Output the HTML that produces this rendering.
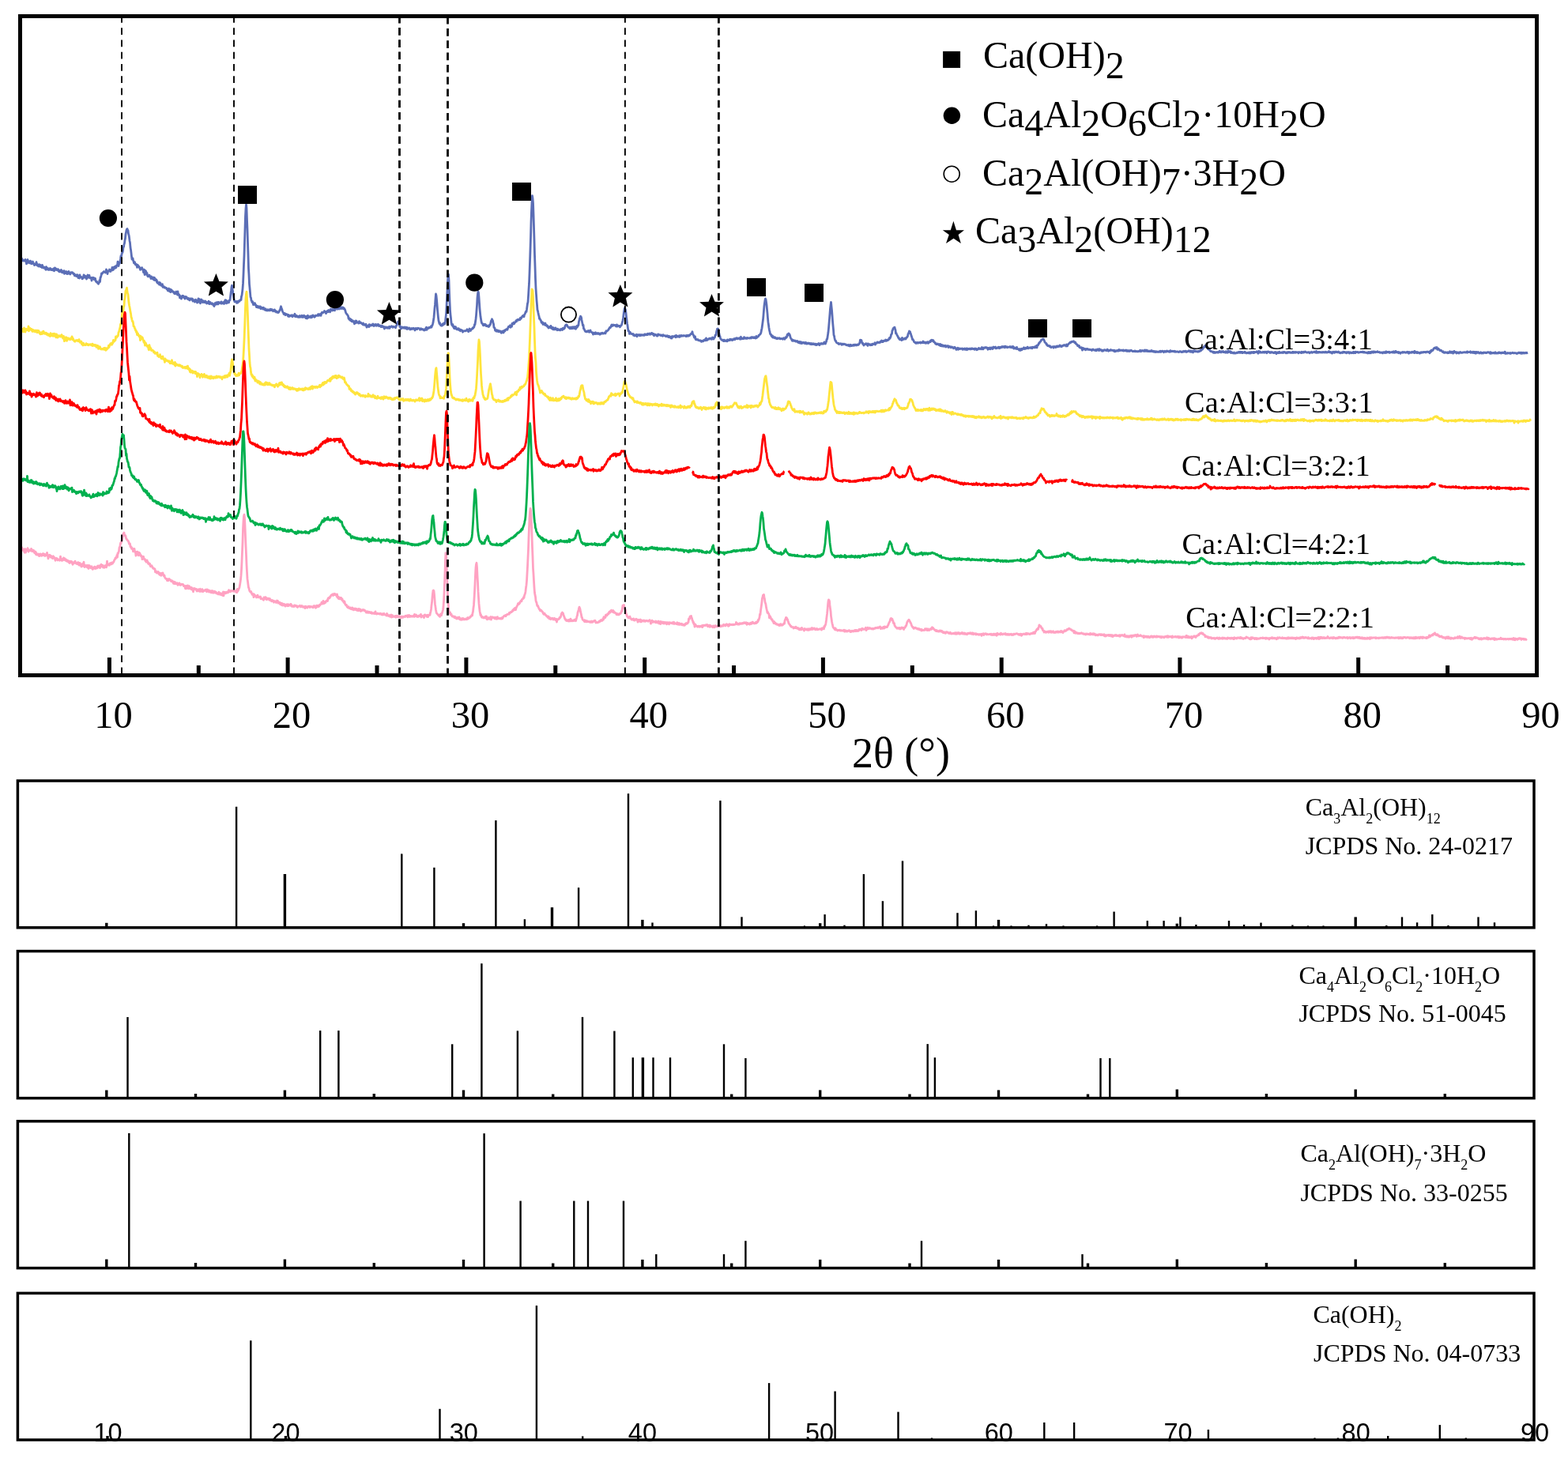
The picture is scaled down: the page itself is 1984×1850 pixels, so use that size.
<!DOCTYPE html>
<html><head><meta charset="utf-8"><title>XRD patterns</title>
<style>html,body{margin:0;padding:0;background:#fff;}svg{display:block;}</style>
</head><body>
<svg xmlns="http://www.w3.org/2000/svg" width="1984" height="1850" viewBox="0 0 1984 1850">
<rect width="1984" height="1850" fill="#fff"/>
<polyline points="26.0,325.5 26.5,326.2 27.0,326.4 27.5,327.9 28.0,327.7 28.5,328.5 29.0,329.8 29.5,330.2 30.0,330.1 30.5,329.4 31.0,329.4 31.5,329.6 32.0,328.4 32.5,331.0 33.0,330.2 33.5,333.9 34.0,332.0 34.5,329.5 35.0,328.5 35.5,332.3 36.0,330.7 36.5,330.6 37.0,331.1 37.5,332.8 38.0,332.0 38.5,330.1 39.0,331.9 39.5,333.7 40.0,333.8 40.5,333.6 41.0,332.7 41.5,331.0 42.0,333.5 42.5,333.2 43.0,333.7 43.5,335.6 44.0,334.1 44.5,334.4 45.0,334.9 45.5,334.1 46.0,331.7 46.5,333.9 47.0,335.9 47.5,335.8 48.0,334.9 48.5,337.0 49.0,336.1 49.5,334.6 50.0,337.1 50.5,336.5 51.0,335.3 51.5,337.7 52.0,336.9 52.5,337.1 53.0,338.5 53.5,335.5 54.0,336.8 54.5,338.1 55.0,339.1 55.5,338.3 56.0,338.1 56.5,338.3 57.0,339.5 57.5,340.6 58.0,341.3 58.5,337.7 59.0,339.9 59.5,339.9 60.0,339.3 60.5,341.1 61.0,341.4 61.5,340.0 62.0,340.3 62.5,341.4 63.0,340.4 63.5,339.4 64.0,341.0 64.5,340.1 65.0,341.6 65.5,340.7 66.0,341.0 66.5,341.8 67.0,341.0 67.5,340.3 68.0,339.8 68.5,342.8 69.0,342.0 69.5,339.0 70.0,339.5 70.5,341.3 71.0,340.0 71.5,340.7 72.0,341.7 72.5,341.0 73.0,340.8 73.5,340.6 74.0,343.0 74.5,342.0 75.0,343.8 75.5,343.3 76.0,342.2 76.5,343.7 77.0,343.1 77.5,341.5 78.0,343.3 78.5,344.7 79.0,343.0 79.5,344.8 80.0,343.5 80.5,343.9 81.0,342.6 81.5,346.3 82.0,344.5 82.5,345.2 83.0,343.7 83.5,345.5 84.0,345.8 84.5,343.8 85.0,346.7 85.5,344.8 86.0,344.6 86.5,344.5 87.0,343.5 87.5,346.4 88.0,345.6 88.5,345.8 89.0,347.0 89.5,345.0 90.0,344.7 90.5,345.0 91.0,344.6 91.5,344.6 92.0,345.4 92.5,346.0 93.0,346.8 93.5,346.2 94.0,347.7 94.5,348.9 95.0,348.1 95.5,349.0 96.0,347.7 96.5,349.2 97.0,349.6 97.5,348.5 98.0,347.7 98.5,349.3 99.0,351.7 99.5,351.4 100.0,349.6 100.5,352.1 101.0,347.9 101.5,350.4 102.0,350.3 102.5,350.6 103.0,350.5 103.5,351.0 104.0,352.9 104.5,350.9 105.0,352.3 105.5,350.8 106.0,347.9 106.5,348.2 107.0,350.8 107.5,351.3 108.0,349.4 108.5,350.0 109.0,349.7 109.5,353.0 110.0,349.7 110.5,350.0 111.0,348.0 111.5,349.3 112.0,351.3 112.5,349.8 113.0,348.4 113.5,351.2 114.0,351.7 114.5,352.0 115.0,352.3 115.5,351.4 116.0,355.1 116.5,351.7 117.0,352.9 117.5,351.3 118.0,352.2 118.5,351.5 119.0,353.6 119.5,353.2 120.0,352.9 120.5,352.3 121.0,355.5 121.5,356.2 122.0,356.7 122.5,356.2 123.0,357.5 123.5,358.1 124.0,358.0 124.5,359.2 125.0,357.7 125.5,357.6 126.0,354.6 126.5,356.6 127.0,351.5 127.5,350.5 128.0,348.9 128.5,345.8 129.0,345.8 129.5,346.2 130.0,345.0 130.5,344.5 131.0,344.2 131.5,343.6 132.0,344.0 132.5,344.4 133.0,344.4 133.5,345.0 134.0,343.7 134.5,340.9 135.0,344.3 135.5,343.6 136.0,346.6 136.5,343.0 137.0,343.2 137.5,342.9 138.0,343.1 138.5,341.0 139.0,341.8 139.5,341.9 140.0,343.5 140.5,341.3 141.0,341.7 141.5,340.7 142.0,338.4 142.5,341.8 143.0,341.0 143.5,341.3 144.0,338.2 144.5,339.7 145.0,339.4 145.5,337.1 146.0,339.2 146.5,337.7 147.0,338.6 147.5,335.8 148.0,336.3 148.5,336.0 149.0,331.1 149.5,335.7 150.0,336.5 150.5,334.0 151.0,333.6 151.5,333.1 152.0,330.4 152.5,327.5 153.0,323.8 153.5,324.6 154.0,321.9 154.5,319.9 155.0,319.5 155.5,317.4 156.0,312.7 156.5,312.6 157.0,309.3 157.5,307.9 158.0,303.8 158.5,301.8 159.0,296.5 159.5,293.9 160.0,291.2 160.5,290.0 161.0,289.5 161.5,292.2 162.0,291.4 162.5,295.6 163.0,297.3 163.5,300.3 164.0,304.7 164.5,307.0 165.0,313.0 165.5,315.9 166.0,319.9 166.5,324.3 167.0,328.1 167.5,327.2 168.0,326.7 168.5,329.5 169.0,330.8 169.5,332.9 170.0,332.1 170.5,331.7 171.0,334.3 171.5,334.9 172.0,333.9 172.5,334.9 173.0,335.4 173.5,338.3 174.0,335.1 174.5,335.7 175.0,336.6 175.5,337.9 176.0,337.3 176.5,338.7 177.0,339.6 177.5,341.3 178.0,339.4 178.5,339.6 179.0,340.0 179.5,338.6 180.0,339.6 180.5,341.4 181.0,341.6 181.5,344.5 182.0,343.3 182.5,341.1 183.0,347.5 183.5,342.1 184.0,342.7 184.5,343.0 185.0,344.2 185.5,347.4 186.0,345.3 186.5,348.7 187.0,349.7 187.5,348.6 188.0,348.8 188.5,349.9 189.0,348.2 189.5,349.0 190.0,350.1 190.5,350.8 191.0,352.5 191.5,349.9 192.0,352.2 192.5,351.5 193.0,352.6 193.5,351.5 194.0,350.9 194.5,354.0 195.0,353.4 195.5,351.3 196.0,354.5 196.5,353.1 197.0,354.5 197.5,355.0 198.0,354.0 198.5,357.0 199.0,355.7 199.5,358.4 200.0,357.6 200.5,358.0 201.0,358.1 201.5,360.2 202.0,357.5 202.5,358.1 203.0,358.6 203.5,360.9 204.0,361.2 204.5,360.6 205.0,361.2 205.5,359.7 206.0,363.3 206.5,362.0 207.0,362.7 207.5,362.7 208.0,364.0 208.5,363.4 209.0,364.1 209.5,364.4 210.0,364.2 210.5,364.4 211.0,365.8 211.5,366.1 212.0,366.8 212.5,367.9 213.0,365.5 213.5,365.1 214.0,366.8 214.5,368.7 215.0,367.6 215.5,366.0 216.0,369.6 216.5,368.7 217.0,366.9 217.5,367.8 218.0,368.9 218.5,368.5 219.0,369.1 219.5,370.0 220.0,369.8 220.5,371.4 221.0,370.0 221.5,371.9 222.0,370.1 222.5,369.8 223.0,369.1 223.5,370.6 224.0,371.8 224.5,373.0 225.0,369.0 225.5,372.6 226.0,372.0 226.5,374.0 227.0,373.2 227.5,376.9 228.0,376.1 228.5,374.8 229.0,374.8 229.5,378.0 230.0,375.8 230.5,375.5 231.0,374.3 231.5,375.7 232.0,374.5 232.5,376.4 233.0,376.8 233.5,376.4 234.0,378.1 234.5,375.3 235.0,376.9 235.5,376.7 236.0,375.7 236.5,377.4 237.0,378.0 237.5,378.5 238.0,377.5 238.5,378.4 239.0,377.4 239.5,379.6 240.0,380.0 240.5,378.6 241.0,378.8 241.5,377.8 242.0,378.9 242.5,378.7 243.0,379.4 243.5,378.0 244.0,381.1 244.5,379.8 245.0,380.8 245.5,380.4 246.0,379.8 246.5,382.1 247.0,381.5 247.5,379.2 248.0,380.8 248.5,380.7 249.0,380.3 249.5,383.1 250.0,380.0 250.5,382.5 251.0,377.8 251.5,382.2 252.0,380.3 252.5,378.6 253.0,380.8 253.5,383.8 254.0,379.6 254.5,381.4 255.0,379.0 255.5,381.7 256.0,381.4 256.5,382.6 257.0,380.8 257.5,382.2 258.0,381.0 258.5,382.5 259.0,382.1 259.5,382.8 260.0,381.0 260.5,382.8 261.0,382.9 261.5,384.0 262.0,382.5 262.5,382.8 263.0,383.7 263.5,383.8 264.0,381.2 264.5,383.4 265.0,384.6 265.5,383.7 266.0,382.5 266.5,384.0 267.0,384.4 267.5,383.6 268.0,384.7 268.5,383.7 269.0,384.5 269.5,384.8 270.0,386.4 270.5,385.1 271.0,387.6 271.5,384.9 272.0,383.6 272.5,383.5 273.0,385.2 273.5,382.9 274.0,382.7 274.5,384.8 275.0,383.1 275.5,382.6 276.0,384.9 276.5,382.4 277.0,383.6 277.5,382.9 278.0,382.9 278.5,382.8 279.0,383.6 279.5,384.1 280.0,381.9 280.5,384.2 281.0,382.8 281.5,382.9 282.0,383.7 282.5,382.7 283.0,382.3 283.5,384.5 284.0,382.5 284.5,381.0 285.0,379.8 285.5,383.0 286.0,379.8 286.5,383.9 287.0,381.2 287.5,381.0 288.0,382.0 288.5,383.0 289.0,382.9 289.5,382.9 290.0,380.2 290.5,380.1 291.0,379.8 291.5,375.7 292.0,371.5 292.5,367.7 293.0,363.0 293.5,361.1 294.0,364.9 294.5,368.0 295.0,372.2 295.5,375.6 296.0,378.4 296.5,380.7 297.0,381.8 297.5,381.1 298.0,381.5 298.5,382.0 299.0,381.5 299.5,383.4 300.0,381.5 300.5,382.4 301.0,383.0 301.5,381.0 302.0,380.8 302.5,381.0 303.0,381.2 303.5,380.3 304.0,379.5 304.5,379.7 305.0,379.5 305.5,375.0 306.0,373.8 306.5,369.8 307.0,365.6 307.5,358.9 308.0,347.6 308.5,334.9 309.0,323.4 309.5,306.7 310.0,290.2 310.5,273.5 311.0,264.0 311.5,258.6 312.0,263.7 312.5,278.3 313.0,290.2 313.5,306.9 314.0,322.4 314.5,340.0 315.0,347.9 315.5,359.3 316.0,364.3 316.5,370.2 317.0,376.0 317.5,376.7 318.0,380.3 318.5,380.5 319.0,382.7 319.5,381.6 320.0,382.6 320.5,385.6 321.0,385.1 321.5,384.3 322.0,385.2 322.5,383.6 323.0,386.1 323.5,385.6 324.0,386.2 324.5,388.7 325.0,387.2 325.5,387.5 326.0,387.4 326.5,389.2 327.0,389.3 327.5,388.3 328.0,387.8 328.5,389.2 329.0,389.6 329.5,387.9 330.0,390.7 330.5,389.0 331.0,389.9 331.5,389.2 332.0,389.4 332.5,391.0 333.0,390.4 333.5,389.3 334.0,391.1 334.5,391.7 335.0,391.1 335.5,392.3 336.0,390.8 336.5,392.5 337.0,392.0 337.5,392.0 338.0,393.0 338.5,392.5 339.0,391.6 339.5,392.2 340.0,392.8 340.5,392.2 341.0,392.9 341.5,392.8 342.0,391.2 342.5,391.7 343.0,392.5 343.5,392.5 344.0,391.5 344.5,392.4 345.0,392.6 345.5,393.7 346.0,392.8 346.5,392.7 347.0,392.0 347.5,392.0 348.0,394.2 348.5,393.7 349.0,393.5 349.5,395.0 350.0,394.8 350.5,394.5 351.0,395.4 351.5,394.6 352.0,395.6 352.5,395.3 353.0,394.3 353.5,393.7 354.0,392.3 354.5,392.1 355.0,389.6 355.5,387.8 356.0,389.5 356.5,390.8 357.0,392.3 357.5,394.2 358.0,395.0 358.5,395.7 359.0,397.5 359.5,396.3 360.0,396.3 360.5,396.7 361.0,398.7 361.5,397.3 362.0,398.1 362.5,397.8 363.0,397.6 363.5,398.4 364.0,398.5 364.5,400.2 365.0,398.4 365.5,399.0 366.0,400.5 366.5,400.1 367.0,399.5 367.5,399.8 368.0,399.1 368.5,399.9 369.0,399.5 369.5,398.7 370.0,400.8 370.5,399.5 371.0,400.0 371.5,399.2 372.0,398.8 372.5,398.4 373.0,397.3 373.5,400.6 374.0,398.9 374.5,400.0 375.0,400.6 375.5,399.5 376.0,400.4 376.5,401.1 377.0,400.6 377.5,401.3 378.0,400.2 378.5,401.2 379.0,401.3 379.5,399.5 380.0,401.1 380.5,400.1 381.0,400.2 381.5,400.9 382.0,399.3 382.5,401.2 383.0,400.1 383.5,401.4 384.0,400.8 384.5,399.2 385.0,400.4 385.5,401.1 386.0,400.2 386.5,400.6 387.0,402.6 387.5,401.1 388.0,400.3 388.5,403.0 389.0,400.4 389.5,399.3 390.0,402.0 390.5,400.8 391.0,401.5 391.5,401.1 392.0,400.4 392.5,400.6 393.0,400.1 393.5,402.0 394.0,401.3 394.5,399.6 395.0,401.3 395.5,400.8 396.0,398.9 396.5,399.4 397.0,400.2 397.5,400.0 398.0,401.3 398.5,399.6 399.0,400.3 399.5,399.1 400.0,399.3 400.5,399.4 401.0,399.3 401.5,399.4 402.0,399.2 402.5,397.7 403.0,399.4 403.5,397.8 404.0,399.1 404.5,398.7 405.0,398.5 405.5,397.1 406.0,399.4 406.5,397.6 407.0,396.3 407.5,395.2 408.0,395.2 408.5,395.9 409.0,395.6 409.5,395.1 410.0,394.8 410.5,393.5 411.0,394.7 411.5,394.5 412.0,394.5 412.5,396.6 413.0,394.6 413.5,394.1 414.0,394.2 414.5,393.2 415.0,394.7 415.5,394.4 416.0,392.5 416.5,393.8 417.0,393.4 417.5,394.9 418.0,393.6 418.5,391.1 419.0,391.8 419.5,392.8 420.0,392.4 420.5,392.9 421.0,391.5 421.5,391.7 422.0,392.6 422.5,391.7 423.0,391.0 423.5,392.9 424.0,390.6 424.5,390.7 425.0,389.6 425.5,390.5 426.0,388.6 426.5,391.3 427.0,387.9 427.5,390.6 428.0,389.0 428.5,390.1 429.0,391.0 429.5,389.7 430.0,390.1 430.5,389.1 431.0,389.3 431.5,390.6 432.0,388.8 432.5,390.2 433.0,389.6 433.5,389.1 434.0,390.5 434.5,389.3 435.0,390.9 435.5,390.1 436.0,391.7 436.5,391.7 437.0,393.8 437.5,395.3 438.0,396.4 438.5,396.9 439.0,397.7 439.5,398.2 440.0,399.2 440.5,399.7 441.0,403.0 441.5,402.1 442.0,404.4 442.5,403.6 443.0,403.4 443.5,405.7 444.0,404.4 444.5,404.4 445.0,406.8 445.5,406.6 446.0,406.4 446.5,405.8 447.0,407.4 447.5,406.5 448.0,406.9 448.5,409.8 449.0,407.2 449.5,406.9 450.0,405.9 450.5,408.6 451.0,406.2 451.5,407.5 452.0,407.6 452.5,408.0 453.0,408.2 453.5,409.0 454.0,408.4 454.5,406.6 455.0,408.8 455.5,407.9 456.0,408.6 456.5,408.0 457.0,408.9 457.5,409.0 458.0,409.9 458.5,409.9 459.0,410.5 459.5,408.9 460.0,411.2 460.5,410.0 461.0,410.9 461.5,411.3 462.0,411.5 462.5,411.0 463.0,410.2 463.5,412.0 464.0,414.2 464.5,413.6 465.0,412.5 465.5,412.8 466.0,412.3 466.5,411.3 467.0,413.6 467.5,410.6 468.0,411.3 468.5,411.4 469.0,412.1 469.5,411.1 470.0,411.2 470.5,411.0 471.0,411.8 471.5,410.3 472.0,409.9 472.5,410.5 473.0,412.5 473.5,412.2 474.0,411.9 474.5,411.2 475.0,410.5 475.5,411.9 476.0,410.7 476.5,412.2 477.0,411.7 477.5,410.6 478.0,411.8 478.5,410.4 479.0,411.3 479.5,412.6 480.0,411.6 480.5,412.0 481.0,411.9 481.5,412.2 482.0,413.5 482.5,413.3 483.0,413.5 483.5,412.2 484.0,413.3 484.5,413.1 485.0,413.9 485.5,413.1 486.0,414.7 486.5,416.0 487.0,414.2 487.5,413.8 488.0,414.8 488.5,414.3 489.0,414.0 489.5,415.0 490.0,414.1 490.5,414.3 491.0,415.2 491.5,414.3 492.0,414.5 492.5,413.3 493.0,415.4 493.5,413.5 494.0,414.0 494.5,413.6 495.0,413.5 495.5,412.6 496.0,413.3 496.5,413.5 497.0,414.4 497.5,413.6 498.0,413.2 498.5,413.7 499.0,413.7 499.5,413.6 500.0,413.8 500.5,414.7 501.0,413.3 501.5,411.9 502.0,411.4 502.5,410.1 503.0,408.1 503.5,407.2 504.0,407.4 504.5,406.5 505.0,409.0 505.5,411.4 506.0,413.6 506.5,412.8 507.0,415.3 507.5,415.9 508.0,415.8 508.5,415.1 509.0,413.9 509.5,414.4 510.0,414.2 510.5,414.7 511.0,415.2 511.5,414.9 512.0,413.9 512.5,415.3 513.0,415.5 513.5,414.1 514.0,414.2 514.5,414.7 515.0,416.5 515.5,414.5 516.0,416.1 516.5,415.5 517.0,416.0 517.5,415.0 518.0,414.9 518.5,415.8 519.0,417.0 519.5,416.2 520.0,416.6 520.5,415.5 521.0,415.4 521.5,415.9 522.0,416.4 522.5,416.1 523.0,415.3 523.5,416.1 524.0,416.3 524.5,416.0 525.0,418.0 525.5,415.7 526.0,415.4 526.5,416.5 527.0,415.7 527.5,415.9 528.0,416.6 528.5,415.2 529.0,415.5 529.5,415.4 530.0,415.5 530.5,415.6 531.0,415.9 531.5,417.2 532.0,416.3 532.5,415.8 533.0,416.6 533.5,416.3 534.0,417.0 534.5,416.9 535.0,416.5 535.5,416.9 536.0,417.5 536.5,418.0 537.0,416.9 537.5,417.8 538.0,417.5 538.5,415.7 539.0,416.2 539.5,414.1 540.0,417.4 540.5,415.8 541.0,415.1 541.5,415.5 542.0,414.9 542.5,415.2 543.0,414.3 543.5,414.7 544.0,414.2 544.5,414.0 545.0,414.2 545.5,412.7 546.0,414.1 546.5,412.3 547.0,411.8 547.5,410.2 548.0,408.2 548.5,404.9 549.0,401.7 549.5,395.9 550.0,389.9 550.5,385.4 551.0,378.2 551.5,372.0 552.0,374.1 552.5,378.9 553.0,384.9 553.5,391.8 554.0,397.0 554.5,401.8 555.0,405.9 555.5,407.7 556.0,409.6 556.5,408.6 557.0,410.2 557.5,411.6 558.0,411.1 558.5,412.1 559.0,411.0 559.5,412.0 560.0,409.8 560.5,410.5 561.0,411.0 561.5,409.7 562.0,408.6 562.5,409.9 563.0,409.4 563.5,406.4 564.0,401.8 564.5,397.5 565.0,388.6 565.5,377.5 566.0,367.3 566.5,355.3 567.0,347.5 567.5,347.3 568.0,355.1 568.5,370.0 569.0,381.7 569.5,392.6 570.0,398.1 570.5,402.5 571.0,408.1 571.5,410.6 572.0,411.5 572.5,412.2 573.0,410.7 573.5,413.5 574.0,413.1 574.5,415.5 575.0,415.5 575.5,413.5 576.0,415.9 576.5,413.7 577.0,415.7 577.5,415.4 578.0,416.9 578.5,416.0 579.0,415.9 579.5,417.0 580.0,415.7 580.5,415.8 581.0,417.5 581.5,417.1 582.0,417.0 582.5,418.8 583.0,417.3 583.5,417.4 584.0,418.1 584.5,418.2 585.0,418.2 585.5,420.2 586.0,419.6 586.5,419.1 587.0,419.0 587.5,418.6 588.0,418.9 588.5,418.6 589.0,418.7 589.5,418.8 590.0,418.0 590.5,417.9 591.0,416.7 591.5,417.5 592.0,418.3 592.5,419.6 593.0,419.6 593.5,417.9 594.0,416.0 594.5,418.1 595.0,418.0 595.5,418.5 596.0,416.7 596.5,416.8 597.0,416.4 597.5,416.2 598.0,414.9 598.5,415.6 599.0,414.3 599.5,414.2 600.0,413.3 600.5,410.6 601.0,410.8 601.5,407.3 602.0,404.0 602.5,399.3 603.0,392.8 603.5,386.3 604.0,376.6 604.5,371.6 605.0,368.9 605.5,370.3 606.0,376.2 606.5,383.4 607.0,390.6 607.5,396.0 608.0,400.6 608.5,403.5 609.0,406.7 609.5,408.7 610.0,409.2 610.5,409.3 611.0,410.9 611.5,411.8 612.0,410.4 612.5,411.6 613.0,411.2 613.5,410.2 614.0,411.2 614.5,410.8 615.0,412.4 615.5,412.6 616.0,412.3 616.5,412.0 617.0,412.8 617.5,412.8 618.0,413.5 618.5,413.4 619.0,412.9 619.5,410.9 620.0,411.4 620.5,410.4 621.0,407.8 621.5,405.8 622.0,405.7 622.5,403.8 623.0,405.0 623.5,405.7 624.0,408.5 624.5,410.0 625.0,414.5 625.5,414.6 626.0,415.0 626.5,418.0 627.0,417.5 627.5,418.8 628.0,419.2 628.5,417.7 629.0,419.0 629.5,419.2 630.0,418.2 630.5,418.3 631.0,419.8 631.5,419.3 632.0,418.6 632.5,418.9 633.0,419.6 633.5,419.3 634.0,421.1 634.5,421.4 635.0,420.5 635.5,419.6 636.0,419.0 636.5,419.2 637.0,421.0 637.5,420.1 638.0,418.2 638.5,418.2 639.0,418.8 639.5,417.4 640.0,417.0 640.5,417.2 641.0,417.0 641.5,416.1 642.0,417.2 642.5,415.3 643.0,414.6 643.5,413.1 644.0,413.2 644.5,413.5 645.0,413.0 645.5,411.7 646.0,414.3 646.5,412.2 647.0,411.7 647.5,413.2 648.0,409.3 648.5,410.5 649.0,409.8 649.5,408.6 650.0,408.0 650.5,409.9 651.0,408.3 651.5,408.2 652.0,407.4 652.5,406.7 653.0,405.8 653.5,406.9 654.0,405.2 654.5,404.7 655.0,404.3 655.5,405.2 656.0,405.1 656.5,404.9 657.0,404.0 657.5,403.7 658.0,404.6 658.5,402.1 659.0,403.5 659.5,402.7 660.0,401.8 660.5,401.1 661.0,400.1 661.5,399.6 662.0,399.4 662.5,399.4 663.0,400.8 663.5,398.0 664.0,397.6 664.5,396.6 665.0,394.9 665.5,394.1 666.0,394.6 666.5,391.5 667.0,387.8 667.5,384.0 668.0,382.3 668.5,375.0 669.0,366.5 669.5,358.7 670.0,346.0 670.5,331.7 671.0,316.4 671.5,300.8 672.0,281.3 672.5,267.3 673.0,256.5 673.5,247.6 674.0,250.8 674.5,256.8 675.0,270.7 675.5,286.7 676.0,303.6 676.5,322.4 677.0,336.9 677.5,353.3 678.0,364.7 678.5,372.5 679.0,380.0 679.5,385.7 680.0,392.2 680.5,393.4 681.0,396.1 681.5,398.3 682.0,400.0 682.5,403.2 683.0,403.0 683.5,404.4 684.0,405.0 684.5,405.8 685.0,408.0 685.5,408.5 686.0,408.1 686.5,407.8 687.0,410.5 687.5,409.3 688.0,409.0 688.5,409.4 689.0,410.4 689.5,411.2 690.0,409.0 690.5,411.6 691.0,411.6 691.5,412.3 692.0,411.6 692.5,413.2 693.0,412.4 693.5,413.9 694.0,415.0 694.5,413.8 695.0,414.1 695.5,414.3 696.0,413.1 696.5,414.9 697.0,412.4 697.5,413.2 698.0,415.2 698.5,415.9 699.0,415.0 699.5,414.6 700.0,416.9 700.5,414.9 701.0,416.9 701.5,416.1 702.0,415.6 702.5,416.7 703.0,414.9 703.5,416.2 704.0,416.7 704.5,416.8 705.0,417.8 705.5,416.2 706.0,417.3 706.5,416.8 707.0,417.5 707.5,417.3 708.0,417.8 708.5,416.9 709.0,417.9 709.5,416.9 710.0,416.3 710.5,416.7 711.0,416.7 711.5,417.5 712.0,415.5 712.5,416.2 713.0,415.1 713.5,416.3 714.0,415.8 714.5,415.0 715.0,412.6 715.5,411.7 716.0,411.2 716.5,410.8 717.0,411.3 717.5,411.4 718.0,412.9 718.5,413.4 719.0,413.9 719.5,414.4 720.0,414.0 720.5,415.4 721.0,415.7 721.5,415.1 722.0,414.3 722.5,415.7 723.0,414.0 723.5,415.5 724.0,415.4 724.5,415.6 725.0,413.6 725.5,415.1 726.0,414.5 726.5,415.5 727.0,415.1 727.5,413.5 728.0,415.4 728.5,416.2 729.0,415.1 729.5,415.1 730.0,412.5 730.5,413.8 731.0,412.0 731.5,412.2 732.0,410.9 732.5,406.7 733.0,405.3 733.5,402.4 734.0,402.1 734.5,400.1 735.0,400.9 735.5,401.6 736.0,404.8 736.5,407.2 737.0,409.5 737.5,412.0 738.0,411.1 738.5,415.9 739.0,415.9 739.5,417.2 740.0,418.3 740.5,419.2 741.0,419.6 741.5,419.4 742.0,419.5 742.5,419.9 743.0,418.9 743.5,419.5 744.0,419.0 744.5,418.4 745.0,418.8 745.5,420.4 746.0,419.3 746.5,418.7 747.0,417.9 747.5,419.7 748.0,420.0 748.5,420.2 749.0,420.8 749.5,420.9 750.0,420.8 750.5,423.2 751.0,421.1 751.5,421.4 752.0,421.7 752.5,421.3 753.0,422.6 753.5,420.8 754.0,421.1 754.5,421.4 755.0,422.5 755.5,422.4 756.0,422.0 756.5,421.4 757.0,422.3 757.5,422.0 758.0,421.9 758.5,423.0 759.0,423.2 759.5,422.4 760.0,421.8 760.5,422.4 761.0,421.7 761.5,421.4 762.0,421.2 762.5,422.2 763.0,422.2 763.5,421.9 764.0,421.9 764.5,421.8 765.0,421.1 765.5,421.6 766.0,422.0 766.5,420.3 767.0,418.8 767.5,419.3 768.0,418.9 768.5,418.6 769.0,418.3 769.5,417.6 770.0,417.2 770.5,415.9 771.0,415.6 771.5,414.4 772.0,414.0 772.5,414.4 773.0,413.2 773.5,411.8 774.0,411.0 774.5,412.6 775.0,411.5 775.5,411.2 776.0,410.9 776.5,411.7 777.0,411.4 777.5,411.3 778.0,411.4 778.5,411.6 779.0,412.5 779.5,412.1 780.0,413.1 780.5,410.9 781.0,411.8 781.5,413.0 782.0,411.9 782.5,412.3 783.0,412.2 783.5,412.6 784.0,412.7 784.5,413.8 785.0,412.9 785.5,412.1 786.0,411.9 786.5,411.1 787.0,409.5 787.5,407.3 788.0,405.6 788.5,402.7 789.0,398.1 789.5,394.7 790.0,391.7 790.5,389.7 791.0,390.9 791.5,391.9 792.0,395.6 792.5,401.1 793.0,404.6 793.5,409.2 794.0,411.4 794.5,415.6 795.0,418.7 795.5,418.4 796.0,419.5 796.5,422.4 797.0,421.7 797.5,420.5 798.0,421.7 798.5,422.2 799.0,422.4 799.5,422.7 800.0,422.7 800.5,422.8 801.0,422.4 801.5,424.3 802.0,423.5 802.5,424.3 803.0,424.9 803.5,424.0 804.0,423.9 804.5,424.5 805.0,424.2 805.5,423.3 806.0,425.9 806.5,424.5 807.0,423.9 807.5,423.5 808.0,423.9 808.5,424.3 809.0,423.8 809.5,424.8 810.0,423.5 810.5,424.5 811.0,424.5 811.5,423.7 812.0,423.6 812.5,423.7 813.0,424.2 813.5,423.9 814.0,423.7 814.5,424.0 815.0,424.4 815.5,423.2 816.0,422.8 816.5,423.3 817.0,423.2 817.5,423.9 818.0,423.6 818.5,423.0 819.0,422.4 819.5,423.6 820.0,422.3 820.5,422.9 821.0,422.9 821.5,423.0 822.0,422.0 822.5,423.4 823.0,423.1 823.5,422.3 824.0,422.4 824.5,421.4 825.0,421.6 825.5,423.1 826.0,422.3 826.5,423.0 827.0,422.4 827.5,424.8 828.0,423.0 828.5,423.5 829.0,423.8 829.5,423.3 830.0,423.8 830.5,424.2 831.0,424.9 831.5,424.3 832.0,425.1 832.5,423.0 833.0,423.3 833.5,423.2 834.0,423.9 834.5,423.7 835.0,423.8 835.5,424.2 836.0,424.5 836.5,423.8 837.0,424.5 837.5,424.5 838.0,424.5 838.5,425.4 839.0,423.7 839.5,424.5 840.0,424.6 840.5,424.7 841.0,424.8 841.5,424.7 842.0,424.9 842.5,425.7 843.0,425.8 843.5,424.9 844.0,424.7 844.5,425.6 845.0,425.1 845.5,426.4 846.0,426.6 846.5,425.4 847.0,426.9 847.5,426.6 848.0,426.0 848.5,427.2 849.0,427.8 849.5,426.3 850.0,428.1 850.5,425.5 851.0,426.3 851.5,425.7 852.0,426.2 852.5,425.7 853.0,425.9 853.5,425.4 854.0,424.9 854.5,426.0 855.0,426.9 855.5,424.4 856.0,426.1 856.5,425.3 857.0,425.1 857.5,426.1 858.0,425.8 858.5,426.0 859.0,426.0 859.5,424.6 860.0,426.5 860.5,425.0 861.0,425.0 861.5,425.3 862.0,424.4 862.5,425.2 863.0,425.0 863.5,425.0 864.0,424.7 864.5,425.1 865.0,424.7 865.5,424.6 866.0,424.8 866.5,425.0 867.0,425.1 867.5,424.9 868.0,425.5 868.5,424.4 869.0,425.5 869.5,424.4 870.0,424.5 870.5,424.5 871.0,425.3 871.5,424.5 872.0,424.0 872.5,424.7 873.0,423.6 873.5,423.4 874.0,422.8 874.5,422.1 875.0,422.1 875.5,421.1 876.0,419.8 876.5,423.0 877.0,423.2 877.5,424.1 878.0,425.6 878.5,427.1 879.0,426.6 879.5,425.7 880.0,429.0 880.5,429.8 881.0,429.1 881.5,429.9 882.0,429.8 882.5,430.0 883.0,429.6 883.5,430.5 884.0,430.3 884.5,430.7 885.0,431.0 885.5,431.2 886.0,430.7 886.5,431.0 887.0,431.7 887.5,432.3 888.0,431.4 888.5,431.8 889.0,431.8 889.5,431.1 890.0,431.7 890.5,430.8 891.0,430.3 891.5,430.6 892.0,429.7 892.5,430.1 893.0,430.9 893.5,428.0 894.0,430.3 894.5,429.7 895.0,430.4 895.5,429.3 896.0,429.2 896.5,429.0 897.0,428.4 897.5,429.1 898.0,428.2 898.5,428.1 899.0,428.3 899.5,428.2 900.0,429.2 900.5,428.1 901.0,429.1 901.5,427.0 902.0,428.6 902.5,428.1 903.0,429.0 903.5,427.1 904.0,427.3 904.5,426.7 905.0,424.2 905.5,424.1 906.0,423.9 906.5,420.2 907.0,418.5 907.5,416.2 908.0,416.5 908.5,416.0 909.0,417.8 909.5,421.2 910.0,422.4 910.5,425.2 911.0,425.6 911.5,428.3 912.0,428.6 912.5,429.5 913.0,429.9 913.5,430.3 914.0,430.2 914.5,430.3 915.0,431.2 915.5,431.5 916.0,430.1 916.5,431.5 917.0,430.7 917.5,430.6 918.0,431.5 918.5,431.0 919.0,430.9 919.5,431.2 920.0,431.8 920.5,429.9 921.0,431.3 921.5,430.8 922.0,430.7 922.5,430.7 923.0,429.6 923.5,430.5 924.0,429.2 924.5,430.0 925.0,429.4 925.5,429.5 926.0,430.2 926.5,430.6 927.0,429.5 927.5,429.8 928.0,429.9 928.5,429.3 929.0,428.5 929.5,429.0 930.0,429.7 930.5,428.3 931.0,428.3 931.5,427.8 932.0,428.5 932.5,427.8 933.0,428.8 933.5,428.8 934.0,428.0 934.5,428.1 935.0,428.3 935.5,427.7 936.0,428.0 936.5,429.3 937.0,428.3 937.5,426.3 938.0,428.9 938.5,428.1 939.0,427.9 939.5,428.7 940.0,428.6 940.5,428.4 941.0,428.5 941.5,426.7 942.0,428.2 942.5,427.3 943.0,427.6 943.5,428.3 944.0,428.3 944.5,427.9 945.0,427.4 945.5,428.3 946.0,427.5 946.5,427.8 947.0,427.8 947.5,427.9 948.0,428.0 948.5,428.0 949.0,427.8 949.5,427.2 950.0,427.6 950.5,428.1 951.0,426.6 951.5,427.1 952.0,426.7 952.5,426.8 953.0,427.6 953.5,426.9 954.0,426.6 954.5,427.6 955.0,427.2 955.5,427.3 956.0,428.1 956.5,426.4 957.0,425.4 957.5,427.5 958.0,426.1 958.5,426.0 959.0,426.2 959.5,425.8 960.0,424.4 960.5,424.2 961.0,423.7 961.5,423.2 962.0,422.8 962.5,422.0 963.0,420.5 963.5,417.6 964.0,415.5 964.5,411.9 965.0,408.1 965.5,404.3 966.0,398.8 966.5,392.6 967.0,386.7 967.5,383.3 968.0,379.7 968.5,377.9 969.0,378.7 969.5,382.3 970.0,385.9 970.5,391.7 971.0,396.6 971.5,402.8 972.0,408.0 972.5,411.3 973.0,415.0 973.5,417.8 974.0,419.8 974.5,422.5 975.0,423.0 975.5,423.1 976.0,425.2 976.5,424.9 977.0,426.2 977.5,424.9 978.0,427.1 978.5,426.1 979.0,426.7 979.5,427.3 980.0,427.6 980.5,426.8 981.0,428.0 981.5,428.2 982.0,427.8 982.5,428.0 983.0,428.7 983.5,427.8 984.0,428.5 984.5,428.3 985.0,428.2 985.5,427.9 986.0,427.7 986.5,428.7 987.0,428.8 987.5,428.9 988.0,428.4 988.5,428.6 989.0,428.6 989.5,428.7 990.0,428.4 990.5,429.2 991.0,428.2 991.5,427.7 992.0,428.3 992.5,428.1 993.0,429.2 993.5,427.5 994.0,426.8 994.5,427.5 995.0,427.1 995.5,426.4 996.0,423.9 996.5,422.9 997.0,424.2 997.5,422.3 998.0,421.9 998.5,423.7 999.0,423.1 999.5,424.4 1000.0,426.4 1000.5,427.9 1001.0,428.4 1001.5,429.4 1002.0,430.4 1002.5,431.2 1003.0,430.1 1003.5,430.4 1004.0,431.2 1004.5,430.9 1005.0,430.9 1005.5,431.3 1006.0,431.0 1006.5,431.7 1007.0,432.2 1007.5,431.8 1008.0,431.7 1008.5,431.4 1009.0,431.7 1009.5,433.2 1010.0,433.3 1010.5,433.6 1011.0,432.5 1011.5,432.9 1012.0,434.0 1012.5,432.5 1013.0,434.3 1013.5,433.0 1014.0,432.9 1014.5,434.6 1015.0,433.2 1015.5,433.8 1016.0,434.1 1016.5,433.7 1017.0,433.3 1017.5,433.6 1018.0,434.3 1018.5,434.8 1019.0,434.4 1019.5,433.3 1020.0,434.5 1020.5,434.0 1021.0,435.1 1021.5,434.9 1022.0,434.2 1022.5,434.0 1023.0,434.3 1023.5,434.7 1024.0,435.0 1024.5,434.3 1025.0,434.7 1025.5,435.5 1026.0,435.5 1026.5,434.5 1027.0,435.8 1027.5,435.6 1028.0,435.2 1028.5,435.6 1029.0,434.8 1029.5,435.4 1030.0,435.6 1030.5,435.8 1031.0,435.1 1031.5,436.2 1032.0,435.7 1032.5,435.2 1033.0,436.6 1033.5,436.4 1034.0,435.7 1034.5,435.3 1035.0,435.8 1035.5,434.9 1036.0,434.4 1036.5,436.3 1037.0,436.7 1037.5,435.6 1038.0,435.3 1038.5,434.7 1039.0,434.4 1039.5,434.5 1040.0,435.3 1040.5,434.8 1041.0,434.7 1041.5,435.0 1042.0,434.3 1042.5,434.9 1043.0,432.8 1043.5,433.9 1044.0,434.1 1044.5,435.0 1045.0,433.0 1045.5,432.4 1046.0,429.5 1046.5,429.5 1047.0,427.1 1047.5,423.6 1048.0,420.3 1048.5,415.4 1049.0,409.4 1049.5,403.4 1050.0,397.1 1050.5,390.7 1051.0,386.5 1051.5,382.5 1052.0,387.6 1052.5,392.4 1053.0,398.9 1053.5,406.1 1054.0,411.9 1054.5,416.8 1055.0,424.0 1055.5,425.1 1056.0,428.0 1056.5,429.9 1057.0,431.4 1057.5,431.1 1058.0,432.6 1058.5,433.5 1059.0,433.9 1059.5,434.0 1060.0,434.4 1060.5,434.7 1061.0,434.2 1061.5,435.6 1062.0,434.9 1062.5,435.2 1063.0,435.2 1063.5,434.7 1064.0,434.8 1064.5,435.5 1065.0,436.4 1065.5,435.1 1066.0,435.8 1066.5,435.2 1067.0,435.8 1067.5,435.3 1068.0,435.2 1068.5,435.3 1069.0,435.6 1069.5,436.1 1070.0,436.0 1070.5,435.9 1071.0,436.7 1071.5,436.8 1072.0,436.6 1072.5,437.0 1073.0,436.7 1073.5,436.2 1074.0,437.5 1074.5,436.8 1075.0,436.8 1075.5,438.0 1076.0,436.3 1076.5,436.6 1077.0,436.7 1077.5,437.6 1078.0,437.4 1078.5,437.4 1079.0,436.6 1079.5,436.6 1080.0,436.3 1080.5,437.2 1081.0,436.3 1081.5,436.4 1082.0,435.9 1082.5,436.9 1083.0,436.5 1083.5,436.3 1084.0,436.9 1084.5,436.2 1085.0,435.8 1085.5,435.9 1086.0,436.4 1086.5,435.9 1087.0,435.3 1087.5,434.6 1088.0,432.5 1088.5,430.1 1089.0,430.4 1089.5,430.3 1090.0,430.6 1090.5,433.3 1091.0,434.5 1091.5,433.9 1092.0,435.4 1092.5,436.0 1093.0,437.0 1093.5,435.6 1094.0,435.9 1094.5,435.3 1095.0,435.4 1095.5,434.7 1096.0,435.7 1096.5,436.0 1097.0,435.0 1097.5,436.3 1098.0,437.4 1098.5,434.8 1099.0,435.9 1099.5,435.5 1100.0,435.7 1100.5,435.7 1101.0,436.7 1101.5,436.0 1102.0,435.9 1102.5,436.5 1103.0,435.6 1103.5,436.5 1104.0,435.1 1104.5,435.1 1105.0,435.5 1105.5,435.2 1106.0,435.1 1106.5,434.8 1107.0,433.8 1107.5,436.2 1108.0,434.3 1108.5,434.5 1109.0,434.0 1109.5,434.1 1110.0,432.9 1110.5,433.2 1111.0,433.1 1111.5,433.2 1112.0,433.6 1112.5,433.2 1113.0,433.5 1113.5,433.4 1114.0,432.3 1114.5,432.9 1115.0,432.5 1115.5,431.0 1116.0,431.8 1116.5,432.6 1117.0,432.7 1117.5,431.4 1118.0,431.1 1118.5,431.6 1119.0,431.3 1119.5,431.0 1120.0,431.2 1120.5,430.0 1121.0,431.2 1121.5,431.4 1122.0,430.6 1122.5,430.1 1123.0,430.5 1123.5,430.5 1124.0,429.7 1124.5,429.8 1125.0,428.5 1125.5,427.4 1126.0,428.3 1126.5,427.2 1127.0,426.2 1127.5,423.5 1128.0,423.0 1128.5,422.1 1129.0,418.1 1129.5,417.8 1130.0,415.7 1130.5,415.7 1131.0,414.7 1131.5,415.3 1132.0,414.1 1132.5,416.3 1133.0,417.5 1133.5,421.9 1134.0,421.4 1134.5,422.8 1135.0,424.0 1135.5,424.8 1136.0,425.7 1136.5,426.8 1137.0,427.9 1137.5,427.6 1138.0,429.3 1138.5,428.9 1139.0,429.9 1139.5,429.6 1140.0,429.2 1140.5,428.6 1141.0,430.6 1141.5,427.5 1142.0,429.3 1142.5,429.7 1143.0,429.5 1143.5,428.7 1144.0,429.1 1144.5,428.9 1145.0,428.0 1145.5,428.8 1146.0,429.1 1146.5,428.0 1147.0,427.0 1147.5,427.0 1148.0,426.1 1148.5,425.5 1149.0,422.7 1149.5,422.1 1150.0,420.8 1150.5,419.0 1151.0,420.1 1151.5,419.7 1152.0,421.8 1152.5,422.6 1153.0,424.7 1153.5,425.8 1154.0,427.5 1154.5,429.7 1155.0,429.2 1155.5,430.3 1156.0,430.9 1156.5,432.5 1157.0,432.9 1157.5,433.2 1158.0,433.7 1158.5,433.2 1159.0,434.3 1159.5,433.8 1160.0,434.3 1160.5,433.6 1161.0,434.0 1161.5,433.4 1162.0,434.1 1162.5,433.8 1163.0,433.5 1163.5,433.7 1164.0,433.2 1164.5,433.0 1165.0,434.1 1165.5,433.8 1166.0,433.7 1166.5,433.3 1167.0,433.7 1167.5,433.3 1168.0,432.0 1168.5,433.5 1169.0,433.8 1169.5,432.9 1170.0,433.2 1170.5,433.3 1171.0,434.2 1171.5,433.1 1172.0,433.2 1172.5,434.1 1173.0,433.5 1173.5,432.8 1174.0,432.6 1174.5,434.3 1175.0,433.3 1175.5,433.4 1176.0,432.8 1176.5,432.6 1177.0,431.4 1177.5,432.5 1178.0,430.7 1178.5,430.3 1179.0,430.2 1179.5,430.9 1180.0,430.4 1180.5,431.8 1181.0,430.8 1181.5,432.7 1182.0,432.6 1182.5,432.9 1183.0,433.9 1183.5,434.7 1184.0,434.5 1184.5,435.6 1185.0,435.5 1185.5,435.7 1186.0,435.0 1186.5,435.5 1187.0,435.2 1187.5,435.8 1188.0,436.4 1188.5,436.8 1189.0,435.5 1189.5,435.4 1190.0,437.6 1190.5,436.5 1191.0,436.2 1191.5,437.2 1192.0,438.1 1192.5,436.7 1193.0,437.1 1193.5,437.2 1194.0,438.2 1194.5,437.6 1195.0,438.0 1195.5,437.5 1196.0,437.2 1196.5,438.8 1197.0,439.1 1197.5,438.0 1198.0,437.7 1198.5,437.7 1199.0,438.2 1199.5,437.8 1200.0,439.6 1200.5,438.0 1201.0,439.3 1201.5,439.0 1202.0,438.5 1202.5,439.1 1203.0,439.8 1203.5,439.0 1204.0,439.7 1204.5,438.9 1205.0,439.4 1205.5,439.5 1206.0,439.7 1206.5,440.8 1207.0,439.7 1207.5,439.7 1208.0,439.2 1208.5,439.9 1209.0,440.6 1209.5,441.3 1210.0,442.4 1210.5,441.3 1211.0,440.7 1211.5,441.9 1212.0,440.3 1212.5,442.3 1213.0,440.9 1213.5,441.1 1214.0,441.0 1214.5,441.6 1215.0,441.0 1215.5,441.4 1216.0,441.4 1216.5,441.1 1217.0,441.3 1217.5,440.9 1218.0,442.2 1218.5,441.6 1219.0,441.4 1219.5,442.0 1220.0,441.6 1220.5,440.9 1221.0,441.2 1221.5,442.3 1222.0,441.7 1222.5,441.1 1223.0,442.2 1223.5,442.7 1224.0,441.0 1224.5,441.3 1225.0,441.4 1225.5,441.8 1226.0,441.3 1226.5,441.2 1227.0,441.1 1227.5,441.9 1228.0,441.2 1228.5,441.8 1229.0,441.1 1229.5,441.5 1230.0,440.9 1230.5,441.1 1231.0,441.6 1231.5,441.5 1232.0,441.3 1232.5,442.1 1233.0,442.1 1233.5,442.4 1234.0,441.0 1234.5,441.1 1235.0,441.2 1235.5,441.5 1236.0,442.7 1236.5,441.9 1237.0,441.7 1237.5,442.0 1238.0,441.1 1238.5,440.4 1239.0,440.9 1239.5,441.3 1240.0,441.7 1240.5,441.0 1241.0,441.4 1241.5,441.0 1242.0,441.8 1242.5,439.5 1243.0,440.3 1243.5,440.5 1244.0,441.9 1244.5,440.3 1245.0,439.9 1245.5,440.1 1246.0,440.3 1246.5,440.1 1247.0,439.6 1247.5,440.2 1248.0,440.2 1248.5,439.8 1249.0,440.3 1249.5,440.8 1250.0,442.2 1250.5,440.4 1251.0,440.7 1251.5,440.7 1252.0,441.6 1252.5,440.0 1253.0,440.3 1253.5,441.7 1254.0,440.0 1254.5,439.9 1255.0,440.0 1255.5,440.6 1256.0,441.5 1256.5,439.6 1257.0,439.0 1257.5,440.2 1258.0,439.5 1258.5,439.3 1259.0,439.4 1259.5,438.9 1260.0,440.9 1260.5,440.8 1261.0,440.7 1261.5,440.5 1262.0,440.2 1262.5,439.7 1263.0,439.3 1263.5,440.1 1264.0,439.3 1264.5,440.7 1265.0,439.5 1265.5,440.0 1266.0,439.3 1266.5,439.9 1267.0,439.2 1267.5,438.7 1268.0,438.4 1268.5,439.3 1269.0,439.4 1269.5,439.0 1270.0,438.5 1270.5,438.5 1271.0,438.6 1271.5,439.9 1272.0,438.1 1272.5,439.1 1273.0,439.1 1273.5,439.3 1274.0,438.8 1274.5,439.8 1275.0,439.4 1275.5,439.1 1276.0,439.2 1276.5,439.2 1277.0,439.3 1277.5,438.9 1278.0,438.4 1278.5,438.9 1279.0,439.5 1279.5,438.9 1280.0,438.7 1280.5,439.9 1281.0,438.8 1281.5,440.0 1282.0,438.5 1282.5,440.0 1283.0,441.1 1283.5,440.7 1284.0,440.0 1284.5,440.6 1285.0,441.0 1285.5,441.3 1286.0,441.2 1286.5,439.4 1287.0,441.7 1287.5,441.7 1288.0,441.5 1288.5,441.8 1289.0,441.6 1289.5,443.1 1290.0,441.6 1290.5,442.8 1291.0,443.4 1291.5,442.0 1292.0,442.4 1292.5,441.2 1293.0,442.7 1293.5,441.5 1294.0,441.6 1294.5,441.5 1295.0,440.4 1295.5,439.8 1296.0,441.6 1296.5,441.1 1297.0,441.3 1297.5,440.2 1298.0,440.2 1298.5,441.0 1299.0,440.8 1299.5,440.5 1300.0,439.1 1300.5,440.2 1301.0,440.8 1301.5,440.1 1302.0,440.3 1302.5,440.2 1303.0,440.0 1303.5,440.3 1304.0,439.6 1304.5,439.8 1305.0,440.4 1305.5,439.7 1306.0,440.7 1306.5,439.3 1307.0,439.6 1307.5,439.4 1308.0,439.2 1308.5,439.8 1309.0,439.8 1309.5,438.6 1310.0,439.7 1310.5,438.5 1311.0,439.1 1311.5,437.4 1312.0,439.9 1312.5,437.0 1313.0,436.7 1313.5,436.7 1314.0,435.5 1314.5,434.3 1315.0,434.6 1315.5,432.8 1316.0,432.8 1316.5,432.3 1317.0,431.5 1317.5,430.2 1318.0,430.3 1318.5,429.5 1319.0,429.4 1319.5,428.9 1320.0,429.3 1320.5,429.2 1321.0,430.6 1321.5,431.3 1322.0,433.1 1322.5,433.6 1323.0,433.9 1323.5,434.0 1324.0,436.0 1324.5,435.4 1325.0,436.7 1325.5,437.5 1326.0,437.7 1326.5,437.2 1327.0,437.6 1327.5,437.7 1328.0,438.6 1328.5,437.8 1329.0,438.9 1329.5,439.2 1330.0,439.7 1330.5,439.0 1331.0,438.9 1331.5,438.9 1332.0,438.7 1332.5,438.7 1333.0,440.1 1333.5,439.1 1334.0,438.4 1334.5,438.8 1335.0,439.3 1335.5,439.0 1336.0,439.6 1336.5,438.2 1337.0,438.6 1337.5,437.9 1338.0,438.2 1338.5,438.9 1339.0,437.9 1339.5,438.0 1340.0,438.4 1340.5,438.2 1341.0,436.9 1341.5,437.5 1342.0,438.4 1342.5,438.5 1343.0,437.8 1343.5,438.5 1344.0,437.8 1344.5,437.5 1345.0,437.1 1345.5,437.3 1346.0,437.3 1346.5,436.4 1347.0,437.1 1347.5,437.2 1348.0,437.2 1348.5,436.7 1349.0,438.0 1349.5,435.9 1350.0,436.0 1350.5,437.9 1351.0,435.9 1351.5,436.1 1352.0,435.3 1352.5,434.7 1353.0,434.4 1353.5,434.1 1354.0,433.1 1354.5,433.8 1355.0,433.3 1355.5,432.4 1356.0,432.4 1356.5,432.6 1357.0,432.2 1357.5,432.1 1358.0,432.3 1358.5,431.8 1359.0,432.5 1359.5,433.4 1360.0,433.7 1360.5,432.9 1361.0,433.9 1361.5,435.1 1362.0,435.4 1362.5,435.8 1363.0,435.8 1363.5,437.6 1364.0,437.1 1364.5,437.7 1365.0,438.4 1365.5,437.5 1366.0,439.8 1366.5,439.3 1367.0,439.7 1367.5,439.8 1368.0,440.6 1368.5,439.8 1369.0,440.5 1369.5,443.2 1370.0,441.1 1370.5,440.4 1371.0,441.5 1371.5,441.1 1372.0,441.1 1372.5,442.1 1373.0,441.6 1373.5,442.7 1374.0,441.6 1374.5,442.2 1375.0,441.3 1375.5,441.4 1376.0,442.3 1376.5,441.7 1377.0,442.2 1377.5,442.2 1378.0,442.5 1378.5,442.2 1379.0,442.2 1379.5,442.4 1380.0,442.7 1380.5,442.7 1381.0,442.5 1381.5,443.5 1382.0,442.5 1382.5,442.6 1383.0,441.9 1383.5,442.6 1384.0,442.9 1384.5,443.2 1385.0,442.9 1385.5,443.3 1386.0,443.1 1386.5,442.5 1387.0,443.8 1387.5,443.3 1388.0,443.3 1388.5,442.0 1389.0,443.0 1389.5,442.0 1390.0,442.8 1390.5,443.5 1391.0,441.6 1391.5,442.8 1392.0,443.2 1392.5,442.5 1393.0,442.6 1393.5,442.6 1394.0,443.3 1394.5,444.3 1395.0,443.8 1395.5,443.2 1396.0,444.1 1396.5,443.0 1397.0,442.9 1397.5,443.0 1398.0,442.7 1398.5,443.0 1399.0,443.3 1399.5,443.6 1400.0,443.7 1400.5,443.5 1401.0,442.1 1401.5,442.5 1402.0,443.4 1402.5,444.2 1403.0,443.1 1403.5,443.4 1404.0,443.3 1404.5,443.6 1405.0,443.5 1405.5,442.4 1406.0,443.2 1406.5,443.1 1407.0,443.5 1407.5,443.1 1408.0,443.1 1408.5,443.6 1409.0,443.7 1409.5,444.3 1410.0,443.3 1410.5,444.8 1411.0,443.8 1411.5,444.5 1412.0,443.9 1412.5,443.6 1413.0,444.1 1413.5,443.7 1414.0,444.1 1414.5,443.3 1415.0,443.1 1415.5,444.1 1416.0,442.5 1416.5,443.6 1417.0,443.0 1417.5,443.6 1418.0,443.2 1418.5,443.1 1419.0,443.2 1419.5,443.1 1420.0,443.8 1420.5,443.6 1421.0,443.0 1421.5,443.0 1422.0,444.1 1422.5,443.4 1423.0,443.8 1423.5,443.4 1424.0,443.5 1424.5,443.1 1425.0,444.1 1425.5,444.3 1426.0,443.3 1426.5,444.1 1427.0,444.5 1427.5,444.0 1428.0,443.8 1428.5,443.5 1429.0,444.5 1429.5,443.9 1430.0,444.1 1430.5,443.5 1431.0,443.1 1431.5,443.4 1432.0,443.7 1432.5,444.2 1433.0,444.6 1433.5,444.4 1434.0,444.3 1434.5,444.6 1435.0,444.2 1435.5,444.6 1436.0,444.1 1436.5,444.8 1437.0,444.1 1437.5,444.4 1438.0,444.7 1438.5,444.8 1439.0,444.7 1439.5,444.7 1440.0,444.8 1440.5,444.5 1441.0,444.7 1441.5,444.4 1442.0,444.3 1442.5,443.3 1443.0,444.6 1443.5,444.9 1444.0,443.6 1444.5,444.4 1445.0,444.0 1445.5,443.5 1446.0,443.7 1446.5,444.1 1447.0,443.8 1447.5,444.4 1448.0,444.0 1448.5,442.9 1449.0,444.4 1449.5,443.4 1450.0,443.0 1450.5,444.4 1451.0,444.2 1451.5,443.3 1452.0,444.5 1452.5,444.4 1453.0,444.6 1453.5,444.4 1454.0,443.9 1454.5,444.2 1455.0,444.7 1455.5,444.2 1456.0,444.6 1456.5,444.4 1457.0,443.4 1457.5,444.1 1458.0,444.8 1458.5,444.3 1459.0,444.2 1459.5,445.0 1460.0,444.5 1460.5,445.3 1461.0,444.6 1461.5,445.2 1462.0,444.7 1462.5,445.5 1463.0,444.8 1463.5,445.1 1464.0,444.9 1464.5,445.3 1465.0,445.1 1465.5,445.3 1466.0,445.0 1466.5,444.8 1467.0,445.4 1467.5,445.1 1468.0,444.1 1468.5,444.4 1469.0,445.4 1469.5,444.7 1470.0,444.6 1470.5,444.2 1471.0,444.1 1471.5,444.8 1472.0,445.0 1472.5,445.8 1473.0,445.0 1473.5,444.3 1474.0,444.8 1474.5,444.6 1475.0,445.3 1475.5,444.2 1476.0,444.2 1476.5,444.7 1477.0,444.1 1477.5,444.6 1478.0,444.8 1478.5,444.9 1479.0,444.5 1479.5,445.4 1480.0,444.2 1480.5,445.0 1481.0,443.6 1481.5,445.0 1482.0,444.2 1482.5,444.7 1483.0,444.6 1483.5,444.2 1484.0,444.5 1484.5,444.4 1485.0,444.5 1485.5,445.0 1486.0,444.1 1486.5,445.1 1487.0,444.5 1487.5,445.2 1488.0,445.0 1488.5,445.2 1489.0,444.9 1489.5,445.1 1490.0,444.8 1490.5,445.0 1491.0,445.2 1491.5,445.5 1492.0,445.2 1492.5,444.9 1493.0,444.4 1493.5,444.9 1494.0,445.2 1494.5,445.0 1495.0,445.6 1495.5,445.7 1496.0,445.3 1496.5,444.7 1497.0,445.2 1497.5,444.9 1498.0,444.3 1498.5,444.9 1499.0,444.7 1499.5,445.1 1500.0,444.1 1500.5,444.1 1501.0,444.9 1501.5,445.4 1502.0,444.8 1502.5,444.7 1503.0,444.7 1503.5,444.4 1504.0,443.8 1504.5,444.4 1505.0,444.3 1505.5,443.9 1506.0,445.2 1506.5,443.9 1507.0,444.6 1507.5,445.3 1508.0,444.3 1508.5,444.2 1509.0,444.1 1509.5,446.0 1510.0,444.5 1510.5,444.5 1511.0,443.5 1511.5,444.6 1512.0,444.4 1512.5,444.8 1513.0,444.1 1513.5,444.6 1514.0,444.7 1514.5,444.9 1515.0,445.1 1515.5,444.4 1516.0,445.2 1516.5,445.1 1517.0,444.3 1517.5,444.7 1518.0,444.5 1518.5,444.2 1519.0,443.1 1519.5,443.6 1520.0,443.4 1520.5,441.7 1521.0,442.0 1521.5,442.0 1522.0,440.3 1522.5,440.4 1523.0,440.1 1523.5,438.5 1524.0,438.4 1524.5,438.2 1525.0,437.2 1525.5,438.9 1526.0,438.2 1526.5,438.6 1527.0,438.8 1527.5,439.2 1528.0,440.7 1528.5,441.7 1529.0,441.8 1529.5,442.4 1530.0,442.2 1530.5,442.7 1531.0,443.3 1531.5,444.2 1532.0,444.7 1532.5,444.7 1533.0,444.6 1533.5,445.0 1534.0,445.4 1534.5,445.2 1535.0,445.2 1535.5,446.3 1536.0,445.2 1536.5,445.7 1537.0,446.4 1537.5,445.8 1538.0,446.4 1538.5,446.1 1539.0,445.6 1539.5,445.8 1540.0,445.4 1540.5,446.0 1541.0,446.0 1541.5,445.4 1542.0,445.9 1542.5,445.3 1543.0,444.3 1543.5,444.5 1544.0,445.5 1544.5,445.8 1545.0,445.9 1545.5,444.6 1546.0,445.4 1546.5,445.1 1547.0,445.1 1547.5,444.4 1548.0,445.6 1548.5,445.3 1549.0,445.4 1549.5,445.8 1550.0,445.6 1550.5,445.0 1551.0,446.2 1551.5,444.8 1552.0,445.6 1552.5,445.4 1553.0,446.2 1553.5,445.2 1554.0,443.8 1554.5,445.7 1555.0,445.0 1555.5,444.6 1556.0,445.2 1556.5,445.7 1557.0,444.6 1557.5,446.6 1558.0,445.6 1558.5,445.8 1559.0,446.0 1559.5,446.5 1560.0,446.8 1560.5,446.4 1561.0,446.7 1561.5,446.0 1562.0,447.1 1562.5,446.8 1563.0,446.8 1563.5,447.0 1564.0,446.7 1564.5,446.2 1565.0,446.2 1565.5,446.5 1566.0,446.6 1566.5,445.6 1567.0,446.0 1567.5,445.4 1568.0,445.6 1568.5,446.2 1569.0,445.3 1569.5,446.3 1570.0,445.3 1570.5,445.6 1571.0,445.4 1571.5,446.5 1572.0,445.4 1572.5,446.5 1573.0,446.1 1573.5,445.9 1574.0,446.0 1574.5,446.2 1575.0,445.1 1575.5,446.1 1576.0,446.4 1576.5,446.1 1577.0,446.9 1577.5,446.9 1578.0,446.5 1578.5,446.3 1579.0,446.7 1579.5,445.9 1580.0,446.5 1580.5,446.4 1581.0,447.0 1581.5,445.8 1582.0,446.5 1582.5,446.9 1583.0,446.3 1583.5,445.6 1584.0,446.3 1584.5,445.6 1585.0,445.7 1585.5,446.2 1586.0,446.6 1586.5,445.2 1587.0,445.6 1587.5,446.2 1588.0,445.7 1588.5,445.6 1589.0,445.5 1589.5,445.2 1590.0,444.8 1590.5,445.8 1591.0,446.0 1591.5,446.5 1592.0,447.2 1592.5,444.5 1593.0,445.8 1593.5,444.6 1594.0,445.9 1594.5,446.1 1595.0,445.3 1595.5,446.1 1596.0,445.9 1596.5,446.2 1597.0,446.1 1597.5,446.1 1598.0,445.3 1598.5,445.8 1599.0,446.1 1599.5,445.6 1600.0,446.2 1600.5,445.1 1601.0,445.6 1601.5,445.8 1602.0,446.1 1602.5,445.3 1603.0,446.7 1603.5,445.6 1604.0,445.1 1604.5,444.9 1605.0,445.1 1605.5,445.4 1606.0,445.7 1606.5,445.5 1607.0,446.5 1607.5,446.4 1608.0,446.3 1608.5,445.5 1609.0,445.7 1609.5,445.7 1610.0,446.0 1610.5,445.9 1611.0,446.0 1611.5,446.7 1612.0,446.7 1612.5,446.1 1613.0,445.7 1613.5,445.4 1614.0,446.5 1614.5,446.1 1615.0,447.7 1615.5,446.0 1616.0,446.0 1616.5,445.8 1617.0,446.4 1617.5,446.0 1618.0,446.7 1618.5,445.2 1619.0,446.0 1619.5,446.5 1620.0,446.1 1620.5,446.1 1621.0,446.4 1621.5,446.4 1622.0,445.8 1622.5,446.3 1623.0,446.0 1623.5,446.4 1624.0,445.5 1624.5,446.1 1625.0,445.4 1625.5,445.4 1626.0,445.8 1626.5,445.8 1627.0,446.7 1627.5,446.0 1628.0,446.5 1628.5,446.7 1629.0,445.6 1629.5,446.3 1630.0,446.1 1630.5,445.5 1631.0,446.1 1631.5,445.9 1632.0,445.5 1632.5,446.4 1633.0,446.4 1633.5,446.3 1634.0,446.2 1634.5,446.3 1635.0,446.4 1635.5,445.3 1636.0,446.4 1636.5,445.5 1637.0,446.3 1637.5,445.7 1638.0,445.6 1638.5,445.5 1639.0,446.3 1639.5,446.2 1640.0,445.5 1640.5,445.6 1641.0,445.9 1641.5,445.7 1642.0,445.9 1642.5,445.7 1643.0,446.8 1643.5,445.6 1644.0,445.5 1644.5,445.7 1645.0,445.9 1645.5,446.1 1646.0,445.9 1646.5,446.6 1647.0,445.3 1647.5,445.5 1648.0,446.2 1648.5,445.5 1649.0,445.7 1649.5,446.1 1650.0,445.3 1650.5,445.7 1651.0,445.3 1651.5,444.9 1652.0,445.3 1652.5,445.6 1653.0,446.1 1653.5,446.1 1654.0,446.0 1654.5,446.0 1655.0,445.7 1655.5,445.8 1656.0,445.7 1656.5,445.9 1657.0,446.7 1657.5,445.9 1658.0,445.8 1658.5,446.1 1659.0,445.9 1659.5,445.3 1660.0,445.7 1660.5,446.2 1661.0,445.9 1661.5,445.7 1662.0,445.5 1662.5,445.4 1663.0,445.0 1663.5,445.8 1664.0,445.4 1664.5,446.0 1665.0,446.2 1665.5,444.4 1666.0,446.4 1666.5,446.1 1667.0,446.0 1667.5,446.2 1668.0,445.4 1668.5,446.1 1669.0,445.3 1669.5,445.8 1670.0,445.5 1670.5,446.0 1671.0,445.8 1671.5,445.7 1672.0,445.7 1672.5,446.1 1673.0,445.7 1673.5,445.5 1674.0,446.0 1674.5,445.5 1675.0,445.4 1675.5,445.9 1676.0,445.8 1676.5,446.1 1677.0,445.2 1677.5,445.3 1678.0,445.4 1678.5,446.0 1679.0,446.2 1679.5,445.9 1680.0,445.6 1680.5,445.4 1681.0,445.4 1681.5,444.5 1682.0,445.9 1682.5,445.1 1683.0,445.3 1683.5,445.6 1684.0,446.3 1684.5,445.7 1685.0,446.7 1685.5,447.1 1686.0,445.7 1686.5,445.3 1687.0,446.0 1687.5,445.9 1688.0,445.3 1688.5,446.4 1689.0,445.3 1689.5,445.6 1690.0,445.6 1690.5,445.0 1691.0,445.2 1691.5,445.5 1692.0,445.9 1692.5,445.9 1693.0,445.8 1693.5,444.9 1694.0,445.8 1694.5,445.8 1695.0,446.4 1695.5,446.0 1696.0,446.7 1696.5,446.4 1697.0,446.2 1697.5,445.9 1698.0,446.2 1698.5,445.8 1699.0,446.4 1699.5,445.3 1700.0,445.8 1700.5,445.9 1701.0,445.1 1701.5,445.9 1702.0,446.1 1702.5,446.1 1703.0,445.9 1703.5,446.8 1704.0,445.6 1704.5,446.0 1705.0,446.3 1705.5,446.1 1706.0,445.4 1706.5,445.9 1707.0,446.0 1707.5,447.0 1708.0,445.8 1708.5,446.1 1709.0,446.2 1709.5,446.0 1710.0,446.7 1710.5,446.3 1711.0,446.5 1711.5,445.9 1712.0,446.2 1712.5,445.3 1713.0,446.7 1713.5,445.9 1714.0,446.3 1714.5,445.4 1715.0,446.6 1715.5,445.3 1716.0,445.5 1716.5,445.7 1717.0,445.6 1717.5,445.3 1718.0,445.6 1718.5,446.2 1719.0,445.8 1719.5,446.1 1720.0,446.1 1720.5,445.6 1721.0,445.7 1721.5,445.6 1722.0,445.1 1722.5,445.5 1723.0,445.7 1723.5,445.3 1724.0,445.6 1724.5,445.0 1725.0,446.0 1725.5,445.4 1726.0,445.1 1726.5,446.1 1727.0,446.2 1727.5,446.0 1728.0,446.2 1728.5,446.3 1729.0,446.2 1729.5,446.3 1730.0,446.2 1730.5,446.9 1731.0,446.2 1731.5,445.5 1732.0,446.1 1732.5,446.9 1733.0,445.7 1733.5,445.5 1734.0,445.9 1734.5,446.7 1735.0,445.4 1735.5,445.9 1736.0,444.9 1736.5,445.7 1737.0,445.3 1737.5,446.2 1738.0,444.9 1738.5,445.3 1739.0,445.0 1739.5,445.8 1740.0,445.9 1740.5,445.1 1741.0,445.4 1741.5,445.3 1742.0,445.6 1742.5,445.1 1743.0,444.7 1743.5,445.5 1744.0,445.5 1744.5,445.6 1745.0,445.7 1745.5,445.5 1746.0,446.3 1746.5,446.3 1747.0,446.2 1747.5,446.2 1748.0,446.1 1748.5,445.9 1749.0,446.7 1749.5,446.9 1750.0,445.8 1750.5,445.9 1751.0,445.4 1751.5,446.1 1752.0,446.5 1752.5,445.9 1753.0,446.2 1753.5,444.8 1754.0,444.9 1754.5,446.3 1755.0,445.3 1755.5,445.5 1756.0,445.5 1756.5,445.6 1757.0,445.4 1757.5,445.1 1758.0,446.4 1758.5,445.6 1759.0,445.6 1759.5,446.0 1760.0,445.9 1760.5,445.7 1761.0,445.5 1761.5,445.2 1762.0,445.8 1762.5,446.2 1763.0,445.3 1763.5,444.7 1764.0,445.5 1764.5,446.3 1765.0,445.4 1765.5,445.8 1766.0,444.4 1766.5,445.6 1767.0,446.0 1767.5,445.6 1768.0,445.6 1768.5,445.5 1769.0,445.4 1769.5,446.8 1770.0,445.6 1770.5,446.2 1771.0,446.0 1771.5,446.2 1772.0,447.2 1772.5,446.2 1773.0,446.3 1773.5,446.1 1774.0,446.2 1774.5,445.5 1775.0,446.3 1775.5,445.6 1776.0,445.7 1776.5,445.8 1777.0,445.6 1777.5,445.7 1778.0,446.1 1778.5,446.3 1779.0,446.1 1779.5,446.1 1780.0,445.4 1780.5,446.1 1781.0,445.2 1781.5,445.4 1782.0,445.6 1782.5,447.2 1783.0,445.9 1783.5,445.4 1784.0,446.4 1784.5,446.4 1785.0,446.0 1785.5,446.1 1786.0,445.4 1786.5,446.2 1787.0,445.2 1787.5,445.5 1788.0,445.6 1788.5,445.1 1789.0,445.5 1789.5,446.6 1790.0,444.4 1790.5,446.4 1791.0,445.3 1791.5,445.7 1792.0,445.9 1792.5,446.4 1793.0,445.5 1793.5,446.5 1794.0,445.8 1794.5,446.4 1795.0,446.3 1795.5,446.1 1796.0,446.9 1796.5,447.1 1797.0,446.8 1797.5,446.0 1798.0,445.7 1798.5,446.3 1799.0,445.7 1799.5,446.0 1800.0,446.2 1800.5,445.8 1801.0,445.5 1801.5,445.8 1802.0,445.7 1802.5,445.5 1803.0,445.3 1803.5,445.9 1804.0,446.0 1804.5,445.4 1805.0,445.2 1805.5,445.4 1806.0,445.0 1806.5,445.3 1807.0,445.5 1807.5,445.3 1808.0,445.3 1808.5,445.1 1809.0,446.8 1809.5,444.7 1810.0,444.3 1810.5,445.3 1811.0,443.2 1811.5,444.2 1812.0,443.1 1812.5,443.4 1813.0,443.3 1813.5,442.4 1814.0,441.2 1814.5,440.8 1815.0,440.2 1815.5,440.6 1816.0,440.7 1816.5,439.8 1817.0,441.1 1817.5,440.1 1818.0,439.6 1818.5,441.2 1819.0,442.3 1819.5,441.7 1820.0,441.1 1820.5,442.1 1821.0,442.2 1821.5,443.2 1822.0,443.5 1822.5,443.2 1823.0,443.7 1823.5,443.2 1824.0,444.1 1824.5,444.5 1825.0,444.9 1825.5,445.4 1826.0,444.7 1826.5,445.3 1827.0,446.4 1827.5,446.4 1828.0,446.4 1828.5,445.7 1829.0,446.2 1829.5,446.0 1830.0,445.8 1830.5,446.3 1831.0,446.3 1831.5,446.8 1832.0,445.8 1832.5,446.5 1833.0,446.7 1833.5,446.1 1834.0,446.0 1834.5,444.7 1835.0,446.1 1835.5,446.0 1836.0,446.5 1836.5,445.3 1837.0,445.7 1837.5,445.3 1838.0,445.1 1838.5,447.1 1839.0,445.4 1839.5,446.3 1840.0,444.4 1840.5,445.8 1841.0,445.2 1841.5,445.9 1842.0,445.5 1842.5,445.7 1843.0,447.0 1843.5,445.7 1844.0,446.1 1844.5,446.2 1845.0,446.5 1845.5,446.1 1846.0,447.0 1846.5,446.1 1847.0,446.1 1847.5,445.5 1848.0,445.8 1848.5,446.3 1849.0,446.4 1849.5,446.1 1850.0,446.4 1850.5,446.0 1851.0,446.2 1851.5,445.9 1852.0,445.8 1852.5,445.7 1853.0,445.6 1853.5,445.8 1854.0,446.1 1854.5,446.0 1855.0,445.9 1855.5,445.3 1856.0,445.1 1856.5,446.2 1857.0,445.0 1857.5,445.3 1858.0,445.3 1858.5,445.7 1859.0,445.6 1859.5,445.6 1860.0,445.2 1860.5,444.7 1861.0,446.3 1861.5,446.2 1862.0,445.7 1862.5,446.0 1863.0,445.5 1863.5,445.3 1864.0,446.5 1864.5,446.1 1865.0,445.2 1865.5,445.4 1866.0,446.9 1866.5,446.5 1867.0,445.5 1867.5,447.2 1868.0,445.4 1868.5,446.0 1869.0,445.7 1869.5,446.3 1870.0,446.3 1870.5,445.6 1871.0,446.0 1871.5,446.4 1872.0,447.0 1872.5,446.3 1873.0,446.4 1873.5,445.8 1874.0,446.1 1874.5,447.1 1875.0,446.5 1875.5,446.4 1876.0,446.3 1876.5,447.1 1877.0,446.3 1877.5,445.9 1878.0,446.1 1878.5,446.4 1879.0,446.4 1879.5,445.9 1880.0,446.5 1880.5,446.3 1881.0,446.6 1881.5,446.3 1882.0,445.6 1882.5,445.9 1883.0,445.6 1883.5,445.8 1884.0,446.3 1884.5,445.9 1885.0,446.3 1885.5,447.3 1886.0,445.6 1886.5,446.7 1887.0,447.2 1887.5,446.4 1888.0,446.9 1888.5,446.9 1889.0,446.6 1889.5,446.4 1890.0,446.3 1890.5,447.1 1891.0,446.7 1891.5,446.8 1892.0,445.8 1892.5,447.1 1893.0,446.6 1893.5,446.7 1894.0,447.0 1894.5,447.0 1895.0,446.6 1895.5,446.3 1896.0,446.9 1896.5,446.5 1897.0,445.8 1897.5,446.6 1898.0,446.4 1898.5,446.4 1899.0,446.1 1899.5,447.1 1900.0,446.2 1900.5,446.6 1901.0,446.6 1901.5,446.1 1902.0,446.6 1902.5,446.6 1903.0,446.4 1903.5,446.8 1904.0,445.2 1904.5,445.4 1905.0,447.5 1905.5,446.7 1906.0,446.9 1906.5,446.9 1907.0,447.2 1907.5,446.5 1908.0,446.4 1908.5,446.9 1909.0,447.0 1909.5,446.9 1910.0,446.8 1910.5,447.3 1911.0,446.6 1911.5,447.4 1912.0,446.8 1912.5,446.8 1913.0,446.7 1913.5,446.3 1914.0,446.2 1914.5,446.7 1915.0,446.6 1915.5,447.1 1916.0,446.6 1916.5,446.5 1917.0,446.6 1917.5,446.9 1918.0,447.0 1918.5,446.8 1919.0,447.2 1919.5,447.6 1920.0,447.1 1920.5,446.7 1921.0,446.8 1921.5,446.7 1922.0,446.1 1922.5,446.6 1923.0,446.9 1923.5,446.4 1924.0,446.1 1924.5,446.2 1925.0,447.3 1925.5,446.8 1926.0,446.2 1926.5,446.9 1927.0,446.4 1927.5,447.0 1928.0,446.1 1928.5,446.8 1929.0,447.0 1929.5,447.1 1930.0,446.6 1930.5,446.2 1931.0,446.7 1931.5,446.8 1932.0,446.2 1932.5,446.5 1933.0,446.2" fill="none" stroke="#5B6EB6" stroke-width="2.8" stroke-linejoin="round"/>
<polyline points="26.0,416.5 26.5,418.2 27.0,418.1 27.5,416.2 28.0,416.5 28.5,416.4 29.0,417.7 29.5,420.0 30.0,417.9 30.5,414.8 31.0,418.8 31.5,416.8 32.0,420.1 32.5,416.6 33.0,416.2 33.5,417.2 34.0,417.7 34.5,416.5 35.0,416.6 35.5,417.7 36.0,412.9 36.5,418.8 37.0,417.8 37.5,416.7 38.0,415.3 38.5,416.8 39.0,417.3 39.5,416.6 40.0,416.4 40.5,418.3 41.0,419.4 41.5,418.1 42.0,417.5 42.5,418.9 43.0,419.3 43.5,418.1 44.0,419.2 44.5,419.9 45.0,418.5 45.5,418.0 46.0,419.5 46.5,419.6 47.0,420.8 47.5,418.2 48.0,419.2 48.5,419.2 49.0,418.4 49.5,420.9 50.0,421.5 50.5,420.3 51.0,422.9 51.5,422.4 52.0,422.2 52.5,422.0 53.0,422.6 53.5,419.9 54.0,422.1 54.5,422.0 55.0,419.2 55.5,421.7 56.0,421.0 56.5,422.3 57.0,421.1 57.5,421.7 58.0,422.4 58.5,421.2 59.0,423.2 59.5,422.6 60.0,423.4 60.5,422.4 61.0,424.4 61.5,423.9 62.0,423.1 62.5,424.1 63.0,424.9 63.5,425.5 64.0,421.7 64.5,424.6 65.0,424.2 65.5,423.6 66.0,422.6 66.5,425.2 67.0,422.3 67.5,424.5 68.0,425.4 68.5,422.1 69.0,423.7 69.5,422.6 70.0,424.6 70.5,426.2 71.0,426.9 71.5,422.8 72.0,424.3 72.5,426.0 73.0,427.1 73.5,425.9 74.0,424.6 74.5,425.9 75.0,425.5 75.5,425.4 76.0,424.8 76.5,426.1 77.0,426.1 77.5,425.8 78.0,423.6 78.5,424.8 79.0,425.9 79.5,428.0 80.0,426.6 80.5,425.4 81.0,428.7 81.5,431.7 82.0,430.0 82.5,427.9 83.0,429.3 83.5,426.6 84.0,429.9 84.5,431.4 85.0,427.7 85.5,428.0 86.0,429.5 86.5,427.9 87.0,428.5 87.5,428.3 88.0,428.8 88.5,429.7 89.0,428.4 89.5,429.4 90.0,427.8 90.5,428.7 91.0,426.0 91.5,427.0 92.0,429.8 92.5,428.6 93.0,430.2 93.5,430.6 94.0,431.8 94.5,431.6 95.0,432.2 95.5,431.2 96.0,430.7 96.5,430.8 97.0,431.1 97.5,430.4 98.0,431.1 98.5,431.6 99.0,431.9 99.5,431.3 100.0,429.6 100.5,431.7 101.0,432.2 101.5,433.3 102.0,433.0 102.5,431.9 103.0,432.2 103.5,435.6 104.0,434.6 104.5,436.2 105.0,436.9 105.5,434.1 106.0,435.7 106.5,436.1 107.0,436.5 107.5,436.7 108.0,436.4 108.5,436.5 109.0,434.7 109.5,436.1 110.0,435.4 110.5,436.2 111.0,435.5 111.5,436.6 112.0,436.8 112.5,436.2 113.0,436.2 113.5,436.1 114.0,435.6 114.5,436.0 115.0,435.7 115.5,436.8 116.0,436.5 116.5,437.2 117.0,435.2 117.5,437.7 118.0,436.0 118.5,436.1 119.0,436.8 119.5,436.5 120.0,437.5 120.5,436.8 121.0,436.4 121.5,436.9 122.0,439.4 122.5,438.3 123.0,437.3 123.5,438.9 124.0,437.5 124.5,441.4 125.0,439.9 125.5,440.5 126.0,440.8 126.5,438.8 127.0,440.9 127.5,441.8 128.0,441.4 128.5,441.3 129.0,442.1 129.5,441.4 130.0,441.7 130.5,441.3 131.0,442.1 131.5,440.5 132.0,442.4 132.5,441.0 133.0,440.3 133.5,441.8 134.0,443.2 134.5,442.4 135.0,440.7 135.5,441.9 136.0,440.5 136.5,440.5 137.0,440.4 137.5,437.2 138.0,439.3 138.5,437.3 139.0,437.0 139.5,435.4 140.0,434.6 140.5,434.5 141.0,435.8 141.5,436.2 142.0,433.8 142.5,434.6 143.0,432.7 143.5,430.4 144.0,432.3 144.5,432.2 145.0,430.7 145.5,430.9 146.0,430.5 146.5,425.9 147.0,426.7 147.5,427.2 148.0,426.2 148.5,425.0 149.0,425.4 149.5,424.7 150.0,420.6 150.5,420.0 151.0,418.2 151.5,415.9 152.0,414.1 152.5,410.2 153.0,411.4 153.5,407.2 154.0,402.4 154.5,397.6 155.0,393.0 155.5,395.4 156.0,391.8 156.5,387.7 157.0,387.1 157.5,379.7 158.0,378.0 158.5,373.2 159.0,367.9 159.5,368.2 160.0,365.7 160.5,364.2 161.0,368.8 161.5,370.8 162.0,372.6 162.5,378.0 163.0,382.8 163.5,386.3 164.0,388.5 164.5,391.2 165.0,394.6 165.5,396.6 166.0,401.1 166.5,402.3 167.0,404.7 167.5,406.8 168.0,406.5 168.5,408.6 169.0,412.8 169.5,412.8 170.0,413.5 170.5,415.6 171.0,416.0 171.5,418.1 172.0,418.2 172.5,420.5 173.0,419.4 173.5,423.7 174.0,422.4 174.5,422.0 175.0,424.2 175.5,424.6 176.0,425.6 176.5,424.6 177.0,426.7 177.5,430.7 178.0,425.5 178.5,427.7 179.0,427.4 179.5,428.5 180.0,426.8 180.5,428.1 181.0,430.6 181.5,430.7 182.0,433.3 182.5,431.4 183.0,433.2 183.5,437.0 184.0,433.7 184.5,434.3 185.0,436.0 185.5,436.6 186.0,438.2 186.5,437.9 187.0,437.4 187.5,438.9 188.0,441.8 188.5,442.7 189.0,436.6 189.5,439.8 190.0,439.4 190.5,441.3 191.0,440.9 191.5,443.6 192.0,443.0 192.5,443.4 193.0,443.1 193.5,443.4 194.0,444.3 194.5,445.8 195.0,445.5 195.5,445.1 196.0,447.3 196.5,446.7 197.0,447.0 197.5,446.7 198.0,447.5 198.5,447.9 199.0,446.1 199.5,450.4 200.0,450.3 200.5,449.9 201.0,451.5 201.5,451.2 202.0,451.4 202.5,448.7 203.0,451.3 203.5,452.3 204.0,453.6 204.5,451.5 205.0,454.0 205.5,451.7 206.0,451.0 206.5,454.1 207.0,453.9 207.5,455.3 208.0,454.5 208.5,458.3 209.0,453.8 209.5,456.0 210.0,455.3 210.5,456.3 211.0,456.6 211.5,456.1 212.0,456.7 212.5,456.6 213.0,457.5 213.5,457.5 214.0,456.8 214.5,457.1 215.0,459.7 215.5,458.3 216.0,459.7 216.5,459.4 217.0,458.8 217.5,455.7 218.0,459.9 218.5,460.1 219.0,460.6 219.5,458.9 220.0,459.6 220.5,460.2 221.0,462.0 221.5,458.3 222.0,463.1 222.5,460.4 223.0,461.5 223.5,460.8 224.0,461.9 224.5,461.4 225.0,462.2 225.5,462.5 226.0,462.6 226.5,461.6 227.0,463.0 227.5,462.4 228.0,462.0 228.5,462.9 229.0,462.9 229.5,464.0 230.0,463.5 230.5,463.2 231.0,465.3 231.5,465.0 232.0,465.5 232.5,465.0 233.0,464.5 233.5,464.4 234.0,464.7 234.5,466.0 235.0,465.4 235.5,464.1 236.0,465.6 236.5,464.6 237.0,466.3 237.5,463.2 238.0,465.6 238.5,467.2 239.0,467.4 239.5,466.3 240.0,469.0 240.5,470.7 241.0,467.7 241.5,471.1 242.0,469.1 242.5,469.6 243.0,470.2 243.5,469.3 244.0,472.0 244.5,471.4 245.0,470.5 245.5,471.0 246.0,470.1 246.5,471.3 247.0,472.6 247.5,470.3 248.0,471.7 248.5,472.4 249.0,473.4 249.5,476.6 250.0,472.5 250.5,472.5 251.0,473.8 251.5,473.3 252.0,473.6 252.5,475.1 253.0,477.8 253.5,474.8 254.0,474.6 254.5,475.4 255.0,473.4 255.5,475.1 256.0,474.3 256.5,477.4 257.0,476.0 257.5,475.6 258.0,475.4 258.5,473.4 259.0,476.4 259.5,477.3 260.0,475.4 260.5,476.7 261.0,476.9 261.5,475.1 262.0,477.5 262.5,478.0 263.0,477.3 263.5,477.2 264.0,478.2 264.5,476.3 265.0,477.9 265.5,478.9 266.0,477.1 266.5,479.1 267.0,475.9 267.5,476.5 268.0,478.2 268.5,477.4 269.0,478.4 269.5,477.0 270.0,478.8 270.5,477.1 271.0,477.9 271.5,476.9 272.0,477.0 272.5,478.2 273.0,477.2 273.5,476.6 274.0,475.9 274.5,478.0 275.0,477.6 275.5,476.8 276.0,477.3 276.5,476.3 277.0,476.4 277.5,476.6 278.0,477.7 278.5,477.7 279.0,476.8 279.5,478.0 280.0,478.0 280.5,477.5 281.0,479.8 281.5,476.9 282.0,477.0 282.5,477.5 283.0,476.9 283.5,477.6 284.0,475.7 284.5,477.9 285.0,475.9 285.5,476.3 286.0,475.1 286.5,476.8 287.0,477.2 287.5,477.0 288.0,476.7 288.5,474.5 289.0,475.0 289.5,475.1 290.0,472.2 290.5,475.4 291.0,473.3 291.5,471.0 292.0,468.2 292.5,462.6 293.0,458.0 293.5,454.9 294.0,456.4 294.5,459.6 295.0,464.2 295.5,468.5 296.0,469.3 296.5,471.9 297.0,473.6 297.5,472.9 298.0,473.9 298.5,475.5 299.0,475.6 299.5,475.6 300.0,474.6 300.5,474.3 301.0,475.3 301.5,473.8 302.0,472.2 302.5,474.9 303.0,473.1 303.5,472.6 304.0,472.7 304.5,472.6 305.0,471.7 305.5,470.3 306.0,468.9 306.5,464.6 307.0,461.8 307.5,457.8 308.0,450.1 308.5,440.9 309.0,430.1 309.5,417.4 310.0,403.9 310.5,388.8 311.0,377.8 311.5,371.8 312.0,369.2 312.5,377.0 313.0,387.5 313.5,400.3 314.0,415.7 314.5,428.4 315.0,441.7 315.5,449.4 316.0,459.0 316.5,463.9 317.0,465.7 317.5,471.1 318.0,474.0 318.5,473.6 319.0,476.3 319.5,474.9 320.0,477.4 320.5,476.4 321.0,478.8 321.5,477.4 322.0,477.1 322.5,480.1 323.0,482.2 323.5,480.2 324.0,481.8 324.5,481.6 325.0,481.7 325.5,482.9 326.0,484.1 326.5,482.0 327.0,483.8 327.5,483.9 328.0,482.7 328.5,485.4 329.0,485.9 329.5,483.7 330.0,486.1 330.5,485.0 331.0,486.3 331.5,486.6 332.0,485.7 332.5,486.0 333.0,487.1 333.5,487.1 334.0,486.8 334.5,487.1 335.0,484.9 335.5,487.1 336.0,485.3 336.5,483.8 337.0,485.0 337.5,485.6 338.0,484.6 338.5,486.9 339.0,484.7 339.5,485.4 340.0,485.4 340.5,486.6 341.0,484.6 341.5,486.0 342.0,486.1 342.5,487.0 343.0,487.2 343.5,486.7 344.0,487.5 344.5,487.2 345.0,488.1 345.5,487.7 346.0,487.3 346.5,487.8 347.0,488.2 347.5,489.7 348.0,487.4 348.5,488.0 349.0,487.2 349.5,485.9 350.0,486.1 350.5,486.5 351.0,487.2 351.5,489.2 352.0,487.4 352.5,488.0 353.0,486.7 353.5,484.7 354.0,484.5 354.5,486.8 355.0,485.8 355.5,484.2 356.0,485.9 356.5,483.8 357.0,486.4 357.5,487.3 358.0,486.2 358.5,486.6 359.0,488.8 359.5,487.7 360.0,489.6 360.5,488.2 361.0,490.1 361.5,489.7 362.0,489.5 362.5,489.3 363.0,490.4 363.5,488.9 364.0,490.4 364.5,490.4 365.0,491.5 365.5,490.1 366.0,492.5 366.5,491.0 367.0,490.4 367.5,492.4 368.0,492.6 368.5,491.1 369.0,491.9 369.5,491.2 370.0,490.6 370.5,491.0 371.0,492.5 371.5,491.7 372.0,491.7 372.5,492.0 373.0,491.9 373.5,492.7 374.0,492.9 374.5,492.1 375.0,492.6 375.5,494.4 376.0,492.9 376.5,492.5 377.0,494.2 377.5,492.6 378.0,491.8 378.5,493.1 379.0,491.9 379.5,492.2 380.0,492.9 380.5,492.5 381.0,492.1 381.5,492.2 382.0,492.2 382.5,493.5 383.0,492.0 383.5,492.1 384.0,494.0 384.5,491.9 385.0,493.4 385.5,493.1 386.0,493.2 386.5,490.7 387.0,492.0 387.5,492.1 388.0,492.2 388.5,491.4 389.0,492.2 389.5,492.3 390.0,492.7 390.5,492.3 391.0,491.3 391.5,490.7 392.0,490.9 392.5,492.5 393.0,491.7 393.5,489.5 394.0,490.8 394.5,490.5 395.0,488.7 395.5,492.0 396.0,489.1 396.5,490.8 397.0,489.4 397.5,489.7 398.0,489.5 398.5,489.4 399.0,490.5 399.5,490.2 400.0,489.3 400.5,489.1 401.0,489.4 401.5,490.5 402.0,489.8 402.5,489.8 403.0,489.2 403.5,489.1 404.0,489.2 404.5,487.3 405.0,489.8 405.5,487.5 406.0,487.3 406.5,488.4 407.0,487.1 407.5,486.5 408.0,485.6 408.5,484.4 409.0,487.1 409.5,485.9 410.0,484.0 410.5,485.6 411.0,483.4 411.5,483.6 412.0,484.4 412.5,483.9 413.0,484.3 413.5,482.9 414.0,482.5 414.5,481.5 415.0,481.8 415.5,481.6 416.0,480.9 416.5,482.0 417.0,480.7 417.5,479.1 418.0,482.4 418.5,479.0 419.0,478.2 419.5,479.8 420.0,479.3 420.5,477.0 421.0,476.3 421.5,476.4 422.0,478.0 422.5,476.5 423.0,475.9 423.5,476.5 424.0,477.6 424.5,475.3 425.0,476.3 425.5,475.5 426.0,478.7 426.5,478.4 427.0,477.7 427.5,476.8 428.0,477.5 428.5,475.1 429.0,477.2 429.5,475.8 430.0,475.9 430.5,476.5 431.0,476.9 431.5,477.8 432.0,478.0 432.5,477.8 433.0,476.9 433.5,478.5 434.0,478.3 434.5,479.9 435.0,478.8 435.5,478.1 436.0,480.8 436.5,483.9 437.0,483.4 437.5,483.8 438.0,485.6 438.5,486.1 439.0,486.9 439.5,486.8 440.0,487.8 440.5,488.5 441.0,488.4 441.5,488.5 442.0,492.3 442.5,491.3 443.0,491.6 443.5,492.1 444.0,494.0 444.5,494.9 445.0,493.7 445.5,494.8 446.0,496.0 446.5,495.1 447.0,495.7 447.5,496.7 448.0,497.5 448.5,496.8 449.0,497.1 449.5,499.2 450.0,498.4 450.5,498.2 451.0,497.4 451.5,496.5 452.0,497.9 452.5,497.0 453.0,497.8 453.5,498.8 454.0,498.4 454.5,500.1 455.0,498.5 455.5,499.9 456.0,500.4 456.5,501.2 457.0,500.9 457.5,500.5 458.0,500.5 458.5,500.4 459.0,501.4 459.5,500.1 460.0,501.0 460.5,500.6 461.0,500.9 461.5,500.6 462.0,502.4 462.5,500.5 463.0,501.2 463.5,501.2 464.0,501.5 464.5,501.4 465.0,501.3 465.5,501.7 466.0,498.3 466.5,501.1 467.0,500.2 467.5,501.3 468.0,500.3 468.5,500.5 469.0,501.1 469.5,502.1 470.0,501.6 470.5,501.4 471.0,502.2 471.5,500.6 472.0,499.8 472.5,501.1 473.0,501.3 473.5,502.5 474.0,503.2 474.5,501.0 475.0,503.8 475.5,503.3 476.0,503.0 476.5,502.8 477.0,504.4 477.5,503.0 478.0,501.3 478.5,503.3 479.0,503.5 479.5,503.7 480.0,503.4 480.5,503.8 481.0,503.8 481.5,502.9 482.0,504.5 482.5,502.9 483.0,504.2 483.5,502.5 484.0,503.8 484.5,502.9 485.0,505.1 485.5,502.9 486.0,501.8 486.5,502.5 487.0,503.3 487.5,503.7 488.0,502.3 488.5,501.9 489.0,502.8 489.5,503.3 490.0,503.1 490.5,503.0 491.0,504.3 491.5,504.4 492.0,504.4 492.5,503.3 493.0,504.1 493.5,504.0 494.0,503.3 494.5,504.9 495.0,504.5 495.5,504.2 496.0,505.6 496.5,505.3 497.0,505.4 497.5,505.7 498.0,505.4 498.5,504.0 499.0,504.4 499.5,505.1 500.0,503.5 500.5,503.6 501.0,503.3 501.5,503.5 502.0,503.1 502.5,502.9 503.0,502.6 503.5,503.9 504.0,504.3 504.5,504.3 505.0,505.8 505.5,505.5 506.0,504.8 506.5,506.3 507.0,505.4 507.5,506.0 508.0,504.6 508.5,505.7 509.0,505.1 509.5,505.1 510.0,504.6 510.5,507.3 511.0,505.8 511.5,506.1 512.0,506.7 512.5,505.9 513.0,506.3 513.5,505.1 514.0,506.2 514.5,505.8 515.0,506.5 515.5,506.4 516.0,505.4 516.5,505.2 517.0,505.8 517.5,507.1 518.0,506.9 518.5,507.0 519.0,505.4 519.5,505.0 520.0,506.4 520.5,506.6 521.0,506.5 521.5,507.1 522.0,506.8 522.5,506.1 523.0,506.2 523.5,506.9 524.0,506.8 524.5,506.6 525.0,508.1 525.5,506.4 526.0,506.6 526.5,505.8 527.0,506.2 527.5,506.7 528.0,506.6 528.5,506.1 529.0,506.3 529.5,506.0 530.0,504.6 530.5,503.6 531.0,507.2 531.5,506.2 532.0,505.6 532.5,504.5 533.0,504.8 533.5,506.6 534.0,504.0 534.5,507.6 535.0,506.6 535.5,506.2 536.0,506.8 536.5,506.3 537.0,508.1 537.5,505.9 538.0,505.7 538.5,506.8 539.0,507.6 539.5,506.6 540.0,507.3 540.5,506.1 541.0,505.6 541.5,507.2 542.0,507.2 542.5,507.1 543.0,505.6 543.5,505.0 544.0,506.5 544.5,505.3 545.0,505.6 545.5,505.2 546.0,503.6 546.5,504.1 547.0,503.2 547.5,502.1 548.0,500.2 548.5,497.4 549.0,494.2 549.5,489.0 550.0,483.0 550.5,475.8 551.0,470.8 551.5,466.9 552.0,465.6 552.5,471.5 553.0,476.9 553.5,484.1 554.0,490.3 554.5,493.6 555.0,497.3 555.5,499.5 556.0,500.7 556.5,500.8 557.0,503.8 557.5,501.9 558.0,502.9 558.5,503.6 559.0,503.5 559.5,503.5 560.0,503.6 560.5,503.8 561.0,502.9 561.5,504.4 562.0,501.4 562.5,501.6 563.0,500.2 563.5,498.3 564.0,495.9 564.5,491.9 565.0,483.3 565.5,473.7 566.0,463.5 566.5,452.5 567.0,446.8 567.5,446.8 568.0,454.1 568.5,464.8 569.0,476.2 569.5,485.0 570.0,490.8 570.5,496.1 571.0,498.7 571.5,500.3 572.0,501.2 572.5,503.3 573.0,503.2 573.5,503.9 574.0,503.3 574.5,503.4 575.0,504.3 575.5,504.9 576.0,504.8 576.5,505.1 577.0,506.0 577.5,505.7 578.0,504.9 578.5,505.3 579.0,505.2 579.5,505.9 580.0,505.1 580.5,505.8 581.0,506.5 581.5,506.2 582.0,505.7 582.5,506.0 583.0,506.5 583.5,506.8 584.0,507.1 584.5,506.5 585.0,505.7 585.5,507.5 586.0,506.7 586.5,506.7 587.0,506.6 587.5,505.7 588.0,506.1 588.5,506.5 589.0,507.0 589.5,506.3 590.0,504.2 590.5,506.1 591.0,506.5 591.5,507.2 592.0,506.8 592.5,508.1 593.0,507.4 593.5,505.5 594.0,507.2 594.5,505.6 595.0,507.1 595.5,506.9 596.0,506.1 596.5,506.7 597.0,506.4 597.5,505.5 598.0,507.4 598.5,505.0 599.0,503.2 599.5,503.9 600.0,503.8 600.5,501.1 601.0,500.7 601.5,497.5 602.0,495.1 602.5,491.2 603.0,484.6 603.5,476.4 604.0,466.6 604.5,456.7 605.0,443.5 605.5,436.2 606.0,429.9 606.5,432.6 607.0,440.3 607.5,450.0 608.0,462.0 608.5,472.7 609.0,480.2 609.5,487.9 610.0,492.9 610.5,495.5 611.0,499.2 611.5,500.5 612.0,503.1 612.5,502.5 613.0,504.8 613.5,503.7 614.0,505.7 614.5,505.0 615.0,505.0 615.5,505.1 616.0,504.8 616.5,504.5 617.0,503.6 617.5,500.5 618.0,497.6 618.5,493.7 619.0,492.0 619.5,489.7 620.0,487.4 620.5,485.6 621.0,488.8 621.5,491.7 622.0,495.4 622.5,499.1 623.0,500.3 623.5,503.9 624.0,503.8 624.5,505.5 625.0,505.7 625.5,506.2 626.0,506.0 626.5,506.0 627.0,506.7 627.5,506.2 628.0,508.6 628.5,506.8 629.0,506.8 629.5,507.0 630.0,506.8 630.5,506.0 631.0,507.6 631.5,508.1 632.0,507.0 632.5,508.1 633.0,507.3 633.5,508.1 634.0,508.4 634.5,508.4 635.0,508.4 635.5,507.5 636.0,508.5 636.5,507.5 637.0,507.9 637.5,508.0 638.0,507.2 638.5,506.4 639.0,507.5 639.5,506.2 640.0,506.1 640.5,505.8 641.0,506.8 641.5,505.8 642.0,504.1 642.5,505.7 643.0,506.2 643.5,503.5 644.0,503.6 644.5,503.6 645.0,503.4 645.5,503.2 646.0,502.2 646.5,501.0 647.0,501.8 647.5,501.3 648.0,499.6 648.5,499.9 649.0,500.0 649.5,499.4 650.0,499.4 650.5,499.2 651.0,498.6 651.5,497.7 652.0,496.4 652.5,497.4 653.0,497.5 653.5,499.9 654.0,495.6 654.5,495.2 655.0,495.9 655.5,495.5 656.0,494.3 656.5,493.0 657.0,492.8 657.5,493.4 658.0,490.1 658.5,492.0 659.0,491.6 659.5,490.9 660.0,489.2 660.5,489.7 661.0,490.2 661.5,489.4 662.0,488.7 662.5,488.9 663.0,488.6 663.5,487.0 664.0,486.5 664.5,486.5 665.0,485.5 665.5,484.1 666.0,482.4 666.5,481.8 667.0,478.9 667.5,478.2 668.0,472.4 668.5,466.9 669.0,459.8 669.5,453.1 670.0,440.3 670.5,428.8 671.0,414.8 671.5,401.2 672.0,387.5 672.5,376.7 673.0,366.0 673.5,366.6 674.0,367.8 674.5,375.7 675.0,388.2 675.5,401.7 676.0,414.6 676.5,430.7 677.0,444.2 677.5,453.6 678.0,459.0 678.5,470.5 679.0,476.1 679.5,481.2 680.0,484.6 680.5,486.3 681.0,487.3 681.5,488.8 682.0,490.4 682.5,492.6 683.0,494.1 683.5,497.0 684.0,494.4 684.5,495.0 685.0,495.0 685.5,494.6 686.0,496.5 686.5,497.1 687.0,496.7 687.5,498.4 688.0,498.4 688.5,499.1 689.0,498.7 689.5,498.4 690.0,500.6 690.5,500.9 691.0,500.8 691.5,501.1 692.0,501.7 692.5,502.4 693.0,502.6 693.5,502.1 694.0,504.5 694.5,503.4 695.0,504.5 695.5,506.5 696.0,505.4 696.5,503.1 697.0,506.3 697.5,505.9 698.0,506.1 698.5,506.5 699.0,505.2 699.5,503.7 700.0,506.1 700.5,506.9 701.0,506.9 701.5,505.8 702.0,506.2 702.5,506.5 703.0,505.1 703.5,503.8 704.0,505.8 704.5,507.2 705.0,505.6 705.5,507.0 706.0,505.8 706.5,504.6 707.0,507.0 707.5,504.7 708.0,505.6 708.5,506.2 709.0,504.4 709.5,503.7 710.0,504.9 710.5,503.8 711.0,502.4 711.5,501.9 712.0,501.8 712.5,502.2 713.0,501.1 713.5,501.9 714.0,503.0 714.5,503.3 715.0,503.9 715.5,504.2 716.0,502.6 716.5,504.7 717.0,504.3 717.5,504.0 718.0,503.4 718.5,503.0 719.0,503.3 719.5,504.0 720.0,503.2 720.5,503.5 721.0,503.6 721.5,504.5 722.0,503.9 722.5,504.1 723.0,505.2 723.5,504.1 724.0,504.8 724.5,503.8 725.0,504.8 725.5,504.7 726.0,504.8 726.5,504.4 727.0,504.0 727.5,504.5 728.0,504.3 728.5,505.2 729.0,505.1 729.5,503.5 730.0,504.6 730.5,503.6 731.0,503.8 731.5,502.7 732.0,501.3 732.5,501.9 733.0,500.1 733.5,497.2 734.0,494.5 734.5,493.0 735.0,490.1 735.5,488.4 736.0,487.7 736.5,488.0 737.0,487.7 737.5,490.9 738.0,493.3 738.5,494.9 739.0,496.6 739.5,500.5 740.0,502.2 740.5,504.8 741.0,505.2 741.5,505.6 742.0,506.8 742.5,505.4 743.0,506.6 743.5,506.5 744.0,508.1 744.5,507.6 745.0,505.5 745.5,508.6 746.0,507.4 746.5,508.7 747.0,508.1 747.5,510.8 748.0,509.2 748.5,509.0 749.0,508.3 749.5,509.9 750.0,508.2 750.5,509.2 751.0,511.0 751.5,508.9 752.0,510.6 752.5,509.6 753.0,509.8 753.5,509.9 754.0,509.3 754.5,509.3 755.0,510.3 755.5,510.5 756.0,511.3 756.5,510.8 757.0,509.9 757.5,510.9 758.0,511.1 758.5,511.2 759.0,510.8 759.5,509.8 760.0,511.2 760.5,510.0 761.0,510.8 761.5,509.4 762.0,510.8 762.5,509.8 763.0,511.0 763.5,511.2 764.0,510.6 764.5,508.8 765.0,508.5 765.5,508.1 766.0,508.6 766.5,507.9 767.0,507.2 767.5,506.8 768.0,506.4 768.5,505.9 769.0,506.0 769.5,504.3 770.0,503.8 770.5,501.8 771.0,501.6 771.5,501.4 772.0,500.5 772.5,501.0 773.0,501.2 773.5,497.6 774.0,499.4 774.5,499.2 775.0,499.6 775.5,499.1 776.0,499.8 776.5,499.8 777.0,499.8 777.5,500.1 778.0,499.6 778.5,498.1 779.0,500.7 779.5,499.3 780.0,499.8 780.5,499.1 781.0,498.6 781.5,498.4 782.0,498.0 782.5,498.5 783.0,497.9 783.5,498.0 784.0,501.0 784.5,498.1 785.0,498.9 785.5,498.1 786.0,498.2 786.5,496.6 787.0,496.2 787.5,496.7 788.0,493.7 788.5,491.7 789.0,488.8 789.5,486.9 790.0,483.3 790.5,482.3 791.0,483.2 791.5,484.7 792.0,486.0 792.5,488.7 793.0,491.3 793.5,493.8 794.0,495.2 794.5,496.8 795.0,499.1 795.5,499.0 796.0,500.3 796.5,501.2 797.0,501.4 797.5,502.7 798.0,502.6 798.5,503.2 799.0,502.9 799.5,503.3 800.0,504.5 800.5,504.8 801.0,503.7 801.5,506.3 802.0,507.0 802.5,507.6 803.0,508.9 803.5,507.8 804.0,508.5 804.5,508.7 805.0,508.5 805.5,508.1 806.0,509.5 806.5,507.9 807.0,509.5 807.5,509.6 808.0,509.7 808.5,509.3 809.0,510.1 809.5,510.4 810.0,510.1 810.5,509.2 811.0,510.0 811.5,510.7 812.0,511.7 812.5,510.1 813.0,510.8 813.5,512.4 814.0,510.4 814.5,510.5 815.0,511.9 815.5,511.4 816.0,511.4 816.5,510.5 817.0,511.7 817.5,510.6 818.0,511.8 818.5,510.9 819.0,512.9 819.5,510.7 820.0,512.6 820.5,512.4 821.0,510.8 821.5,511.8 822.0,512.9 822.5,512.7 823.0,511.0 823.5,511.7 824.0,511.3 824.5,511.3 825.0,511.5 825.5,513.0 826.0,511.9 826.5,511.6 827.0,511.5 827.5,512.1 828.0,512.1 828.5,511.1 829.0,512.5 829.5,510.9 830.0,511.4 830.5,511.9 831.0,512.7 831.5,511.4 832.0,511.9 832.5,512.6 833.0,512.2 833.5,514.1 834.0,512.7 834.5,512.3 835.0,512.6 835.5,512.8 836.0,512.3 836.5,513.3 837.0,511.1 837.5,511.8 838.0,513.3 838.5,512.7 839.0,512.0 839.5,512.7 840.0,513.2 840.5,512.2 841.0,513.1 841.5,512.6 842.0,512.7 842.5,512.9 843.0,513.7 843.5,512.4 844.0,513.0 844.5,513.7 845.0,512.7 845.5,512.6 846.0,513.9 846.5,513.6 847.0,513.6 847.5,513.8 848.0,513.1 848.5,515.5 849.0,513.1 849.5,513.5 850.0,512.9 850.5,513.6 851.0,514.8 851.5,514.0 852.0,514.4 852.5,513.9 853.0,515.4 853.5,514.5 854.0,513.8 854.5,515.1 855.0,514.6 855.5,515.3 856.0,515.1 856.5,515.3 857.0,515.3 857.5,514.7 858.0,514.4 858.5,515.9 859.0,515.2 859.5,515.4 860.0,515.0 860.5,514.0 861.0,513.0 861.5,516.0 862.0,514.7 862.5,515.0 863.0,514.4 863.5,514.9 864.0,515.0 864.5,515.1 865.0,515.2 865.5,516.3 866.0,514.0 866.5,515.3 867.0,515.4 867.5,515.2 868.0,516.2 868.5,515.3 869.0,515.3 869.5,514.8 870.0,515.7 870.5,514.5 871.0,514.1 871.5,514.5 872.0,515.4 872.5,514.3 873.0,515.6 873.5,514.6 874.0,513.2 874.5,513.3 875.0,513.5 875.5,510.6 876.0,508.8 876.5,508.4 877.0,507.9 877.5,507.7 878.0,507.7 878.5,511.1 879.0,511.0 879.5,512.9 880.0,514.7 880.5,514.2 881.0,515.7 881.5,515.2 882.0,516.0 882.5,515.4 883.0,515.7 883.5,516.5 884.0,515.9 884.5,517.0 885.0,516.3 885.5,516.7 886.0,516.7 886.5,515.2 887.0,516.8 887.5,517.4 888.0,518.5 888.5,516.1 889.0,516.9 889.5,516.6 890.0,516.2 890.5,515.3 891.0,516.2 891.5,516.7 892.0,517.5 892.5,515.6 893.0,516.9 893.5,518.0 894.0,516.2 894.5,517.0 895.0,516.9 895.5,516.5 896.0,517.4 896.5,515.9 897.0,517.0 897.5,516.4 898.0,515.9 898.5,516.3 899.0,516.2 899.5,516.8 900.0,515.5 900.5,516.2 901.0,516.0 901.5,517.2 902.0,515.6 902.5,516.8 903.0,515.2 903.5,516.2 904.0,515.7 904.5,515.4 905.0,513.9 905.5,511.7 906.0,510.2 906.5,512.2 907.0,508.9 907.5,509.0 908.0,511.6 908.5,512.4 909.0,513.8 909.5,514.4 910.0,514.8 910.5,517.2 911.0,515.6 911.5,516.4 912.0,516.8 912.5,517.5 913.0,514.8 913.5,516.2 914.0,516.5 914.5,515.1 915.0,516.1 915.5,515.9 916.0,516.1 916.5,516.6 917.0,515.8 917.5,515.2 918.0,515.8 918.5,515.6 919.0,515.2 919.5,514.6 920.0,516.4 920.5,516.1 921.0,515.9 921.5,515.0 922.0,515.1 922.5,516.3 923.0,515.7 923.5,514.7 924.0,515.1 924.5,514.0 925.0,514.8 925.5,514.2 926.0,515.2 926.5,514.5 927.0,513.6 927.5,513.3 928.0,512.0 928.5,511.5 929.0,511.1 929.5,509.7 930.0,510.3 930.5,510.0 931.0,510.3 931.5,510.0 932.0,511.9 932.5,512.5 933.0,513.9 933.5,514.6 934.0,515.6 934.5,514.9 935.0,514.3 935.5,516.4 936.0,515.2 936.5,514.8 937.0,514.8 937.5,514.1 938.0,515.2 938.5,516.6 939.0,515.7 939.5,515.4 940.0,515.3 940.5,515.5 941.0,514.6 941.5,514.6 942.0,514.8 942.5,514.1 943.0,514.8 943.5,514.7 944.0,515.3 944.5,514.9 945.0,512.7 945.5,514.9 946.0,515.7 946.5,513.7 947.0,514.3 947.5,514.7 948.0,513.8 948.5,514.2 949.0,514.4 949.5,513.5 950.0,516.0 950.5,514.3 951.0,513.2 951.5,514.0 952.0,514.5 952.5,513.8 953.0,515.0 953.5,514.2 954.0,513.7 954.5,514.4 955.0,514.0 955.5,513.1 956.0,514.0 956.5,514.1 957.0,514.0 957.5,513.0 958.0,513.6 958.5,514.0 959.0,515.1 959.5,513.7 960.0,513.6 960.5,512.6 961.0,512.8 961.5,510.0 962.0,512.0 962.5,510.5 963.0,509.1 963.5,507.8 964.0,507.6 964.5,503.4 965.0,500.2 965.5,495.5 966.0,491.6 966.5,487.8 967.0,483.5 967.5,479.3 968.0,478.2 968.5,476.0 969.0,475.8 969.5,478.8 970.0,483.0 970.5,486.7 971.0,489.9 971.5,495.5 972.0,499.5 972.5,504.2 973.0,504.7 973.5,509.1 974.0,510.0 974.5,512.1 975.0,512.5 975.5,513.6 976.0,514.8 976.5,514.7 977.0,515.7 977.5,515.3 978.0,515.4 978.5,515.7 979.0,515.7 979.5,516.0 980.0,517.0 980.5,515.6 981.0,515.5 981.5,516.5 982.0,517.6 982.5,517.3 983.0,516.4 983.5,517.7 984.0,516.7 984.5,517.3 985.0,515.8 985.5,517.1 986.0,517.9 986.5,516.8 987.0,516.7 987.5,517.2 988.0,518.2 988.5,518.8 989.0,519.7 989.5,519.1 990.0,517.5 990.5,517.0 991.0,518.4 991.5,518.9 992.0,517.3 992.5,517.7 993.0,517.5 993.5,517.4 994.0,516.7 994.5,516.4 995.0,514.7 995.5,514.1 996.0,513.1 996.5,512.4 997.0,509.2 997.5,507.9 998.0,508.0 998.5,508.8 999.0,508.5 999.5,510.2 1000.0,510.9 1000.5,513.1 1001.0,513.7 1001.5,515.7 1002.0,516.6 1002.5,517.4 1003.0,518.6 1003.5,519.0 1004.0,518.5 1004.5,519.6 1005.0,517.6 1005.5,520.2 1006.0,521.4 1006.5,520.5 1007.0,520.6 1007.5,520.6 1008.0,521.1 1008.5,520.6 1009.0,521.2 1009.5,520.8 1010.0,520.7 1010.5,521.0 1011.0,520.9 1011.5,520.1 1012.0,522.1 1012.5,521.1 1013.0,520.2 1013.5,521.7 1014.0,521.2 1014.5,521.5 1015.0,521.9 1015.5,521.3 1016.0,520.4 1016.5,522.1 1017.0,522.5 1017.5,524.3 1018.0,522.4 1018.5,522.8 1019.0,523.3 1019.5,523.0 1020.0,523.1 1020.5,523.4 1021.0,522.8 1021.5,524.2 1022.0,522.9 1022.5,523.5 1023.0,521.9 1023.5,523.1 1024.0,522.8 1024.5,524.0 1025.0,524.2 1025.5,523.7 1026.0,523.2 1026.5,523.8 1027.0,522.6 1027.5,523.3 1028.0,523.5 1028.5,523.4 1029.0,522.5 1029.5,522.2 1030.0,523.7 1030.5,522.5 1031.0,521.8 1031.5,521.9 1032.0,522.5 1032.5,523.0 1033.0,522.4 1033.5,523.0 1034.0,522.5 1034.5,522.6 1035.0,522.9 1035.5,522.3 1036.0,522.7 1036.5,522.5 1037.0,522.4 1037.5,521.8 1038.0,522.4 1038.5,522.8 1039.0,522.3 1039.5,521.6 1040.0,522.3 1040.5,523.1 1041.0,522.4 1041.5,522.3 1042.0,522.9 1042.5,520.4 1043.0,521.1 1043.5,520.1 1044.0,521.2 1044.5,521.1 1045.0,520.7 1045.5,519.9 1046.0,518.5 1046.5,518.6 1047.0,516.2 1047.5,513.5 1048.0,510.0 1048.5,507.0 1049.0,501.9 1049.5,496.8 1050.0,491.9 1050.5,487.2 1051.0,483.3 1051.5,483.8 1052.0,484.2 1052.5,488.0 1053.0,493.8 1053.5,499.0 1054.0,503.9 1054.5,507.9 1055.0,511.7 1055.5,514.1 1056.0,515.6 1056.5,518.4 1057.0,518.5 1057.5,519.7 1058.0,520.8 1058.5,520.8 1059.0,522.5 1059.5,520.6 1060.0,521.2 1060.5,521.8 1061.0,522.5 1061.5,521.8 1062.0,521.2 1062.5,522.6 1063.0,521.5 1063.5,522.0 1064.0,522.5 1064.5,521.8 1065.0,522.0 1065.5,522.5 1066.0,522.3 1066.5,522.6 1067.0,522.0 1067.5,522.5 1068.0,522.1 1068.5,521.9 1069.0,523.7 1069.5,523.1 1070.0,523.4 1070.5,522.5 1071.0,522.1 1071.5,522.2 1072.0,522.5 1072.5,523.5 1073.0,522.9 1073.5,523.1 1074.0,521.3 1074.5,523.6 1075.0,523.4 1075.5,523.2 1076.0,522.4 1076.5,522.6 1077.0,523.5 1077.5,522.7 1078.0,523.0 1078.5,522.9 1079.0,523.9 1079.5,523.7 1080.0,521.9 1080.5,524.4 1081.0,523.0 1081.5,522.2 1082.0,523.2 1082.5,523.3 1083.0,523.0 1083.5,522.5 1084.0,523.0 1084.5,523.3 1085.0,522.7 1085.5,523.3 1086.0,522.7 1086.5,522.5 1087.0,522.6 1087.5,521.4 1088.0,521.3 1088.5,521.9 1089.0,522.0 1089.5,522.7 1090.0,522.7 1090.5,522.4 1091.0,522.5 1091.5,522.3 1092.0,522.3 1092.5,522.2 1093.0,522.9 1093.5,522.1 1094.0,522.1 1094.5,522.3 1095.0,521.8 1095.5,521.9 1096.0,520.8 1096.5,522.0 1097.0,521.6 1097.5,521.8 1098.0,521.8 1098.5,520.6 1099.0,522.8 1099.5,521.6 1100.0,521.5 1100.5,520.4 1101.0,521.6 1101.5,521.5 1102.0,521.0 1102.5,521.2 1103.0,521.7 1103.5,520.8 1104.0,520.4 1104.5,521.5 1105.0,520.8 1105.5,520.5 1106.0,521.8 1106.5,520.6 1107.0,520.4 1107.5,522.0 1108.0,520.3 1108.5,520.6 1109.0,520.6 1109.5,520.1 1110.0,520.3 1110.5,520.6 1111.0,520.6 1111.5,520.7 1112.0,520.7 1112.5,520.4 1113.0,520.6 1113.5,520.1 1114.0,520.1 1114.5,520.8 1115.0,519.2 1115.5,520.4 1116.0,521.0 1116.5,519.1 1117.0,520.9 1117.5,519.1 1118.0,520.2 1118.5,520.8 1119.0,520.6 1119.5,519.2 1120.0,518.9 1120.5,518.7 1121.0,519.8 1121.5,519.1 1122.0,519.2 1122.5,519.2 1123.0,519.1 1123.5,519.1 1124.0,518.7 1124.5,517.5 1125.0,519.0 1125.5,516.4 1126.0,518.3 1126.5,516.8 1127.0,516.5 1127.5,515.6 1128.0,514.8 1128.5,514.0 1129.0,512.6 1129.5,510.7 1130.0,510.3 1130.5,507.9 1131.0,507.7 1131.5,505.6 1132.0,504.7 1132.5,505.4 1133.0,506.2 1133.5,506.2 1134.0,507.9 1134.5,510.2 1135.0,510.2 1135.5,511.5 1136.0,513.1 1136.5,513.2 1137.0,513.2 1137.5,514.2 1138.0,515.8 1138.5,516.3 1139.0,516.5 1139.5,516.6 1140.0,515.9 1140.5,517.1 1141.0,517.5 1141.5,516.5 1142.0,517.5 1142.5,516.8 1143.0,517.2 1143.5,517.3 1144.0,516.2 1144.5,517.9 1145.0,516.5 1145.5,516.8 1146.0,516.4 1146.5,516.7 1147.0,516.4 1147.5,515.7 1148.0,515.9 1148.5,514.4 1149.0,513.0 1149.5,510.3 1150.0,510.4 1150.5,508.8 1151.0,508.1 1151.5,505.4 1152.0,505.3 1152.5,505.1 1153.0,505.8 1153.5,506.2 1154.0,506.5 1154.5,508.7 1155.0,509.4 1155.5,512.2 1156.0,513.5 1156.5,514.2 1157.0,515.6 1157.5,516.3 1158.0,516.8 1158.5,518.3 1159.0,519.6 1159.5,518.6 1160.0,518.9 1160.5,518.6 1161.0,518.4 1161.5,519.9 1162.0,518.5 1162.5,519.0 1163.0,518.8 1163.5,519.3 1164.0,519.0 1164.5,519.4 1165.0,518.4 1165.5,519.1 1166.0,519.9 1166.5,518.5 1167.0,518.7 1167.5,519.7 1168.0,519.1 1168.5,519.4 1169.0,517.5 1169.5,518.7 1170.0,517.9 1170.5,517.7 1171.0,518.6 1171.5,519.0 1172.0,517.4 1172.5,517.6 1173.0,517.8 1173.5,518.0 1174.0,517.3 1174.5,519.3 1175.0,518.4 1175.5,517.8 1176.0,516.3 1176.5,519.3 1177.0,519.2 1177.5,517.6 1178.0,518.0 1178.5,518.4 1179.0,516.9 1179.5,517.1 1180.0,518.2 1180.5,517.1 1181.0,517.4 1181.5,517.0 1182.0,517.5 1182.5,518.5 1183.0,517.8 1183.5,517.7 1184.0,518.2 1184.5,519.7 1185.0,519.0 1185.5,518.7 1186.0,519.2 1186.5,519.4 1187.0,519.3 1187.5,518.2 1188.0,519.5 1188.5,519.2 1189.0,519.8 1189.5,517.8 1190.0,520.1 1190.5,519.3 1191.0,518.7 1191.5,520.4 1192.0,519.5 1192.5,520.0 1193.0,519.8 1193.5,520.6 1194.0,520.7 1194.5,520.8 1195.0,520.7 1195.5,519.6 1196.0,519.7 1196.5,520.9 1197.0,520.4 1197.5,521.3 1198.0,522.3 1198.5,520.6 1199.0,521.0 1199.5,521.1 1200.0,521.4 1200.5,521.9 1201.0,522.5 1201.5,522.9 1202.0,521.8 1202.5,522.1 1203.0,523.3 1203.5,523.1 1204.0,524.5 1204.5,521.5 1205.0,522.3 1205.5,521.4 1206.0,522.7 1206.5,524.1 1207.0,523.2 1207.5,523.4 1208.0,522.8 1208.5,522.9 1209.0,523.2 1209.5,523.4 1210.0,523.7 1210.5,524.1 1211.0,524.2 1211.5,524.7 1212.0,523.6 1212.5,524.5 1213.0,524.6 1213.5,524.3 1214.0,524.6 1214.5,525.0 1215.0,524.6 1215.5,525.3 1216.0,525.4 1216.5,524.3 1217.0,525.2 1217.5,525.5 1218.0,525.9 1218.5,525.1 1219.0,526.2 1219.5,525.7 1220.0,526.8 1220.5,526.7 1221.0,525.8 1221.5,525.8 1222.0,527.4 1222.5,526.6 1223.0,526.6 1223.5,526.2 1224.0,526.5 1224.5,526.3 1225.0,526.9 1225.5,526.3 1226.0,527.3 1226.5,526.9 1227.0,526.3 1227.5,526.5 1228.0,526.7 1228.5,527.3 1229.0,526.7 1229.5,527.2 1230.0,526.4 1230.5,527.5 1231.0,526.8 1231.5,527.7 1232.0,526.6 1232.5,527.8 1233.0,528.3 1233.5,527.5 1234.0,528.6 1234.5,527.6 1235.0,528.8 1235.5,528.8 1236.0,527.5 1236.5,527.6 1237.0,527.7 1237.5,527.9 1238.0,528.0 1238.5,526.7 1239.0,528.1 1239.5,527.7 1240.0,527.4 1240.5,528.3 1241.0,527.7 1241.5,528.4 1242.0,528.8 1242.5,527.7 1243.0,528.4 1243.5,528.3 1244.0,527.7 1244.5,527.2 1245.0,527.7 1245.5,528.3 1246.0,527.9 1246.5,528.9 1247.0,528.2 1247.5,528.2 1248.0,528.3 1248.5,527.7 1249.0,528.0 1249.5,527.8 1250.0,527.0 1250.5,527.2 1251.0,528.3 1251.5,527.8 1252.0,527.9 1252.5,527.3 1253.0,527.7 1253.5,528.3 1254.0,528.0 1254.5,527.8 1255.0,529.8 1255.5,528.1 1256.0,528.0 1256.5,528.7 1257.0,527.4 1257.5,528.4 1258.0,526.5 1258.5,527.9 1259.0,527.9 1259.5,528.3 1260.0,528.3 1260.5,528.4 1261.0,528.4 1261.5,528.9 1262.0,529.0 1262.5,528.6 1263.0,528.6 1263.5,528.1 1264.0,527.7 1264.5,528.5 1265.0,528.3 1265.5,527.6 1266.0,526.4 1266.5,529.5 1267.0,527.7 1267.5,528.4 1268.0,528.8 1268.5,527.8 1269.0,528.2 1269.5,527.5 1270.0,527.8 1270.5,527.6 1271.0,528.5 1271.5,528.6 1272.0,528.3 1272.5,529.0 1273.0,529.0 1273.5,528.4 1274.0,528.2 1274.5,528.1 1275.0,528.0 1275.5,530.1 1276.0,528.3 1276.5,528.0 1277.0,528.1 1277.5,528.4 1278.0,528.0 1278.5,528.3 1279.0,528.2 1279.5,528.8 1280.0,528.8 1280.5,527.6 1281.0,528.2 1281.5,528.7 1282.0,528.2 1282.5,528.8 1283.0,528.7 1283.5,528.8 1284.0,528.6 1284.5,528.9 1285.0,529.0 1285.5,528.2 1286.0,528.5 1286.5,528.6 1287.0,529.9 1287.5,529.3 1288.0,529.4 1288.5,529.3 1289.0,529.0 1289.5,528.9 1290.0,529.6 1290.5,529.0 1291.0,529.9 1291.5,529.2 1292.0,529.1 1292.5,528.9 1293.0,529.0 1293.5,529.0 1294.0,529.6 1294.5,530.0 1295.0,528.4 1295.5,529.0 1296.0,529.1 1296.5,528.3 1297.0,528.4 1297.5,528.5 1298.0,527.5 1298.5,528.9 1299.0,528.5 1299.5,528.5 1300.0,528.6 1300.5,528.7 1301.0,529.6 1301.5,528.7 1302.0,529.0 1302.5,528.4 1303.0,528.8 1303.5,528.5 1304.0,528.6 1304.5,528.3 1305.0,528.3 1305.5,528.9 1306.0,529.0 1306.5,528.8 1307.0,528.2 1307.5,528.6 1308.0,527.1 1308.5,528.6 1309.0,528.0 1309.5,527.9 1310.0,528.1 1310.5,527.1 1311.0,527.5 1311.5,526.5 1312.0,526.6 1312.5,525.7 1313.0,525.6 1313.5,525.6 1314.0,524.0 1314.5,523.4 1315.0,522.8 1315.5,522.3 1316.0,522.8 1316.5,520.3 1317.0,518.8 1317.5,518.8 1318.0,516.8 1318.5,517.8 1319.0,517.8 1319.5,517.3 1320.0,517.7 1320.5,517.5 1321.0,519.1 1321.5,519.3 1322.0,520.9 1322.5,521.6 1323.0,521.4 1323.5,522.3 1324.0,523.2 1324.5,524.1 1325.0,523.4 1325.5,524.6 1326.0,525.9 1326.5,525.2 1327.0,525.6 1327.5,525.7 1328.0,525.2 1328.5,527.3 1329.0,526.1 1329.5,526.1 1330.0,526.4 1330.5,526.5 1331.0,525.2 1331.5,526.4 1332.0,525.8 1332.5,526.2 1333.0,525.7 1333.5,525.6 1334.0,526.5 1334.5,526.0 1335.0,525.8 1335.5,525.8 1336.0,526.0 1336.5,525.9 1337.0,523.5 1337.5,525.6 1338.0,525.9 1338.5,526.4 1339.0,526.8 1339.5,525.7 1340.0,527.1 1340.5,526.3 1341.0,526.6 1341.5,526.1 1342.0,527.5 1342.5,527.1 1343.0,526.3 1343.5,526.4 1344.0,527.0 1344.5,527.3 1345.0,525.7 1345.5,526.3 1346.0,526.4 1346.5,527.3 1347.0,527.5 1347.5,526.3 1348.0,526.5 1348.5,526.7 1349.0,526.8 1349.5,526.0 1350.0,525.3 1350.5,525.5 1351.0,524.4 1351.5,524.8 1352.0,525.3 1352.5,525.2 1353.0,523.4 1353.5,523.2 1354.0,523.7 1354.5,521.6 1355.0,523.1 1355.5,522.9 1356.0,520.5 1356.5,521.9 1357.0,521.1 1357.5,521.6 1358.0,520.8 1358.5,520.4 1359.0,520.5 1359.5,521.0 1360.0,520.9 1360.5,521.1 1361.0,520.8 1361.5,522.2 1362.0,522.5 1362.5,523.8 1363.0,523.4 1363.5,523.8 1364.0,524.0 1364.5,525.0 1365.0,524.9 1365.5,525.0 1366.0,526.4 1366.5,526.7 1367.0,525.8 1367.5,525.8 1368.0,526.9 1368.5,526.2 1369.0,528.0 1369.5,526.8 1370.0,527.5 1370.5,526.5 1371.0,527.3 1371.5,527.9 1372.0,527.7 1372.5,527.4 1373.0,528.8 1373.5,528.1 1374.0,527.6 1374.5,527.4 1375.0,527.6 1375.5,528.3 1376.0,527.2 1376.5,527.5 1377.0,527.1 1377.5,528.0 1378.0,527.3 1378.5,527.8 1379.0,527.6 1379.5,527.1 1380.0,527.8 1380.5,527.9 1381.0,527.0 1381.5,526.8 1382.0,529.4 1382.5,527.7 1383.0,528.2 1383.5,527.3 1384.0,528.2 1384.5,527.8 1385.0,528.5 1385.5,528.1 1386.0,527.6 1386.5,529.7 1387.0,528.1 1387.5,527.7 1388.0,528.2 1388.5,527.7 1389.0,528.3 1389.5,528.1 1390.0,528.0 1390.5,528.5 1391.0,527.6 1391.5,529.6 1392.0,527.4 1392.5,529.1 1393.0,528.5 1393.5,528.3 1394.0,528.2 1394.5,528.8 1395.0,528.5 1395.5,528.5 1396.0,529.1 1396.5,528.4 1397.0,528.5 1397.5,528.8 1398.0,529.1 1398.5,528.5 1399.0,528.6 1399.5,528.5 1400.0,528.7 1400.5,529.0 1401.0,527.9 1401.5,528.2 1402.0,528.3 1402.5,528.6 1403.0,529.1 1403.5,528.4 1404.0,528.6 1404.5,529.1 1405.0,528.0 1405.5,528.3 1406.0,528.4 1406.5,528.6 1407.0,528.7 1407.5,528.4 1408.0,529.4 1408.5,528.3 1409.0,528.5 1409.5,529.1 1410.0,528.9 1410.5,528.6 1411.0,528.8 1411.5,529.0 1412.0,528.6 1412.5,528.9 1413.0,528.3 1413.5,528.8 1414.0,528.0 1414.5,529.5 1415.0,528.4 1415.5,529.6 1416.0,529.0 1416.5,529.4 1417.0,529.0 1417.5,529.4 1418.0,529.5 1418.5,528.3 1419.0,530.2 1419.5,529.0 1420.0,531.3 1420.5,531.0 1421.0,529.4 1421.5,529.7 1422.0,528.9 1422.5,529.5 1423.0,528.6 1423.5,529.6 1424.0,529.0 1424.5,528.2 1425.0,528.4 1425.5,528.2 1426.0,528.7 1426.5,529.2 1427.0,528.6 1427.5,528.2 1428.0,528.4 1428.5,528.9 1429.0,527.8 1429.5,529.2 1430.0,529.2 1430.5,528.0 1431.0,529.7 1431.5,528.5 1432.0,529.3 1432.5,530.0 1433.0,528.8 1433.5,528.8 1434.0,529.2 1434.5,529.2 1435.0,529.7 1435.5,529.6 1436.0,529.6 1436.5,529.6 1437.0,529.8 1437.5,530.3 1438.0,530.0 1438.5,529.8 1439.0,529.4 1439.5,530.6 1440.0,529.2 1440.5,530.1 1441.0,529.4 1441.5,529.9 1442.0,529.9 1442.5,530.1 1443.0,530.4 1443.5,529.4 1444.0,531.1 1444.5,530.1 1445.0,529.7 1445.5,529.6 1446.0,531.3 1446.5,531.1 1447.0,530.4 1447.5,530.9 1448.0,531.2 1448.5,530.6 1449.0,530.4 1449.5,530.6 1450.0,531.0 1450.5,530.6 1451.0,530.0 1451.5,530.9 1452.0,529.8 1452.5,530.2 1453.0,531.0 1453.5,530.6 1454.0,530.5 1454.5,530.5 1455.0,530.8 1455.5,530.4 1456.0,529.5 1456.5,530.5 1457.0,529.1 1457.5,529.6 1458.0,531.2 1458.5,531.0 1459.0,530.4 1459.5,530.6 1460.0,530.8 1460.5,530.0 1461.0,530.5 1461.5,530.5 1462.0,530.7 1462.5,531.1 1463.0,531.2 1463.5,530.9 1464.0,531.5 1464.5,530.7 1465.0,531.2 1465.5,530.9 1466.0,530.8 1466.5,531.8 1467.0,531.1 1467.5,530.7 1468.0,531.1 1468.5,530.5 1469.0,531.1 1469.5,530.4 1470.0,531.1 1470.5,530.0 1471.0,530.3 1471.5,531.1 1472.0,530.2 1472.5,530.8 1473.0,530.9 1473.5,529.7 1474.0,530.9 1474.5,530.7 1475.0,530.9 1475.5,531.3 1476.0,530.9 1476.5,530.8 1477.0,531.1 1477.5,530.7 1478.0,530.0 1478.5,530.1 1479.0,531.7 1479.5,530.7 1480.0,531.2 1480.5,531.1 1481.0,530.3 1481.5,531.0 1482.0,531.0 1482.5,530.2 1483.0,530.7 1483.5,531.5 1484.0,530.6 1484.5,530.6 1485.0,532.0 1485.5,531.6 1486.0,531.8 1486.5,531.1 1487.0,531.2 1487.5,530.2 1488.0,531.3 1488.5,531.0 1489.0,530.3 1489.5,530.6 1490.0,530.3 1490.5,531.6 1491.0,530.8 1491.5,530.9 1492.0,531.1 1492.5,531.1 1493.0,531.4 1493.5,530.9 1494.0,530.6 1494.5,532.0 1495.0,531.0 1495.5,531.1 1496.0,531.0 1496.5,531.1 1497.0,531.3 1497.5,531.5 1498.0,530.7 1498.5,531.3 1499.0,530.8 1499.5,531.6 1500.0,530.5 1500.5,531.0 1501.0,531.2 1501.5,530.3 1502.0,530.9 1502.5,530.9 1503.0,530.5 1503.5,530.7 1504.0,531.2 1504.5,530.9 1505.0,530.6 1505.5,530.7 1506.0,531.0 1506.5,531.4 1507.0,531.2 1507.5,531.2 1508.0,531.6 1508.5,530.3 1509.0,530.4 1509.5,530.1 1510.0,531.5 1510.5,530.2 1511.0,531.2 1511.5,531.6 1512.0,530.7 1512.5,531.1 1513.0,531.3 1513.5,531.7 1514.0,530.8 1514.5,531.6 1515.0,531.7 1515.5,531.5 1516.0,532.1 1516.5,531.8 1517.0,531.3 1517.5,531.0 1518.0,530.7 1518.5,530.9 1519.0,530.3 1519.5,530.4 1520.0,529.8 1520.5,529.9 1521.0,528.6 1521.5,528.5 1522.0,528.2 1522.5,526.6 1523.0,527.5 1523.5,526.8 1524.0,528.0 1524.5,526.9 1525.0,526.3 1525.5,525.6 1526.0,525.7 1526.5,526.9 1527.0,526.9 1527.5,527.6 1528.0,527.9 1528.5,529.0 1529.0,529.4 1529.5,528.8 1530.0,529.7 1530.5,529.8 1531.0,529.7 1531.5,530.8 1532.0,530.6 1532.5,531.1 1533.0,532.1 1533.5,531.8 1534.0,531.8 1534.5,531.3 1535.0,531.1 1535.5,532.1 1536.0,531.6 1536.5,532.5 1537.0,530.5 1537.5,532.0 1538.0,533.0 1538.5,531.9 1539.0,532.0 1539.5,532.3 1540.0,532.4 1540.5,531.8 1541.0,531.7 1541.5,532.2 1542.0,532.5 1542.5,532.3 1543.0,532.3 1543.5,532.3 1544.0,532.6 1544.5,532.7 1545.0,532.1 1545.5,532.5 1546.0,532.8 1546.5,532.6 1547.0,533.3 1547.5,532.4 1548.0,532.5 1548.5,532.9 1549.0,531.9 1549.5,532.8 1550.0,532.3 1550.5,532.6 1551.0,532.8 1551.5,532.2 1552.0,532.2 1552.5,532.4 1553.0,532.7 1553.5,532.2 1554.0,531.8 1554.5,532.1 1555.0,532.5 1555.5,532.8 1556.0,532.1 1556.5,532.2 1557.0,532.3 1557.5,532.3 1558.0,532.0 1558.5,532.2 1559.0,532.5 1559.5,532.5 1560.0,532.4 1560.5,532.0 1561.0,532.1 1561.5,530.9 1562.0,532.7 1562.5,532.8 1563.0,532.3 1563.5,532.7 1564.0,531.9 1564.5,531.8 1565.0,531.4 1565.5,532.0 1566.0,531.7 1566.5,531.9 1567.0,532.1 1567.5,531.9 1568.0,531.6 1568.5,532.1 1569.0,532.1 1569.5,532.2 1570.0,532.5 1570.5,532.1 1571.0,532.1 1571.5,532.9 1572.0,532.7 1572.5,532.2 1573.0,531.9 1573.5,532.1 1574.0,532.4 1574.5,532.7 1575.0,533.3 1575.5,532.3 1576.0,532.5 1576.5,532.3 1577.0,532.5 1577.5,532.3 1578.0,532.1 1578.5,532.9 1579.0,532.5 1579.5,533.0 1580.0,532.2 1580.5,532.5 1581.0,532.7 1581.5,531.6 1582.0,531.8 1582.5,532.6 1583.0,532.3 1583.5,531.5 1584.0,531.9 1584.5,531.8 1585.0,532.0 1585.5,532.8 1586.0,532.0 1586.5,533.1 1587.0,532.2 1587.5,532.0 1588.0,533.0 1588.5,532.8 1589.0,532.1 1589.5,533.4 1590.0,533.2 1590.5,533.3 1591.0,532.2 1591.5,532.7 1592.0,533.2 1592.5,533.2 1593.0,533.5 1593.5,533.0 1594.0,533.7 1594.5,534.1 1595.0,533.5 1595.5,533.6 1596.0,533.4 1596.5,533.6 1597.0,533.3 1597.5,533.0 1598.0,533.2 1598.5,533.2 1599.0,532.5 1599.5,533.2 1600.0,533.1 1600.5,533.2 1601.0,532.8 1601.5,532.0 1602.0,533.1 1602.5,532.5 1603.0,534.0 1603.5,532.8 1604.0,532.7 1604.5,531.9 1605.0,531.8 1605.5,532.1 1606.0,531.6 1606.5,532.9 1607.0,531.6 1607.5,531.6 1608.0,532.1 1608.5,531.7 1609.0,531.0 1609.5,531.9 1610.0,531.6 1610.5,531.9 1611.0,531.5 1611.5,531.8 1612.0,532.1 1612.5,532.2 1613.0,531.7 1613.5,531.9 1614.0,531.9 1614.5,532.3 1615.0,532.2 1615.5,531.7 1616.0,532.5 1616.5,532.0 1617.0,532.4 1617.5,531.9 1618.0,532.4 1618.5,532.3 1619.0,532.4 1619.5,532.5 1620.0,532.5 1620.5,532.4 1621.0,531.6 1621.5,531.8 1622.0,532.2 1622.5,531.3 1623.0,531.3 1623.5,532.0 1624.0,532.1 1624.5,532.8 1625.0,532.4 1625.5,532.7 1626.0,532.9 1626.5,531.6 1627.0,532.8 1627.5,532.5 1628.0,532.4 1628.5,531.1 1629.0,531.8 1629.5,531.8 1630.0,531.5 1630.5,532.2 1631.0,531.9 1631.5,531.7 1632.0,532.0 1632.5,530.5 1633.0,532.3 1633.5,532.7 1634.0,532.1 1634.5,531.7 1635.0,531.3 1635.5,532.7 1636.0,532.1 1636.5,531.4 1637.0,532.3 1637.5,531.1 1638.0,532.6 1638.5,531.6 1639.0,531.5 1639.5,531.1 1640.0,532.5 1640.5,531.4 1641.0,531.7 1641.5,531.6 1642.0,531.0 1642.5,531.4 1643.0,531.8 1643.5,532.1 1644.0,531.6 1644.5,531.9 1645.0,531.6 1645.5,532.0 1646.0,530.8 1646.5,532.0 1647.0,531.5 1647.5,531.5 1648.0,530.5 1648.5,531.3 1649.0,531.9 1649.5,532.6 1650.0,530.3 1650.5,531.5 1651.0,532.0 1651.5,531.9 1652.0,531.6 1652.5,531.8 1653.0,531.8 1653.5,532.3 1654.0,532.4 1654.5,532.9 1655.0,532.6 1655.5,532.6 1656.0,532.4 1656.5,532.8 1657.0,532.0 1657.5,533.4 1658.0,532.6 1658.5,533.1 1659.0,532.2 1659.5,532.9 1660.0,532.6 1660.5,532.4 1661.0,532.1 1661.5,532.0 1662.0,533.0 1662.5,532.7 1663.0,532.2 1663.5,532.2 1664.0,531.7 1664.5,531.2 1665.0,531.2 1665.5,531.7 1666.0,531.9 1666.5,531.5 1667.0,532.3 1667.5,532.2 1668.0,532.1 1668.5,531.3 1669.0,532.0 1669.5,532.1 1670.0,531.6 1670.5,531.2 1671.0,532.2 1671.5,532.3 1672.0,531.1 1672.5,532.6 1673.0,532.4 1673.5,532.0 1674.0,531.9 1674.5,532.1 1675.0,532.4 1675.5,531.8 1676.0,531.8 1676.5,532.2 1677.0,530.8 1677.5,532.1 1678.0,532.0 1678.5,531.5 1679.0,532.2 1679.5,532.5 1680.0,532.4 1680.5,532.4 1681.0,532.3 1681.5,532.6 1682.0,532.2 1682.5,532.8 1683.0,531.7 1683.5,532.4 1684.0,532.5 1684.5,531.8 1685.0,532.1 1685.5,532.8 1686.0,532.2 1686.5,531.8 1687.0,530.9 1687.5,532.3 1688.0,532.2 1688.5,532.3 1689.0,532.9 1689.5,532.0 1690.0,532.0 1690.5,531.6 1691.0,531.8 1691.5,531.8 1692.0,532.1 1692.5,532.0 1693.0,531.4 1693.5,531.6 1694.0,532.4 1694.5,531.5 1695.0,532.3 1695.5,532.7 1696.0,532.4 1696.5,532.3 1697.0,532.8 1697.5,532.4 1698.0,532.3 1698.5,532.9 1699.0,532.7 1699.5,532.4 1700.0,532.7 1700.5,531.9 1701.0,531.9 1701.5,531.9 1702.0,532.2 1702.5,531.9 1703.0,532.6 1703.5,532.4 1704.0,531.9 1704.5,531.2 1705.0,531.7 1705.5,533.1 1706.0,532.5 1706.5,532.6 1707.0,532.3 1707.5,532.6 1708.0,531.6 1708.5,531.4 1709.0,531.5 1709.5,532.0 1710.0,532.2 1710.5,532.0 1711.0,531.6 1711.5,531.1 1712.0,531.9 1712.5,531.4 1713.0,531.5 1713.5,531.5 1714.0,531.4 1714.5,531.4 1715.0,531.5 1715.5,531.3 1716.0,532.0 1716.5,531.9 1717.0,532.4 1717.5,531.3 1718.0,532.5 1718.5,532.0 1719.0,531.3 1719.5,531.8 1720.0,531.8 1720.5,531.5 1721.0,532.5 1721.5,532.0 1722.0,532.3 1722.5,531.1 1723.0,531.8 1723.5,532.7 1724.0,531.8 1724.5,532.3 1725.0,531.9 1725.5,531.9 1726.0,532.1 1726.5,531.8 1727.0,532.6 1727.5,531.4 1728.0,532.3 1728.5,532.3 1729.0,531.3 1729.5,532.1 1730.0,531.9 1730.5,532.2 1731.0,531.4 1731.5,532.0 1732.0,531.5 1732.5,531.9 1733.0,532.6 1733.5,532.1 1734.0,531.3 1734.5,532.8 1735.0,531.8 1735.5,532.8 1736.0,532.1 1736.5,531.8 1737.0,532.9 1737.5,532.6 1738.0,532.6 1738.5,532.9 1739.0,533.1 1739.5,532.5 1740.0,531.7 1740.5,532.1 1741.0,532.2 1741.5,532.5 1742.0,532.9 1742.5,532.3 1743.0,532.4 1743.5,533.5 1744.0,532.7 1744.5,533.0 1745.0,532.6 1745.5,532.7 1746.0,532.7 1746.5,532.9 1747.0,532.2 1747.5,532.8 1748.0,532.2 1748.5,532.5 1749.0,532.0 1749.5,532.0 1750.0,530.8 1750.5,532.5 1751.0,532.3 1751.5,532.4 1752.0,532.1 1752.5,532.2 1753.0,532.4 1753.5,532.9 1754.0,532.9 1754.5,532.4 1755.0,532.8 1755.5,533.3 1756.0,532.5 1756.5,533.2 1757.0,532.5 1757.5,532.7 1758.0,531.9 1758.5,532.5 1759.0,531.4 1759.5,532.0 1760.0,531.7 1760.5,531.0 1761.0,531.3 1761.5,532.3 1762.0,532.0 1762.5,532.4 1763.0,531.9 1763.5,530.7 1764.0,532.0 1764.5,531.7 1765.0,531.7 1765.5,531.8 1766.0,531.7 1766.5,531.6 1767.0,532.5 1767.5,532.2 1768.0,531.7 1768.5,531.9 1769.0,532.4 1769.5,532.2 1770.0,532.2 1770.5,531.7 1771.0,532.1 1771.5,531.8 1772.0,531.6 1772.5,532.7 1773.0,532.3 1773.5,532.3 1774.0,532.0 1774.5,532.7 1775.0,533.2 1775.5,532.6 1776.0,531.9 1776.5,531.7 1777.0,532.2 1777.5,532.1 1778.0,532.6 1778.5,531.9 1779.0,531.5 1779.5,531.8 1780.0,531.6 1780.5,532.4 1781.0,532.1 1781.5,531.9 1782.0,531.9 1782.5,532.1 1783.0,531.6 1783.5,531.4 1784.0,530.9 1784.5,532.2 1785.0,530.9 1785.5,531.8 1786.0,531.6 1786.5,532.2 1787.0,531.1 1787.5,532.0 1788.0,531.1 1788.5,531.3 1789.0,531.0 1789.5,531.5 1790.0,531.3 1790.5,531.6 1791.0,531.2 1791.5,530.8 1792.0,531.6 1792.5,531.8 1793.0,531.6 1793.5,530.5 1794.0,531.5 1794.5,530.7 1795.0,531.3 1795.5,532.0 1796.0,531.8 1796.5,531.4 1797.0,532.2 1797.5,531.9 1798.0,532.3 1798.5,531.5 1799.0,531.9 1799.5,532.2 1800.0,532.3 1800.5,532.4 1801.0,532.1 1801.5,532.0 1802.0,532.3 1802.5,532.4 1803.0,531.4 1803.5,531.8 1804.0,531.8 1804.5,531.9 1805.0,532.1 1805.5,531.1 1806.0,531.8 1806.5,530.7 1807.0,531.1 1807.5,531.1 1808.0,531.1 1808.5,530.9 1809.0,530.8 1809.5,530.8 1810.0,529.6 1810.5,529.8 1811.0,529.8 1811.5,530.0 1812.0,530.1 1812.5,530.0 1813.0,530.4 1813.5,528.9 1814.0,528.1 1814.5,528.2 1815.0,528.1 1815.5,527.6 1816.0,526.9 1816.5,527.3 1817.0,527.3 1817.5,526.8 1818.0,527.1 1818.5,528.4 1819.0,527.2 1819.5,528.5 1820.0,528.6 1820.5,529.6 1821.0,529.6 1821.5,529.2 1822.0,530.3 1822.5,529.8 1823.0,531.0 1823.5,531.1 1824.0,529.2 1824.5,530.1 1825.0,530.9 1825.5,530.6 1826.0,531.6 1826.5,531.5 1827.0,532.9 1827.5,532.1 1828.0,532.4 1828.5,532.4 1829.0,532.1 1829.5,532.3 1830.0,532.5 1830.5,532.4 1831.0,532.4 1831.5,533.2 1832.0,532.7 1832.5,533.2 1833.0,532.1 1833.5,532.3 1834.0,532.1 1834.5,532.1 1835.0,532.1 1835.5,532.1 1836.0,532.0 1836.5,532.9 1837.0,532.5 1837.5,531.9 1838.0,532.0 1838.5,532.6 1839.0,532.5 1839.5,532.1 1840.0,532.8 1840.5,531.9 1841.0,532.3 1841.5,533.2 1842.0,531.5 1842.5,532.5 1843.0,532.9 1843.5,532.4 1844.0,532.2 1844.5,532.1 1845.0,531.5 1845.5,531.8 1846.0,532.3 1846.5,531.9 1847.0,530.9 1847.5,532.0 1848.0,532.1 1848.5,531.2 1849.0,531.7 1849.5,531.6 1850.0,531.6 1850.5,531.4 1851.0,530.9 1851.5,532.1 1852.0,532.2 1852.5,532.9 1853.0,532.3 1853.5,532.7 1854.0,532.4 1854.5,532.0 1855.0,532.5 1855.5,531.8 1856.0,532.4 1856.5,532.3 1857.0,531.9 1857.5,532.9 1858.0,532.8 1858.5,532.6 1859.0,532.7 1859.5,533.1 1860.0,532.4 1860.5,531.9 1861.0,532.1 1861.5,532.8 1862.0,532.7 1862.5,532.0 1863.0,533.2 1863.5,532.7 1864.0,533.3 1864.5,533.1 1865.0,532.4 1865.5,532.6 1866.0,532.2 1866.5,532.2 1867.0,532.3 1867.5,532.6 1868.0,532.9 1868.5,531.9 1869.0,532.5 1869.5,532.2 1870.0,532.1 1870.5,532.6 1871.0,532.0 1871.5,532.7 1872.0,532.0 1872.5,531.8 1873.0,532.5 1873.5,531.6 1874.0,531.7 1874.5,532.1 1875.0,532.2 1875.5,532.1 1876.0,531.3 1876.5,531.6 1877.0,532.3 1877.5,532.2 1878.0,531.6 1878.5,532.1 1879.0,532.1 1879.5,532.4 1880.0,531.8 1880.5,533.6 1881.0,532.1 1881.5,532.9 1882.0,532.8 1882.5,532.1 1883.0,532.5 1883.5,532.8 1884.0,533.2 1884.5,531.3 1885.0,532.6 1885.5,533.1 1886.0,533.1 1886.5,532.4 1887.0,532.4 1887.5,532.9 1888.0,532.3 1888.5,532.7 1889.0,532.9 1889.5,532.5 1890.0,531.4 1890.5,532.9 1891.0,532.9 1891.5,533.0 1892.0,532.8 1892.5,531.8 1893.0,533.1 1893.5,532.7 1894.0,533.0 1894.5,532.6 1895.0,532.6 1895.5,532.6 1896.0,533.3 1896.5,532.8 1897.0,532.6 1897.5,532.2 1898.0,532.9 1898.5,533.4 1899.0,532.7 1899.5,533.1 1900.0,533.0 1900.5,533.9 1901.0,532.8 1901.5,532.8 1902.0,533.1 1902.5,533.2 1903.0,533.0 1903.5,532.6 1904.0,533.3 1904.5,533.3 1905.0,532.5 1905.5,533.1 1906.0,532.8 1906.5,532.0 1907.0,532.8 1907.5,532.2 1908.0,532.5 1908.5,532.5 1909.0,533.1 1909.5,532.3 1910.0,532.3 1910.5,532.6 1911.0,533.0 1911.5,533.0 1912.0,532.5 1912.5,532.6 1913.0,532.8 1913.5,532.6 1914.0,532.4 1914.5,532.4 1915.0,533.1 1915.5,532.8 1916.0,535.1 1916.5,533.2 1917.0,532.7 1917.5,533.1 1918.0,533.3 1918.5,533.3 1919.0,533.4 1919.5,533.4 1920.0,533.2 1920.5,532.7 1921.0,535.1 1921.5,532.9 1922.0,532.9 1922.5,533.2 1923.0,533.4 1923.5,533.1 1924.0,533.2 1924.5,532.7 1925.0,532.6 1925.5,533.0 1926.0,533.0 1926.5,533.4 1927.0,533.4 1927.5,532.1 1928.0,533.1 1928.5,532.6 1929.0,532.0 1929.5,533.0 1930.0,532.8 1930.5,533.5 1931.0,532.2 1931.5,532.3 1932.0,532.6 1932.5,532.0 1933.0,532.5 1933.5,532.6 1934.0,532.5 1934.5,532.7 1935.0,532.5 1935.5,532.1 1936.0,531.0 1936.5,532.6" fill="none" stroke="#FFE43C" stroke-width="2.8" stroke-linejoin="round"/>
<polyline points="26.0,495.5 26.5,496.7 27.0,496.3 27.5,496.3 28.0,497.3 28.5,493.9 29.0,494.6 29.5,493.9 30.0,495.4 30.5,496.9 31.0,495.9 31.5,496.7 32.0,494.0 32.5,496.7 33.0,495.6 33.5,499.0 34.0,498.1 34.5,498.3 35.0,497.2 35.5,498.2 36.0,498.4 36.5,497.3 37.0,497.3 37.5,494.8 38.0,499.7 38.5,497.8 39.0,498.4 39.5,498.0 40.0,502.2 40.5,499.3 41.0,500.4 41.5,498.7 42.0,498.9 42.5,498.1 43.0,499.6 43.5,499.6 44.0,500.1 44.5,499.3 45.0,500.1 45.5,502.2 46.0,500.5 46.5,496.7 47.0,501.0 47.5,499.6 48.0,500.4 48.5,500.3 49.0,499.1 49.5,497.2 50.0,499.1 50.5,497.0 51.0,499.1 51.5,500.1 52.0,500.8 52.5,499.0 53.0,501.2 53.5,501.7 54.0,501.1 54.5,501.2 55.0,501.2 55.5,502.7 56.0,500.3 56.5,500.1 57.0,500.9 57.5,499.2 58.0,498.5 58.5,499.3 59.0,500.8 59.5,500.9 60.0,498.6 60.5,498.2 61.0,500.1 61.5,500.3 62.0,500.5 62.5,504.6 63.0,502.1 63.5,498.0 64.0,501.7 64.5,499.8 65.0,499.9 65.5,501.8 66.0,502.6 66.5,503.0 67.0,503.2 67.5,503.8 68.0,504.2 68.5,501.6 69.0,503.1 69.5,504.9 70.0,505.4 70.5,503.2 71.0,506.7 71.5,505.1 72.0,505.6 72.5,506.4 73.0,507.2 73.5,504.9 74.0,507.9 74.5,507.0 75.0,506.2 75.5,506.9 76.0,504.8 76.5,506.7 77.0,507.7 77.5,506.7 78.0,507.2 78.5,507.4 79.0,507.7 79.5,508.8 80.0,507.7 80.5,507.5 81.0,508.5 81.5,510.4 82.0,507.8 82.5,508.9 83.0,506.6 83.5,510.2 84.0,509.5 84.5,510.4 85.0,508.9 85.5,507.9 86.0,510.2 86.5,510.1 87.0,508.3 87.5,507.7 88.0,510.0 88.5,506.0 89.0,512.8 89.5,509.2 90.0,509.5 90.5,512.5 91.0,508.7 91.5,509.8 92.0,513.0 92.5,511.3 93.0,511.0 93.5,510.6 94.0,513.0 94.5,513.4 95.0,513.2 95.5,512.8 96.0,513.9 96.5,514.3 97.0,513.5 97.5,515.3 98.0,512.6 98.5,513.9 99.0,515.4 99.5,516.0 100.0,515.1 100.5,517.2 101.0,518.3 101.5,517.9 102.0,517.9 102.5,518.8 103.0,518.5 103.5,516.9 104.0,518.1 104.5,519.8 105.0,517.0 105.5,515.5 106.0,517.7 106.5,517.0 107.0,516.7 107.5,517.7 108.0,519.6 108.5,517.7 109.0,515.7 109.5,517.1 110.0,517.9 110.5,518.7 111.0,518.7 111.5,519.2 112.0,519.8 112.5,519.9 113.0,518.4 113.5,519.7 114.0,519.2 114.5,517.6 115.0,518.7 115.5,523.1 116.0,519.8 116.5,518.7 117.0,520.6 117.5,523.0 118.0,521.2 118.5,521.7 119.0,520.8 119.5,520.8 120.0,522.1 120.5,521.4 121.0,520.2 121.5,521.0 122.0,524.0 122.5,519.5 123.0,519.9 123.5,519.9 124.0,518.8 124.5,520.9 125.0,519.5 125.5,519.1 126.0,518.0 126.5,518.5 127.0,521.7 127.5,518.9 128.0,520.7 128.5,519.8 129.0,520.8 129.5,520.8 130.0,519.2 130.5,519.6 131.0,519.9 131.5,519.8 132.0,519.4 132.5,519.0 133.0,519.9 133.5,520.5 134.0,519.6 134.5,518.1 135.0,519.4 135.5,519.0 136.0,519.4 136.5,520.9 137.0,518.5 137.5,515.2 138.0,517.6 138.5,518.1 139.0,520.8 139.5,519.8 140.0,518.2 140.5,517.0 141.0,519.5 141.5,515.7 142.0,517.9 142.5,517.7 143.0,516.6 143.5,514.8 144.0,513.9 144.5,512.5 145.0,512.5 145.5,507.5 146.0,508.1 146.5,507.3 147.0,504.8 147.5,501.6 148.0,501.7 148.5,499.3 149.0,499.3 149.5,497.7 150.0,493.4 150.5,488.0 151.0,487.0 151.5,482.7 152.0,483.9 152.5,478.4 153.0,472.2 153.5,469.2 154.0,461.9 154.5,452.9 155.0,441.4 155.5,432.4 156.0,419.0 156.5,411.6 157.0,401.1 157.5,397.3 158.0,395.2 158.5,396.7 159.0,409.0 159.5,420.1 160.0,432.4 160.5,439.5 161.0,449.1 161.5,458.4 162.0,463.4 162.5,468.1 163.0,472.7 163.5,480.9 164.0,476.1 164.5,482.1 165.0,485.3 165.5,488.2 166.0,492.1 166.5,494.1 167.0,496.2 167.5,497.6 168.0,499.8 168.5,500.6 169.0,504.8 169.5,506.6 170.0,504.8 170.5,507.5 171.0,506.9 171.5,508.0 172.0,508.9 172.5,508.4 173.0,510.9 173.5,512.5 174.0,514.1 174.5,514.8 175.0,516.5 175.5,516.7 176.0,517.5 176.5,516.4 177.0,516.4 177.5,522.2 178.0,521.5 178.5,523.1 179.0,522.7 179.5,522.8 180.0,526.3 180.5,525.1 181.0,526.8 181.5,526.2 182.0,525.8 182.5,524.1 183.0,523.8 183.5,525.7 184.0,525.5 184.5,529.7 185.0,529.6 185.5,530.1 186.0,530.0 186.5,530.4 187.0,531.5 187.5,531.7 188.0,532.1 188.5,533.4 189.0,530.5 189.5,534.5 190.0,533.4 190.5,535.3 191.0,536.1 191.5,534.4 192.0,536.4 192.5,536.7 193.0,535.5 193.5,535.9 194.0,538.6 194.5,534.7 195.0,536.8 195.5,537.6 196.0,537.2 196.5,536.2 197.0,537.6 197.5,539.7 198.0,539.6 198.5,538.3 199.0,537.8 199.5,538.7 200.0,538.8 200.5,538.2 201.0,538.7 201.5,539.8 202.0,540.3 202.5,537.2 203.0,540.9 203.5,540.4 204.0,541.7 204.5,541.0 205.0,541.9 205.5,543.5 206.0,539.4 206.5,544.4 207.0,543.4 207.5,541.8 208.0,541.3 208.5,544.6 209.0,543.5 209.5,545.7 210.0,545.1 210.5,545.0 211.0,546.2 211.5,545.5 212.0,546.1 212.5,546.3 213.0,546.0 213.5,546.5 214.0,546.7 214.5,544.7 215.0,545.9 215.5,546.2 216.0,546.1 216.5,545.0 217.0,546.1 217.5,547.1 218.0,547.1 218.5,548.5 219.0,546.6 219.5,547.0 220.0,547.0 220.5,544.6 221.0,547.5 221.5,546.5 222.0,548.8 222.5,549.7 223.0,550.0 223.5,548.1 224.0,549.2 224.5,551.3 225.0,549.7 225.5,550.3 226.0,550.0 226.5,551.3 227.0,551.4 227.5,552.9 228.0,551.4 228.5,551.5 229.0,550.2 229.5,551.1 230.0,551.0 230.5,551.5 231.0,550.6 231.5,553.1 232.0,551.0 232.5,552.3 233.0,550.9 233.5,552.5 234.0,555.9 234.5,549.9 235.0,552.7 235.5,552.4 236.0,555.7 236.5,551.2 237.0,552.3 237.5,552.9 238.0,552.6 238.5,552.5 239.0,552.3 239.5,554.4 240.0,553.0 240.5,554.4 241.0,554.4 241.5,553.1 242.0,555.1 242.5,553.4 243.0,554.9 243.5,555.8 244.0,554.0 244.5,553.9 245.0,554.1 245.5,557.1 246.0,554.8 246.5,554.1 247.0,556.0 247.5,555.2 248.0,555.3 248.5,554.4 249.0,553.3 249.5,554.7 250.0,554.5 250.5,554.0 251.0,554.6 251.5,554.8 252.0,556.6 252.5,556.6 253.0,556.6 253.5,555.8 254.0,555.3 254.5,556.8 255.0,557.1 255.5,557.6 256.0,556.8 256.5,556.8 257.0,557.3 257.5,556.3 258.0,556.5 258.5,558.0 259.0,556.4 259.5,557.6 260.0,558.5 260.5,558.1 261.0,558.4 261.5,557.1 262.0,558.0 262.5,557.9 263.0,558.6 263.5,558.5 264.0,558.1 264.5,559.8 265.0,558.6 265.5,557.9 266.0,557.6 266.5,556.1 267.0,557.8 267.5,559.9 268.0,559.0 268.5,558.4 269.0,558.2 269.5,558.0 270.0,558.8 270.5,560.4 271.0,560.1 271.5,559.5 272.0,559.8 272.5,558.2 273.0,560.6 273.5,559.9 274.0,561.4 274.5,560.1 275.0,559.9 275.5,560.6 276.0,559.9 276.5,561.7 277.0,560.8 277.5,560.9 278.0,561.0 278.5,560.4 279.0,561.2 279.5,561.1 280.0,560.7 280.5,558.8 281.0,561.4 281.5,560.7 282.0,560.8 282.5,560.8 283.0,562.1 283.5,560.9 284.0,561.6 284.5,560.5 285.0,560.3 285.5,558.9 286.0,561.3 286.5,562.5 287.0,560.5 287.5,562.1 288.0,561.8 288.5,560.5 289.0,561.9 289.5,560.6 290.0,561.2 290.5,562.6 291.0,561.6 291.5,560.4 292.0,562.5 292.5,560.1 293.0,558.2 293.5,560.1 294.0,559.7 294.5,558.5 295.0,557.3 295.5,562.8 296.0,556.4 296.5,558.4 297.0,557.4 297.5,559.8 298.0,561.0 298.5,561.0 299.0,562.1 299.5,560.8 300.0,559.6 300.5,558.9 301.0,559.6 301.5,557.7 302.0,557.1 302.5,556.5 303.0,554.2 303.5,553.6 304.0,548.5 304.5,544.4 305.0,535.7 305.5,531.0 306.0,519.9 306.5,508.8 307.0,494.0 307.5,479.0 308.0,466.0 308.5,459.6 309.0,456.9 309.5,460.8 310.0,472.1 310.5,484.9 311.0,500.3 311.5,512.4 312.0,523.1 312.5,533.7 313.0,540.7 313.5,548.1 314.0,550.5 314.5,552.7 315.0,555.9 315.5,554.9 316.0,558.9 316.5,559.7 317.0,559.3 317.5,560.6 318.0,561.0 318.5,560.4 319.0,561.1 319.5,562.0 320.0,560.6 320.5,561.2 321.0,561.9 321.5,562.3 322.0,563.0 322.5,561.6 323.0,563.2 323.5,563.7 324.0,564.7 324.5,563.3 325.0,563.1 325.5,562.8 326.0,564.8 326.5,565.7 327.0,564.2 327.5,565.4 328.0,566.0 328.5,566.3 329.0,565.4 329.5,566.6 330.0,566.3 330.5,565.9 331.0,567.3 331.5,567.7 332.0,567.0 332.5,568.5 333.0,570.1 333.5,567.5 334.0,569.6 334.5,569.9 335.0,569.4 335.5,569.7 336.0,569.3 336.5,570.7 337.0,568.8 337.5,569.5 338.0,568.0 338.5,569.8 339.0,571.3 339.5,568.2 340.0,568.9 340.5,570.0 341.0,569.2 341.5,568.6 342.0,567.5 342.5,569.9 343.0,571.2 343.5,569.2 344.0,569.9 344.5,569.9 345.0,569.5 345.5,568.2 346.0,571.1 346.5,569.0 347.0,571.8 347.5,572.0 348.0,570.1 348.5,571.4 349.0,569.4 349.5,570.0 350.0,571.2 350.5,569.4 351.0,569.4 351.5,570.9 352.0,567.1 352.5,572.4 353.0,571.8 353.5,571.5 354.0,572.1 354.5,571.0 355.0,571.2 355.5,572.8 356.0,573.1 356.5,572.6 357.0,572.7 357.5,572.4 358.0,574.1 358.5,571.9 359.0,572.5 359.5,572.9 360.0,572.2 360.5,572.4 361.0,572.7 361.5,574.3 362.0,574.9 362.5,573.8 363.0,572.1 363.5,572.9 364.0,573.2 364.5,573.1 365.0,573.0 365.5,573.7 366.0,571.8 366.5,572.9 367.0,573.6 367.5,574.2 368.0,572.4 368.5,573.9 369.0,573.9 369.5,573.6 370.0,574.3 370.5,574.2 371.0,573.8 371.5,575.4 372.0,575.4 372.5,574.1 373.0,574.9 373.5,575.3 374.0,574.5 374.5,574.4 375.0,574.7 375.5,573.0 376.0,573.2 376.5,576.1 377.0,574.6 377.5,575.5 378.0,574.1 378.5,575.4 379.0,575.4 379.5,576.2 380.0,574.1 380.5,574.5 381.0,575.0 381.5,575.1 382.0,574.1 382.5,574.5 383.0,573.9 383.5,576.7 384.0,574.7 384.5,574.6 385.0,573.9 385.5,574.3 386.0,574.7 386.5,573.6 387.0,573.7 387.5,575.2 388.0,574.1 388.5,573.4 389.0,572.7 389.5,572.9 390.0,572.2 390.5,572.8 391.0,571.9 391.5,571.7 392.0,571.8 392.5,571.2 393.0,572.0 393.5,573.8 394.0,571.1 394.5,570.1 395.0,572.1 395.5,571.1 396.0,572.7 396.5,571.2 397.0,571.5 397.5,569.9 398.0,569.0 398.5,567.6 399.0,570.2 399.5,568.6 400.0,566.4 400.5,568.1 401.0,567.9 401.5,567.6 402.0,567.4 402.5,568.9 403.0,566.4 403.5,565.4 404.0,564.4 404.5,565.5 405.0,562.9 405.5,565.0 406.0,563.3 406.5,561.5 407.0,562.4 407.5,561.6 408.0,562.1 408.5,559.1 409.0,560.1 409.5,559.5 410.0,560.1 410.5,558.1 411.0,558.2 411.5,560.5 412.0,559.0 412.5,557.0 413.0,558.5 413.5,557.3 414.0,559.0 414.5,554.7 415.0,558.5 415.5,557.1 416.0,557.6 416.5,557.4 417.0,555.8 417.5,556.4 418.0,557.6 418.5,555.4 419.0,556.9 419.5,556.4 420.0,557.0 420.5,556.9 421.0,557.0 421.5,556.3 422.0,556.4 422.5,555.5 423.0,555.7 423.5,558.6 424.0,555.7 424.5,557.1 425.0,557.1 425.5,555.5 426.0,556.7 426.5,555.5 427.0,556.5 427.5,555.5 428.0,556.6 428.5,556.4 429.0,555.4 429.5,559.6 430.0,557.4 430.5,555.2 431.0,557.1 431.5,556.5 432.0,559.0 432.5,557.4 433.0,558.6 433.5,559.0 434.0,560.8 434.5,563.6 435.0,562.0 435.5,563.6 436.0,564.7 436.5,566.6 437.0,567.0 437.5,567.4 438.0,568.3 438.5,568.8 439.0,570.6 439.5,569.7 440.0,572.0 440.5,573.9 441.0,573.4 441.5,573.8 442.0,574.9 442.5,574.6 443.0,575.2 443.5,576.7 444.0,576.1 444.5,578.5 445.0,577.8 445.5,577.7 446.0,577.7 446.5,578.4 447.0,577.3 447.5,579.6 448.0,580.6 448.5,580.7 449.0,580.4 449.5,581.5 450.0,581.8 450.5,581.5 451.0,582.1 451.5,582.8 452.0,582.6 452.5,582.2 453.0,582.6 453.5,582.9 454.0,581.7 454.5,583.2 455.0,581.3 455.5,581.8 456.0,582.3 456.5,586.8 457.0,584.0 457.5,585.0 458.0,583.8 458.5,586.7 459.0,584.6 459.5,583.7 460.0,584.4 460.5,585.3 461.0,585.9 461.5,584.6 462.0,583.9 462.5,583.7 463.0,585.0 463.5,585.4 464.0,584.9 464.5,584.8 465.0,583.6 465.5,585.6 466.0,585.6 466.5,584.3 467.0,585.2 467.5,586.8 468.0,585.4 468.5,587.2 469.0,585.7 469.5,585.2 470.0,585.6 470.5,585.9 471.0,585.0 471.5,585.8 472.0,585.4 472.5,586.9 473.0,585.7 473.5,586.2 474.0,585.2 474.5,585.4 475.0,586.4 475.5,585.9 476.0,586.5 476.5,586.9 477.0,587.2 477.5,585.9 478.0,586.9 478.5,587.6 479.0,586.8 479.5,588.7 480.0,587.0 480.5,588.8 481.0,585.7 481.5,589.0 482.0,586.5 482.5,588.9 483.0,587.1 483.5,587.9 484.0,588.2 484.5,589.4 485.0,588.5 485.5,588.9 486.0,587.8 486.5,587.8 487.0,588.9 487.5,589.0 488.0,588.9 488.5,588.8 489.0,587.6 489.5,589.5 490.0,588.1 490.5,588.8 491.0,588.4 491.5,586.7 492.0,586.5 492.5,586.7 493.0,587.8 493.5,588.7 494.0,587.7 494.5,588.5 495.0,587.1 495.5,587.6 496.0,587.5 496.5,588.3 497.0,587.6 497.5,588.4 498.0,589.0 498.5,588.4 499.0,588.2 499.5,588.6 500.0,588.1 500.5,588.3 501.0,589.6 501.5,589.3 502.0,588.1 502.5,588.9 503.0,589.3 503.5,589.5 504.0,589.3 504.5,589.4 505.0,588.6 505.5,588.5 506.0,588.3 506.5,589.2 507.0,589.0 507.5,589.6 508.0,589.2 508.5,587.9 509.0,587.5 509.5,587.7 510.0,588.2 510.5,589.4 511.0,588.3 511.5,588.0 512.0,589.5 512.5,590.4 513.0,590.5 513.5,591.2 514.0,590.1 514.5,589.8 515.0,590.0 515.5,590.4 516.0,589.8 516.5,591.1 517.0,591.6 517.5,591.1 518.0,590.4 518.5,590.0 519.0,590.3 519.5,588.8 520.0,590.5 520.5,589.2 521.0,590.0 521.5,590.1 522.0,589.0 522.5,590.7 523.0,590.7 523.5,586.6 524.0,589.8 524.5,590.5 525.0,591.4 525.5,591.6 526.0,590.4 526.5,591.4 527.0,590.8 527.5,590.4 528.0,590.3 528.5,590.7 529.0,590.1 529.5,591.4 530.0,590.2 530.5,591.1 531.0,591.4 531.5,591.6 532.0,590.8 532.5,590.8 533.0,591.0 533.5,590.8 534.0,591.5 534.5,590.6 535.0,592.0 535.5,592.5 536.0,590.2 536.5,590.8 537.0,589.7 537.5,591.0 538.0,590.7 538.5,590.2 539.0,589.6 539.5,590.2 540.0,591.4 540.5,593.2 541.0,590.1 541.5,589.2 542.0,589.5 542.5,588.7 543.0,588.1 543.5,588.1 544.0,588.7 544.5,587.9 545.0,587.0 545.5,584.7 546.0,582.5 546.5,581.1 547.0,576.0 547.5,571.8 548.0,564.3 548.5,559.5 549.0,554.5 549.5,550.7 550.0,555.5 550.5,562.5 551.0,566.3 551.5,573.0 552.0,578.2 552.5,580.7 553.0,585.6 553.5,587.1 554.0,587.0 554.5,588.3 555.0,586.5 555.5,589.3 556.0,589.1 556.5,589.1 557.0,589.5 557.5,589.2 558.0,588.2 558.5,588.2 559.0,588.3 559.5,588.5 560.0,587.2 560.5,585.6 561.0,584.5 561.5,580.4 562.0,577.8 562.5,569.1 563.0,557.8 563.5,545.8 564.0,532.9 564.5,521.8 565.0,520.2 565.5,523.9 566.0,538.9 566.5,551.3 567.0,564.1 567.5,573.9 568.0,578.2 568.5,582.2 569.0,585.4 569.5,586.1 570.0,588.7 570.5,588.9 571.0,589.0 571.5,589.4 572.0,590.3 572.5,592.6 573.0,590.5 573.5,590.2 574.0,590.3 574.5,588.9 575.0,591.5 575.5,591.1 576.0,590.9 576.5,591.4 577.0,591.0 577.5,590.8 578.0,590.3 578.5,590.0 579.0,590.7 579.5,590.6 580.0,591.0 580.5,590.8 581.0,592.2 581.5,592.3 582.0,591.1 582.5,591.7 583.0,590.3 583.5,591.8 584.0,592.0 584.5,591.7 585.0,590.9 585.5,592.4 586.0,591.2 586.5,590.7 587.0,590.7 587.5,591.8 588.0,591.4 588.5,592.2 589.0,592.0 589.5,592.4 590.0,591.6 590.5,591.3 591.0,591.1 591.5,590.5 592.0,590.3 592.5,590.3 593.0,590.8 593.5,589.9 594.0,590.3 594.5,590.9 595.0,588.3 595.5,589.0 596.0,588.6 596.5,588.9 597.0,587.5 597.5,587.5 598.0,588.8 598.5,585.4 599.0,585.0 599.5,583.3 600.0,580.2 600.5,575.5 601.0,571.4 601.5,561.6 602.0,552.5 602.5,541.5 603.0,528.8 603.5,518.7 604.0,509.3 604.5,509.1 605.0,512.2 605.5,523.3 606.0,534.5 606.5,546.1 607.0,557.0 607.5,566.8 608.0,572.6 608.5,577.9 609.0,580.8 609.5,582.3 610.0,585.6 610.5,585.3 611.0,586.2 611.5,587.8 612.0,587.5 612.5,586.5 613.0,586.9 613.5,587.3 614.0,586.5 614.5,584.5 615.0,584.0 615.5,579.7 616.0,576.3 616.5,573.6 617.0,574.9 617.5,574.4 618.0,576.7 618.5,579.1 619.0,581.9 619.5,584.5 620.0,587.0 620.5,588.4 621.0,589.3 621.5,590.5 622.0,590.0 622.5,590.1 623.0,591.1 623.5,590.0 624.0,592.1 624.5,592.1 625.0,592.2 625.5,591.2 626.0,591.6 626.5,592.0 627.0,591.3 627.5,591.2 628.0,591.8 628.5,592.0 629.0,591.4 629.5,592.5 630.0,593.3 630.5,592.1 631.0,591.6 631.5,591.5 632.0,592.8 632.5,591.9 633.0,592.0 633.5,591.7 634.0,591.1 634.5,592.4 635.0,591.1 635.5,589.9 636.0,589.4 636.5,592.1 637.0,590.9 637.5,590.0 638.0,589.2 638.5,588.9 639.0,587.8 639.5,588.8 640.0,587.5 640.5,587.9 641.0,587.5 641.5,588.0 642.0,586.3 642.5,585.9 643.0,585.7 643.5,584.4 644.0,584.3 644.5,584.3 645.0,584.6 645.5,584.0 646.0,582.9 646.5,583.7 647.0,582.3 647.5,581.2 648.0,583.2 648.5,579.9 649.0,581.1 649.5,580.3 650.0,580.6 650.5,581.8 651.0,580.2 651.5,581.5 652.0,579.5 652.5,577.4 653.0,578.5 653.5,577.6 654.0,575.7 654.5,576.6 655.0,575.3 655.5,574.7 656.0,575.3 656.5,575.4 657.0,574.0 657.5,573.4 658.0,572.1 658.5,573.2 659.0,572.6 659.5,570.3 660.0,570.8 660.5,569.9 661.0,568.3 661.5,570.2 662.0,569.2 662.5,567.7 663.0,567.8 663.5,566.8 664.0,565.0 664.5,564.6 665.0,561.5 665.5,559.8 666.0,555.8 666.5,553.1 667.0,548.3 667.5,539.7 668.0,531.4 668.5,521.8 669.0,511.3 669.5,496.3 670.0,482.0 670.5,469.0 671.0,458.5 671.5,447.8 672.0,446.5 672.5,451.3 673.0,458.6 673.5,470.7 674.0,486.0 674.5,498.6 675.0,515.4 675.5,526.5 676.0,536.6 676.5,546.1 677.0,551.1 677.5,559.0 678.0,562.9 678.5,567.3 679.0,569.0 679.5,573.6 680.0,573.6 680.5,576.7 681.0,576.9 681.5,579.2 682.0,579.6 682.5,581.8 683.0,580.0 683.5,582.4 684.0,583.0 684.5,583.4 685.0,583.7 685.5,585.6 686.0,586.1 686.5,584.6 687.0,587.6 687.5,585.6 688.0,586.0 688.5,585.9 689.0,588.6 689.5,588.1 690.0,588.8 690.5,589.2 691.0,587.5 691.5,587.9 692.0,588.6 692.5,588.6 693.0,588.8 693.5,587.5 694.0,590.3 694.5,589.3 695.0,589.2 695.5,589.1 696.0,588.8 696.5,589.3 697.0,590.6 697.5,589.9 698.0,590.3 698.5,590.8 699.0,588.9 699.5,590.2 700.0,590.0 700.5,590.6 701.0,589.5 701.5,591.2 702.0,589.1 702.5,589.6 703.0,589.2 703.5,589.2 704.0,589.4 704.5,588.8 705.0,588.3 705.5,588.6 706.0,588.4 706.5,589.0 707.0,589.5 707.5,588.3 708.0,586.6 708.5,588.4 709.0,587.5 709.5,586.3 710.0,586.1 710.5,586.8 711.0,583.8 711.5,583.7 712.0,582.8 712.5,583.3 713.0,586.0 713.5,587.9 714.0,588.3 714.5,588.8 715.0,588.7 715.5,589.1 716.0,591.2 716.5,589.5 717.0,590.3 717.5,588.4 718.0,589.4 718.5,589.3 719.0,589.1 719.5,587.4 720.0,588.6 720.5,589.8 721.0,589.2 721.5,588.3 722.0,589.5 722.5,587.7 723.0,589.4 723.5,589.3 724.0,588.7 724.5,588.5 725.0,588.1 725.5,589.1 726.0,590.5 726.5,590.0 727.0,589.7 727.5,590.1 728.0,589.1 728.5,589.9 729.0,587.5 729.5,588.9 730.0,588.5 730.5,588.2 731.0,587.3 731.5,586.7 732.0,584.5 732.5,583.9 733.0,581.2 733.5,580.3 734.0,578.3 734.5,578.1 735.0,578.0 735.5,578.4 736.0,580.6 736.5,579.6 737.0,584.5 737.5,586.6 738.0,587.8 738.5,589.2 739.0,591.0 739.5,592.0 740.0,592.8 740.5,592.0 741.0,592.5 741.5,593.7 742.0,594.1 742.5,592.6 743.0,595.3 743.5,595.0 744.0,593.6 744.5,595.3 745.0,594.4 745.5,594.7 746.0,594.3 746.5,594.5 747.0,594.8 747.5,595.2 748.0,594.4 748.5,595.1 749.0,594.7 749.5,594.9 750.0,594.6 750.5,593.5 751.0,596.3 751.5,594.2 752.0,594.5 752.5,595.3 753.0,595.1 753.5,594.7 754.0,595.7 754.5,594.7 755.0,595.4 755.5,596.0 756.0,595.8 756.5,595.2 757.0,595.3 757.5,594.2 758.0,595.4 758.5,594.3 759.0,595.5 759.5,594.9 760.0,595.4 760.5,594.5 761.0,594.3 761.5,591.4 762.0,592.6 762.5,593.7 763.0,592.2 763.5,591.0 764.0,591.2 764.5,590.0 765.0,589.5 765.5,587.9 766.0,588.0 766.5,587.8 767.0,586.1 767.5,585.4 768.0,583.7 768.5,583.7 769.0,582.3 769.5,580.8 770.0,580.7 770.5,580.1 771.0,580.0 771.5,581.1 772.0,578.1 772.5,577.4 773.0,577.7 773.5,577.5 774.0,576.1 774.5,575.8 775.0,575.6 775.5,575.1 776.0,576.7 776.5,574.1 777.0,575.2 777.5,574.2 778.0,575.0 778.5,575.9 779.0,573.9 779.5,577.5 780.0,575.5 780.5,575.5 781.0,576.1 781.5,574.4 782.0,575.6 782.5,575.4 783.0,575.8 783.5,574.2 784.0,575.2 784.5,575.3 785.0,574.1 785.5,572.8 786.0,571.9 786.5,570.5 787.0,570.8 787.5,571.0 788.0,571.3 788.5,570.8 789.0,571.2 789.5,570.7 790.0,572.0 790.5,572.8 791.0,575.2 791.5,576.6 792.0,578.9 792.5,581.1 793.0,582.0 793.5,584.8 794.0,585.1 794.5,586.9 795.0,587.7 795.5,586.8 796.0,590.3 796.5,589.8 797.0,590.0 797.5,591.6 798.0,593.3 798.5,591.5 799.0,594.7 799.5,594.4 800.0,594.9 800.5,594.0 801.0,594.8 801.5,594.7 802.0,596.4 802.5,595.2 803.0,596.0 803.5,595.3 804.0,594.7 804.5,596.2 805.0,596.4 805.5,596.5 806.0,594.1 806.5,595.5 807.0,595.9 807.5,595.7 808.0,595.7 808.5,597.1 809.0,595.5 809.5,596.5 810.0,595.7 810.5,597.1 811.0,596.1 811.5,595.8 812.0,597.0 812.5,596.6 813.0,596.3 813.5,596.5 814.0,596.2 814.5,596.9 815.0,596.8 815.5,597.6 816.0,596.1 816.5,597.4 817.0,596.9 817.5,595.7 818.0,597.6 818.5,595.6 819.0,597.1 819.5,595.7 820.0,597.2 820.5,596.9 821.0,597.0 821.5,594.7 822.0,596.8 822.5,598.0 823.0,597.7 823.5,597.2 824.0,598.6 824.5,596.8 825.0,596.7 825.5,597.1 826.0,597.8 826.5,596.1 827.0,596.1 827.5,597.9 828.0,596.5 828.5,597.0 829.0,597.5 829.5,597.8 830.0,597.6 830.5,597.6 831.0,598.3 831.5,597.5 832.0,597.9 832.5,597.4 833.0,597.5 833.5,598.7 834.0,597.4 834.5,596.1 835.0,597.9 835.5,598.1 836.0,599.2 836.5,598.0 837.0,597.6 837.5,598.4 838.0,599.5 838.5,598.1 839.0,599.0 839.5,598.5 840.0,598.5 840.5,597.4 841.0,597.9 841.5,597.3 842.0,595.7 842.5,597.1 843.0,598.2 843.5,595.3 844.0,597.2 844.5,595.9 845.0,596.7 845.5,598.8 846.0,597.0 846.5,596.2 847.0,597.2 847.5,597.0 848.0,596.8 848.5,598.4 849.0,596.7 849.5,597.5 850.0,596.1 850.5,596.9 851.0,595.4 851.5,595.9 852.0,597.8 852.5,597.5 853.0,596.0 853.5,595.6 854.0,596.3 854.5,594.6 855.0,595.9 855.5,596.8 856.0,595.5 856.5,597.0 857.0,594.6 857.5,595.7 858.0,594.6 858.5,594.8 859.0,593.6 859.5,596.3 860.0,594.7 860.5,593.7 861.0,595.0 861.5,595.3 862.0,593.1 862.5,594.7 863.0,595.3 863.5,594.9 864.0,594.7 864.5,593.7 865.0,592.8 865.5,594.7 866.0,592.9 866.5,594.1 867.0,593.9 867.5,592.1 868.0,592.3 868.5,592.8 869.0,593.0 869.5,591.5 870.0,591.9 870.5,591.3 871.0,591.1 871.5,591.9 872.0,591.5 872.5,590.6" fill="none" stroke="#FF0000" stroke-width="2.8" stroke-linejoin="round"/>
<polyline points="876.5,599.4 877.0,597.0 877.5,600.5 878.0,600.3 878.5,600.9 879.0,600.8 879.5,601.7 880.0,601.4 880.5,601.4 881.0,602.8 881.5,602.3 882.0,602.1 882.5,602.4 883.0,604.0 883.5,602.5 884.0,604.1 884.5,603.6 885.0,602.5 885.5,604.0 886.0,603.2 886.5,603.5 887.0,603.2 887.5,603.7 888.0,603.7 888.5,604.0 889.0,604.1 889.5,602.2 890.0,602.1 890.5,603.8 891.0,603.7 891.5,603.1 892.0,603.8 892.5,603.9 893.0,602.9 893.5,603.6 894.0,604.5 894.5,603.7 895.0,604.0 895.5,604.1 896.0,604.4 896.5,604.6 897.0,604.8 897.5,604.3 898.0,604.4 898.5,604.3 899.0,604.6 899.5,604.5 900.0,605.1 900.5,605.1 901.0,604.0 901.5,603.6 902.0,605.2 902.5,604.7 903.0,604.1 903.5,605.5 904.0,605.8 904.5,604.2 905.0,604.2 905.5,604.2 906.0,604.0 906.5,604.3 907.0,603.6 907.5,604.1 908.0,603.7 908.5,604.4 909.0,603.6 909.5,604.0 910.0,604.3 910.5,603.6 911.0,603.6 911.5,602.9 912.0,603.2 912.5,604.5 913.0,603.9 913.5,603.2 914.0,602.9 914.5,603.0 915.0,603.7 915.5,601.9 916.0,603.2 916.5,602.2 917.0,603.7 917.5,601.9 918.0,604.8 918.5,602.2 919.0,602.2 919.5,602.9 920.0,601.7 920.5,601.9 921.0,601.6 921.5,600.5 922.0,601.0 922.5,601.4 923.0,600.9 923.5,600.7 924.0,600.1 924.5,601.3 925.0,599.9 925.5,601.0 926.0,599.7 926.5,599.5 927.0,597.6 927.5,597.8 928.0,596.4 928.5,596.4 929.0,596.7 929.5,596.3 930.0,598.3 930.5,597.6 931.0,596.7 931.5,598.0 932.0,597.8 932.5,599.0 933.0,598.0 933.5,599.4 934.0,599.6 934.5,596.9 935.0,598.1 935.5,597.0 936.0,598.6 936.5,597.2 937.0,597.9 937.5,597.5 938.0,596.6 938.5,596.0 939.0,597.5 939.5,596.2 940.0,596.6 940.5,597.2 941.0,596.3 941.5,596.0 942.0,595.6 942.5,596.5 943.0,595.7 943.5,595.1 944.0,595.8 944.5,595.8 945.0,595.1 945.5,596.0 946.0,596.6 946.5,596.4 947.0,597.2 947.5,596.6 948.0,595.9 948.5,594.4 949.0,595.7 949.5,596.3 950.0,595.3 950.5,596.3 951.0,594.7 951.5,595.4 952.0,595.7 952.5,596.1 953.0,594.9 953.5,596.1 954.0,594.4 954.5,593.3 955.0,594.2 955.5,595.0 956.0,593.7 956.5,594.7 957.0,593.3 957.5,594.4 958.0,591.4 958.5,594.0 959.0,590.6 959.5,591.3 960.0,589.7 960.5,589.5 961.0,587.6 961.5,585.6 962.0,583.6 962.5,580.6 963.0,575.9 963.5,572.6 964.0,565.7 964.5,561.2 965.0,556.2 965.5,553.8 966.0,550.1 966.5,550.2 967.0,551.6 967.5,554.3 968.0,559.7 968.5,564.5 969.0,567.6 969.5,572.0 970.0,573.2 970.5,578.6 971.0,581.4 971.5,581.5 972.0,584.2 972.5,586.3 973.0,586.3 973.5,588.7 974.0,589.6 974.5,589.0 975.0,590.0 975.5,592.2 976.0,591.2 976.5,592.5 977.0,593.0 977.5,594.9 978.0,595.9 978.5,596.8 979.0,597.4 979.5,597.0 980.0,599.2 980.5,599.0 981.0,600.9 981.5,601.0 982.0,600.4 982.5,600.8 983.0,601.4 983.5,602.3 984.0,601.3 984.5,601.8 985.0,600.1 985.5,601.0 986.0,602.8 986.5,602.7 987.0,601.4 987.5,600.8 988.0,600.3 988.5,600.2 989.0,600.2 989.5,599.2 990.0,599.7 990.5,599.2 991.0,599.7 991.5,597.3 992.0,596.7 992.5,596.3" fill="none" stroke="#FF0000" stroke-width="2.8" stroke-linejoin="round"/>
<polyline points="998.0,595.5 998.5,597.0 999.0,597.5 999.5,598.1 1000.0,598.5 1000.5,599.5 1001.0,601.3 1001.5,600.7 1002.0,600.7 1002.5,601.4 1003.0,602.5 1003.5,602.1 1004.0,603.3 1004.5,603.5 1005.0,603.4 1005.5,604.5 1006.0,603.0 1006.5,603.7 1007.0,604.1 1007.5,604.5 1008.0,603.7 1008.5,604.2 1009.0,605.4 1009.5,604.4 1010.0,605.2 1010.5,604.6 1011.0,604.3 1011.5,606.3 1012.0,605.4 1012.5,604.6 1013.0,603.9 1013.5,604.2 1014.0,604.4 1014.5,604.5 1015.0,604.2 1015.5,605.2 1016.0,604.3 1016.5,605.6 1017.0,604.6 1017.5,604.7 1018.0,606.0 1018.5,605.9 1019.0,605.4 1019.5,605.3 1020.0,605.6 1020.5,605.8 1021.0,606.0 1021.5,606.4 1022.0,605.4 1022.5,605.9 1023.0,606.0 1023.5,605.2 1024.0,606.6 1024.5,606.8 1025.0,605.9 1025.5,605.0 1026.0,603.9 1026.5,606.5 1027.0,605.0 1027.5,605.1 1028.0,606.0 1028.5,606.6 1029.0,606.9 1029.5,607.1 1030.0,605.3 1030.5,606.4 1031.0,606.2 1031.5,606.2 1032.0,607.1 1032.5,606.8 1033.0,606.1 1033.5,606.6 1034.0,606.5 1034.5,607.1 1035.0,604.9 1035.5,606.6 1036.0,605.9 1036.5,606.5 1037.0,606.2 1037.5,606.4 1038.0,606.2 1038.5,607.0 1039.0,605.9 1039.5,605.7 1040.0,605.9 1040.5,606.4 1041.0,606.4 1041.5,605.9 1042.0,605.4 1042.5,605.4 1043.0,604.9 1043.5,605.1 1044.0,604.1 1044.5,604.3 1045.0,601.8 1045.5,599.8 1046.0,597.7 1046.5,593.3 1047.0,589.5 1047.5,584.5 1048.0,577.2 1048.5,574.6 1049.0,569.4 1049.5,566.2 1050.0,567.8 1050.5,570.4 1051.0,575.1 1051.5,580.0 1052.0,585.3 1052.5,590.5 1053.0,593.8 1053.5,598.0 1054.0,600.5 1054.5,602.8 1055.0,603.6 1055.5,605.0 1056.0,604.7 1056.5,605.5 1057.0,606.8 1057.5,607.4 1058.0,607.5 1058.5,606.5 1059.0,607.0 1059.5,607.4 1060.0,608.5 1060.5,607.7 1061.0,608.3 1061.5,608.5 1062.0,608.6 1062.5,608.4 1063.0,608.6 1063.5,608.9 1064.0,608.5 1064.5,608.4 1065.0,608.8 1065.5,609.1 1066.0,609.5 1066.5,607.7 1067.0,608.3 1067.5,608.2 1068.0,607.6 1068.5,608.0 1069.0,607.8 1069.5,607.7 1070.0,608.0 1070.5,608.6 1071.0,607.9 1071.5,608.2 1072.0,608.5 1072.5,608.1 1073.0,608.1 1073.5,608.0 1074.0,608.5 1074.5,609.6 1075.0,608.1 1075.5,609.5 1076.0,608.6 1076.5,608.6 1077.0,609.5 1077.5,609.4 1078.0,609.4 1078.5,609.0 1079.0,609.4 1079.5,608.6 1080.0,609.0 1080.5,609.3 1081.0,608.8 1081.5,608.3 1082.0,609.6 1082.5,608.6 1083.0,608.2 1083.5,608.9 1084.0,609.2 1084.5,608.8 1085.0,607.8 1085.5,608.4 1086.0,608.5 1086.5,608.5 1087.0,607.4 1087.5,607.4 1088.0,608.1 1088.5,607.9 1089.0,608.0 1089.5,607.2 1090.0,606.9 1090.5,606.9 1091.0,607.1 1091.5,608.0 1092.0,608.5 1092.5,607.5 1093.0,605.7 1093.5,607.0 1094.0,607.3 1094.5,607.5 1095.0,606.3 1095.5,607.7 1096.0,606.2 1096.5,607.3 1097.0,607.4 1097.5,606.4 1098.0,605.6 1098.5,607.4 1099.0,606.4 1099.5,605.5 1100.0,608.0 1100.5,605.4 1101.0,606.0 1101.5,605.2 1102.0,605.7 1102.5,606.0 1103.0,605.1 1103.5,605.3 1104.0,605.3 1104.5,605.1 1105.0,604.7 1105.5,605.2 1106.0,605.3 1106.5,605.1 1107.0,604.7 1107.5,605.0 1108.0,605.8 1108.5,605.6 1109.0,604.8 1109.5,605.3 1110.0,605.3 1110.5,605.3 1111.0,605.0 1111.5,605.2 1112.0,604.7 1112.5,605.2 1113.0,605.1 1113.5,605.1 1114.0,605.0 1114.5,604.9 1115.0,605.4 1115.5,603.6 1116.0,604.2 1116.5,603.8 1117.0,604.2 1117.5,603.3 1118.0,603.2 1118.5,602.6 1119.0,603.1 1119.5,602.8 1120.0,603.5 1120.5,602.8 1121.0,603.4 1121.5,602.1 1122.0,601.4 1122.5,602.8 1123.0,602.3 1123.5,602.6 1124.0,601.0 1124.5,600.0 1125.0,601.3 1125.5,599.9 1126.0,598.5 1126.5,599.0 1127.0,596.6 1127.5,594.7 1128.0,594.1 1128.5,592.3 1129.0,591.3 1129.5,591.6 1130.0,591.6 1130.5,592.2 1131.0,593.4 1131.5,594.0 1132.0,596.5 1132.5,598.5 1133.0,600.3 1133.5,600.3 1134.0,601.6 1134.5,601.0 1135.0,601.3 1135.5,601.6 1136.0,602.3 1136.5,603.2 1137.0,602.9 1137.5,603.9 1138.0,603.0 1138.5,604.3 1139.0,603.3 1139.5,603.4 1140.0,603.5 1140.5,603.3 1141.0,603.3 1141.5,603.7 1142.0,601.6 1142.5,603.5 1143.0,602.7 1143.5,602.6 1144.0,602.2 1144.5,603.2 1145.0,602.1 1145.5,602.4 1146.0,601.7 1146.5,601.0 1147.0,600.0 1147.5,599.3 1148.0,597.9 1148.5,597.1 1149.0,594.4 1149.5,592.8 1150.0,591.0 1150.5,592.0 1151.0,590.0 1151.5,591.3 1152.0,592.3 1152.5,592.6 1153.0,594.5 1153.5,597.0 1154.0,598.2 1154.5,599.0 1155.0,601.1 1155.5,603.0 1156.0,603.3 1156.5,604.2 1157.0,605.2 1157.5,606.2 1158.0,605.5 1158.5,605.6 1159.0,606.1 1159.5,606.2 1160.0,605.9 1160.5,606.7 1161.0,606.4 1161.5,607.7 1162.0,607.0 1162.5,605.8 1163.0,606.6 1163.5,607.4 1164.0,606.9 1164.5,606.7 1165.0,606.8 1165.5,606.7 1166.0,608.8 1166.5,606.7 1167.0,606.4 1167.5,607.2 1168.0,606.0 1168.5,606.6 1169.0,605.8 1169.5,606.0 1170.0,605.7 1170.5,605.2 1171.0,605.3 1171.5,606.2 1172.0,604.6 1172.5,606.1 1173.0,605.2 1173.5,605.4 1174.0,603.9 1174.5,604.5 1175.0,603.8 1175.5,604.5 1176.0,602.8 1176.5,603.5 1177.0,602.2 1177.5,603.1 1178.0,601.9 1178.5,601.4 1179.0,601.3 1179.5,601.8 1180.0,603.1 1180.5,601.6 1181.0,602.1 1181.5,602.6 1182.0,602.8 1182.5,603.0 1183.0,603.8 1183.5,602.8 1184.0,602.2 1184.5,603.4 1185.0,602.8 1185.5,602.9 1186.0,603.2 1186.5,604.0 1187.0,603.9 1187.5,603.3 1188.0,603.1 1188.5,603.7 1189.0,603.1 1189.5,602.7 1190.0,603.4 1190.5,604.5 1191.0,603.7 1191.5,604.0 1192.0,605.2 1192.5,605.4 1193.0,605.6 1193.5,604.5 1194.0,604.2 1194.5,605.9 1195.0,607.0 1195.5,605.3 1196.0,605.6 1196.5,605.5 1197.0,605.9 1197.5,606.6 1198.0,606.8 1198.5,606.3 1199.0,607.3 1199.5,607.2 1200.0,608.0 1200.5,607.2 1201.0,607.7 1201.5,606.5 1202.0,608.2 1202.5,608.2 1203.0,608.5 1203.5,608.2 1204.0,608.3 1204.5,608.4 1205.0,609.2 1205.5,608.2 1206.0,608.8 1206.5,609.2 1207.0,608.8 1207.5,608.7 1208.0,610.3 1208.5,609.5 1209.0,610.3 1209.5,609.4 1210.0,608.7 1210.5,610.5 1211.0,610.2 1211.5,610.7 1212.0,610.6 1212.5,610.9 1213.0,610.2 1213.5,611.6 1214.0,611.0 1214.5,612.0 1215.0,610.9 1215.5,612.5 1216.0,612.0 1216.5,611.0 1217.0,612.2 1217.5,611.0 1218.0,612.3 1218.5,611.7 1219.0,613.3 1219.5,612.0 1220.0,612.7 1220.5,611.0 1221.0,612.4 1221.5,612.3 1222.0,612.0 1222.5,612.6 1223.0,611.7 1223.5,612.2 1224.0,612.0 1224.5,612.2 1225.0,611.6 1225.5,612.5 1226.0,612.5 1226.5,612.5 1227.0,612.5 1227.5,612.3 1228.0,612.3 1228.5,612.5 1229.0,612.8 1229.5,612.1 1230.0,612.7 1230.5,613.5 1231.0,613.1 1231.5,612.3 1232.0,613.4 1232.5,612.0 1233.0,612.7 1233.5,613.4 1234.0,613.2 1234.5,613.1 1235.0,612.4 1235.5,611.0 1236.0,613.2 1236.5,612.1 1237.0,613.7 1237.5,612.7 1238.0,612.4 1238.5,612.7 1239.0,612.1 1239.5,612.8 1240.0,613.0 1240.5,612.9 1241.0,613.9 1241.5,613.9 1242.0,612.9 1242.5,612.8 1243.0,613.7 1243.5,613.6 1244.0,612.5 1244.5,612.7 1245.0,612.7 1245.5,611.6 1246.0,612.8 1246.5,612.5 1247.0,613.5 1247.5,614.8 1248.0,612.4 1248.5,613.0 1249.0,613.0 1249.5,614.0 1250.0,613.1 1250.5,613.9 1251.0,614.3 1251.5,613.2 1252.0,613.8 1252.5,613.6 1253.0,614.0 1253.5,612.9 1254.0,613.3 1254.5,612.6 1255.0,614.5 1255.5,612.4 1256.0,614.3 1256.5,612.4 1257.0,612.8 1257.5,612.7 1258.0,613.1 1258.5,613.3 1259.0,613.6 1259.5,613.7 1260.0,613.0 1260.5,612.5 1261.0,613.6 1261.5,612.5 1262.0,613.1 1262.5,612.9 1263.0,613.0 1263.5,613.4 1264.0,612.9 1264.5,613.4 1265.0,613.4 1265.5,614.0 1266.0,614.0 1266.5,613.9 1267.0,613.6 1267.5,614.3 1268.0,614.0 1268.5,612.9 1269.0,613.7 1269.5,613.7 1270.0,613.1 1270.5,613.6 1271.0,613.3 1271.5,611.8 1272.0,613.4 1272.5,613.1 1273.0,612.8 1273.5,613.4 1274.0,612.5 1274.5,613.9 1275.0,614.6 1275.5,612.3 1276.0,614.0 1276.5,614.1 1277.0,613.6 1277.5,613.9 1278.0,614.3 1278.5,614.5 1279.0,614.7 1279.5,614.0 1280.0,613.4 1280.5,613.5 1281.0,613.8 1281.5,613.7 1282.0,613.3 1282.5,613.3 1283.0,613.7 1283.5,613.1 1284.0,613.8 1284.5,613.2 1285.0,614.4 1285.5,613.9 1286.0,614.1 1286.5,613.6 1287.0,614.2 1287.5,613.9 1288.0,613.9 1288.5,613.5 1289.0,613.6 1289.5,613.2 1290.0,613.5 1290.5,613.0 1291.0,612.9 1291.5,613.1 1292.0,611.7 1292.5,613.0 1293.0,612.6 1293.5,612.8 1294.0,614.3 1294.5,613.0 1295.0,613.0 1295.5,612.6 1296.0,613.5 1296.5,612.7 1297.0,613.1 1297.5,612.8 1298.0,613.3 1298.5,612.1 1299.0,611.8 1299.5,612.6 1300.0,611.6 1300.5,612.4 1301.0,612.5 1301.5,612.7 1302.0,613.1 1302.5,612.2 1303.0,613.1 1303.5,613.4 1304.0,613.5 1304.5,612.2 1305.0,612.5 1305.5,613.4 1306.0,611.9 1306.5,612.7 1307.0,612.2 1307.5,611.1 1308.0,610.7 1308.5,610.6 1309.0,610.5 1309.5,610.9 1310.0,610.6 1310.5,609.4 1311.0,609.4 1311.5,608.7 1312.0,607.5 1312.5,606.7 1313.0,605.4 1313.5,604.9 1314.0,604.1 1314.5,604.3 1315.0,603.2 1315.5,601.9 1316.0,601.7 1316.5,600.8 1317.0,600.0 1317.5,601.6 1318.0,602.2 1318.5,602.2 1319.0,604.0 1319.5,604.7 1320.0,605.4 1320.5,604.9 1321.0,606.6 1321.5,607.6 1322.0,607.4 1322.5,608.1 1323.0,609.3 1323.5,611.1 1324.0,609.8 1324.5,609.7 1325.0,609.5 1325.5,609.2 1326.0,609.3 1326.5,609.9 1327.0,609.4 1327.5,610.3 1328.0,608.9 1328.5,608.9 1329.0,609.4 1329.5,609.5 1330.0,609.5 1330.5,608.8 1331.0,609.0 1331.5,611.5 1332.0,609.1 1332.5,609.0 1333.0,609.6 1333.5,609.4 1334.0,609.1 1334.5,609.9 1335.0,608.2 1335.5,609.0 1336.0,608.4 1336.5,609.1 1337.0,608.0 1337.5,608.8 1338.0,608.1 1338.5,609.6 1339.0,608.3 1339.5,609.2 1340.0,607.7 1340.5,607.6 1341.0,608.1 1341.5,606.9 1342.0,607.3 1342.5,608.5 1343.0,608.3 1343.5,607.6 1344.0,608.3 1344.5,607.9 1345.0,607.9 1345.5,607.2 1346.0,608.2 1346.5,607.3 1347.0,608.4 1347.5,607.1 1348.0,608.9 1348.5,607.2 1349.0,606.9 1349.5,607.0 1350.0,607.8" fill="none" stroke="#FF0000" stroke-width="2.8" stroke-linejoin="round"/>
<polyline points="1355.5,608.5 1356.0,608.7 1356.5,609.4 1357.0,607.6 1357.5,609.6 1358.0,609.5 1358.5,610.3 1359.0,609.8 1359.5,610.5 1360.0,610.5 1360.5,609.6 1361.0,610.3 1361.5,610.1 1362.0,610.6 1362.5,610.4 1363.0,610.2 1363.5,611.0 1364.0,611.1 1364.5,610.5 1365.0,612.4 1365.5,611.5 1366.0,611.7 1366.5,612.6 1367.0,612.6 1367.5,611.5 1368.0,612.4 1368.5,611.8 1369.0,612.2 1369.5,611.2 1370.0,612.7 1370.5,612.8 1371.0,613.1 1371.5,613.2 1372.0,613.8 1372.5,613.5 1373.0,612.7 1373.5,613.8 1374.0,613.3 1374.5,612.7 1375.0,611.7 1375.5,613.3 1376.0,613.4 1376.5,613.5 1377.0,612.7 1377.5,613.3 1378.0,614.5 1378.5,612.8 1379.0,613.0 1379.5,613.7 1380.0,613.8 1380.5,613.5 1381.0,613.8 1381.5,613.8 1382.0,613.5 1382.5,613.9 1383.0,615.0 1383.5,614.3 1384.0,614.5 1384.5,613.9 1385.0,614.3 1385.5,613.9 1386.0,614.3 1386.5,614.5 1387.0,614.8 1387.5,614.1 1388.0,614.7 1388.5,614.3 1389.0,614.2 1389.5,614.1 1390.0,613.9 1390.5,614.3 1391.0,613.6 1391.5,614.4 1392.0,614.0 1392.5,615.0 1393.0,614.2 1393.5,614.6 1394.0,614.8 1394.5,614.9 1395.0,615.3 1395.5,615.4 1396.0,614.6 1396.5,614.5 1397.0,615.3 1397.5,614.9 1398.0,614.6 1398.5,614.7 1399.0,615.1 1399.5,615.1 1400.0,613.8 1400.5,614.4 1401.0,614.5 1401.5,614.3 1402.0,615.3 1402.5,615.4 1403.0,614.9 1403.5,615.6 1404.0,614.9 1404.5,615.7 1405.0,615.5 1405.5,615.3 1406.0,615.4 1406.5,615.0 1407.0,615.8 1407.5,615.1 1408.0,615.6 1408.5,615.0 1409.0,615.0 1409.5,615.5 1410.0,615.5 1410.5,616.0 1411.0,615.3 1411.5,615.6 1412.0,615.6 1412.5,616.3 1413.0,616.8 1413.5,614.8 1414.0,614.7 1414.5,615.1 1415.0,615.3 1415.5,614.7 1416.0,614.7 1416.5,614.8 1417.0,615.2 1417.5,615.4 1418.0,614.8 1418.5,614.7 1419.0,615.6 1419.5,615.8 1420.0,615.3 1420.5,614.8 1421.0,614.8 1421.5,615.4 1422.0,613.7 1422.5,614.5 1423.0,615.6 1423.5,614.6 1424.0,614.9 1424.5,616.2 1425.0,615.1 1425.5,615.9 1426.0,615.2 1426.5,614.9 1427.0,615.6 1427.5,615.4 1428.0,615.8 1428.5,614.8 1429.0,614.4 1429.5,615.6 1430.0,615.8 1430.5,615.6 1431.0,615.0 1431.5,616.0 1432.0,615.8 1432.5,615.8 1433.0,615.6 1433.5,615.5 1434.0,615.2 1434.5,614.7 1435.0,614.8 1435.5,615.5 1436.0,614.6 1436.5,615.4 1437.0,616.0 1437.5,615.3 1438.0,617.5 1438.5,615.0 1439.0,616.0 1439.5,614.8 1440.0,615.7 1440.5,616.3 1441.0,615.4 1441.5,615.0 1442.0,615.1 1442.5,615.9 1443.0,616.0 1443.5,615.8 1444.0,615.5 1444.5,615.3 1445.0,615.5 1445.5,615.5 1446.0,615.3 1446.5,616.5 1447.0,616.6 1447.5,616.7 1448.0,616.9 1448.5,615.9 1449.0,615.4 1449.5,616.3 1450.0,616.1 1450.5,617.0 1451.0,616.4 1451.5,616.0 1452.0,616.5 1452.5,616.4 1453.0,615.9 1453.5,616.3 1454.0,616.1 1454.5,616.5 1455.0,616.4 1455.5,616.1 1456.0,616.7 1456.5,616.5 1457.0,616.5 1457.5,616.6 1458.0,617.5 1458.5,616.7 1459.0,616.4 1459.5,616.1 1460.0,615.6 1460.5,616.3 1461.0,616.2 1461.5,615.9 1462.0,616.5 1462.5,614.9 1463.0,616.4 1463.5,616.0 1464.0,616.7 1464.5,616.3 1465.0,615.8 1465.5,616.1 1466.0,616.5 1466.5,615.8 1467.0,616.6 1467.5,615.9 1468.0,615.2 1468.5,616.3 1469.0,615.8 1469.5,616.0 1470.0,616.0 1470.5,616.6 1471.0,616.2 1471.5,616.6 1472.0,615.9 1472.5,616.4 1473.0,616.1 1473.5,616.4 1474.0,617.4 1474.5,616.1 1475.0,616.6 1475.5,616.3 1476.0,616.6 1476.5,616.0 1477.0,616.1 1477.5,615.6 1478.0,616.9 1478.5,616.4 1479.0,616.5 1479.5,617.2 1480.0,617.1 1480.5,617.0 1481.0,617.7 1481.5,616.7 1482.0,616.5 1482.5,617.0 1483.0,615.7 1483.5,616.7 1484.0,616.7 1484.5,616.9 1485.0,615.4 1485.5,616.1 1486.0,616.0 1486.5,615.5 1487.0,616.5 1487.5,616.8 1488.0,616.7 1488.5,616.7 1489.0,616.0 1489.5,617.6 1490.0,617.2 1490.5,616.9 1491.0,616.4 1491.5,616.6 1492.0,616.8 1492.5,617.0 1493.0,617.2 1493.5,617.2 1494.0,617.5 1494.5,617.8 1495.0,617.0 1495.5,617.0 1496.0,618.2 1496.5,617.2 1497.0,617.0 1497.5,617.6 1498.0,617.7 1498.5,617.2 1499.0,617.4 1499.5,616.7 1500.0,616.7 1500.5,616.2 1501.0,617.1 1501.5,616.7 1502.0,617.4 1502.5,616.6 1503.0,617.3 1503.5,616.9 1504.0,617.7 1504.5,617.1 1505.0,617.7 1505.5,616.8 1506.0,617.1 1506.5,617.1 1507.0,617.7 1507.5,616.5 1508.0,616.9 1508.5,617.4 1509.0,617.3 1509.5,617.3 1510.0,617.5 1510.5,617.2 1511.0,617.6 1511.5,617.8 1512.0,616.9 1512.5,617.7 1513.0,616.8 1513.5,616.5 1514.0,616.9 1514.5,616.8 1515.0,616.9 1515.5,616.2 1516.0,616.5 1516.5,616.2 1517.0,617.9 1517.5,616.3 1518.0,615.9 1518.5,615.6 1519.0,614.7 1519.5,616.4 1520.0,614.6 1520.5,614.7 1521.0,615.1 1521.5,614.6 1522.0,613.7 1522.5,613.3 1523.0,612.8 1523.5,612.3 1524.0,612.4 1524.5,612.7 1525.0,612.8 1525.5,612.2 1526.0,613.0 1526.5,613.2 1527.0,614.4 1527.5,613.7 1528.0,614.2 1528.5,614.5 1529.0,616.9 1529.5,616.5 1530.0,616.0 1530.5,616.8 1531.0,615.9 1531.5,616.7 1532.0,619.1 1532.5,617.0 1533.0,616.6 1533.5,618.2 1534.0,617.0 1534.5,617.2 1535.0,617.2 1535.5,617.0 1536.0,616.6 1536.5,615.9 1537.0,617.2 1537.5,616.6 1538.0,617.5 1538.5,617.2 1539.0,618.0 1539.5,617.5 1540.0,617.0 1540.5,616.9 1541.0,618.0 1541.5,617.7 1542.0,617.4 1542.5,617.5 1543.0,616.6 1543.5,617.6 1544.0,617.1 1544.5,617.1 1545.0,617.5 1545.5,617.4 1546.0,616.5 1546.5,617.5 1547.0,617.2 1547.5,617.8 1548.0,617.4 1548.5,617.7 1549.0,617.0 1549.5,617.1 1550.0,617.0 1550.5,617.7 1551.0,617.2 1551.5,617.4 1552.0,618.4 1552.5,617.9 1553.0,618.6 1553.5,617.3 1554.0,617.2 1554.5,617.4 1555.0,617.8 1555.5,617.2 1556.0,618.3 1556.5,617.1 1557.0,618.1 1557.5,617.1 1558.0,617.1 1558.5,617.6 1559.0,617.4 1559.5,617.3 1560.0,617.2 1560.5,617.5 1561.0,617.2 1561.5,618.2 1562.0,617.7 1562.5,617.6 1563.0,616.9 1563.5,618.5 1564.0,617.4 1564.5,616.9 1565.0,616.8 1565.5,616.0 1566.0,616.8 1566.5,616.1 1567.0,616.3 1567.5,617.4 1568.0,616.7 1568.5,616.4 1569.0,617.4 1569.5,617.6 1570.0,617.6 1570.5,616.6 1571.0,616.9 1571.5,616.6 1572.0,616.5 1572.5,616.9 1573.0,617.4 1573.5,617.0 1574.0,616.6 1574.5,616.3 1575.0,617.6 1575.5,616.8 1576.0,616.7 1576.5,617.4 1577.0,617.4 1577.5,617.5 1578.0,617.0 1578.5,616.4 1579.0,617.4 1579.5,617.2 1580.0,617.1 1580.5,616.8 1581.0,617.4 1581.5,617.2 1582.0,617.3 1582.5,617.7 1583.0,617.1 1583.5,617.1 1584.0,617.1 1584.5,616.6 1585.0,617.1 1585.5,617.7 1586.0,617.6 1586.5,617.1 1587.0,616.8 1587.5,617.6 1588.0,617.4 1588.5,617.6 1589.0,618.2 1589.5,617.6 1590.0,618.2 1590.5,617.9 1591.0,618.2 1591.5,617.6 1592.0,617.9 1592.5,618.1 1593.0,617.9 1593.5,618.0 1594.0,617.8 1594.5,618.6 1595.0,616.8 1595.5,618.0 1596.0,617.7 1596.5,617.1 1597.0,617.3 1597.5,616.9 1598.0,617.8 1598.5,617.9 1599.0,617.8 1599.5,618.3 1600.0,617.0 1600.5,617.1 1601.0,617.5 1601.5,617.9 1602.0,617.8 1602.5,617.1 1603.0,617.5 1603.5,617.8 1604.0,616.7 1604.5,617.5 1605.0,617.6 1605.5,617.6 1606.0,617.5 1606.5,616.9 1607.0,615.0 1607.5,616.4 1608.0,616.6 1608.5,616.9 1609.0,617.4 1609.5,617.1 1610.0,617.3 1610.5,617.8 1611.0,616.6 1611.5,617.4 1612.0,617.6 1612.5,618.0 1613.0,618.4 1613.5,618.0 1614.0,618.3 1614.5,617.9 1615.0,617.4 1615.5,618.0 1616.0,617.6 1616.5,617.6 1617.0,618.0 1617.5,617.6 1618.0,617.9 1618.5,617.9 1619.0,618.1 1619.5,617.7 1620.0,617.4 1620.5,617.1 1621.0,618.1 1621.5,618.1 1622.0,617.3 1622.5,617.9 1623.0,617.9 1623.5,616.6 1624.0,617.7 1624.5,617.3 1625.0,617.7 1625.5,617.3 1626.0,617.1 1626.5,617.5 1627.0,616.6 1627.5,617.1 1628.0,617.2 1628.5,617.1 1629.0,617.4 1629.5,617.1 1630.0,616.6 1630.5,618.1 1631.0,617.3 1631.5,617.1 1632.0,616.6 1632.5,617.2 1633.0,617.1 1633.5,616.6 1634.0,617.7 1634.5,617.6 1635.0,616.4 1635.5,617.5 1636.0,616.8 1636.5,617.3 1637.0,617.1 1637.5,617.3 1638.0,617.0 1638.5,617.3 1639.0,616.5 1639.5,616.4 1640.0,616.4 1640.5,616.4 1641.0,617.5 1641.5,616.6 1642.0,617.1 1642.5,616.7 1643.0,616.6 1643.5,617.1 1644.0,616.4 1644.5,617.0 1645.0,617.4 1645.5,616.9 1646.0,617.0 1646.5,616.9 1647.0,617.4 1647.5,617.6 1648.0,616.4 1648.5,617.2 1649.0,617.4 1649.5,617.1 1650.0,617.6 1650.5,617.7 1651.0,617.5 1651.5,618.4 1652.0,617.5 1652.5,617.4 1653.0,617.4 1653.5,616.8 1654.0,616.7 1654.5,616.7 1655.0,616.5 1655.5,616.9 1656.0,617.5 1656.5,616.7 1657.0,615.9 1657.5,616.2 1658.0,616.1 1658.5,616.7 1659.0,616.6 1659.5,617.2 1660.0,616.5 1660.5,616.4 1661.0,617.0 1661.5,616.0 1662.0,616.4 1662.5,616.9 1663.0,616.6 1663.5,616.7 1664.0,616.1 1664.5,615.9 1665.0,616.5 1665.5,617.1 1666.0,616.5 1666.5,616.4 1667.0,616.2 1667.5,617.7 1668.0,616.3 1668.5,616.7 1669.0,616.5 1669.5,617.3 1670.0,616.3 1670.5,616.4 1671.0,617.0 1671.5,616.2 1672.0,617.1 1672.5,617.4 1673.0,616.9 1673.5,615.7 1674.0,616.5 1674.5,616.6 1675.0,617.2 1675.5,617.3 1676.0,617.0 1676.5,616.5 1677.0,616.3 1677.5,616.3 1678.0,616.0 1678.5,616.0 1679.0,615.9 1679.5,616.1 1680.0,616.6 1680.5,615.5 1681.0,616.8 1681.5,616.3 1682.0,616.4 1682.5,616.0 1683.0,616.0 1683.5,616.5 1684.0,615.8 1684.5,615.6 1685.0,616.0 1685.5,615.7 1686.0,616.6 1686.5,616.1 1687.0,616.3 1687.5,616.1 1688.0,616.1 1688.5,616.5 1689.0,616.2 1689.5,616.6 1690.0,615.2 1690.5,616.1 1691.0,617.2 1691.5,615.8 1692.0,615.0 1692.5,615.8 1693.0,615.7 1693.5,616.4 1694.0,616.4 1694.5,616.4 1695.0,616.1 1695.5,616.2 1696.0,616.2 1696.5,616.7 1697.0,616.3 1697.5,616.6 1698.0,616.8 1698.5,616.4 1699.0,616.6 1699.5,616.3 1700.0,616.1 1700.5,616.3 1701.0,616.3 1701.5,616.0 1702.0,616.7 1702.5,617.0 1703.0,617.0 1703.5,617.2 1704.0,616.4 1704.5,617.4 1705.0,616.2 1705.5,616.4 1706.0,616.9 1706.5,615.6 1707.0,616.5 1707.5,616.5 1708.0,617.3 1708.5,616.1 1709.0,616.5 1709.5,615.5 1710.0,616.6 1710.5,616.0 1711.0,616.1 1711.5,617.0 1712.0,616.4 1712.5,616.1 1713.0,616.9 1713.5,616.6 1714.0,616.3 1714.5,615.8 1715.0,616.1 1715.5,615.8 1716.0,616.2 1716.5,616.1 1717.0,616.2 1717.5,616.0 1718.0,616.2 1718.5,616.7 1719.0,616.1 1719.5,618.1 1720.0,616.8 1720.5,616.8 1721.0,615.7 1721.5,616.8 1722.0,616.6 1722.5,616.7 1723.0,616.4 1723.5,616.4 1724.0,616.0 1724.5,615.9 1725.0,616.6 1725.5,616.0 1726.0,616.2 1726.5,616.7 1727.0,616.0 1727.5,616.2 1728.0,615.4 1728.5,616.4 1729.0,616.6 1729.5,616.2 1730.0,616.0 1730.5,615.6 1731.0,616.1 1731.5,617.2 1732.0,616.2 1732.5,615.7 1733.0,615.4 1733.5,616.0 1734.0,615.2 1734.5,615.5 1735.0,615.6 1735.5,615.6 1736.0,615.9 1736.5,615.7 1737.0,615.2 1737.5,614.8 1738.0,615.8 1738.5,614.6 1739.0,615.1 1739.5,616.6 1740.0,615.3 1740.5,616.2 1741.0,615.3 1741.5,615.7 1742.0,615.8 1742.5,616.0 1743.0,615.4 1743.5,615.1 1744.0,615.6 1744.5,615.8 1745.0,615.0 1745.5,616.2 1746.0,615.4 1746.5,616.4 1747.0,616.4 1747.5,615.6 1748.0,615.8 1748.5,615.9 1749.0,616.5 1749.5,616.1 1750.0,616.6 1750.5,616.1 1751.0,616.6 1751.5,616.0 1752.0,616.7 1752.5,616.5 1753.0,616.8 1753.5,616.6 1754.0,615.5 1754.5,617.1 1755.0,616.3 1755.5,615.7 1756.0,616.0 1756.5,615.9 1757.0,616.6 1757.5,616.2 1758.0,616.3 1758.5,616.7 1759.0,615.6 1759.5,615.6 1760.0,616.2 1760.5,615.4 1761.0,616.4 1761.5,615.4 1762.0,615.4 1762.5,616.1 1763.0,616.4 1763.5,615.7 1764.0,615.5 1764.5,615.1 1765.0,615.6 1765.5,615.6 1766.0,616.1 1766.5,615.7 1767.0,616.3 1767.5,616.0 1768.0,614.9 1768.5,616.7 1769.0,616.5 1769.5,615.6 1770.0,616.7 1770.5,615.6 1771.0,616.4 1771.5,616.2 1772.0,615.8 1772.5,616.4 1773.0,616.3 1773.5,616.3 1774.0,615.6 1774.5,616.5 1775.0,616.0 1775.5,616.6 1776.0,616.3 1776.5,616.2 1777.0,615.4 1777.5,616.6 1778.0,615.9 1778.5,615.7 1779.0,615.4 1779.5,615.6 1780.0,616.9 1780.5,614.8 1781.0,616.0 1781.5,615.2 1782.0,615.4 1782.5,616.1 1783.0,616.1 1783.5,615.8 1784.0,616.1 1784.5,616.6 1785.0,616.0 1785.5,615.5 1786.0,615.8 1786.5,615.9 1787.0,616.7 1787.5,615.9 1788.0,615.4 1788.5,615.6 1789.0,616.7 1789.5,615.4 1790.0,617.0 1790.5,615.6 1791.0,616.6 1791.5,615.7 1792.0,616.1 1792.5,617.5 1793.0,616.4 1793.5,615.7 1794.0,616.3 1794.5,615.4 1795.0,616.1 1795.5,615.8 1796.0,615.2 1796.5,616.6 1797.0,615.9 1797.5,616.2 1798.0,615.8 1798.5,617.2 1799.0,616.7 1799.5,615.9 1800.0,616.9 1800.5,616.4 1801.0,616.7 1801.5,615.1 1802.0,616.2 1802.5,615.6 1803.0,616.1 1803.5,616.0 1804.0,616.3 1804.5,615.3 1805.0,616.1 1805.5,615.6 1806.0,616.6 1806.5,616.1 1807.0,616.2 1807.5,616.2 1808.0,615.8 1808.5,614.9 1809.0,615.0 1809.5,613.8 1810.0,614.0 1810.5,612.4 1811.0,613.4 1811.5,613.3 1812.0,611.5 1812.5,613.3 1813.0,612.7 1813.5,612.2 1814.0,612.1 1814.5,612.1 1815.0,613.1 1815.5,612.4 1816.0,613.4" fill="none" stroke="#FF0000" stroke-width="2.8" stroke-linejoin="round"/>
<polyline points="1821.0,615.1 1821.5,614.3 1822.0,614.9 1822.5,614.4 1823.0,615.2 1823.5,614.6 1824.0,615.6 1824.5,614.8 1825.0,615.1 1825.5,616.1 1826.0,615.6 1826.5,615.6 1827.0,615.6 1827.5,615.9 1828.0,615.3 1828.5,615.4 1829.0,616.6 1829.5,616.0 1830.0,616.1 1830.5,616.1 1831.0,616.2 1831.5,616.7 1832.0,616.3 1832.5,616.2 1833.0,616.0 1833.5,616.3 1834.0,616.8 1834.5,616.0 1835.0,616.1 1835.5,616.8 1836.0,616.3 1836.5,616.7 1837.0,615.8 1837.5,615.9 1838.0,615.8 1838.5,616.4 1839.0,615.6 1839.5,616.5 1840.0,616.2 1840.5,616.5 1841.0,616.7 1841.5,616.8 1842.0,615.4 1842.5,616.7 1843.0,616.9 1843.5,616.3 1844.0,616.9 1844.5,616.9 1845.0,617.0 1845.5,616.2 1846.0,617.3 1846.5,616.2 1847.0,617.0 1847.5,617.1 1848.0,617.1 1848.5,617.0 1849.0,617.5 1849.5,617.2 1850.0,617.0 1850.5,617.4 1851.0,617.1 1851.5,616.8 1852.0,616.5 1852.5,616.5 1853.0,618.2 1853.5,617.2 1854.0,617.9 1854.5,617.5 1855.0,616.0 1855.5,617.1 1856.0,617.1 1856.5,617.0 1857.0,618.0 1857.5,617.0 1858.0,617.6 1858.5,617.1 1859.0,617.1 1859.5,616.8 1860.0,617.8 1860.5,617.0 1861.0,616.6 1861.5,617.0 1862.0,616.3 1862.5,617.5 1863.0,616.4 1863.5,616.6 1864.0,617.0 1864.5,616.4 1865.0,617.4 1865.5,616.8 1866.0,616.8 1866.5,616.8 1867.0,616.8 1867.5,616.9 1868.0,617.7 1868.5,616.8 1869.0,616.5 1869.5,617.5 1870.0,617.4 1870.5,616.9 1871.0,616.9 1871.5,617.7 1872.0,617.2 1872.5,617.1 1873.0,617.1 1873.5,616.9 1874.0,617.4 1874.5,616.6 1875.0,616.7 1875.5,616.3 1876.0,616.8 1876.5,617.7 1877.0,617.0 1877.5,616.5 1878.0,616.7 1878.5,617.0 1879.0,616.7 1879.5,616.4 1880.0,616.4 1880.5,616.4 1881.0,616.7 1881.5,616.8 1882.0,617.4 1882.5,618.6 1883.0,617.1 1883.5,616.8 1884.0,617.2 1884.5,616.7 1885.0,616.3 1885.5,617.4 1886.0,617.5 1886.5,615.8 1887.0,618.7 1887.5,616.5 1888.0,616.7 1888.5,617.3 1889.0,617.1 1889.5,617.1 1890.0,616.7 1890.5,617.7 1891.0,617.1 1891.5,617.2 1892.0,618.0 1892.5,617.4 1893.0,617.7 1893.5,618.7 1894.0,617.7 1894.5,616.3 1895.0,618.0 1895.5,617.6 1896.0,618.4 1896.5,618.3 1897.0,616.5 1897.5,618.6 1898.0,617.2 1898.5,617.7 1899.0,617.7 1899.5,617.5 1900.0,617.6 1900.5,618.0 1901.0,617.6 1901.5,617.3 1902.0,617.5 1902.5,617.4 1903.0,617.4 1903.5,617.5 1904.0,617.4 1904.5,617.9 1905.0,617.2 1905.5,617.1 1906.0,618.1 1906.5,617.4 1907.0,618.1 1907.5,617.6 1908.0,617.2 1908.5,617.7 1909.0,618.4 1909.5,617.3 1910.0,617.6 1910.5,617.1 1911.0,619.3 1911.5,617.9 1912.0,619.0 1912.5,617.3 1913.0,618.6 1913.5,618.5 1914.0,618.8 1914.5,618.5 1915.0,618.7 1915.5,618.4 1916.0,618.4 1916.5,618.9 1917.0,617.5 1917.5,618.9 1918.0,618.1 1918.5,618.3 1919.0,618.7 1919.5,618.7 1920.0,618.2 1920.5,618.0 1921.0,617.4 1921.5,618.6 1922.0,617.9 1922.5,617.8 1923.0,617.6 1923.5,618.0 1924.0,618.2 1924.5,617.8 1925.0,617.4 1925.5,618.4 1926.0,617.8 1926.5,618.0 1927.0,618.2 1927.5,618.2 1928.0,618.0 1928.5,618.1 1929.0,618.5 1929.5,618.3 1930.0,618.6 1930.5,618.2 1931.0,619.0 1931.5,618.2 1932.0,618.4 1932.5,618.5 1933.0,618.5 1933.5,618.8 1934.0,618.7 1934.5,618.0" fill="none" stroke="#FF0000" stroke-width="2.8" stroke-linejoin="round"/>
<polyline points="26.0,607.7 26.5,602.2 27.0,606.9 27.5,606.0 28.0,607.5 28.5,606.5 29.0,608.3 29.5,606.3 30.0,605.8 30.5,607.2 31.0,607.1 31.5,606.3 32.0,606.6 32.5,607.9 33.0,608.0 33.5,606.8 34.0,607.1 34.5,602.4 35.0,609.6 35.5,607.6 36.0,609.4 36.5,608.5 37.0,610.4 37.5,610.0 38.0,608.8 38.5,610.3 39.0,607.7 39.5,610.4 40.0,607.6 40.5,609.8 41.0,610.9 41.5,610.1 42.0,609.6 42.5,612.2 43.0,610.0 43.5,611.7 44.0,611.7 44.5,610.5 45.0,609.6 45.5,611.9 46.0,609.7 46.5,611.0 47.0,610.9 47.5,612.8 48.0,612.4 48.5,612.7 49.0,612.6 49.5,611.6 50.0,612.9 50.5,613.8 51.0,612.2 51.5,612.9 52.0,612.0 52.5,613.4 53.0,613.0 53.5,613.4 54.0,613.0 54.5,614.6 55.0,612.6 55.5,612.8 56.0,612.7 56.5,614.2 57.0,612.9 57.5,613.0 58.0,614.6 58.5,615.2 59.0,614.6 59.5,611.2 60.0,613.3 60.5,613.4 61.0,613.5 61.5,614.6 62.0,617.3 62.5,615.2 63.0,614.9 63.5,616.6 64.0,616.0 64.5,616.1 65.0,615.2 65.5,615.9 66.0,616.3 66.5,613.6 67.0,613.9 67.5,616.8 68.0,616.6 68.5,615.2 69.0,614.7 69.5,615.8 70.0,614.8 70.5,616.0 71.0,618.4 71.5,616.9 72.0,621.6 72.5,616.9 73.0,617.7 73.5,618.9 74.0,616.0 74.5,617.1 75.0,617.2 75.5,617.6 76.0,618.9 76.5,617.8 77.0,615.3 77.5,616.4 78.0,615.6 78.5,615.4 79.0,618.5 79.5,615.0 80.0,616.4 80.5,618.6 81.0,617.1 81.5,616.6 82.0,613.6 82.5,616.4 83.0,617.9 83.5,615.9 84.0,616.4 84.5,616.2 85.0,619.1 85.5,617.5 86.0,616.9 86.5,617.7 87.0,620.9 87.5,618.2 88.0,619.4 88.5,619.1 89.0,618.7 89.5,618.1 90.0,618.7 90.5,618.9 91.0,617.1 91.5,622.5 92.0,621.0 92.5,620.4 93.0,620.4 93.5,620.1 94.0,622.3 94.5,621.4 95.0,622.4 95.5,622.8 96.0,622.8 96.5,624.7 97.0,622.4 97.5,623.6 98.0,622.8 98.5,623.9 99.0,623.8 99.5,622.6 100.0,621.9 100.5,622.7 101.0,622.5 101.5,621.8 102.0,623.0 102.5,623.1 103.0,621.8 103.5,622.8 104.0,626.3 104.5,627.3 105.0,623.8 105.5,626.7 106.0,623.9 106.5,620.2 107.0,623.1 107.5,623.8 108.0,626.0 108.5,627.1 109.0,624.0 109.5,627.7 110.0,625.4 110.5,627.1 111.0,627.4 111.5,627.4 112.0,627.0 112.5,627.2 113.0,625.9 113.5,627.4 114.0,628.2 114.5,628.2 115.0,630.0 115.5,628.4 116.0,628.1 116.5,629.1 117.0,627.7 117.5,626.1 118.0,625.1 118.5,628.7 119.0,627.9 119.5,628.1 120.0,626.8 120.5,627.4 121.0,626.0 121.5,627.2 122.0,625.5 122.5,626.1 123.0,627.8 123.5,625.2 124.0,623.5 124.5,623.7 125.0,624.7 125.5,626.9 126.0,626.2 126.5,625.3 127.0,624.8 127.5,626.0 128.0,625.8 128.5,625.3 129.0,625.5 129.5,624.7 130.0,627.2 130.5,622.6 131.0,625.0 131.5,623.6 132.0,625.2 132.5,624.0 133.0,624.5 133.5,624.5 134.0,624.0 134.5,624.6 135.0,621.9 135.5,624.1 136.0,622.5 136.5,622.8 137.0,623.7 137.5,622.7 138.0,623.2 138.5,618.1 139.0,618.9 139.5,620.3 140.0,617.4 140.5,617.7 141.0,619.0 141.5,617.1 142.0,614.1 142.5,614.5 143.0,613.5 143.5,611.6 144.0,610.0 144.5,608.8 145.0,605.5 145.5,605.8 146.0,603.0 146.5,602.8 147.0,600.8 147.5,599.1 148.0,596.3 148.5,593.4 149.0,590.3 149.5,590.9 150.0,585.1 150.5,582.6 151.0,580.2 151.5,579.8 152.0,574.5 152.5,565.9 153.0,563.9 153.5,557.0 154.0,554.4 154.5,551.7 155.0,549.3 155.5,550.5 156.0,551.5 156.5,550.7 157.0,556.4 157.5,563.6 158.0,566.9 158.5,567.9 159.0,568.5 159.5,576.3 160.0,574.1 160.5,580.1 161.0,582.1 161.5,584.4 162.0,584.5 162.5,587.3 163.0,591.0 163.5,590.9 164.0,591.6 164.5,595.0 165.0,596.8 165.5,598.1 166.0,598.8 166.5,601.6 167.0,601.8 167.5,601.4 168.0,603.7 168.5,603.9 169.0,604.6 169.5,602.9 170.0,604.3 170.5,606.0 171.0,606.8 171.5,606.5 172.0,606.5 172.5,607.5 173.0,608.1 173.5,609.4 174.0,608.4 174.5,607.8 175.0,609.6 175.5,607.5 176.0,610.6 176.5,610.8 177.0,612.2 177.5,613.6 178.0,614.1 178.5,613.3 179.0,615.4 179.5,615.8 180.0,617.4 180.5,618.5 181.0,617.7 181.5,620.1 182.0,621.2 182.5,620.1 183.0,621.6 183.5,619.8 184.0,621.3 184.5,623.4 185.0,621.1 185.5,623.0 186.0,621.3 186.5,625.9 187.0,626.6 187.5,625.3 188.0,626.7 188.5,624.5 189.0,628.8 189.5,628.9 190.0,630.5 190.5,627.3 191.0,630.7 191.5,630.6 192.0,628.8 192.5,631.3 193.0,632.4 193.5,633.7 194.0,633.5 194.5,633.1 195.0,634.4 195.5,634.1 196.0,633.8 196.5,633.6 197.0,634.9 197.5,635.1 198.0,636.9 198.5,634.8 199.0,637.1 199.5,636.1 200.0,637.2 200.5,635.5 201.0,635.9 201.5,636.8 202.0,638.4 202.5,638.0 203.0,638.9 203.5,638.8 204.0,639.8 204.5,637.1 205.0,638.7 205.5,639.9 206.0,639.7 206.5,639.2 207.0,639.8 207.5,640.3 208.0,640.1 208.5,641.7 209.0,639.1 209.5,641.6 210.0,640.0 210.5,639.9 211.0,641.8 211.5,642.3 212.0,643.1 212.5,640.1 213.0,641.7 213.5,640.3 214.0,641.1 214.5,642.0 215.0,643.3 215.5,642.2 216.0,642.3 216.5,639.9 217.0,644.8 217.5,646.2 218.0,642.8 218.5,644.2 219.0,644.3 219.5,646.0 220.0,645.5 220.5,646.7 221.0,644.3 221.5,645.4 222.0,645.0 222.5,644.5 223.0,645.5 223.5,644.6 224.0,647.9 224.5,646.3 225.0,645.1 225.5,645.6 226.0,648.0 226.5,646.1 227.0,647.3 227.5,645.0 228.0,648.1 228.5,647.8 229.0,649.4 229.5,647.1 230.0,646.2 230.5,648.0 231.0,645.5 231.5,648.2 232.0,651.5 232.5,647.8 233.0,651.2 233.5,649.0 234.0,648.7 234.5,649.4 235.0,650.0 235.5,651.1 236.0,648.6 236.5,651.5 237.0,650.8 237.5,651.5 238.0,650.6 238.5,653.0 239.0,651.9 239.5,652.6 240.0,654.6 240.5,654.2 241.0,653.9 241.5,653.2 242.0,654.1 242.5,653.6 243.0,652.7 243.5,652.3 244.0,651.2 244.5,652.0 245.0,654.4 245.5,653.0 246.0,654.8 246.5,653.4 247.0,655.0 247.5,654.5 248.0,653.7 248.5,653.6 249.0,654.5 249.5,654.5 250.0,655.8 250.5,654.4 251.0,653.8 251.5,655.2 252.0,657.0 252.5,656.8 253.0,654.9 253.5,655.2 254.0,655.8 254.5,655.0 255.0,655.4 255.5,655.5 256.0,654.9 256.5,655.5 257.0,655.8 257.5,656.6 258.0,655.5 258.5,656.7 259.0,655.9 259.5,656.1 260.0,655.8 260.5,660.3 261.0,657.8 261.5,657.8 262.0,657.4 262.5,656.5 263.0,656.8 263.5,657.1 264.0,654.5 264.5,657.5 265.0,657.0 265.5,654.6 266.0,656.8 266.5,657.9 267.0,657.0 267.5,657.2 268.0,658.6 268.5,657.5 269.0,658.8 269.5,657.2 270.0,657.4 270.5,658.0 271.0,653.7 271.5,656.6 272.0,656.9 272.5,656.5 273.0,655.5 273.5,657.2 274.0,656.7 274.5,656.6 275.0,656.0 275.5,658.1 276.0,658.0 276.5,657.0 277.0,656.6 277.5,657.0 278.0,658.2 278.5,659.2 279.0,655.3 279.5,656.3 280.0,655.2 280.5,657.0 281.0,655.8 281.5,657.6 282.0,657.3 282.5,658.1 283.0,656.3 283.5,655.7 284.0,657.2 284.5,657.3 285.0,657.8 285.5,655.0 286.0,655.5 286.5,655.0 287.0,653.3 287.5,653.4 288.0,653.2 288.5,654.1 289.0,649.6 289.5,650.9 290.0,651.5 290.5,651.8 291.0,652.7 291.5,651.4 292.0,654.1 292.5,654.8 293.0,654.5 293.5,655.1 294.0,654.7 294.5,656.6 295.0,655.3 295.5,654.7 296.0,655.6 296.5,655.4 297.0,653.1 297.5,654.3 298.0,654.2 298.5,654.9 299.0,656.3 299.5,654.4 300.0,652.3 300.5,653.1 301.0,651.4 301.5,649.3 302.0,648.7 302.5,644.7 303.0,643.8 303.5,639.7 304.0,632.9 304.5,623.8 305.0,611.5 305.5,598.9 306.0,584.0 306.5,570.4 307.0,554.9 307.5,545.9 308.0,545.8 308.5,550.2 309.0,560.3 309.5,575.4 310.0,590.7 310.5,605.1 311.0,618.1 311.5,628.0 312.0,635.6 312.5,641.4 313.0,644.8 313.5,649.1 314.0,652.8 314.5,653.7 315.0,654.2 315.5,655.5 316.0,655.8 316.5,657.5 317.0,659.5 317.5,659.9 318.0,659.8 318.5,659.9 319.0,659.5 319.5,659.0 320.0,660.4 320.5,660.3 321.0,661.7 321.5,661.4 322.0,661.0 322.5,662.2 323.0,664.5 323.5,661.5 324.0,663.4 324.5,663.2 325.0,662.8 325.5,662.4 326.0,663.2 326.5,663.5 327.0,664.1 327.5,664.1 328.0,663.8 328.5,663.0 329.0,663.9 329.5,663.3 330.0,662.9 330.5,664.6 331.0,663.5 331.5,663.2 332.0,664.4 332.5,662.9 333.0,664.6 333.5,665.2 334.0,664.6 334.5,665.3 335.0,667.0 335.5,666.5 336.0,666.1 336.5,665.9 337.0,665.0 337.5,665.4 338.0,665.4 338.5,665.7 339.0,665.9 339.5,665.3 340.0,669.6 340.5,665.4 341.0,666.7 341.5,667.4 342.0,666.7 342.5,666.3 343.0,667.0 343.5,668.7 344.0,669.0 344.5,665.5 345.0,667.9 345.5,667.4 346.0,666.2 346.5,668.1 347.0,668.9 347.5,669.2 348.0,668.4 348.5,667.5 349.0,669.8 349.5,668.8 350.0,669.7 350.5,670.2 351.0,669.6 351.5,669.4 352.0,669.0 352.5,669.3 353.0,669.7 353.5,669.3 354.0,670.0 354.5,668.2 355.0,669.0 355.5,669.8 356.0,669.4 356.5,669.6 357.0,669.2 357.5,670.8 358.0,671.7 358.5,669.8 359.0,671.7 359.5,669.8 360.0,671.3 360.5,669.8 361.0,671.8 361.5,671.5 362.0,671.7 362.5,672.5 363.0,672.0 363.5,671.5 364.0,670.8 364.5,672.7 365.0,670.8 365.5,671.0 366.0,672.5 366.5,672.0 367.0,671.6 367.5,671.9 368.0,670.4 368.5,671.7 369.0,670.5 369.5,671.4 370.0,672.4 370.5,672.6 371.0,673.1 371.5,673.0 372.0,673.2 372.5,673.4 373.0,674.8 373.5,675.0 374.0,673.1 374.5,674.5 375.0,675.5 375.5,674.3 376.0,674.7 376.5,673.9 377.0,671.9 377.5,674.3 378.0,673.7 378.5,673.8 379.0,672.7 379.5,672.8 380.0,673.6 380.5,673.3 381.0,674.0 381.5,672.8 382.0,674.2 382.5,674.0 383.0,673.7 383.5,674.1 384.0,673.5 384.5,673.4 385.0,673.6 385.5,672.6 386.0,673.6 386.5,674.3 387.0,672.5 387.5,674.3 388.0,673.3 388.5,673.6 389.0,673.9 389.5,674.0 390.0,674.8 390.5,673.5 391.0,674.7 391.5,673.2 392.0,673.3 392.5,671.6 393.0,671.8 393.5,671.2 394.0,671.9 394.5,672.1 395.0,672.0 395.5,670.8 396.0,672.3 396.5,670.7 397.0,670.1 397.5,671.4 398.0,671.3 398.5,669.5 399.0,670.8 399.5,668.9 400.0,669.8 400.5,671.4 401.0,670.3 401.5,669.4 402.0,668.9 402.5,667.1 403.0,667.4 403.5,669.5 404.0,664.9 404.5,665.2 405.0,664.7 405.5,663.7 406.0,663.1 406.5,661.8 407.0,660.4 407.5,660.7 408.0,658.5 408.5,659.0 409.0,660.0 409.5,660.2 410.0,658.6 410.5,655.8 411.0,658.7 411.5,657.8 412.0,656.9 412.5,657.5 413.0,657.2 413.5,655.6 414.0,655.5 414.5,657.5 415.0,654.5 415.5,657.0 416.0,656.8 416.5,657.4 417.0,658.1 417.5,657.8 418.0,658.0 418.5,657.4 419.0,657.2 419.5,657.7 420.0,656.8 420.5,656.0 421.0,656.7 421.5,655.4 422.0,656.2 422.5,658.5 423.0,657.1 423.5,656.4 424.0,656.0 424.5,655.0 425.0,656.0 425.5,657.2 426.0,656.6 426.5,656.8 427.0,656.7 427.5,655.2 428.0,658.3 428.5,657.6 429.0,657.5 429.5,657.7 430.0,658.9 430.5,660.2 431.0,660.4 431.5,659.6 432.0,660.4 432.5,660.3 433.0,663.3 433.5,664.8 434.0,666.2 434.5,666.3 435.0,667.8 435.5,667.4 436.0,669.6 436.5,670.0 437.0,670.6 437.5,670.7 438.0,673.7 438.5,671.8 439.0,674.6 439.5,674.0 440.0,675.5 440.5,675.0 441.0,676.4 441.5,676.1 442.0,675.8 442.5,676.6 443.0,676.2 443.5,677.9 444.0,678.9 444.5,681.0 445.0,678.9 445.5,680.0 446.0,678.6 446.5,680.1 447.0,680.0 447.5,679.9 448.0,680.9 448.5,679.8 449.0,680.7 449.5,681.2 450.0,680.2 450.5,680.9 451.0,681.5 451.5,681.9 452.0,680.6 452.5,682.0 453.0,681.2 453.5,681.6 454.0,681.3 454.5,682.4 455.0,681.4 455.5,682.2 456.0,682.4 456.5,682.7 457.0,681.4 457.5,682.8 458.0,682.2 458.5,683.3 459.0,682.0 459.5,681.9 460.0,682.3 460.5,682.2 461.0,682.3 461.5,681.6 462.0,681.1 462.5,681.6 463.0,682.2 463.5,683.0 464.0,682.5 464.5,682.1 465.0,680.9 465.5,682.9 466.0,684.9 466.5,684.0 467.0,685.6 467.5,682.3 468.0,683.3 468.5,683.2 469.0,683.9 469.5,684.9 470.0,683.4 470.5,682.1 471.0,683.3 471.5,680.4 472.0,683.9 472.5,684.1 473.0,683.6 473.5,682.3 474.0,683.3 474.5,684.3 475.0,682.8 475.5,683.2 476.0,683.9 476.5,684.1 477.0,683.9 477.5,684.1 478.0,684.1 478.5,683.6 479.0,681.7 479.5,684.2 480.0,683.3 480.5,684.2 481.0,684.1 481.5,684.4 482.0,686.4 482.5,683.3 483.0,683.1 483.5,684.1 484.0,683.8 484.5,683.9 485.0,683.4 485.5,682.8 486.0,683.8 486.5,683.5 487.0,684.0 487.5,684.4 488.0,684.4 488.5,684.4 489.0,683.1 489.5,682.4 490.0,683.5 490.5,683.2 491.0,683.1 491.5,684.5 492.0,683.0 492.5,684.8 493.0,685.0 493.5,686.1 494.0,685.0 494.5,685.7 495.0,683.9 495.5,683.8 496.0,685.0 496.5,683.5 497.0,685.2 497.5,684.3 498.0,683.2 498.5,686.0 499.0,684.1 499.5,686.8 500.0,684.3 500.5,684.9 501.0,685.8 501.5,685.8 502.0,684.9 502.5,686.2 503.0,686.3 503.5,686.6 504.0,685.2 504.5,685.9 505.0,686.3 505.5,686.9 506.0,686.5 506.5,686.1 507.0,686.1 507.5,687.4 508.0,685.8 508.5,686.6 509.0,685.0 509.5,687.6 510.0,686.8 510.5,685.4 511.0,687.1 511.5,687.7 512.0,687.4 512.5,687.0 513.0,687.6 513.5,686.7 514.0,687.1 514.5,687.1 515.0,687.5 515.5,686.8 516.0,688.5 516.5,687.6 517.0,687.1 517.5,687.8 518.0,688.3 518.5,688.2 519.0,689.0 519.5,688.2 520.0,688.1 520.5,689.1 521.0,689.7 521.5,688.4 522.0,689.9 522.5,688.8 523.0,689.3 523.5,688.8 524.0,689.6 524.5,689.0 525.0,690.1 525.5,688.8 526.0,688.9 526.5,689.5 527.0,689.8 527.5,689.9 528.0,688.8 528.5,689.2 529.0,689.4 529.5,689.9 530.0,688.3 530.5,687.9 531.0,688.9 531.5,688.2 532.0,689.1 532.5,688.0 533.0,688.0 533.5,687.1 534.0,687.6 534.5,688.0 535.0,686.9 535.5,686.1 536.0,687.4 536.5,686.5 537.0,686.6 537.5,686.0 538.0,687.0 538.5,685.8 539.0,686.0 539.5,688.0 540.0,686.0 540.5,684.6 541.0,686.3 541.5,685.1 542.0,685.8 542.5,685.0 543.0,684.6 543.5,683.2 544.0,681.4 544.5,681.8 545.0,676.4 545.5,672.3 546.0,666.4 546.5,659.5 547.0,655.4 547.5,653.0 548.0,652.4 548.5,658.0 549.0,660.9 549.5,667.8 550.0,672.3 550.5,678.2 551.0,680.6 551.5,682.6 552.0,684.6 552.5,684.5 553.0,684.7 553.5,686.0 554.0,687.4 554.5,686.2 555.0,687.5 555.5,685.9 556.0,687.1 556.5,687.6 557.0,688.4 557.5,686.0 558.0,687.0 558.5,686.2 559.0,687.8 559.5,686.9 560.0,685.0 560.5,682.7 561.0,680.0 561.5,676.3 562.0,671.4 562.5,664.4 563.0,660.3 563.5,660.4 564.0,666.6 564.5,670.4 565.0,675.9 565.5,680.7 566.0,684.0 566.5,685.7 567.0,686.2 567.5,686.6 568.0,686.5 568.5,686.2 569.0,685.9 569.5,687.1 570.0,686.4 570.5,687.5 571.0,687.9 571.5,687.3 572.0,687.7 572.5,687.9 573.0,688.9 573.5,688.8 574.0,688.5 574.5,689.2 575.0,690.1 575.5,689.4 576.0,689.4 576.5,689.1 577.0,688.7 577.5,689.4 578.0,689.4 578.5,689.2 579.0,690.2 579.5,689.3 580.0,689.3 580.5,689.6 581.0,689.8 581.5,688.4 582.0,689.7 582.5,690.3 583.0,688.8 583.5,689.8 584.0,689.2 584.5,688.9 585.0,689.8 585.5,689.5 586.0,688.3 586.5,689.2 587.0,690.1 587.5,689.2 588.0,689.0 588.5,689.2 589.0,689.0 589.5,689.6 590.0,688.4 590.5,688.0 591.0,688.8 591.5,688.9 592.0,688.4 592.5,688.2 593.0,686.9 593.5,686.1 594.0,686.2 594.5,686.2 595.0,684.5 595.5,684.6 596.0,684.0 596.5,681.3 597.0,680.4 597.5,675.7 598.0,668.9 598.5,661.8 599.0,653.2 599.5,641.9 600.0,633.5 600.5,623.8 601.0,619.3 601.5,620.2 602.0,625.7 602.5,633.1 603.0,643.8 603.5,653.6 604.0,661.5 604.5,670.0 605.0,674.0 605.5,677.6 606.0,680.0 606.5,682.5 607.0,683.8 607.5,684.8 608.0,685.8 608.5,684.9 609.0,685.9 609.5,688.0 610.0,686.3 610.5,686.7 611.0,687.5 611.5,688.0 612.0,687.0 612.5,686.4 613.0,687.9 613.5,685.6 614.0,683.1 614.5,683.9 615.0,682.5 615.5,681.2 616.0,679.8 616.5,680.0 617.0,678.0 617.5,679.1 618.0,680.6 618.5,684.5 619.0,684.7 619.5,685.2 620.0,685.9 620.5,688.0 621.0,688.1 621.5,688.8 622.0,688.2 622.5,688.4 623.0,689.3 623.5,688.9 624.0,689.4 624.5,689.0 625.0,689.0 625.5,689.4 626.0,689.0 626.5,689.4 627.0,689.7 627.5,689.1 628.0,689.4 628.5,687.8 629.0,690.0 629.5,689.7 630.0,689.7 630.5,689.9 631.0,689.3 631.5,689.7 632.0,689.0 632.5,688.3 633.0,689.7 633.5,688.1 634.0,689.2 634.5,690.3 635.0,689.7 635.5,688.4 636.0,689.4 636.5,688.8 637.0,687.9 637.5,688.0 638.0,687.4 638.5,687.2 639.0,687.3 639.5,685.6 640.0,686.8 640.5,687.2 641.0,685.4 641.5,684.5 642.0,684.5 642.5,685.2 643.0,683.7 643.5,684.1 644.0,684.9 644.5,682.5 645.0,682.7 645.5,681.9 646.0,681.6 646.5,681.6 647.0,680.6 647.5,681.0 648.0,680.4 648.5,680.7 649.0,680.0 649.5,679.4 650.0,679.9 650.5,678.4 651.0,678.6 651.5,677.4 652.0,678.5 652.5,676.6 653.0,677.4 653.5,675.7 654.0,676.0 654.5,674.6 655.0,674.4 655.5,673.8 656.0,674.4 656.5,674.0 657.0,673.7 657.5,673.0 658.0,672.0 658.5,672.2 659.0,672.3 659.5,670.3 660.0,669.4 660.5,669.8 661.0,670.3 661.5,667.9 662.0,666.9 662.5,665.3 663.0,664.1 663.5,662.0 664.0,659.4 664.5,657.6 665.0,653.1 665.5,646.0 666.0,638.1 666.5,628.9 667.0,616.5 667.5,603.1 668.0,588.7 668.5,572.6 669.0,559.1 669.5,548.6 670.0,537.4 670.5,535.7 671.0,539.1 671.5,549.5 672.0,563.7 672.5,579.3 673.0,594.2 673.5,607.9 674.0,620.3 674.5,634.9 675.0,642.8 675.5,649.9 676.0,655.9 676.5,660.7 677.0,662.8 677.5,668.1 678.0,668.8 678.5,671.6 679.0,673.2 679.5,673.7 680.0,674.3 680.5,676.7 681.0,676.4 681.5,677.8 682.0,678.9 682.5,678.8 683.0,678.4 683.5,679.6 684.0,680.8 684.5,680.2 685.0,681.7 685.5,680.3 686.0,683.1 686.5,680.7 687.0,681.5 687.5,685.2 688.0,683.0 688.5,682.7 689.0,682.7 689.5,684.2 690.0,683.6 690.5,683.2 691.0,683.0 691.5,683.5 692.0,684.7 692.5,685.2 693.0,685.6 693.5,686.5 694.0,685.9 694.5,685.0 695.0,686.3 695.5,685.9 696.0,684.9 696.5,685.1 697.0,683.9 697.5,684.4 698.0,686.2 698.5,686.3 699.0,686.2 699.5,685.4 700.0,685.9 700.5,688.4 701.0,686.2 701.5,685.8 702.0,685.4 702.5,685.9 703.0,686.7 703.5,685.8 704.0,687.3 704.5,687.3 705.0,684.7 705.5,684.4 706.0,685.2 706.5,686.1 707.0,684.7 707.5,684.5 708.0,684.9 708.5,685.2 709.0,684.4 709.5,683.4 710.0,684.8 710.5,684.9 711.0,685.2 711.5,684.8 712.0,685.0 712.5,684.5 713.0,685.5 713.5,684.9 714.0,685.3 714.5,684.5 715.0,686.0 715.5,685.2 716.0,684.8 716.5,685.1 717.0,684.3 717.5,686.2 718.0,685.6 718.5,685.4 719.0,685.4 719.5,685.2 720.0,682.5 720.5,684.6 721.0,685.7 721.5,684.1 722.0,683.0 722.5,683.9 723.0,683.5 723.5,683.5 724.0,683.5 724.5,682.6 725.0,683.4 725.5,682.8 726.0,683.0 726.5,681.7 727.0,681.0 727.5,680.6 728.0,681.0 728.5,677.4 729.0,677.8 729.5,675.3 730.0,674.4 730.5,671.8 731.0,671.5 731.5,671.5 732.0,673.8 732.5,674.0 733.0,676.5 733.5,678.2 734.0,681.0 734.5,682.2 735.0,684.1 735.5,685.6 736.0,686.6 736.5,686.2 737.0,686.7 737.5,688.4 738.0,687.6 738.5,688.3 739.0,688.2 739.5,687.6 740.0,688.7 740.5,688.9 741.0,690.3 741.5,688.0 742.0,689.0 742.5,689.7 743.0,689.0 743.5,687.9 744.0,689.6 744.5,689.2 745.0,688.4 745.5,688.2 746.0,688.3 746.5,688.7 747.0,688.4 747.5,688.0 748.0,688.6 748.5,689.0 749.0,688.0 749.5,689.4 750.0,688.4 750.5,688.9 751.0,688.8 751.5,689.0 752.0,688.9 752.5,687.4 753.0,688.3 753.5,689.6 754.0,688.5 754.5,689.3 755.0,688.3 755.5,688.9 756.0,690.3 756.5,689.5 757.0,688.8 757.5,689.0 758.0,688.3 758.5,689.6 759.0,689.1 759.5,689.7 760.0,689.7 760.5,689.0 761.0,688.5 761.5,688.4 762.0,688.9 762.5,689.1 763.0,689.9 763.5,688.1 764.0,688.8 764.5,687.4 765.0,687.3 765.5,689.8 766.0,687.0 766.5,685.8 767.0,685.1 767.5,685.7 768.0,684.2 768.5,683.5 769.0,682.4 769.5,684.3 770.0,683.2 770.5,681.6 771.0,682.2 771.5,680.3 772.0,679.1 772.5,679.0 773.0,679.0 773.5,676.5 774.0,677.7 774.5,677.1 775.0,677.0 775.5,675.9 776.0,676.2 776.5,674.2 777.0,675.8 777.5,677.3 778.0,677.7 778.5,678.3 779.0,678.0 779.5,679.4 780.0,678.6 780.5,679.8 781.0,680.2 781.5,679.4 782.0,679.7 782.5,678.6 783.0,678.2 783.5,676.1 784.0,673.7 784.5,672.5 785.0,671.6 785.5,671.6 786.0,672.0 786.5,672.7 787.0,675.3 787.5,677.0 788.0,680.3 788.5,681.1 789.0,684.7 789.5,685.7 790.0,686.6 790.5,687.2 791.0,689.0 791.5,688.9 792.0,690.1 792.5,691.2 793.0,690.4 793.5,690.7 794.0,691.1 794.5,690.6 795.0,692.3 795.5,691.1 796.0,691.9 796.5,691.9 797.0,691.5 797.5,693.0 798.0,692.6 798.5,692.3 799.0,692.5 799.5,693.2 800.0,692.7 800.5,694.1 801.0,694.2 801.5,693.2 802.0,694.2 802.5,694.5 803.0,694.3 803.5,694.5 804.0,692.4 804.5,693.6 805.0,692.7 805.5,693.6 806.0,692.7 806.5,693.1 807.0,693.6 807.5,692.1 808.0,692.8 808.5,692.9 809.0,693.4 809.5,692.6 810.0,694.2 810.5,695.1 811.0,693.9 811.5,692.6 812.0,692.7 812.5,693.6 813.0,694.8 813.5,694.7 814.0,695.0 814.5,695.4 815.0,694.7 815.5,694.6 816.0,694.5 816.5,694.8 817.0,693.5 817.5,695.6 818.0,693.4 818.5,693.6 819.0,694.5 819.5,694.9 820.0,694.5 820.5,695.0 821.0,693.7 821.5,693.5 822.0,694.1 822.5,693.0 823.0,693.8 823.5,693.9 824.0,693.8 824.5,692.3 825.0,693.4 825.5,692.3 826.0,694.0 826.5,693.3 827.0,694.2 827.5,694.4 828.0,692.9 828.5,694.3 829.0,694.1 829.5,694.8 830.0,693.2 830.5,693.3 831.0,693.7 831.5,693.1 832.0,695.9 832.5,693.9 833.0,694.5 833.5,694.6 834.0,694.9 834.5,693.7 835.0,695.0 835.5,695.0 836.0,694.0 836.5,694.2 837.0,693.7 837.5,695.3 838.0,695.4 838.5,694.1 839.0,694.5 839.5,694.8 840.0,695.0 840.5,694.5 841.0,695.5 841.5,694.0 842.0,695.1 842.5,694.6 843.0,694.8 843.5,694.2 844.0,693.6 844.5,694.4 845.0,695.0 845.5,694.3 846.0,693.8 846.5,694.8 847.0,694.9 847.5,694.4 848.0,695.0 848.5,695.4 849.0,695.3 849.5,695.8 850.0,696.0 850.5,695.3 851.0,694.9 851.5,694.4 852.0,696.1 852.5,695.7 853.0,696.1 853.5,695.1 854.0,695.6 854.5,695.0 855.0,695.0 855.5,694.6 856.0,695.3 856.5,695.7 857.0,695.8 857.5,695.5 858.0,695.2 858.5,696.6 859.0,696.4 859.5,696.2 860.0,695.7 860.5,696.5 861.0,695.4 861.5,695.2 862.0,696.4 862.5,696.2 863.0,696.8 863.5,695.8 864.0,696.5 864.5,695.8 865.0,696.4 865.5,698.5 866.0,696.8 866.5,696.4 867.0,696.2 867.5,696.9 868.0,696.7 868.5,696.4 869.0,697.4 869.5,696.8 870.0,698.1 870.5,698.5 871.0,697.9 871.5,698.9 872.0,696.5 872.5,696.2 873.0,697.0 873.5,696.1 874.0,698.2 874.5,697.5 875.0,697.4 875.5,697.5 876.0,696.8 876.5,696.8 877.0,697.0 877.5,695.2 878.0,697.3 878.5,696.6 879.0,696.8 879.5,696.5 880.0,697.4 880.5,697.0 881.0,697.1 881.5,696.8 882.0,696.1 882.5,697.0 883.0,696.1 883.5,697.4 884.0,696.8 884.5,698.3 885.0,696.1 885.5,696.8 886.0,697.6 886.5,697.3 887.0,697.2 887.5,696.7 888.0,698.8 888.5,697.1 889.0,699.0 889.5,697.7 890.0,698.2 890.5,698.6 891.0,698.6 891.5,699.4 892.0,698.7 892.5,698.5 893.0,698.8 893.5,699.7 894.0,699.3 894.5,697.8 895.0,698.8 895.5,698.4 896.0,698.9 896.5,699.2 897.0,698.9 897.5,699.1 898.0,699.6 898.5,697.5 899.0,698.2 899.5,697.6 900.0,696.8 900.5,695.2 901.0,693.9 901.5,691.7 902.0,691.3 902.5,689.9 903.0,693.6 903.5,694.6 904.0,698.3 904.5,698.8 905.0,698.4 905.5,699.0 906.0,699.4 906.5,699.9 907.0,699.6 907.5,699.9 908.0,698.9 908.5,700.9 909.0,698.4 909.5,701.5 910.0,698.5 910.5,699.6 911.0,699.2 911.5,699.2 912.0,698.5 912.5,699.2 913.0,699.3 913.5,699.5 914.0,699.2 914.5,699.6 915.0,698.9 915.5,700.2 916.0,699.2 916.5,701.5 917.0,699.3 917.5,699.0 918.0,699.4 918.5,699.2 919.0,699.7 919.5,699.7 920.0,698.5 920.5,698.4 921.0,698.2 921.5,698.8 922.0,699.0 922.5,698.7 923.0,698.1 923.5,698.1 924.0,698.4 924.5,698.6 925.0,697.8 925.5,698.4 926.0,697.4 926.5,697.6 927.0,698.1 927.5,696.9 928.0,696.4 928.5,696.7 929.0,697.2 929.5,696.6 930.0,697.1 930.5,697.9 931.0,696.8 931.5,697.7 932.0,697.4 932.5,696.2 933.0,697.3 933.5,697.2 934.0,697.2 934.5,696.7 935.0,696.7 935.5,696.2 936.0,696.0 936.5,696.5 937.0,696.9 937.5,696.0 938.0,697.3 938.5,696.0 939.0,696.3 939.5,695.3 940.0,696.9 940.5,696.4 941.0,696.6 941.5,695.1 942.0,696.6 942.5,696.1 943.0,695.4 943.5,695.6 944.0,694.9 944.5,695.7 945.0,696.4 945.5,695.3 946.0,696.1 946.5,695.1 947.0,694.2 947.5,695.7 948.0,696.6 948.5,696.4 949.0,695.2 949.5,694.7 950.0,696.1 950.5,695.6 951.0,695.1 951.5,695.8 952.0,695.1 952.5,694.8 953.0,695.5 953.5,694.4 954.0,695.0 954.5,695.3 955.0,693.8 955.5,694.0 956.0,693.9 956.5,693.8 957.0,692.2 957.5,691.3 958.0,690.2 958.5,688.4 959.0,687.7 959.5,683.8 960.0,681.1 960.5,677.7 961.0,673.8 961.5,668.6 962.0,661.6 962.5,656.6 963.0,652.5 963.5,650.2 964.0,648.3 964.5,649.4 965.0,653.3 965.5,656.4 966.0,661.6 966.5,669.1 967.0,671.9 967.5,675.3 968.0,678.9 968.5,682.9 969.0,683.9 969.5,685.9 970.0,688.3 970.5,689.7 971.0,692.2 971.5,689.9 972.0,691.4 972.5,689.7 973.0,691.7 973.5,694.5 974.0,694.3 974.5,694.4 975.0,694.0 975.5,694.4 976.0,696.2 976.5,696.0 977.0,696.1 977.5,697.4 978.0,697.8 978.5,697.3 979.0,697.8 979.5,699.5 980.0,698.0 980.5,699.4 981.0,698.6 981.5,698.7 982.0,698.8 982.5,699.5 983.0,699.7 983.5,700.3 984.0,699.7 984.5,700.4 985.0,700.0 985.5,700.0 986.0,700.9 986.5,700.9 987.0,699.9 987.5,700.9 988.0,698.9 988.5,700.3 989.0,701.7 989.5,701.4 990.0,700.4 990.5,700.5 991.0,700.4 991.5,700.0 992.0,699.2 992.5,697.0 993.0,697.9 993.5,696.2 994.0,694.9 994.5,696.5 995.0,698.0 995.5,698.6 996.0,699.2 996.5,699.6 997.0,700.5 997.5,701.2 998.0,701.3 998.5,702.3 999.0,702.3 999.5,701.3 1000.0,702.6 1000.5,702.2 1001.0,702.7 1001.5,702.0 1002.0,702.9 1002.5,702.1 1003.0,703.1 1003.5,702.6 1004.0,702.6 1004.5,702.1 1005.0,702.1 1005.5,703.5 1006.0,702.5 1006.5,702.6 1007.0,703.5 1007.5,703.3 1008.0,703.7 1008.5,702.7 1009.0,702.3 1009.5,702.9 1010.0,703.9 1010.5,703.4 1011.0,703.7 1011.5,703.8 1012.0,703.7 1012.5,703.8 1013.0,703.7 1013.5,704.0 1014.0,704.1 1014.5,703.7 1015.0,704.4 1015.5,704.2 1016.0,704.1 1016.5,704.1 1017.0,704.6 1017.5,704.0 1018.0,704.7 1018.5,703.5 1019.0,704.2 1019.5,702.1 1020.0,703.9 1020.5,703.5 1021.0,703.6 1021.5,703.3 1022.0,703.8 1022.5,704.1 1023.0,702.9 1023.5,703.8 1024.0,702.4 1024.5,704.2 1025.0,704.0 1025.5,704.5 1026.0,704.4 1026.5,703.4 1027.0,704.1 1027.5,703.9 1028.0,703.5 1028.5,703.4 1029.0,703.8 1029.5,704.6 1030.0,704.3 1030.5,703.7 1031.0,704.4 1031.5,704.9 1032.0,705.1 1032.5,704.0 1033.0,704.4 1033.5,704.3 1034.0,703.4 1034.5,702.8 1035.0,704.3 1035.5,703.3 1036.0,703.9 1036.5,702.8 1037.0,703.6 1037.5,704.2 1038.0,703.4 1038.5,702.4 1039.0,703.2 1039.5,701.4 1040.0,702.5 1040.5,702.0 1041.0,701.9 1041.5,700.6 1042.0,699.4 1042.5,697.2 1043.0,694.6 1043.5,691.6 1044.0,688.6 1044.5,682.2 1045.0,676.8 1045.5,670.5 1046.0,665.4 1046.5,660.8 1047.0,659.7 1047.5,660.8 1048.0,663.9 1048.5,669.2 1049.0,674.7 1049.5,679.9 1050.0,686.2 1050.5,690.6 1051.0,693.6 1051.5,697.0 1052.0,699.3 1052.5,699.7 1053.0,701.6 1053.5,702.0 1054.0,702.0 1054.5,702.7 1055.0,703.3 1055.5,703.0 1056.0,703.3 1056.5,705.3 1057.0,703.9 1057.5,703.9 1058.0,703.5 1058.5,704.2 1059.0,704.6 1059.5,703.4 1060.0,703.1 1060.5,703.6 1061.0,704.0 1061.5,703.6 1062.0,703.3 1062.5,705.1 1063.0,704.0 1063.5,703.8 1064.0,702.8 1064.5,704.7 1065.0,703.4 1065.5,704.8 1066.0,704.3 1066.5,704.1 1067.0,703.9 1067.5,704.4 1068.0,703.7 1068.5,705.0 1069.0,702.3 1069.5,703.9 1070.0,704.9 1070.5,705.6 1071.0,703.7 1071.5,703.8 1072.0,704.3 1072.5,704.2 1073.0,704.6 1073.5,704.1 1074.0,703.8 1074.5,704.7 1075.0,704.2 1075.5,704.6 1076.0,703.8 1076.5,705.0 1077.0,704.4 1077.5,703.0 1078.0,704.4 1078.5,703.5 1079.0,704.7 1079.5,704.1 1080.0,703.8 1080.5,704.6 1081.0,705.3 1081.5,704.1 1082.0,705.2 1082.5,703.3 1083.0,704.6 1083.5,704.1 1084.0,704.5 1084.5,705.4 1085.0,704.6 1085.5,703.5 1086.0,705.0 1086.5,703.6 1087.0,704.9 1087.5,703.6 1088.0,705.6 1088.5,703.8 1089.0,704.6 1089.5,703.8 1090.0,703.9 1090.5,703.3 1091.0,703.9 1091.5,702.7 1092.0,702.5 1092.5,703.7 1093.0,703.6 1093.5,703.3 1094.0,704.5 1094.5,702.8 1095.0,704.0 1095.5,702.8 1096.0,702.6 1096.5,703.5 1097.0,703.5 1097.5,702.9 1098.0,702.8 1098.5,702.7 1099.0,702.2 1099.5,701.8 1100.0,702.8 1100.5,702.4 1101.0,702.3 1101.5,702.4 1102.0,701.7 1102.5,701.7 1103.0,702.4 1103.5,702.0 1104.0,702.2 1104.5,702.5 1105.0,702.9 1105.5,701.4 1106.0,701.6 1106.5,701.1 1107.0,701.4 1107.5,702.1 1108.0,701.5 1108.5,702.9 1109.0,701.5 1109.5,700.8 1110.0,701.2 1110.5,701.5 1111.0,701.3 1111.5,701.7 1112.0,701.3 1112.5,701.1 1113.0,702.3 1113.5,700.9 1114.0,700.5 1114.5,701.0 1115.0,701.0 1115.5,701.5 1116.0,701.3 1116.5,701.8 1117.0,701.0 1117.5,701.3 1118.0,701.3 1118.5,701.5 1119.0,700.2 1119.5,700.5 1120.0,698.9 1120.5,699.6 1121.0,698.8 1121.5,698.2 1122.0,698.6 1122.5,697.0 1123.0,694.2 1123.5,694.4 1124.0,692.3 1124.5,689.8 1125.0,688.0 1125.5,686.7 1126.0,685.1 1126.5,686.5 1127.0,686.7 1127.5,688.7 1128.0,688.4 1128.5,691.1 1129.0,693.1 1129.5,695.0 1130.0,696.4 1130.5,697.2 1131.0,697.3 1131.5,698.1 1132.0,698.4 1132.5,699.6 1133.0,700.4 1133.5,700.2 1134.0,700.3 1134.5,700.2 1135.0,699.4 1135.5,700.2 1136.0,701.2 1136.5,700.0 1137.0,700.2 1137.5,700.9 1138.0,700.5 1138.5,701.0 1139.0,700.3 1139.5,700.7 1140.0,700.4 1140.5,699.4 1141.0,700.1 1141.5,700.1 1142.0,698.5 1142.5,698.9 1143.0,697.6 1143.5,697.0 1144.0,695.1 1144.5,694.8 1145.0,691.8 1145.5,691.6 1146.0,688.9 1146.5,688.4 1147.0,687.6 1147.5,689.0 1148.0,689.7 1148.5,689.6 1149.0,690.6 1149.5,694.8 1150.0,694.9 1150.5,695.4 1151.0,696.9 1151.5,698.1 1152.0,699.9 1152.5,699.8 1153.0,700.0 1153.5,699.8 1154.0,700.9 1154.5,699.7 1155.0,701.4 1155.5,701.5 1156.0,700.8 1156.5,700.3 1157.0,700.9 1157.5,701.2 1158.0,702.5 1158.5,702.4 1159.0,701.2 1159.5,701.1 1160.0,700.8 1160.5,701.7 1161.0,701.2 1161.5,701.8 1162.0,701.3 1162.5,700.8 1163.0,700.5 1163.5,700.0 1164.0,701.1 1164.5,699.9 1165.0,700.9 1165.5,699.5 1166.0,699.0 1166.5,700.3 1167.0,699.9 1167.5,702.3 1168.0,700.1 1168.5,700.1 1169.0,700.5 1169.5,699.7 1170.0,700.4 1170.5,701.4 1171.0,700.2 1171.5,699.7 1172.0,700.3 1172.5,700.0 1173.0,700.3 1173.5,701.5 1174.0,700.2 1174.5,700.0 1175.0,701.0 1175.5,700.4 1176.0,700.3 1176.5,699.9 1177.0,700.2 1177.5,700.7 1178.0,700.1 1178.5,699.4 1179.0,699.4 1179.5,699.1 1180.0,699.1 1180.5,700.2 1181.0,700.1 1181.5,700.2 1182.0,700.4 1182.5,700.0 1183.0,700.5 1183.5,701.0 1184.0,701.8 1184.5,701.4 1185.0,701.5 1185.5,701.3 1186.0,702.6 1186.5,702.2 1187.0,702.8 1187.5,703.2 1188.0,702.9 1188.5,703.7 1189.0,704.4 1189.5,703.6 1190.0,704.0 1190.5,703.0 1191.0,704.7 1191.5,705.9 1192.0,705.2 1192.5,705.8 1193.0,705.5 1193.5,705.3 1194.0,705.6 1194.5,705.9 1195.0,705.8 1195.5,706.1 1196.0,706.3 1196.5,706.1 1197.0,707.3 1197.5,706.9 1198.0,706.7 1198.5,706.6 1199.0,707.2 1199.5,706.8 1200.0,706.7 1200.5,707.2 1201.0,708.0 1201.5,707.4 1202.0,707.6 1202.5,707.1 1203.0,709.2 1203.5,707.3 1204.0,707.2 1204.5,707.1 1205.0,707.4 1205.5,707.0 1206.0,707.3 1206.5,707.4 1207.0,707.0 1207.5,706.6 1208.0,707.8 1208.5,707.0 1209.0,706.7 1209.5,707.7 1210.0,707.7 1210.5,708.2 1211.0,708.3 1211.5,706.7 1212.0,707.4 1212.5,707.8 1213.0,707.0 1213.5,708.1 1214.0,706.2 1214.5,707.2 1215.0,707.3 1215.5,707.7 1216.0,708.6 1216.5,708.5 1217.0,707.0 1217.5,708.0 1218.0,707.1 1218.5,707.7 1219.0,707.3 1219.5,707.7 1220.0,707.6 1220.5,707.9 1221.0,707.4 1221.5,708.1 1222.0,707.7 1222.5,707.4 1223.0,708.5 1223.5,708.1 1224.0,707.9 1224.5,706.8 1225.0,708.4 1225.5,708.1 1226.0,706.9 1226.5,708.1 1227.0,707.9 1227.5,707.9 1228.0,708.9 1228.5,708.5 1229.0,708.7 1229.5,707.9 1230.0,707.3 1230.5,708.0 1231.0,708.4 1231.5,708.0 1232.0,708.3 1232.5,707.8 1233.0,708.5 1233.5,708.1 1234.0,708.3 1234.5,708.7 1235.0,708.0 1235.5,707.9 1236.0,708.0 1236.5,708.7 1237.0,708.2 1237.5,708.9 1238.0,708.7 1238.5,708.9 1239.0,708.5 1239.5,708.9 1240.0,708.7 1240.5,707.5 1241.0,709.0 1241.5,708.8 1242.0,709.2 1242.5,707.9 1243.0,707.6 1243.5,707.8 1244.0,708.2 1244.5,708.1 1245.0,708.2 1245.5,708.0 1246.0,709.2 1246.5,708.4 1247.0,707.9 1247.5,708.9 1248.0,709.0 1248.5,708.7 1249.0,709.2 1249.5,708.6 1250.0,709.8 1250.5,708.1 1251.0,709.2 1251.5,709.9 1252.0,708.5 1252.5,709.5 1253.0,709.8 1253.5,708.7 1254.0,709.6 1254.5,708.6 1255.0,709.1 1255.5,708.8 1256.0,708.5 1256.5,708.5 1257.0,708.7 1257.5,708.3 1258.0,709.1 1258.5,709.0 1259.0,709.5 1259.5,709.2 1260.0,709.7 1260.5,708.9 1261.0,710.1 1261.5,708.3 1262.0,709.5 1262.5,710.1 1263.0,708.4 1263.5,709.2 1264.0,709.4 1264.5,709.6 1265.0,709.9 1265.5,709.1 1266.0,710.6 1266.5,709.5 1267.0,709.8 1267.5,709.4 1268.0,709.2 1268.5,709.1 1269.0,710.9 1269.5,709.5 1270.0,709.8 1270.5,710.3 1271.0,710.3 1271.5,709.2 1272.0,710.4 1272.5,709.4 1273.0,709.1 1273.5,710.8 1274.0,710.0 1274.5,709.6 1275.0,709.6 1275.5,710.3 1276.0,710.8 1276.5,710.5 1277.0,709.9 1277.5,709.5 1278.0,710.0 1278.5,709.7 1279.0,710.3 1279.5,709.5 1280.0,710.1 1280.5,710.3 1281.0,709.5 1281.5,710.2 1282.0,709.2 1282.5,710.0 1283.0,709.1 1283.5,709.2 1284.0,709.3 1284.5,709.1 1285.0,709.5 1285.5,709.1 1286.0,709.0 1286.5,709.2 1287.0,708.8 1287.5,708.4 1288.0,709.0 1288.5,708.8 1289.0,709.3 1289.5,709.1 1290.0,709.0 1290.5,709.6 1291.0,709.9 1291.5,707.4 1292.0,710.0 1292.5,709.8 1293.0,709.3 1293.5,708.7 1294.0,709.0 1294.5,709.9 1295.0,709.5 1295.5,708.5 1296.0,709.7 1296.5,709.3 1297.0,709.3 1297.5,710.8 1298.0,709.7 1298.5,709.8 1299.0,709.7 1299.5,709.8 1300.0,709.6 1300.5,708.8 1301.0,709.0 1301.5,709.8 1302.0,707.8 1302.5,709.6 1303.0,708.5 1303.5,707.9 1304.0,708.5 1304.5,708.0 1305.0,707.8 1305.5,707.5 1306.0,706.7 1306.5,707.6 1307.0,707.0 1307.5,706.2 1308.0,705.4 1308.5,706.0 1309.0,705.1 1309.5,704.7 1310.0,703.7 1310.5,703.8 1311.0,701.7 1311.5,700.0 1312.0,699.8 1312.5,699.3 1313.0,697.3 1313.5,697.2 1314.0,697.8 1314.5,696.3 1315.0,698.7 1315.5,697.1 1316.0,697.3 1316.5,698.6 1317.0,698.0 1317.5,700.8 1318.0,700.1 1318.5,701.4 1319.0,702.1 1319.5,702.6 1320.0,703.7 1320.5,703.8 1321.0,704.4 1321.5,704.6 1322.0,704.6 1322.5,704.9 1323.0,705.3 1323.5,705.8 1324.0,705.7 1324.5,705.5 1325.0,705.9 1325.5,705.7 1326.0,705.7 1326.5,705.6 1327.0,706.0 1327.5,706.1 1328.0,705.2 1328.5,705.8 1329.0,705.7 1329.5,705.8 1330.0,705.1 1330.5,704.8 1331.0,705.2 1331.5,705.7 1332.0,704.6 1332.5,705.4 1333.0,704.8 1333.5,704.7 1334.0,704.6 1334.5,704.2 1335.0,704.2 1335.5,704.5 1336.0,704.9 1336.5,704.2 1337.0,704.3 1337.5,703.6 1338.0,704.0 1338.5,704.5 1339.0,704.5 1339.5,703.7 1340.0,703.7 1340.5,703.5 1341.0,703.1 1341.5,703.7 1342.0,703.1 1342.5,704.0 1343.0,702.0 1343.5,702.1 1344.0,702.3 1344.5,702.8 1345.0,702.6 1345.5,702.2 1346.0,700.8 1346.5,702.4 1347.0,701.2 1347.5,703.9 1348.0,701.6 1348.5,700.8 1349.0,700.8 1349.5,701.4 1350.0,700.1 1350.5,699.5 1351.0,699.9 1351.5,699.9 1352.0,699.6 1352.5,700.8 1353.0,700.6 1353.5,701.4 1354.0,701.1 1354.5,701.3 1355.0,702.6 1355.5,702.5 1356.0,702.6 1356.5,701.9 1357.0,705.2 1357.5,703.8 1358.0,705.4 1358.5,705.0 1359.0,704.4 1359.5,703.6 1360.0,705.5 1360.5,705.6 1361.0,707.0 1361.5,706.2 1362.0,706.5 1362.5,706.5 1363.0,706.5 1363.5,706.1 1364.0,707.9 1364.5,707.3 1365.0,707.7 1365.5,707.6 1366.0,708.2 1366.5,707.7 1367.0,708.4 1367.5,707.6 1368.0,707.8 1368.5,708.2 1369.0,708.2 1369.5,708.5 1370.0,707.7 1370.5,708.2 1371.0,707.8 1371.5,707.4 1372.0,708.5 1372.5,708.0 1373.0,707.6 1373.5,707.7 1374.0,708.3 1374.5,706.9 1375.0,707.9 1375.5,708.2 1376.0,707.9 1376.5,707.0 1377.0,708.2 1377.5,707.6 1378.0,707.6 1378.5,706.7 1379.0,705.5 1379.5,707.8 1380.0,707.6 1380.5,707.8 1381.0,709.1 1381.5,708.2 1382.0,708.5 1382.5,708.4 1383.0,707.4 1383.5,707.5 1384.0,707.9 1384.5,708.5 1385.0,708.3 1385.5,707.6 1386.0,707.3 1386.5,708.0 1387.0,707.8 1387.5,708.3 1388.0,708.4 1388.5,709.0 1389.0,707.9 1389.5,707.8 1390.0,708.4 1390.5,708.9 1391.0,708.7 1391.5,709.1 1392.0,708.7 1392.5,709.4 1393.0,709.1 1393.5,708.8 1394.0,708.6 1394.5,708.9 1395.0,709.0 1395.5,709.6 1396.0,708.9 1396.5,709.1 1397.0,707.9 1397.5,709.2 1398.0,708.7 1398.5,708.3 1399.0,707.7 1399.5,708.3 1400.0,709.4 1400.5,709.1 1401.0,709.1 1401.5,708.5 1402.0,709.1 1402.5,709.1 1403.0,709.0 1403.5,708.5 1404.0,708.7 1404.5,708.9 1405.0,710.4 1405.5,708.3 1406.0,709.9 1406.5,709.9 1407.0,710.5 1407.5,709.7 1408.0,709.5 1408.5,709.6 1409.0,709.1 1409.5,708.5 1410.0,710.5 1410.5,710.1 1411.0,708.7 1411.5,709.8 1412.0,709.1 1412.5,709.5 1413.0,708.8 1413.5,709.6 1414.0,710.1 1414.5,709.1 1415.0,709.3 1415.5,709.6 1416.0,710.0 1416.5,709.1 1417.0,709.6 1417.5,709.7 1418.0,709.1 1418.5,709.1 1419.0,709.7 1419.5,708.6 1420.0,710.2 1420.5,708.7 1421.0,709.8 1421.5,709.5 1422.0,709.0 1422.5,709.6 1423.0,709.1 1423.5,709.7 1424.0,710.4 1424.5,709.7 1425.0,710.4 1425.5,709.5 1426.0,710.1 1426.5,710.3 1427.0,710.6 1427.5,711.9 1428.0,710.3 1428.5,710.4 1429.0,710.8 1429.5,710.0 1430.0,709.9 1430.5,710.5 1431.0,710.5 1431.5,709.2 1432.0,710.3 1432.5,710.1 1433.0,710.6 1433.5,709.0 1434.0,710.3 1434.5,709.4 1435.0,710.4 1435.5,710.2 1436.0,711.9 1436.5,710.0 1437.0,710.3 1437.5,709.8 1438.0,710.4 1438.5,710.1 1439.0,709.0 1439.5,708.0 1440.0,710.0 1440.5,710.2 1441.0,710.4 1441.5,709.6 1442.0,709.9 1442.5,709.7 1443.0,709.6 1443.5,709.8 1444.0,710.4 1444.5,709.7 1445.0,710.7 1445.5,709.4 1446.0,709.8 1446.5,710.2 1447.0,710.3 1447.5,710.2 1448.0,709.5 1448.5,710.2 1449.0,711.0 1449.5,710.8 1450.0,710.9 1450.5,710.9 1451.0,710.8 1451.5,710.9 1452.0,710.7 1452.5,711.6 1453.0,711.2 1453.5,711.1 1454.0,711.0 1454.5,710.9 1455.0,710.3 1455.5,710.9 1456.0,710.6 1456.5,710.6 1457.0,710.9 1457.5,711.4 1458.0,710.3 1458.5,710.8 1459.0,711.4 1459.5,710.2 1460.0,711.0 1460.5,710.5 1461.0,711.1 1461.5,712.4 1462.0,710.8 1462.5,711.2 1463.0,711.0 1463.5,711.7 1464.0,709.4 1464.5,710.4 1465.0,710.8 1465.5,710.9 1466.0,711.5 1466.5,711.3 1467.0,710.6 1467.5,710.1 1468.0,711.2 1468.5,710.8 1469.0,710.6 1469.5,709.8 1470.0,711.5 1470.5,710.9 1471.0,711.4 1471.5,710.1 1472.0,711.3 1472.5,712.0 1473.0,711.5 1473.5,710.8 1474.0,710.6 1474.5,711.3 1475.0,710.7 1475.5,709.7 1476.0,710.3 1476.5,710.6 1477.0,711.3 1477.5,710.7 1478.0,710.7 1478.5,710.5 1479.0,711.0 1479.5,711.2 1480.0,711.1 1480.5,709.9 1481.0,711.2 1481.5,710.8 1482.0,711.2 1482.5,710.8 1483.0,711.7 1483.5,712.1 1484.0,711.7 1484.5,712.1 1485.0,711.5 1485.5,711.3 1486.0,710.5 1486.5,711.2 1487.0,711.3 1487.5,712.2 1488.0,711.1 1488.5,711.5 1489.0,711.8 1489.5,711.5 1490.0,711.4 1490.5,711.9 1491.0,711.0 1491.5,711.4 1492.0,711.5 1492.5,712.1 1493.0,712.0 1493.5,711.7 1494.0,711.8 1494.5,710.6 1495.0,711.7 1495.5,711.4 1496.0,711.0 1496.5,712.0 1497.0,711.6 1497.5,711.5 1498.0,712.1 1498.5,711.8 1499.0,712.3 1499.5,710.7 1500.0,712.2 1500.5,712.3 1501.0,711.9 1501.5,711.9 1502.0,711.8 1502.5,712.0 1503.0,712.0 1503.5,712.3 1504.0,712.1 1504.5,714.0 1505.0,712.0 1505.5,713.0 1506.0,712.1 1506.5,712.0 1507.0,712.4 1507.5,711.8 1508.0,711.2 1508.5,712.3 1509.0,712.5 1509.5,711.1 1510.0,712.1 1510.5,711.6 1511.0,711.7 1511.5,712.4 1512.0,711.1 1512.5,711.4 1513.0,712.0 1513.5,711.4 1514.0,711.4 1514.5,710.7 1515.0,710.4 1515.5,710.1 1516.0,710.2 1516.5,709.5 1517.0,709.4 1517.5,709.9 1518.0,707.5 1518.5,707.9 1519.0,706.3 1519.5,706.4 1520.0,706.6 1520.5,706.0 1521.0,706.8 1521.5,706.6 1522.0,707.6 1522.5,707.3 1523.0,708.0 1523.5,708.1 1524.0,708.6 1524.5,708.8 1525.0,709.8 1525.5,710.5 1526.0,710.0 1526.5,710.2 1527.0,711.5 1527.5,711.3 1528.0,711.1 1528.5,712.2 1529.0,711.9 1529.5,711.9 1530.0,712.2 1530.5,712.0 1531.0,713.4 1531.5,711.4 1532.0,712.1 1532.5,712.6 1533.0,712.6 1533.5,712.0 1534.0,712.4 1534.5,712.5 1535.0,713.2 1535.5,713.4 1536.0,713.5 1536.5,712.9 1537.0,713.5 1537.5,713.2 1538.0,712.9 1538.5,712.9 1539.0,713.4 1539.5,713.2 1540.0,712.9 1540.5,712.7 1541.0,712.7 1541.5,713.7 1542.0,713.0 1542.5,712.4 1543.0,713.6 1543.5,713.6 1544.0,713.3 1544.5,713.1 1545.0,712.7 1545.5,712.9 1546.0,713.0 1546.5,713.2 1547.0,712.7 1547.5,713.4 1548.0,713.5 1548.5,712.6 1549.0,713.4 1549.5,712.5 1550.0,713.6 1550.5,712.6 1551.0,713.4 1551.5,714.5 1552.0,713.3 1552.5,712.8 1553.0,713.8 1553.5,713.3 1554.0,713.5 1554.5,712.8 1555.0,713.3 1555.5,714.2 1556.0,713.5 1556.5,713.4 1557.0,713.7 1557.5,713.8 1558.0,714.1 1558.5,714.0 1559.0,714.0 1559.5,713.1 1560.0,713.4 1560.5,712.7 1561.0,714.0 1561.5,713.0 1562.0,713.0 1562.5,713.8 1563.0,713.3 1563.5,712.7 1564.0,712.7 1564.5,712.6 1565.0,713.1 1565.5,714.0 1566.0,712.2 1566.5,713.4 1567.0,713.4 1567.5,712.8 1568.0,713.2 1568.5,713.2 1569.0,712.9 1569.5,713.0 1570.0,713.9 1570.5,713.5 1571.0,713.2 1571.5,713.0 1572.0,713.3 1572.5,713.4 1573.0,713.6 1573.5,713.9 1574.0,713.2 1574.5,712.8 1575.0,713.2 1575.5,713.1 1576.0,712.8 1576.5,713.2 1577.0,712.9 1577.5,713.0 1578.0,712.9 1578.5,713.1 1579.0,713.1 1579.5,712.5 1580.0,713.3 1580.5,713.0 1581.0,712.3 1581.5,712.8 1582.0,714.6 1582.5,713.6 1583.0,712.7 1583.5,713.1 1584.0,712.4 1584.5,713.1 1585.0,711.9 1585.5,712.1 1586.0,712.9 1586.5,712.8 1587.0,712.3 1587.5,712.7 1588.0,713.1 1588.5,712.4 1589.0,712.7 1589.5,710.9 1590.0,712.0 1590.5,713.3 1591.0,712.6 1591.5,712.4 1592.0,712.0 1592.5,713.0 1593.0,713.1 1593.5,713.4 1594.0,712.7 1594.5,713.2 1595.0,712.8 1595.5,712.5 1596.0,712.8 1596.5,712.6 1597.0,712.5 1597.5,712.6 1598.0,713.3 1598.5,713.0 1599.0,712.6 1599.5,712.9 1600.0,712.9 1600.5,712.9 1601.0,713.1 1601.5,712.7 1602.0,713.6 1602.5,712.6 1603.0,712.8 1603.5,711.5 1604.0,713.0 1604.5,712.9 1605.0,713.2 1605.5,712.5 1606.0,713.2 1606.5,712.4 1607.0,713.5 1607.5,712.7 1608.0,713.4 1608.5,713.5 1609.0,712.4 1609.5,713.7 1610.0,712.9 1610.5,712.0 1611.0,713.1 1611.5,713.1 1612.0,713.8 1612.5,712.4 1613.0,711.9 1613.5,713.2 1614.0,713.0 1614.5,712.8 1615.0,713.1 1615.5,713.8 1616.0,713.0 1616.5,713.3 1617.0,712.5 1617.5,712.2 1618.0,712.5 1618.5,713.4 1619.0,713.1 1619.5,712.9 1620.0,712.4 1620.5,712.6 1621.0,711.9 1621.5,711.9 1622.0,712.4 1622.5,713.4 1623.0,712.1 1623.5,712.8 1624.0,712.5 1624.5,712.7 1625.0,713.3 1625.5,712.6 1626.0,713.3 1626.5,712.9 1627.0,713.4 1627.5,712.6 1628.0,713.5 1628.5,712.9 1629.0,712.7 1629.5,712.6 1630.0,712.1 1630.5,713.3 1631.0,712.6 1631.5,713.4 1632.0,713.8 1632.5,712.2 1633.0,713.7 1633.5,712.5 1634.0,712.8 1634.5,713.0 1635.0,712.2 1635.5,713.1 1636.0,712.6 1636.5,713.3 1637.0,712.6 1637.5,712.6 1638.0,712.5 1638.5,713.7 1639.0,712.3 1639.5,711.5 1640.0,712.9 1640.5,712.5 1641.0,712.9 1641.5,713.1 1642.0,713.3 1642.5,713.4 1643.0,712.9 1643.5,713.3 1644.0,713.4 1644.5,712.3 1645.0,713.7 1645.5,712.5 1646.0,713.0 1646.5,713.4 1647.0,712.7 1647.5,712.6 1648.0,713.4 1648.5,713.3 1649.0,712.0 1649.5,712.5 1650.0,712.6 1650.5,713.0 1651.0,712.4 1651.5,712.6 1652.0,712.3 1652.5,713.1 1653.0,713.2 1653.5,712.4 1654.0,712.3 1654.5,711.5 1655.0,711.8 1655.5,711.7 1656.0,712.4 1656.5,712.4 1657.0,712.3 1657.5,713.0 1658.0,712.2 1658.5,713.0 1659.0,712.8 1659.5,712.6 1660.0,712.6 1660.5,712.7 1661.0,713.3 1661.5,713.3 1662.0,712.2 1662.5,712.2 1663.0,712.5 1663.5,713.2 1664.0,713.3 1664.5,713.1 1665.0,712.9 1665.5,712.9 1666.0,711.9 1666.5,712.8 1667.0,712.7 1667.5,713.4 1668.0,712.3 1668.5,712.1 1669.0,712.3 1669.5,712.4 1670.0,711.5 1670.5,712.6 1671.0,712.8 1671.5,713.4 1672.0,713.4 1672.5,712.1 1673.0,712.7 1673.5,712.7 1674.0,713.0 1674.5,713.0 1675.0,711.8 1675.5,712.8 1676.0,712.2 1676.5,712.4 1677.0,712.2 1677.5,712.5 1678.0,711.9 1678.5,712.4 1679.0,711.7 1679.5,712.8 1680.0,712.8 1680.5,712.3 1681.0,712.4 1681.5,712.2 1682.0,712.7 1682.5,712.7 1683.0,712.3 1683.5,712.4 1684.0,712.6 1684.5,712.2 1685.0,712.7 1685.5,712.9 1686.0,713.7 1686.5,712.9 1687.0,712.5 1687.5,713.4 1688.0,713.9 1688.5,712.7 1689.0,713.2 1689.5,712.6 1690.0,713.4 1690.5,713.1 1691.0,712.6 1691.5,712.7 1692.0,713.5 1692.5,712.5 1693.0,712.4 1693.5,712.8 1694.0,712.5 1694.5,712.3 1695.0,712.6 1695.5,711.4 1696.0,712.3 1696.5,712.8 1697.0,712.8 1697.5,711.9 1698.0,712.2 1698.5,712.6 1699.0,712.1 1699.5,712.5 1700.0,712.5 1700.5,711.5 1701.0,712.6 1701.5,712.3 1702.0,712.1 1702.5,712.0 1703.0,711.2 1703.5,712.0 1704.0,712.4 1704.5,712.5 1705.0,712.0 1705.5,710.9 1706.0,711.7 1706.5,712.4 1707.0,712.8 1707.5,711.9 1708.0,710.8 1708.5,712.0 1709.0,712.6 1709.5,711.4 1710.0,711.6 1710.5,711.3 1711.0,712.0 1711.5,712.9 1712.0,712.4 1712.5,711.3 1713.0,711.4 1713.5,712.1 1714.0,711.8 1714.5,711.1 1715.0,712.0 1715.5,711.4 1716.0,712.0 1716.5,712.0 1717.0,711.9 1717.5,711.3 1718.0,711.4 1718.5,711.6 1719.0,711.5 1719.5,712.1 1720.0,712.2 1720.5,711.8 1721.0,712.0 1721.5,712.3 1722.0,711.2 1722.5,711.5 1723.0,712.4 1723.5,711.5 1724.0,711.4 1724.5,711.7 1725.0,711.9 1725.5,711.1 1726.0,711.8 1726.5,712.3 1727.0,711.8 1727.5,711.9 1728.0,712.7 1728.5,712.1 1729.0,712.0 1729.5,712.6 1730.0,713.1 1730.5,712.8 1731.0,711.8 1731.5,712.7 1732.0,713.2 1732.5,713.7 1733.0,712.9 1733.5,714.0 1734.0,712.5 1734.5,712.7 1735.0,712.9 1735.5,714.3 1736.0,712.6 1736.5,713.0 1737.0,712.5 1737.5,712.8 1738.0,712.7 1738.5,712.5 1739.0,712.5 1739.5,712.2 1740.0,712.0 1740.5,713.5 1741.0,711.9 1741.5,712.9 1742.0,712.8 1742.5,712.5 1743.0,712.5 1743.5,712.2 1744.0,712.7 1744.5,712.2 1745.0,712.6 1745.5,713.5 1746.0,713.1 1746.5,712.0 1747.0,712.5 1747.5,712.2 1748.0,710.7 1748.5,712.7 1749.0,711.4 1749.5,712.3 1750.0,712.8 1750.5,712.7 1751.0,711.5 1751.5,712.0 1752.0,712.0 1752.5,712.1 1753.0,712.6 1753.5,712.5 1754.0,713.0 1754.5,712.1 1755.0,712.5 1755.5,712.9 1756.0,712.5 1756.5,711.5 1757.0,712.3 1757.5,712.3 1758.0,712.2 1758.5,711.7 1759.0,712.4 1759.5,712.0 1760.0,711.6 1760.5,712.2 1761.0,711.9 1761.5,711.7 1762.0,711.6 1762.5,711.4 1763.0,711.9 1763.5,712.8 1764.0,712.3 1764.5,711.9 1765.0,712.3 1765.5,711.6 1766.0,711.8 1766.5,712.0 1767.0,712.3 1767.5,712.4 1768.0,712.1 1768.5,712.2 1769.0,712.4 1769.5,712.5 1770.0,712.6 1770.5,711.5 1771.0,712.6 1771.5,712.3 1772.0,712.4 1772.5,712.0 1773.0,712.6 1773.5,712.8 1774.0,712.7 1774.5,711.9 1775.0,711.4 1775.5,712.5 1776.0,711.7 1776.5,711.1 1777.0,712.2 1777.5,710.8 1778.0,712.0 1778.5,711.3 1779.0,712.2 1779.5,710.3 1780.0,711.1 1780.5,711.4 1781.0,711.0 1781.5,711.1 1782.0,711.5 1782.5,711.4 1783.0,710.9 1783.5,711.3 1784.0,712.3 1784.5,711.0 1785.0,711.9 1785.5,712.7 1786.0,712.2 1786.5,712.0 1787.0,711.8 1787.5,712.1 1788.0,712.1 1788.5,712.1 1789.0,711.9 1789.5,711.6 1790.0,712.4 1790.5,712.3 1791.0,712.0 1791.5,711.8 1792.0,712.1 1792.5,712.0 1793.0,711.9 1793.5,712.7 1794.0,712.0 1794.5,712.6 1795.0,712.4 1795.5,712.2 1796.0,711.9 1796.5,711.6 1797.0,711.6 1797.5,712.5 1798.0,712.1 1798.5,711.5 1799.0,711.9 1799.5,711.4 1800.0,711.6 1800.5,709.9 1801.0,711.2 1801.5,709.9 1802.0,711.6 1802.5,711.9 1803.0,711.3 1803.5,711.4 1804.0,712.3 1804.5,710.7 1805.0,710.9 1805.5,710.0 1806.0,710.7 1806.5,710.4 1807.0,709.9 1807.5,709.4 1808.0,708.8 1808.5,708.4 1809.0,707.5 1809.5,707.6 1810.0,707.0 1810.5,706.7 1811.0,706.6 1811.5,706.1 1812.0,706.3 1812.5,705.5 1813.0,705.2 1813.5,705.8 1814.0,705.3 1814.5,706.6 1815.0,705.4 1815.5,706.2 1816.0,705.5 1816.5,707.2 1817.0,708.1 1817.5,707.7 1818.0,708.3 1818.5,708.8 1819.0,709.0 1819.5,708.2 1820.0,708.2 1820.5,710.5 1821.0,709.7 1821.5,710.0 1822.0,710.3 1822.5,711.1 1823.0,710.0 1823.5,710.6 1824.0,710.2 1824.5,711.6 1825.0,711.4 1825.5,711.8 1826.0,710.1 1826.5,712.4 1827.0,711.1 1827.5,711.1 1828.0,712.3 1828.5,711.4 1829.0,712.2 1829.5,710.7 1830.0,711.9 1830.5,712.3 1831.0,712.2 1831.5,712.0 1832.0,712.2 1832.5,711.7 1833.0,711.6 1833.5,711.7 1834.0,711.3 1834.5,712.5 1835.0,712.1 1835.5,712.3 1836.0,712.9 1836.5,712.8 1837.0,712.5 1837.5,711.9 1838.0,711.5 1838.5,712.6 1839.0,711.6 1839.5,712.1 1840.0,712.2 1840.5,711.9 1841.0,712.2 1841.5,712.5 1842.0,712.7 1842.5,711.9 1843.0,711.5 1843.5,712.0 1844.0,711.6 1844.5,711.6 1845.0,712.2 1845.5,712.6 1846.0,712.2 1846.5,712.3 1847.0,712.7 1847.5,712.6 1848.0,711.9 1848.5,712.2 1849.0,712.3 1849.5,713.2 1850.0,712.1 1850.5,712.6 1851.0,712.3 1851.5,712.6 1852.0,712.5 1852.5,712.5 1853.0,713.1 1853.5,712.5 1854.0,713.4 1854.5,712.9 1855.0,712.7 1855.5,712.4 1856.0,713.5 1856.5,712.9 1857.0,713.6 1857.5,713.9 1858.0,712.9 1858.5,713.3 1859.0,713.6 1859.5,713.0 1860.0,712.4 1860.5,713.5 1861.0,713.6 1861.5,713.6 1862.0,712.8 1862.5,713.6 1863.0,712.5 1863.5,712.7 1864.0,712.4 1864.5,713.3 1865.0,713.1 1865.5,713.4 1866.0,713.1 1866.5,712.9 1867.0,713.3 1867.5,713.2 1868.0,712.9 1868.5,713.1 1869.0,713.7 1869.5,713.2 1870.0,712.2 1870.5,712.1 1871.0,712.6 1871.5,713.5 1872.0,713.3 1872.5,713.4 1873.0,713.1 1873.5,713.0 1874.0,712.8 1874.5,713.0 1875.0,713.0 1875.5,712.9 1876.0,712.5 1876.5,712.3 1877.0,713.4 1877.5,713.0 1878.0,713.1 1878.5,712.7 1879.0,713.0 1879.5,713.2 1880.0,712.9 1880.5,712.7 1881.0,713.3 1881.5,713.3 1882.0,712.6 1882.5,712.7 1883.0,713.6 1883.5,712.7 1884.0,712.7 1884.5,712.7 1885.0,713.2 1885.5,713.0 1886.0,713.4 1886.5,712.6 1887.0,712.8 1887.5,713.1 1888.0,713.1 1888.5,712.7 1889.0,712.9 1889.5,712.7 1890.0,713.0 1890.5,712.6 1891.0,713.5 1891.5,712.9 1892.0,712.9 1892.5,711.9 1893.0,712.7 1893.5,711.8 1894.0,713.3 1894.5,712.4 1895.0,713.6 1895.5,713.7 1896.0,711.2 1896.5,713.1 1897.0,712.2 1897.5,712.8 1898.0,712.8 1898.5,713.0 1899.0,712.8 1899.5,712.6 1900.0,712.8 1900.5,713.1 1901.0,712.6 1901.5,713.2 1902.0,712.7 1902.5,713.1 1903.0,713.4 1903.5,712.7 1904.0,713.1 1904.5,711.9 1905.0,712.7 1905.5,713.7 1906.0,712.4 1906.5,712.4 1907.0,713.2 1907.5,712.7 1908.0,712.6 1908.5,712.7 1909.0,713.3 1909.5,712.8 1910.0,712.2 1910.5,713.5 1911.0,713.6 1911.5,713.4 1912.0,713.1 1912.5,712.8 1913.0,714.9 1913.5,712.5 1914.0,713.9 1914.5,713.8 1915.0,713.7 1915.5,713.6 1916.0,713.8 1916.5,713.5 1917.0,713.9 1917.5,713.8 1918.0,713.6 1918.5,713.6 1919.0,713.6 1919.5,714.2 1920.0,713.2 1920.5,713.6 1921.0,714.2 1921.5,713.4 1922.0,713.9 1922.5,713.8 1923.0,713.2 1923.5,713.8 1924.0,714.1 1924.5,713.7 1925.0,714.1 1925.5,713.9 1926.0,713.8 1926.5,713.0 1927.0,713.9 1927.5,713.8 1928.0,714.0 1928.5,714.0 1929.0,713.3" fill="none" stroke="#00B04E" stroke-width="2.8" stroke-linejoin="round"/>
<polyline points="26.0,696.7 26.5,694.8 27.0,694.1 27.5,692.6 28.0,695.6 28.5,694.5 29.0,696.0 29.5,696.5 30.0,697.1 30.5,694.9 31.0,699.0 31.5,694.9 32.0,694.6 32.5,699.2 33.0,695.9 33.5,696.2 34.0,695.5 34.5,696.6 35.0,693.7 35.5,695.5 36.0,698.2 36.5,696.5 37.0,695.9 37.5,696.6 38.0,696.7 38.5,696.4 39.0,696.9 39.5,694.4 40.0,697.1 40.5,695.8 41.0,697.7 41.5,697.1 42.0,696.2 42.5,697.6 43.0,696.8 43.5,699.5 44.0,698.7 44.5,700.0 45.0,698.1 45.5,701.6 46.0,699.7 46.5,702.0 47.0,701.7 47.5,702.1 48.0,701.7 48.5,701.0 49.0,702.3 49.5,703.6 50.0,702.8 50.5,703.3 51.0,700.8 51.5,702.4 52.0,702.5 52.5,703.4 53.0,701.4 53.5,702.8 54.0,702.7 54.5,700.5 55.0,701.1 55.5,702.9 56.0,701.1 56.5,701.1 57.0,703.5 57.5,702.9 58.0,702.3 58.5,702.8 59.0,702.3 59.5,699.4 60.0,702.3 60.5,703.4 61.0,706.9 61.5,702.6 62.0,703.2 62.5,703.2 63.0,702.2 63.5,704.1 64.0,705.0 64.5,703.3 65.0,705.4 65.5,704.1 66.0,704.4 66.5,706.7 67.0,705.2 67.5,703.8 68.0,706.0 68.5,705.2 69.0,705.7 69.5,707.2 70.0,709.3 70.5,707.9 71.0,708.0 71.5,706.3 72.0,707.7 72.5,706.9 73.0,709.0 73.5,707.8 74.0,708.3 74.5,708.3 75.0,708.0 75.5,709.2 76.0,708.6 76.5,704.2 77.0,708.1 77.5,708.5 78.0,709.3 78.5,707.9 79.0,709.3 79.5,706.9 80.0,707.3 80.5,705.9 81.0,708.5 81.5,706.6 82.0,706.8 82.5,709.0 83.0,707.8 83.5,707.8 84.0,709.9 84.5,708.9 85.0,710.3 85.5,709.1 86.0,710.5 86.5,711.0 87.0,710.0 87.5,712.1 88.0,712.6 88.5,710.1 89.0,710.6 89.5,711.8 90.0,710.5 90.5,710.5 91.0,711.5 91.5,712.7 92.0,714.2 92.5,713.3 93.0,711.6 93.5,712.5 94.0,711.4 94.5,712.2 95.0,710.1 95.5,712.2 96.0,712.4 96.5,713.1 97.0,712.9 97.5,713.6 98.0,711.9 98.5,713.9 99.0,711.7 99.5,713.1 100.0,715.2 100.5,715.2 101.0,712.4 101.5,715.3 102.0,714.3 102.5,714.0 103.0,717.0 103.5,715.1 104.0,716.5 104.5,713.5 105.0,714.6 105.5,715.0 106.0,711.1 106.5,716.8 107.0,717.6 107.5,715.2 108.0,716.5 108.5,716.0 109.0,716.7 109.5,715.8 110.0,717.5 110.5,715.4 111.0,718.2 111.5,717.2 112.0,719.5 112.5,715.3 113.0,717.2 113.5,716.1 114.0,717.6 114.5,718.5 115.0,717.3 115.5,717.0 116.0,716.8 116.5,719.1 117.0,720.3 117.5,720.3 118.0,719.1 118.5,718.1 119.0,718.6 119.5,717.3 120.0,717.1 120.5,719.7 121.0,718.1 121.5,718.5 122.0,717.6 122.5,719.0 123.0,718.8 123.5,716.2 124.0,716.4 124.5,715.9 125.0,717.8 125.5,717.7 126.0,716.0 126.5,718.7 127.0,716.3 127.5,715.0 128.0,714.2 128.5,716.3 129.0,716.9 129.5,716.0 130.0,715.2 130.5,718.0 131.0,716.6 131.5,717.5 132.0,718.3 132.5,717.0 133.0,715.6 133.5,716.5 134.0,716.4 134.5,717.9 135.0,715.0 135.5,710.1 136.0,715.3 136.5,715.1 137.0,714.1 137.5,715.0 138.0,714.5 138.5,715.3 139.0,712.8 139.5,712.7 140.0,713.2 140.5,712.4 141.0,714.0 141.5,712.9 142.0,711.8 142.5,713.1 143.0,711.6 143.5,711.6 144.0,710.8 144.5,709.0 145.0,708.3 145.5,707.8 146.0,705.8 146.5,705.8 147.0,706.3 147.5,704.7 148.0,702.4 148.5,705.1 149.0,700.0 149.5,700.4 150.0,698.8 150.5,697.6 151.0,693.1 151.5,692.3 152.0,690.2 152.5,687.2 153.0,687.7 153.5,685.9 154.0,684.1 154.5,683.8 155.0,680.3 155.5,678.7 156.0,675.1 156.5,676.3 157.0,674.0 157.5,677.3 158.0,677.4 158.5,677.4 159.0,678.4 159.5,680.9 160.0,682.2 160.5,682.3 161.0,683.3 161.5,683.9 162.0,684.2 162.5,685.1 163.0,686.3 163.5,688.3 164.0,688.5 164.5,688.1 165.0,691.8 165.5,692.5 166.0,691.8 166.5,694.4 167.0,693.4 167.5,693.8 168.0,694.5 168.5,697.8 169.0,696.6 169.5,697.3 170.0,694.4 170.5,697.4 171.0,698.8 171.5,699.4 172.0,703.2 172.5,698.3 173.0,701.3 173.5,698.1 174.0,698.2 174.5,701.7 175.0,702.7 175.5,702.4 176.0,699.1 176.5,702.1 177.0,700.1 177.5,703.1 178.0,703.4 178.5,702.6 179.0,704.4 179.5,703.9 180.0,707.7 180.5,704.3 181.0,705.1 181.5,704.2 182.0,706.7 182.5,707.7 183.0,708.0 183.5,707.8 184.0,709.9 184.5,709.6 185.0,711.2 185.5,710.2 186.0,708.9 186.5,711.2 187.0,710.8 187.5,713.3 188.0,712.4 188.5,713.4 189.0,714.2 189.5,713.2 190.0,715.0 190.5,716.8 191.0,715.8 191.5,716.7 192.0,715.7 192.5,717.0 193.0,717.8 193.5,719.1 194.0,718.7 194.5,719.6 195.0,720.0 195.5,719.6 196.0,719.9 196.5,723.9 197.0,723.8 197.5,722.8 198.0,724.4 198.5,725.0 199.0,725.2 199.5,724.2 200.0,723.4 200.5,723.8 201.0,725.1 201.5,726.9 202.0,727.2 202.5,725.5 203.0,725.5 203.5,727.2 204.0,728.3 204.5,725.5 205.0,727.1 205.5,727.2 206.0,724.8 206.5,727.6 207.0,728.1 207.5,729.0 208.0,728.0 208.5,730.1 209.0,731.5 209.5,731.9 210.0,732.4 210.5,732.4 211.0,732.6 211.5,734.6 212.0,732.8 212.5,733.3 213.0,734.6 213.5,733.6 214.0,732.5 214.5,733.4 215.0,733.7 215.5,734.1 216.0,734.0 216.5,735.6 217.0,735.5 217.5,735.5 218.0,734.9 218.5,736.6 219.0,736.9 219.5,738.4 220.0,736.1 220.5,736.9 221.0,738.7 221.5,736.7 222.0,738.3 222.5,738.6 223.0,738.7 223.5,737.9 224.0,739.0 224.5,737.7 225.0,740.4 225.5,738.9 226.0,739.6 226.5,739.6 227.0,737.9 227.5,739.9 228.0,740.3 228.5,739.7 229.0,740.2 229.5,739.2 230.0,739.3 230.5,739.6 231.0,739.6 231.5,739.4 232.0,740.3 232.5,741.7 233.0,741.7 233.5,741.2 234.0,742.2 234.5,744.6 235.0,745.0 235.5,741.3 236.0,743.2 236.5,742.0 237.0,744.6 237.5,740.9 238.0,744.3 238.5,744.2 239.0,744.8 239.5,741.6 240.0,743.3 240.5,744.5 241.0,743.3 241.5,745.1 242.0,745.8 242.5,743.5 243.0,744.4 243.5,745.4 244.0,746.6 244.5,748.8 245.0,745.7 245.5,744.4 246.0,745.3 246.5,745.5 247.0,744.9 247.5,746.0 248.0,745.5 248.5,745.5 249.0,748.0 249.5,746.0 250.0,748.0 250.5,746.1 251.0,746.5 251.5,745.6 252.0,746.3 252.5,748.4 253.0,747.0 253.5,745.3 254.0,748.4 254.5,746.4 255.0,746.8 255.5,747.2 256.0,745.6 256.5,748.7 257.0,748.6 257.5,747.1 258.0,747.8 258.5,747.2 259.0,746.9 259.5,747.2 260.0,746.1 260.5,746.9 261.0,746.7 261.5,748.8 262.0,745.8 262.5,748.2 263.0,747.8 263.5,747.3 264.0,746.8 264.5,749.1 265.0,748.9 265.5,747.7 266.0,747.8 266.5,748.3 267.0,749.9 267.5,747.6 268.0,748.7 268.5,749.8 269.0,747.7 269.5,749.0 270.0,750.2 270.5,748.9 271.0,749.3 271.5,748.2 272.0,750.0 272.5,748.7 273.0,749.6 273.5,750.4 274.0,749.8 274.5,751.2 275.0,751.2 275.5,751.2 276.0,751.8 276.5,750.9 277.0,749.3 277.5,752.1 278.0,752.1 278.5,751.1 279.0,750.8 279.5,752.6 280.0,751.2 280.5,751.2 281.0,751.1 281.5,753.5 282.0,750.7 282.5,749.0 283.0,753.8 283.5,750.0 284.0,749.2 284.5,750.6 285.0,749.8 285.5,750.7 286.0,749.4 286.5,750.4 287.0,750.0 287.5,748.9 288.0,749.3 288.5,749.9 289.0,748.8 289.5,746.7 290.0,747.9 290.5,747.9 291.0,748.8 291.5,747.5 292.0,748.6 292.5,747.5 293.0,747.6 293.5,747.5 294.0,747.7 294.5,747.7 295.0,748.2 295.5,747.3 296.0,747.1 296.5,748.0 297.0,748.3 297.5,747.8 298.0,748.5 298.5,748.4 299.0,749.5 299.5,746.6 300.0,749.5 300.5,745.4 301.0,747.7 301.5,746.9 302.0,745.1 302.5,744.7 303.0,743.1 303.5,740.2 304.0,737.1 304.5,733.6 305.0,728.4 305.5,720.8 306.0,710.5 306.5,698.2 307.0,686.5 307.5,669.6 308.0,659.8 308.5,652.9 309.0,651.2 309.5,655.6 310.0,665.8 310.5,678.4 311.0,691.1 311.5,701.7 312.0,714.4 312.5,723.7 313.0,732.4 313.5,735.9 314.0,739.9 314.5,743.6 315.0,744.2 315.5,746.6 316.0,748.2 316.5,748.3 317.0,749.3 317.5,748.5 318.0,749.5 318.5,750.8 319.0,752.4 319.5,751.4 320.0,751.4 320.5,751.9 321.0,755.7 321.5,752.0 322.0,753.6 322.5,753.5 323.0,754.2 323.5,753.7 324.0,754.7 324.5,756.0 325.0,754.8 325.5,754.8 326.0,753.2 326.5,755.8 327.0,755.0 327.5,755.9 328.0,755.7 328.5,755.1 329.0,755.3 329.5,754.9 330.0,757.8 330.5,757.1 331.0,757.2 331.5,757.7 332.0,758.1 332.5,757.8 333.0,758.0 333.5,759.4 334.0,755.9 334.5,757.6 335.0,757.0 335.5,757.6 336.0,755.6 336.5,756.8 337.0,758.5 337.5,756.9 338.0,758.5 338.5,757.5 339.0,758.2 339.5,757.2 340.0,758.1 340.5,757.5 341.0,759.3 341.5,757.6 342.0,759.4 342.5,758.9 343.0,759.4 343.5,760.9 344.0,759.6 344.5,759.5 345.0,760.3 345.5,761.0 346.0,760.2 346.5,762.2 347.0,761.1 347.5,760.8 348.0,760.7 348.5,761.2 349.0,761.9 349.5,762.5 350.0,761.8 350.5,760.0 351.0,762.0 351.5,760.4 352.0,763.2 352.5,763.1 353.0,762.4 353.5,763.3 354.0,762.2 354.5,764.6 355.0,763.3 355.5,763.2 356.0,765.5 356.5,763.3 357.0,764.6 357.5,766.1 358.0,764.1 358.5,764.5 359.0,764.4 359.5,766.1 360.0,766.0 360.5,764.7 361.0,767.2 361.5,765.3 362.0,765.3 362.5,765.8 363.0,764.8 363.5,766.7 364.0,765.0 364.5,764.8 365.0,766.7 365.5,765.2 366.0,765.9 366.5,765.2 367.0,765.8 367.5,766.3 368.0,764.4 368.5,766.3 369.0,765.7 369.5,767.5 370.0,766.7 370.5,767.0 371.0,767.1 371.5,767.6 372.0,767.7 372.5,765.9 373.0,766.1 373.5,766.8 374.0,766.2 374.5,767.1 375.0,767.4 375.5,766.7 376.0,767.7 376.5,768.4 377.0,767.3 377.5,767.5 378.0,767.1 378.5,767.0 379.0,766.7 379.5,766.2 380.0,767.6 380.5,768.0 381.0,767.3 381.5,767.5 382.0,766.5 382.5,767.5 383.0,768.1 383.5,767.9 384.0,768.2 384.5,767.5 385.0,767.4 385.5,768.2 386.0,769.6 386.5,768.2 387.0,767.3 387.5,767.9 388.0,768.2 388.5,769.2 389.0,769.1 389.5,767.6 390.0,767.3 390.5,767.9 391.0,768.0 391.5,767.2 392.0,768.6 392.5,767.5 393.0,768.0 393.5,767.6 394.0,768.1 394.5,767.6 395.0,767.8 395.5,768.6 396.0,767.8 396.5,768.8 397.0,766.7 397.5,767.6 398.0,767.0 398.5,766.7 399.0,767.7 399.5,769.2 400.0,767.9 400.5,768.4 401.0,766.1 401.5,767.6 402.0,766.4 402.5,767.2 403.0,767.6 403.5,766.1 404.0,767.0 404.5,765.2 405.0,765.6 405.5,764.6 406.0,764.7 406.5,764.1 407.0,762.1 407.5,763.2 408.0,762.7 408.5,764.1 409.0,760.5 409.5,762.3 410.0,762.7 410.5,763.4 411.0,762.7 411.5,761.4 412.0,762.3 412.5,760.8 413.0,760.4 413.5,759.9 414.0,759.4 414.5,760.5 415.0,757.3 415.5,756.7 416.0,756.4 416.5,757.1 417.0,756.8 417.5,755.2 418.0,755.3 418.5,754.0 419.0,753.2 419.5,752.7 420.0,752.8 420.5,752.4 421.0,751.8 421.5,753.5 422.0,752.5 422.5,751.9 423.0,751.3 423.5,752.6 424.0,751.6 424.5,752.5 425.0,752.6 425.5,753.2 426.0,754.5 426.5,751.9 427.0,756.2 427.5,755.6 428.0,755.1 428.5,757.7 429.0,756.6 429.5,756.2 430.0,758.0 430.5,756.7 431.0,756.4 431.5,756.3 432.0,757.8 432.5,759.1 433.0,757.7 433.5,760.3 434.0,760.6 434.5,760.4 435.0,762.4 435.5,760.8 436.0,761.2 436.5,764.0 437.0,764.9 437.5,765.6 438.0,766.0 438.5,765.6 439.0,767.8 439.5,767.5 440.0,768.8 440.5,768.6 441.0,767.8 441.5,769.4 442.0,769.7 442.5,769.9 443.0,769.0 443.5,768.9 444.0,770.5 444.5,770.0 445.0,770.2 445.5,771.1 446.0,769.0 446.5,771.0 447.0,770.5 447.5,771.9 448.0,770.1 448.5,770.9 449.0,771.2 449.5,770.0 450.0,770.5 450.5,771.8 451.0,771.1 451.5,770.5 452.0,772.5 452.5,771.5 453.0,771.5 453.5,772.8 454.0,770.4 454.5,771.1 455.0,770.9 455.5,772.6 456.0,771.1 456.5,773.5 457.0,772.2 457.5,772.1 458.0,772.7 458.5,771.9 459.0,771.4 459.5,771.8 460.0,772.3 460.5,771.7 461.0,772.7 461.5,772.3 462.0,772.8 462.5,773.1 463.0,774.5 463.5,775.2 464.0,775.1 464.5,773.9 465.0,773.6 465.5,775.0 466.0,775.4 466.5,775.2 467.0,774.2 467.5,774.9 468.0,774.5 468.5,775.6 469.0,775.6 469.5,775.1 470.0,774.8 470.5,776.4 471.0,775.4 471.5,776.0 472.0,775.9 472.5,776.1 473.0,776.5 473.5,775.5 474.0,775.6 474.5,776.5 475.0,773.8 475.5,776.2 476.0,776.1 476.5,777.1 477.0,776.9 477.5,776.6 478.0,776.0 478.5,776.7 479.0,776.6 479.5,776.9 480.0,777.0 480.5,776.3 481.0,777.1 481.5,776.3 482.0,777.0 482.5,776.9 483.0,777.7 483.5,776.8 484.0,778.0 484.5,776.7 485.0,776.5 485.5,777.7 486.0,776.4 486.5,777.7 487.0,777.8 487.5,777.9 488.0,778.2 488.5,778.2 489.0,779.1 489.5,776.4 490.0,777.1 490.5,778.4 491.0,779.3 491.5,779.5 492.0,779.4 492.5,779.1 493.0,778.6 493.5,780.4 494.0,779.0 494.5,778.8 495.0,778.0 495.5,781.1 496.0,779.8 496.5,778.6 497.0,780.5 497.5,780.4 498.0,780.3 498.5,780.4 499.0,779.8 499.5,780.2 500.0,780.6 500.5,779.4 501.0,781.2 501.5,779.6 502.0,779.3 502.5,780.6 503.0,779.5 503.5,779.8 504.0,780.7 504.5,779.7 505.0,779.5 505.5,780.8 506.0,780.7 506.5,780.4 507.0,781.5 507.5,780.2 508.0,781.5 508.5,780.3 509.0,781.3 509.5,780.1 510.0,781.3 510.5,780.6 511.0,780.2 511.5,780.4 512.0,780.0 512.5,780.5 513.0,779.3 513.5,780.0 514.0,779.4 514.5,779.1 515.0,779.1 515.5,778.7 516.0,780.9 516.5,779.5 517.0,779.7 517.5,778.4 518.0,779.2 518.5,780.5 519.0,780.2 519.5,779.3 520.0,779.4 520.5,779.5 521.0,780.0 521.5,780.3 522.0,779.5 522.5,779.4 523.0,779.2 523.5,779.4 524.0,780.4 524.5,777.5 525.0,779.6 525.5,779.9 526.0,778.4 526.5,778.0 527.0,778.8 527.5,780.3 528.0,780.5 528.5,780.0 529.0,779.5 529.5,780.4 530.0,779.0 530.5,778.8 531.0,779.3 531.5,779.7 532.0,778.6 532.5,777.4 533.0,781.0 533.5,779.7 534.0,779.5 534.5,779.3 535.0,780.2 535.5,780.2 536.0,779.8 536.5,781.6 537.0,778.2 537.5,778.6 538.0,778.1 538.5,779.1 539.0,779.2 539.5,779.0 540.0,780.4 540.5,778.4 541.0,778.2 541.5,780.7 542.0,778.9 542.5,778.4 543.0,778.0 543.5,778.0 544.0,778.2 544.5,775.4 545.0,773.8 545.5,771.0 546.0,766.0 546.5,762.3 547.0,756.0 547.5,751.2 548.0,747.2 548.5,747.0 549.0,747.7 549.5,752.4 550.0,758.7 550.5,764.9 551.0,768.1 551.5,771.7 552.0,774.3 552.5,776.0 553.0,776.4 553.5,777.0 554.0,777.6 554.5,778.2 555.0,778.9 555.5,778.3 556.0,778.4 556.5,780.4 557.0,778.5 557.5,777.0 558.0,777.1 558.5,778.7 559.0,776.5 559.5,775.5 560.0,773.5 560.5,771.8 561.0,768.0 561.5,760.7 562.0,751.1 562.5,738.2 563.0,725.1 563.5,709.4 564.0,699.6 564.5,701.2 565.0,712.5 565.5,726.7 566.0,741.6 566.5,753.6 567.0,762.3 567.5,768.9 568.0,773.4 568.5,774.9 569.0,775.9 569.5,774.8 570.0,777.6 570.5,777.8 571.0,776.9 571.5,779.3 572.0,779.4 572.5,780.1 573.0,780.0 573.5,779.7 574.0,780.7 574.5,780.6 575.0,781.5 575.5,780.1 576.0,780.8 576.5,781.2 577.0,782.4 577.5,781.9 578.0,783.0 578.5,781.5 579.0,782.6 579.5,781.5 580.0,782.3 580.5,782.9 581.0,780.9 581.5,783.5 582.0,783.9 582.5,783.6 583.0,782.7 583.5,784.3 584.0,784.1 584.5,782.8 585.0,783.1 585.5,782.4 586.0,784.0 586.5,782.8 587.0,783.4 587.5,783.4 588.0,783.9 588.5,783.2 589.0,782.9 589.5,783.4 590.0,783.6 590.5,783.9 591.0,782.7 591.5,781.6 592.0,783.2 592.5,781.7 593.0,782.5 593.5,782.1 594.0,781.8 594.5,781.6 595.0,780.2 595.5,780.5 596.0,779.5 596.5,779.3 597.0,778.1 597.5,779.0 598.0,775.9 598.5,773.9 599.0,769.2 599.5,765.7 600.0,757.7 600.5,749.2 601.0,739.2 601.5,727.9 602.0,718.2 602.5,713.9 603.0,712.3 603.5,717.8 604.0,728.2 604.5,736.7 605.0,748.4 605.5,756.0 606.0,763.9 606.5,768.8 607.0,773.2 607.5,775.7 608.0,778.5 608.5,777.7 609.0,779.8 609.5,781.1 610.0,781.4 610.5,780.4 611.0,780.8 611.5,781.3 612.0,782.0 612.5,781.8 613.0,781.9 613.5,781.8 614.0,780.2 614.5,781.2 615.0,782.1 615.5,779.8 616.0,783.5 616.5,783.8 617.0,782.6 617.5,782.8 618.0,783.0 618.5,781.5 619.0,782.1 619.5,783.2 620.0,782.2 620.5,782.7 621.0,780.5 621.5,784.0 622.0,782.1 622.5,781.9 623.0,780.8 623.5,781.4 624.0,781.7 624.5,781.6 625.0,781.2 625.5,782.6 626.0,782.5 626.5,781.7 627.0,783.0 627.5,781.3 628.0,782.4 628.5,783.3 629.0,782.7 629.5,780.7 630.0,782.9 630.5,782.6 631.0,782.4 631.5,782.3 632.0,782.8 632.5,782.7 633.0,783.0 633.5,782.1 634.0,782.7 634.5,783.0 635.0,781.7 635.5,782.9 636.0,782.3 636.5,780.7 637.0,780.5 637.5,779.7 638.0,779.2 638.5,779.1 639.0,779.3 639.5,778.6 640.0,779.8 640.5,778.4 641.0,777.9 641.5,777.5 642.0,777.8 642.5,777.3 643.0,777.1 643.5,777.1 644.0,777.3 644.5,775.3 645.0,776.1 645.5,775.3 646.0,775.1 646.5,774.2 647.0,774.6 647.5,774.2 648.0,773.7 648.5,772.4 649.0,773.1 649.5,771.5 650.0,770.7 650.5,771.9 651.0,770.9 651.5,769.4 652.0,769.5 652.5,771.6 653.0,769.7 653.5,768.3 654.0,767.2 654.5,766.4 655.0,765.4 655.5,763.6 656.0,764.3 656.5,764.6 657.0,762.9 657.5,763.5 658.0,761.8 658.5,761.3 659.0,760.5 659.5,759.9 660.0,760.7 660.5,758.4 661.0,757.9 661.5,757.6 662.0,757.6 662.5,755.6 663.0,756.6 663.5,753.5 664.0,752.4 664.5,750.9 665.0,748.2 665.5,743.7 666.0,740.4 666.5,735.1 667.0,725.8 667.5,717.1 668.0,706.1 668.5,695.4 669.0,680.2 669.5,667.4 670.0,655.2 670.5,647.5 671.0,643.3 671.5,645.3 672.0,652.8 672.5,665.0 673.0,677.1 673.5,692.0 674.0,704.4 674.5,719.3 675.0,726.1 675.5,735.0 676.0,743.6 676.5,750.0 677.0,752.9 677.5,755.1 678.0,760.2 678.5,761.8 679.0,762.7 679.5,765.6 680.0,766.8 680.5,766.4 681.0,767.6 681.5,769.2 682.0,769.9 682.5,771.1 683.0,771.2 683.5,772.8 684.0,771.8 684.5,772.0 685.0,772.7 685.5,773.1 686.0,774.1 686.5,774.1 687.0,775.7 687.5,776.4 688.0,777.2 688.5,776.2 689.0,776.1 689.5,777.2 690.0,777.9 690.5,778.0 691.0,779.1 691.5,779.6 692.0,780.0 692.5,779.7 693.0,781.3 693.5,780.6 694.0,780.0 694.5,781.9 695.0,783.0 695.5,782.5 696.0,781.7 696.5,782.6 697.0,783.6 697.5,783.0 698.0,782.9 698.5,782.2 699.0,782.9 699.5,782.6 700.0,784.0 700.5,783.3 701.0,783.7 701.5,782.3 702.0,783.4 702.5,784.0 703.0,784.6 703.5,784.5 704.0,783.3 704.5,787.0 705.0,783.8 705.5,783.8 706.0,783.8 706.5,783.2 707.0,783.5 707.5,783.0 708.0,781.4 708.5,781.8 709.0,781.1 709.5,780.4 710.0,778.1 710.5,776.2 711.0,776.0 711.5,775.0 712.0,775.8 712.5,776.0 713.0,778.2 713.5,779.4 714.0,780.6 714.5,782.3 715.0,783.4 715.5,784.3 716.0,783.8 716.5,785.3 717.0,785.6 717.5,785.3 718.0,784.9 718.5,784.7 719.0,785.9 719.5,784.8 720.0,786.1 720.5,784.2 721.0,784.2 721.5,785.6 722.0,783.1 722.5,785.9 723.0,785.0 723.5,784.9 724.0,785.4 724.5,785.8 725.0,785.6 725.5,784.9 726.0,784.8 726.5,785.4 727.0,784.3 727.5,784.0 728.0,783.7 728.5,785.7 729.0,783.8 729.5,782.1 730.0,780.0 730.5,778.7 731.0,775.1 731.5,773.6 732.0,772.1 732.5,769.9 733.0,768.2 733.5,769.3 734.0,770.7 734.5,773.9 735.0,775.9 735.5,777.9 736.0,781.2 736.5,781.3 737.0,783.7 737.5,784.3 738.0,784.7 738.5,784.9 739.0,785.8 739.5,786.6 740.0,784.8 740.5,785.9 741.0,786.5 741.5,785.5 742.0,785.6 742.5,786.9 743.0,786.0 743.5,786.0 744.0,786.5 744.5,786.5 745.0,786.7 745.5,786.7 746.0,787.2 746.5,786.5 747.0,786.9 747.5,787.4 748.0,786.4 748.5,786.0 749.0,787.2 749.5,786.6 750.0,787.2 750.5,786.4 751.0,786.1 751.5,785.8 752.0,785.4 752.5,786.0 753.0,785.2 753.5,786.6 754.0,788.0 754.5,787.1 755.0,787.6 755.5,787.6 756.0,788.0 756.5,787.6 757.0,787.5 757.5,787.4 758.0,786.2 758.5,786.8 759.0,785.8 759.5,785.5 760.0,786.0 760.5,784.5 761.0,785.0 761.5,785.4 762.0,785.3 762.5,784.3 763.0,782.7 763.5,784.1 764.0,780.6 764.5,781.0 765.0,780.7 765.5,781.7 766.0,781.3 766.5,778.2 767.0,778.6 767.5,777.9 768.0,778.9 768.5,778.0 769.0,776.7 769.5,777.0 770.0,776.9 770.5,775.2 771.0,774.1 771.5,775.3 772.0,775.1 772.5,773.1 773.0,773.9 773.5,772.1 774.0,773.8 774.5,772.9 775.0,774.3 775.5,774.5 776.0,772.5 776.5,775.0 777.0,774.0 777.5,775.4 778.0,775.2 778.5,775.3 779.0,775.8 779.5,776.0 780.0,777.6 780.5,776.9 781.0,776.4 781.5,777.7 782.0,777.1 782.5,777.8 783.0,777.0 783.5,777.7 784.0,776.6 784.5,776.4 785.0,776.6 785.5,776.1 786.0,774.5 786.5,773.0 787.0,773.2 787.5,769.5 788.0,766.2 788.5,767.0 789.0,765.7 789.5,765.5 790.0,768.6 790.5,770.3 791.0,771.6 791.5,771.6 792.0,775.6 792.5,777.8 793.0,777.7 793.5,780.1 794.0,780.1 794.5,780.7 795.0,781.9 795.5,781.0 796.0,781.9 796.5,781.8 797.0,780.2 797.5,782.3 798.0,782.7 798.5,782.9 799.0,784.0 799.5,783.1 800.0,784.0 800.5,784.0 801.0,784.2 801.5,782.9 802.0,784.9 802.5,783.8 803.0,785.1 803.5,783.9 804.0,784.5 804.5,784.3 805.0,783.3 805.5,783.5 806.0,784.5 806.5,784.9 807.0,787.2 807.5,784.6 808.0,784.2 808.5,785.1 809.0,784.4 809.5,786.3 810.0,785.4 810.5,784.0 811.0,786.9 811.5,786.1 812.0,785.1 812.5,786.2 813.0,785.5 813.5,785.2 814.0,785.4 814.5,785.0 815.0,786.2 815.5,785.3 816.0,785.5 816.5,786.4 817.0,785.6 817.5,785.4 818.0,785.7 818.5,785.3 819.0,785.7 819.5,785.6 820.0,786.3 820.5,785.6 821.0,785.3 821.5,785.6 822.0,784.6 822.5,785.9 823.0,786.6 823.5,789.2 824.0,786.4 824.5,787.0 825.0,785.2 825.5,787.3 826.0,786.8 826.5,787.3 827.0,786.3 827.5,787.0 828.0,786.9 828.5,786.6 829.0,786.8 829.5,787.8 830.0,786.0 830.5,786.8 831.0,787.3 831.5,788.0 832.0,786.5 832.5,786.4 833.0,786.0 833.5,787.5 834.0,789.1 834.5,787.4 835.0,787.3 835.5,786.4 836.0,789.5 836.5,788.1 837.0,786.7 837.5,787.2 838.0,787.1 838.5,787.2 839.0,788.8 839.5,788.4 840.0,787.2 840.5,789.1 841.0,788.2 841.5,788.1 842.0,787.5 842.5,787.6 843.0,788.0 843.5,789.9 844.0,787.6 844.5,787.8 845.0,788.8 845.5,788.4 846.0,787.8 846.5,789.9 847.0,788.0 847.5,787.7 848.0,787.9 848.5,788.3 849.0,788.4 849.5,788.6 850.0,788.2 850.5,787.8 851.0,789.1 851.5,788.2 852.0,788.1 852.5,787.3 853.0,789.5 853.5,788.6 854.0,788.7 854.5,789.0 855.0,788.7 855.5,788.9 856.0,789.6 856.5,789.6 857.0,787.8 857.5,790.1 858.0,790.0 858.5,788.6 859.0,790.2 859.5,788.6 860.0,790.3 860.5,789.2 861.0,789.9 861.5,789.9 862.0,790.2 862.5,789.2 863.0,790.9 863.5,790.5 864.0,790.2 864.5,790.9 865.0,790.1 865.5,791.3 866.0,790.8 866.5,791.2 867.0,789.5 867.5,789.9 868.0,788.6 868.5,789.6 869.0,788.8 869.5,788.4 870.0,788.8 870.5,787.5 871.0,787.3 871.5,782.9 872.0,783.7 872.5,782.9 873.0,780.1 873.5,779.8 874.0,780.1 874.5,779.4 875.0,781.8 875.5,782.3 876.0,784.9 876.5,785.5 877.0,788.1 877.5,787.3 878.0,789.9 878.5,789.1 879.0,793.1 879.5,791.0 880.0,790.3 880.5,792.1 881.0,791.7 881.5,792.2 882.0,792.4 882.5,793.1 883.0,792.4 883.5,793.1 884.0,792.1 884.5,792.3 885.0,792.9 885.5,793.2 886.0,792.4 886.5,792.2 887.0,792.5 887.5,792.5 888.0,791.6 888.5,793.7 889.0,793.2 889.5,791.2 890.0,791.8 890.5,791.9 891.0,791.6 891.5,791.1 892.0,791.3 892.5,791.6 893.0,790.8 893.5,790.7 894.0,791.3 894.5,791.3 895.0,790.6 895.5,792.8 896.0,792.1 896.5,792.6 897.0,792.4 897.5,791.1 898.0,793.3 898.5,791.3 899.0,791.8 899.5,792.6 900.0,792.2 900.5,793.0 901.0,793.2 901.5,792.7 902.0,793.7 902.5,791.9 903.0,793.0 903.5,793.1 904.0,793.8 904.5,793.2 905.0,791.7 905.5,792.9 906.0,792.3 906.5,792.5 907.0,792.6 907.5,793.0 908.0,792.0 908.5,792.5 909.0,792.8 909.5,792.7 910.0,792.7 910.5,791.3 911.0,792.4 911.5,792.8 912.0,791.9 912.5,792.4 913.0,791.8 913.5,792.4 914.0,792.1 914.5,791.4 915.0,792.1 915.5,790.3 916.0,790.9 916.5,791.4 917.0,791.2 917.5,790.6 918.0,791.9 918.5,790.8 919.0,791.1 919.5,789.8 920.0,790.9 920.5,790.2 921.0,791.1 921.5,792.2 922.0,791.4 922.5,791.8 923.0,789.8 923.5,790.8 924.0,790.6 924.5,790.3 925.0,790.1 925.5,790.4 926.0,790.7 926.5,790.6 927.0,790.8 927.5,790.1 928.0,790.6 928.5,790.3 929.0,790.5 929.5,790.4 930.0,790.1 930.5,790.2 931.0,789.2 931.5,787.5 932.0,788.8 932.5,789.7 933.0,789.4 933.5,789.0 934.0,790.1 934.5,789.6 935.0,790.1 935.5,789.9 936.0,788.6 936.5,789.0 937.0,789.2 937.5,789.4 938.0,788.7 938.5,789.3 939.0,789.1 939.5,788.4 940.0,789.1 940.5,788.5 941.0,788.6 941.5,787.7 942.0,787.9 942.5,788.0 943.0,788.7 943.5,787.9 944.0,787.6 944.5,788.6 945.0,790.4 945.5,788.9 946.0,788.3 946.5,788.7 947.0,789.3 947.5,789.7 948.0,789.3 948.5,790.1 949.0,789.4 949.5,788.3 950.0,789.5 950.5,788.3 951.0,789.3 951.5,788.7 952.0,787.2 952.5,787.2 953.0,788.2 953.5,788.4 954.0,788.9 954.5,788.5 955.0,789.0 955.5,788.5 956.0,788.0 956.5,787.2 957.0,788.5 957.5,788.0 958.0,787.7 958.5,786.1 959.0,786.7 959.5,784.1 960.0,784.6 960.5,782.9 961.0,781.2 961.5,777.2 962.0,777.7 962.5,772.6 963.0,769.2 963.5,765.6 964.0,761.5 964.5,756.9 965.0,755.6 965.5,753.0 966.0,752.8 966.5,752.4 967.0,755.7 967.5,758.1 968.0,761.9 968.5,763.2 969.0,764.9 969.5,768.6 970.0,770.8 970.5,773.0 971.0,775.4 971.5,774.4 972.0,776.1 972.5,776.4 973.0,777.4 973.5,781.8 974.0,779.4 974.5,780.1 975.0,781.0 975.5,782.5 976.0,783.7 976.5,784.0 977.0,783.7 977.5,785.6 978.0,786.5 978.5,786.1 979.0,788.7 979.5,786.7 980.0,788.7 980.5,788.4 981.0,788.2 981.5,789.3 982.0,789.7 982.5,790.1 983.0,789.6 983.5,790.1 984.0,790.5 984.5,790.9 985.0,791.0 985.5,790.1 986.0,791.6 986.5,790.3 987.0,791.4 987.5,791.2 988.0,789.7 988.5,790.8 989.0,791.2 989.5,791.3 990.0,790.8 990.5,790.8 991.0,789.9 991.5,789.1 992.0,788.8 992.5,789.3 993.0,785.4 993.5,784.0 994.0,783.2 994.5,781.4 995.0,782.1 995.5,782.0 996.0,784.1 996.5,783.8 997.0,786.0 997.5,786.9 998.0,789.0 998.5,789.5 999.0,790.0 999.5,790.9 1000.0,791.6 1000.5,792.5 1001.0,792.2 1001.5,793.4 1002.0,793.2 1002.5,793.4 1003.0,793.5 1003.5,793.9 1004.0,795.0 1004.5,793.6 1005.0,794.2 1005.5,794.4 1006.0,794.6 1006.5,794.1 1007.0,793.2 1007.5,794.9 1008.0,795.0 1008.5,795.2 1009.0,795.1 1009.5,794.4 1010.0,795.9 1010.5,795.1 1011.0,795.7 1011.5,796.8 1012.0,796.4 1012.5,795.4 1013.0,796.1 1013.5,796.9 1014.0,796.7 1014.5,794.4 1015.0,795.5 1015.5,795.8 1016.0,796.1 1016.5,796.5 1017.0,797.1 1017.5,798.0 1018.0,795.5 1018.5,796.2 1019.0,795.9 1019.5,796.1 1020.0,796.8 1020.5,796.4 1021.0,795.9 1021.5,797.3 1022.0,796.1 1022.5,795.8 1023.0,796.1 1023.5,797.4 1024.0,795.7 1024.5,795.9 1025.0,796.4 1025.5,795.6 1026.0,796.6 1026.5,796.2 1027.0,794.6 1027.5,795.9 1028.0,796.4 1028.5,794.9 1029.0,795.7 1029.5,795.5 1030.0,796.0 1030.5,795.0 1031.0,796.3 1031.5,795.7 1032.0,796.7 1032.5,796.4 1033.0,795.8 1033.5,795.4 1034.0,795.7 1034.5,796.8 1035.0,796.6 1035.5,796.3 1036.0,796.4 1036.5,796.1 1037.0,795.8 1037.5,796.0 1038.0,796.0 1038.5,795.7 1039.0,796.2 1039.5,797.1 1040.0,794.9 1040.5,796.0 1041.0,795.6 1041.5,794.7 1042.0,795.2 1042.5,795.8 1043.0,792.3 1043.5,793.2 1044.0,791.3 1044.5,790.8 1045.0,788.2 1045.5,784.9 1046.0,780.9 1046.5,776.9 1047.0,772.0 1047.5,765.6 1048.0,760.9 1048.5,758.9 1049.0,759.3 1049.5,760.7 1050.0,765.9 1050.5,769.7 1051.0,773.2 1051.5,779.6 1052.0,782.7 1052.5,786.2 1053.0,789.0 1053.5,790.8 1054.0,793.5 1054.5,794.2 1055.0,794.7 1055.5,794.9 1056.0,796.2 1056.5,796.7 1057.0,794.9 1057.5,795.9 1058.0,797.1 1058.5,797.0 1059.0,797.0 1059.5,797.4 1060.0,798.0 1060.5,797.4 1061.0,797.6 1061.5,797.4 1062.0,797.3 1062.5,797.2 1063.0,798.1 1063.5,797.9 1064.0,797.6 1064.5,797.7 1065.0,798.1 1065.5,798.2 1066.0,798.0 1066.5,798.0 1067.0,798.2 1067.5,797.6 1068.0,797.2 1068.5,799.1 1069.0,798.4 1069.5,798.9 1070.0,797.7 1070.5,798.3 1071.0,799.0 1071.5,799.1 1072.0,798.5 1072.5,798.9 1073.0,798.5 1073.5,797.9 1074.0,797.8 1074.5,797.7 1075.0,798.1 1075.5,799.1 1076.0,798.4 1076.5,799.6 1077.0,799.2 1077.5,799.1 1078.0,798.2 1078.5,798.5 1079.0,799.0 1079.5,798.1 1080.0,798.9 1080.5,799.0 1081.0,798.6 1081.5,797.5 1082.0,798.3 1082.5,797.4 1083.0,798.7 1083.5,797.5 1084.0,797.4 1084.5,797.7 1085.0,798.6 1085.5,797.9 1086.0,797.5 1086.5,798.2 1087.0,796.4 1087.5,797.1 1088.0,797.1 1088.5,796.8 1089.0,796.1 1089.5,796.0 1090.0,797.6 1090.5,796.0 1091.0,795.3 1091.5,795.5 1092.0,796.3 1092.5,796.3 1093.0,796.0 1093.5,796.3 1094.0,796.0 1094.5,796.1 1095.0,795.2 1095.5,794.2 1096.0,797.5 1096.5,796.0 1097.0,796.1 1097.5,796.2 1098.0,794.2 1098.5,795.8 1099.0,795.7 1099.5,795.3 1100.0,795.3 1100.5,794.5 1101.0,795.4 1101.5,795.4 1102.0,795.3 1102.5,795.6 1103.0,796.1 1103.5,795.4 1104.0,795.1 1104.5,795.4 1105.0,796.1 1105.5,795.8 1106.0,795.2 1106.5,795.2 1107.0,795.3 1107.5,794.3 1108.0,794.3 1108.5,794.9 1109.0,794.7 1109.5,794.1 1110.0,794.2 1110.5,794.0 1111.0,794.8 1111.5,793.9 1112.0,794.1 1112.5,793.9 1113.0,793.5 1113.5,792.9 1114.0,793.8 1114.5,795.7 1115.0,794.0 1115.5,794.7 1116.0,794.6 1116.5,795.3 1117.0,794.1 1117.5,793.7 1118.0,793.2 1118.5,795.1 1119.0,794.7 1119.5,792.9 1120.0,794.2 1120.5,793.5 1121.0,793.7 1121.5,793.1 1122.0,793.3 1122.5,793.6 1123.0,792.2 1123.5,791.5 1124.0,790.5 1124.5,789.1 1125.0,787.8 1125.5,787.1 1126.0,786.0 1126.5,784.2 1127.0,782.8 1127.5,782.5 1128.0,782.6 1128.5,784.2 1129.0,783.2 1129.5,785.5 1130.0,785.8 1130.5,788.4 1131.0,788.9 1131.5,788.5 1132.0,791.6 1132.5,792.0 1133.0,793.1 1133.5,793.8 1134.0,793.9 1134.5,794.5 1135.0,795.2 1135.5,794.7 1136.0,794.7 1136.5,795.2 1137.0,795.3 1137.5,794.4 1138.0,795.1 1138.5,794.6 1139.0,796.0 1139.5,794.7 1140.0,794.9 1140.5,795.3 1141.0,794.0 1141.5,794.2 1142.0,794.8 1142.5,795.0 1143.0,794.2 1143.5,796.5 1144.0,794.8 1144.5,794.5 1145.0,794.5 1145.5,793.4 1146.0,792.1 1146.5,791.9 1147.0,790.6 1147.5,788.5 1148.0,786.9 1148.5,786.3 1149.0,785.2 1149.5,785.0 1150.0,784.1 1150.5,784.9 1151.0,785.8 1151.5,786.5 1152.0,788.2 1152.5,788.3 1153.0,789.9 1153.5,791.6 1154.0,792.4 1154.5,793.3 1155.0,794.1 1155.5,793.8 1156.0,795.4 1156.5,795.2 1157.0,794.7 1157.5,794.2 1158.0,794.7 1158.5,794.3 1159.0,794.6 1159.5,795.3 1160.0,795.5 1160.5,795.9 1161.0,795.1 1161.5,796.1 1162.0,795.4 1162.5,796.3 1163.0,796.7 1163.5,795.8 1164.0,796.4 1164.5,797.1 1165.0,797.3 1165.5,796.5 1166.0,798.0 1166.5,796.6 1167.0,797.5 1167.5,797.6 1168.0,797.3 1168.5,797.5 1169.0,797.4 1169.5,797.1 1170.0,797.6 1170.5,795.7 1171.0,796.0 1171.5,796.0 1172.0,796.8 1172.5,795.6 1173.0,797.6 1173.5,797.6 1174.0,797.6 1174.5,795.9 1175.0,797.2 1175.5,796.9 1176.0,797.5 1176.5,796.6 1177.0,796.6 1177.5,795.5 1178.0,796.4 1178.5,796.4 1179.0,795.2 1179.5,793.8 1180.0,794.6 1180.5,794.4 1181.0,795.6 1181.5,795.7 1182.0,796.6 1182.5,797.0 1183.0,797.3 1183.5,798.0 1184.0,797.2 1184.5,798.5 1185.0,797.9 1185.5,797.7 1186.0,798.8 1186.5,798.7 1187.0,799.0 1187.5,799.1 1188.0,798.4 1188.5,799.0 1189.0,798.0 1189.5,798.8 1190.0,797.9 1190.5,798.5 1191.0,798.3 1191.5,799.4 1192.0,798.5 1192.5,799.2 1193.0,800.5 1193.5,800.6 1194.0,800.1 1194.5,799.8 1195.0,800.9 1195.5,800.1 1196.0,800.4 1196.5,801.4 1197.0,799.9 1197.5,799.7 1198.0,799.6 1198.5,799.9 1199.0,800.1 1199.5,800.6 1200.0,801.3 1200.5,800.8 1201.0,800.7 1201.5,801.5 1202.0,800.7 1202.5,800.3 1203.0,801.6 1203.5,802.1 1204.0,801.7 1204.5,801.6 1205.0,801.8 1205.5,801.7 1206.0,801.8 1206.5,801.5 1207.0,801.8 1207.5,800.9 1208.0,801.9 1208.5,801.0 1209.0,802.2 1209.5,800.7 1210.0,801.1 1210.5,802.2 1211.0,801.6 1211.5,800.7 1212.0,801.7 1212.5,801.1 1213.0,800.6 1213.5,801.9 1214.0,801.3 1214.5,802.2 1215.0,801.1 1215.5,801.3 1216.0,801.8 1216.5,800.9 1217.0,801.3 1217.5,800.4 1218.0,801.9 1218.5,802.2 1219.0,802.1 1219.5,801.6 1220.0,801.0 1220.5,802.4 1221.0,801.3 1221.5,801.6 1222.0,802.4 1222.5,802.0 1223.0,802.0 1223.5,802.8 1224.0,801.6 1224.5,802.2 1225.0,801.1 1225.5,801.6 1226.0,801.6 1226.5,801.7 1227.0,801.7 1227.5,800.8 1228.0,801.2 1228.5,801.9 1229.0,801.0 1229.5,802.2 1230.0,802.3 1230.5,800.9 1231.0,801.1 1231.5,802.7 1232.0,802.4 1232.5,801.6 1233.0,801.8 1233.5,801.9 1234.0,802.4 1234.5,801.7 1235.0,803.0 1235.5,802.0 1236.0,802.1 1236.5,802.6 1237.0,802.9 1237.5,802.5 1238.0,802.6 1238.5,803.3 1239.0,802.6 1239.5,802.5 1240.0,803.0 1240.5,802.9 1241.0,802.5 1241.5,802.3 1242.0,804.4 1242.5,803.5 1243.0,802.9 1243.5,802.2 1244.0,801.7 1244.5,801.8 1245.0,803.5 1245.5,802.1 1246.0,802.0 1246.5,802.1 1247.0,801.7 1247.5,801.9 1248.0,802.8 1248.5,803.0 1249.0,802.2 1249.5,802.6 1250.0,802.6 1250.5,802.9 1251.0,802.6 1251.5,802.6 1252.0,802.5 1252.5,802.5 1253.0,802.2 1253.5,802.9 1254.0,803.2 1254.5,802.2 1255.0,803.3 1255.5,802.7 1256.0,803.6 1256.5,803.5 1257.0,802.1 1257.5,802.5 1258.0,803.4 1258.5,802.2 1259.0,803.4 1259.5,802.9 1260.0,803.4 1260.5,802.0 1261.0,804.3 1261.5,803.1 1262.0,801.4 1262.5,803.1 1263.0,802.0 1263.5,802.7 1264.0,802.7 1264.5,802.3 1265.0,802.6 1265.5,802.0 1266.0,803.1 1266.5,801.1 1267.0,802.1 1267.5,802.4 1268.0,802.6 1268.5,803.0 1269.0,802.2 1269.5,801.9 1270.0,802.3 1270.5,802.1 1271.0,802.4 1271.5,802.1 1272.0,801.6 1272.5,803.1 1273.0,802.0 1273.5,802.9 1274.0,803.1 1274.5,802.6 1275.0,803.3 1275.5,802.2 1276.0,802.5 1276.5,802.9 1277.0,803.3 1277.5,802.5 1278.0,802.4 1278.5,803.0 1279.0,803.1 1279.5,802.2 1280.0,803.2 1280.5,803.5 1281.0,803.0 1281.5,803.1 1282.0,803.3 1282.5,802.2 1283.0,802.8 1283.5,802.2 1284.0,802.6 1284.5,802.5 1285.0,802.3 1285.5,801.8 1286.0,801.9 1286.5,801.6 1287.0,801.9 1287.5,802.1 1288.0,802.1 1288.5,802.9 1289.0,802.9 1289.5,803.3 1290.0,802.4 1290.5,802.7 1291.0,803.3 1291.5,802.1 1292.0,802.4 1292.5,804.3 1293.0,802.7 1293.5,803.2 1294.0,802.9 1294.5,802.2 1295.0,802.2 1295.5,802.1 1296.0,802.1 1296.5,802.7 1297.0,802.0 1297.5,801.8 1298.0,802.5 1298.5,801.2 1299.0,802.7 1299.5,802.1 1300.0,801.6 1300.5,802.2 1301.0,801.7 1301.5,802.0 1302.0,802.0 1302.5,802.5 1303.0,802.5 1303.5,801.9 1304.0,802.0 1304.5,801.4 1305.0,801.4 1305.5,801.9 1306.0,801.8 1306.5,801.1 1307.0,801.6 1307.5,800.1 1308.0,801.5 1308.5,800.2 1309.0,800.9 1309.5,801.5 1310.0,799.1 1310.5,799.1 1311.0,798.2 1311.5,797.0 1312.0,796.2 1312.5,796.5 1313.0,795.2 1313.5,796.4 1314.0,794.5 1314.5,792.9 1315.0,790.8 1315.5,791.6 1316.0,792.6 1316.5,792.3 1317.0,792.5 1317.5,793.8 1318.0,794.9 1318.5,795.4 1319.0,795.1 1319.5,797.7 1320.0,797.8 1320.5,798.0 1321.0,800.1 1321.5,798.6 1322.0,799.3 1322.5,799.8 1323.0,799.6 1323.5,800.4 1324.0,799.5 1324.5,799.9 1325.0,799.9 1325.5,799.1 1326.0,799.2 1326.5,799.0 1327.0,800.3 1327.5,799.6 1328.0,798.7 1328.5,799.2 1329.0,798.9 1329.5,800.1 1330.0,798.7 1330.5,800.2 1331.0,799.3 1331.5,799.8 1332.0,799.4 1332.5,798.7 1333.0,800.4 1333.5,800.2 1334.0,800.2 1334.5,800.3 1335.0,800.6 1335.5,799.5 1336.0,799.7 1336.5,800.1 1337.0,799.3 1337.5,799.5 1338.0,799.1 1338.5,800.1 1339.0,799.1 1339.5,800.0 1340.0,799.7 1340.5,799.6 1341.0,799.2 1341.5,799.8 1342.0,798.7 1342.5,799.8 1343.0,798.5 1343.5,799.8 1344.0,799.3 1344.5,799.2 1345.0,800.6 1345.5,799.3 1346.0,798.9 1346.5,798.9 1347.0,797.7 1347.5,798.8 1348.0,797.9 1348.5,798.3 1349.0,797.6 1349.5,797.8 1350.0,796.6 1350.5,796.3 1351.0,796.6 1351.5,796.0 1352.0,795.5 1352.5,796.1 1353.0,795.3 1353.5,795.5 1354.0,796.2 1354.5,796.3 1355.0,796.7 1355.5,797.2 1356.0,796.9 1356.5,797.9 1357.0,798.1 1357.5,798.5 1358.0,798.6 1358.5,798.2 1359.0,800.9 1359.5,798.7 1360.0,799.7 1360.5,800.2 1361.0,801.2 1361.5,800.0 1362.0,801.0 1362.5,801.0 1363.0,801.3 1363.5,800.9 1364.0,801.8 1364.5,801.2 1365.0,801.3 1365.5,801.4 1366.0,801.8 1366.5,801.2 1367.0,801.6 1367.5,801.5 1368.0,801.4 1368.5,800.8 1369.0,801.5 1369.5,801.7 1370.0,801.7 1370.5,802.2 1371.0,801.8 1371.5,802.4 1372.0,802.2 1372.5,802.2 1373.0,802.8 1373.5,803.0 1374.0,802.0 1374.5,802.7 1375.0,802.5 1375.5,801.9 1376.0,802.0 1376.5,802.5 1377.0,802.7 1377.5,802.2 1378.0,802.7 1378.5,802.2 1379.0,803.0 1379.5,801.4 1380.0,802.8 1380.5,802.8 1381.0,802.5 1381.5,801.9 1382.0,802.4 1382.5,801.9 1383.0,803.0 1383.5,801.8 1384.0,802.8 1384.5,802.4 1385.0,801.9 1385.5,803.0 1386.0,803.9 1386.5,803.7 1387.0,802.9 1387.5,803.2 1388.0,803.4 1388.5,803.8 1389.0,803.2 1389.5,803.8 1390.0,802.9 1390.5,803.1 1391.0,802.8 1391.5,802.6 1392.0,802.7 1392.5,803.7 1393.0,803.6 1393.5,802.7 1394.0,803.5 1394.5,803.2 1395.0,803.0 1395.5,803.6 1396.0,803.7 1396.5,803.0 1397.0,802.8 1397.5,804.8 1398.0,804.1 1398.5,804.0 1399.0,805.0 1399.5,803.7 1400.0,803.6 1400.5,804.4 1401.0,804.0 1401.5,803.8 1402.0,803.5 1402.5,804.0 1403.0,803.4 1403.5,804.6 1404.0,803.5 1404.5,803.7 1405.0,804.0 1405.5,803.6 1406.0,805.1 1406.5,803.9 1407.0,804.0 1407.5,803.8 1408.0,805.6 1408.5,804.5 1409.0,804.7 1409.5,804.2 1410.0,804.4 1410.5,803.7 1411.0,804.0 1411.5,804.3 1412.0,803.4 1412.5,803.7 1413.0,804.7 1413.5,804.5 1414.0,804.1 1414.5,804.5 1415.0,804.2 1415.5,804.8 1416.0,803.9 1416.5,803.6 1417.0,805.4 1417.5,805.1 1418.0,803.7 1418.5,804.2 1419.0,803.6 1419.5,803.9 1420.0,803.4 1420.5,804.1 1421.0,804.5 1421.5,804.2 1422.0,804.8 1422.5,804.1 1423.0,802.9 1423.5,805.6 1424.0,805.4 1424.5,804.8 1425.0,804.9 1425.5,804.7 1426.0,806.1 1426.5,804.8 1427.0,805.8 1427.5,805.7 1428.0,805.1 1428.5,806.2 1429.0,804.8 1429.5,805.6 1430.0,805.2 1430.5,805.3 1431.0,804.2 1431.5,804.8 1432.0,806.2 1432.5,804.1 1433.0,804.8 1433.5,805.1 1434.0,804.9 1434.5,803.9 1435.0,804.9 1435.5,803.9 1436.0,803.7 1436.5,803.5 1437.0,804.1 1437.5,803.7 1438.0,805.3 1438.5,804.9 1439.0,803.9 1439.5,803.0 1440.0,804.9 1440.5,804.8 1441.0,804.4 1441.5,804.6 1442.0,804.7 1442.5,804.4 1443.0,803.7 1443.5,804.1 1444.0,804.8 1444.5,804.9 1445.0,805.1 1445.5,805.2 1446.0,804.9 1446.5,804.9 1447.0,806.7 1447.5,804.7 1448.0,805.1 1448.5,806.2 1449.0,806.0 1449.5,805.4 1450.0,805.0 1450.5,805.2 1451.0,806.2 1451.5,805.7 1452.0,806.3 1452.5,805.2 1453.0,806.3 1453.5,805.6 1454.0,806.0 1454.5,806.8 1455.0,806.0 1455.5,806.2 1456.0,805.2 1456.5,805.3 1457.0,805.0 1457.5,806.1 1458.0,805.2 1458.5,805.8 1459.0,806.4 1459.5,805.1 1460.0,805.6 1460.5,804.9 1461.0,805.8 1461.5,805.5 1462.0,806.0 1462.5,805.7 1463.0,806.1 1463.5,804.9 1464.0,805.1 1464.5,806.0 1465.0,805.8 1465.5,805.6 1466.0,805.4 1466.5,805.6 1467.0,805.5 1467.5,806.2 1468.0,805.7 1468.5,806.2 1469.0,805.6 1469.5,806.9 1470.0,805.7 1470.5,806.2 1471.0,806.1 1471.5,805.7 1472.0,806.4 1472.5,806.5 1473.0,806.8 1473.5,806.0 1474.0,805.4 1474.5,805.5 1475.0,805.9 1475.5,805.4 1476.0,805.0 1476.5,806.3 1477.0,805.3 1477.5,804.7 1478.0,806.5 1478.5,805.1 1479.0,805.8 1479.5,806.0 1480.0,805.6 1480.5,805.5 1481.0,805.5 1481.5,805.8 1482.0,805.5 1482.5,806.5 1483.0,806.7 1483.5,804.9 1484.0,806.3 1484.5,805.9 1485.0,806.0 1485.5,806.1 1486.0,805.8 1486.5,805.9 1487.0,805.3 1487.5,806.1 1488.0,806.1 1488.5,805.9 1489.0,806.2 1489.5,805.4 1490.0,806.0 1490.5,806.2 1491.0,805.5 1491.5,807.0 1492.0,805.7 1492.5,805.7 1493.0,806.8 1493.5,806.0 1494.0,805.8 1494.5,806.0 1495.0,806.1 1495.5,807.3 1496.0,806.6 1496.5,805.8 1497.0,806.1 1497.5,806.1 1498.0,805.8 1498.5,805.9 1499.0,805.9 1499.5,806.2 1500.0,806.5 1500.5,805.6 1501.0,804.4 1501.5,806.0 1502.0,806.6 1502.5,804.9 1503.0,806.0 1503.5,806.7 1504.0,806.0 1504.5,805.6 1505.0,806.9 1505.5,806.2 1506.0,806.6 1506.5,806.0 1507.0,805.6 1507.5,805.5 1508.0,807.9 1508.5,807.0 1509.0,806.6 1509.5,805.7 1510.0,805.8 1510.5,805.9 1511.0,804.8 1511.5,805.6 1512.0,806.0 1512.5,805.5 1513.0,806.5 1513.5,804.8 1514.0,805.2 1514.5,804.5 1515.0,804.4 1515.5,803.9 1516.0,803.9 1516.5,802.7 1517.0,803.5 1517.5,802.6 1518.0,801.8 1518.5,801.2 1519.0,801.6 1519.5,801.0 1520.0,801.1 1520.5,800.8 1521.0,801.7 1521.5,802.0 1522.0,801.4 1522.5,802.9 1523.0,802.9 1523.5,803.1 1524.0,803.8 1524.5,803.7 1525.0,805.9 1525.5,804.7 1526.0,805.5 1526.5,805.2 1527.0,805.7 1527.5,806.2 1528.0,806.6 1528.5,805.8 1529.0,807.4 1529.5,806.7 1530.0,806.7 1530.5,807.2 1531.0,806.5 1531.5,806.7 1532.0,807.1 1532.5,806.8 1533.0,808.0 1533.5,807.4 1534.0,807.4 1534.5,807.5 1535.0,807.8 1535.5,807.8 1536.0,807.2 1536.5,808.0 1537.0,808.0 1537.5,808.5 1538.0,807.7 1538.5,807.6 1539.0,807.4 1539.5,807.1 1540.0,807.6 1540.5,807.1 1541.0,807.6 1541.5,808.3 1542.0,808.1 1542.5,808.3 1543.0,807.0 1543.5,808.0 1544.0,807.7 1544.5,807.7 1545.0,808.0 1545.5,807.6 1546.0,807.6 1546.5,807.1 1547.0,808.3 1547.5,807.3 1548.0,807.9 1548.5,807.2 1549.0,807.2 1549.5,807.8 1550.0,807.5 1550.5,808.1 1551.0,807.8 1551.5,808.1 1552.0,808.3 1552.5,807.4 1553.0,808.2 1553.5,807.0 1554.0,807.6 1554.5,807.6 1555.0,807.2 1555.5,807.7 1556.0,807.4 1556.5,808.2 1557.0,808.1 1557.5,807.2 1558.0,808.0 1558.5,807.1 1559.0,807.6 1559.5,807.5 1560.0,807.2 1560.5,808.5 1561.0,808.0 1561.5,808.6 1562.0,806.8 1562.5,807.8 1563.0,807.6 1563.5,807.5 1564.0,807.2 1564.5,808.0 1565.0,808.0 1565.5,807.3 1566.0,806.8 1566.5,806.8 1567.0,807.2 1567.5,806.9 1568.0,807.2 1568.5,807.6 1569.0,807.6 1569.5,806.4 1570.0,806.8 1570.5,807.8 1571.0,807.7 1571.5,807.1 1572.0,807.7 1572.5,807.9 1573.0,808.4 1573.5,807.7 1574.0,807.9 1574.5,807.4 1575.0,807.7 1575.5,807.5 1576.0,807.7 1576.5,806.8 1577.0,806.0 1577.5,806.4 1578.0,806.8 1578.5,807.0 1579.0,806.9 1579.5,807.3 1580.0,807.5 1580.5,807.8 1581.0,808.4 1581.5,807.6 1582.0,807.6 1582.5,808.9 1583.0,806.7 1583.5,808.5 1584.0,807.9 1584.5,807.5 1585.0,806.6 1585.5,807.4 1586.0,807.5 1586.5,807.8 1587.0,807.9 1587.5,808.6 1588.0,807.4 1588.5,807.9 1589.0,808.3 1589.5,808.5 1590.0,807.5 1590.5,808.7 1591.0,807.8 1591.5,807.8 1592.0,808.1 1592.5,808.3 1593.0,808.0 1593.5,808.0 1594.0,807.7 1594.5,807.9 1595.0,807.2 1595.5,807.4 1596.0,807.4 1596.5,807.3 1597.0,807.5 1597.5,806.9 1598.0,806.9 1598.5,807.6 1599.0,807.3 1599.5,807.5 1600.0,807.6 1600.5,807.9 1601.0,807.1 1601.5,808.2 1602.0,807.2 1602.5,808.1 1603.0,807.3 1603.5,807.8 1604.0,807.9 1604.5,808.1 1605.0,808.1 1605.5,807.5 1606.0,809.0 1606.5,807.7 1607.0,807.9 1607.5,807.5 1608.0,807.2 1608.5,807.6 1609.0,807.8 1609.5,806.6 1610.0,807.9 1610.5,807.5 1611.0,807.8 1611.5,807.3 1612.0,807.2 1612.5,807.9 1613.0,807.4 1613.5,807.3 1614.0,807.5 1614.5,808.0 1615.0,808.9 1615.5,808.1 1616.0,807.4 1616.5,806.8 1617.0,808.0 1617.5,807.4 1618.0,806.9 1618.5,807.1 1619.0,807.1 1619.5,806.8 1620.0,807.4 1620.5,807.5 1621.0,807.6 1621.5,807.7 1622.0,807.6 1622.5,806.8 1623.0,807.2 1623.5,807.7 1624.0,807.4 1624.5,807.5 1625.0,807.2 1625.5,807.7 1626.0,807.4 1626.5,807.6 1627.0,807.7 1627.5,808.2 1628.0,807.7 1628.5,807.3 1629.0,806.9 1629.5,808.1 1630.0,807.8 1630.5,806.7 1631.0,807.4 1631.5,807.8 1632.0,807.2 1632.5,807.5 1633.0,807.1 1633.5,807.8 1634.0,807.8 1634.5,807.1 1635.0,807.6 1635.5,807.1 1636.0,807.9 1636.5,807.1 1637.0,807.9 1637.5,807.3 1638.0,807.2 1638.5,808.0 1639.0,807.6 1639.5,808.5 1640.0,808.2 1640.5,806.9 1641.0,807.6 1641.5,807.1 1642.0,807.7 1642.5,807.9 1643.0,807.7 1643.5,807.2 1644.0,806.9 1644.5,808.0 1645.0,807.2 1645.5,807.5 1646.0,806.5 1646.5,806.9 1647.0,807.2 1647.5,806.8 1648.0,806.0 1648.5,806.9 1649.0,807.2 1649.5,806.5 1650.0,807.4 1650.5,807.4 1651.0,807.2 1651.5,806.7 1652.0,806.4 1652.5,806.7 1653.0,807.1 1653.5,806.8 1654.0,807.1 1654.5,807.8 1655.0,807.0 1655.5,806.6 1656.0,807.8 1656.5,807.6 1657.0,808.1 1657.5,807.6 1658.0,807.5 1658.5,807.7 1659.0,807.6 1659.5,808.3 1660.0,806.9 1660.5,807.2 1661.0,807.2 1661.5,806.9 1662.0,808.5 1662.5,808.6 1663.0,807.7 1663.5,807.9 1664.0,807.1 1664.5,807.7 1665.0,807.9 1665.5,807.3 1666.0,808.3 1666.5,807.8 1667.0,807.9 1667.5,806.7 1668.0,808.0 1668.5,806.5 1669.0,808.6 1669.5,807.2 1670.0,807.2 1670.5,806.2 1671.0,807.8 1671.5,806.5 1672.0,806.5 1672.5,807.4 1673.0,806.7 1673.5,807.7 1674.0,807.5 1674.5,806.9 1675.0,806.5 1675.5,807.4 1676.0,807.6 1676.5,807.0 1677.0,807.6 1677.5,807.2 1678.0,807.0 1678.5,807.3 1679.0,807.1 1679.5,807.3 1680.0,805.5 1680.5,806.3 1681.0,807.2 1681.5,807.3 1682.0,807.7 1682.5,807.4 1683.0,807.5 1683.5,807.3 1684.0,806.7 1684.5,806.9 1685.0,807.4 1685.5,807.0 1686.0,806.8 1686.5,807.9 1687.0,806.9 1687.5,807.3 1688.0,806.6 1688.5,807.4 1689.0,807.1 1689.5,807.8 1690.0,808.0 1690.5,807.1 1691.0,807.2 1691.5,807.3 1692.0,807.7 1692.5,806.9 1693.0,807.5 1693.5,807.2 1694.0,806.2 1694.5,807.1 1695.0,806.1 1695.5,807.0 1696.0,806.5 1696.5,806.8 1697.0,807.0 1697.5,806.7 1698.0,807.2 1698.5,807.0 1699.0,807.4 1699.5,806.4 1700.0,806.7 1700.5,806.7 1701.0,806.3 1701.5,806.9 1702.0,807.2 1702.5,807.0 1703.0,807.1 1703.5,806.9 1704.0,806.7 1704.5,806.4 1705.0,806.7 1705.5,807.8 1706.0,807.0 1706.5,807.2 1707.0,807.0 1707.5,806.5 1708.0,807.2 1708.5,806.8 1709.0,807.8 1709.5,807.6 1710.0,806.8 1710.5,807.1 1711.0,806.9 1711.5,807.4 1712.0,806.4 1712.5,807.8 1713.0,806.9 1713.5,806.7 1714.0,807.4 1714.5,806.8 1715.0,806.8 1715.5,806.2 1716.0,807.0 1716.5,806.8 1717.0,806.2 1717.5,806.1 1718.0,806.2 1718.5,807.4 1719.0,806.9 1719.5,806.3 1720.0,806.5 1720.5,806.4 1721.0,807.7 1721.5,807.4 1722.0,807.1 1722.5,807.7 1723.0,806.8 1723.5,807.7 1724.0,808.0 1724.5,807.0 1725.0,807.2 1725.5,808.1 1726.0,808.2 1726.5,807.3 1727.0,807.2 1727.5,808.3 1728.0,807.8 1728.5,808.1 1729.0,808.1 1729.5,808.4 1730.0,807.0 1730.5,807.7 1731.0,808.0 1731.5,807.8 1732.0,807.2 1732.5,807.1 1733.0,808.4 1733.5,806.7 1734.0,808.2 1734.5,807.3 1735.0,807.1 1735.5,806.7 1736.0,807.3 1736.5,807.3 1737.0,807.2 1737.5,807.1 1738.0,806.9 1738.5,806.9 1739.0,806.9 1739.5,806.9 1740.0,807.2 1740.5,806.8 1741.0,807.7 1741.5,806.9 1742.0,807.1 1742.5,807.4 1743.0,807.4 1743.5,807.2 1744.0,807.5 1744.5,807.7 1745.0,806.9 1745.5,807.4 1746.0,807.4 1746.5,807.0 1747.0,807.1 1747.5,807.2 1748.0,807.1 1748.5,806.7 1749.0,807.2 1749.5,806.9 1750.0,806.6 1750.5,807.0 1751.0,807.5 1751.5,806.6 1752.0,807.0 1752.5,806.5 1753.0,806.6 1753.5,807.4 1754.0,807.1 1754.5,806.1 1755.0,806.9 1755.5,806.2 1756.0,806.7 1756.5,807.0 1757.0,806.7 1757.5,806.4 1758.0,807.2 1758.5,806.7 1759.0,807.2 1759.5,807.3 1760.0,807.1 1760.5,806.5 1761.0,807.1 1761.5,806.7 1762.0,807.2 1762.5,807.0 1763.0,807.1 1763.5,807.0 1764.0,807.3 1764.5,807.1 1765.0,807.3 1765.5,807.3 1766.0,806.9 1766.5,806.8 1767.0,807.0 1767.5,806.8 1768.0,807.3 1768.5,807.1 1769.0,806.6 1769.5,806.7 1770.0,807.8 1770.5,806.6 1771.0,807.0 1771.5,807.2 1772.0,807.5 1772.5,806.5 1773.0,806.9 1773.5,806.9 1774.0,807.8 1774.5,807.0 1775.0,807.6 1775.5,806.5 1776.0,806.4 1776.5,806.8 1777.0,806.6 1777.5,806.3 1778.0,806.5 1778.5,806.7 1779.0,807.3 1779.5,807.0 1780.0,806.8 1780.5,806.5 1781.0,806.9 1781.5,806.7 1782.0,806.5 1782.5,806.6 1783.0,807.1 1783.5,807.7 1784.0,806.8 1784.5,807.0 1785.0,807.4 1785.5,806.6 1786.0,807.4 1786.5,807.0 1787.0,807.6 1787.5,807.3 1788.0,806.8 1788.5,807.9 1789.0,806.8 1789.5,806.7 1790.0,807.7 1790.5,807.0 1791.0,807.8 1791.5,806.2 1792.0,807.4 1792.5,806.7 1793.0,807.5 1793.5,807.2 1794.0,806.8 1794.5,807.1 1795.0,806.5 1795.5,806.6 1796.0,807.8 1796.5,806.4 1797.0,807.3 1797.5,806.8 1798.0,806.1 1798.5,807.0 1799.0,806.4 1799.5,806.9 1800.0,807.5 1800.5,806.0 1801.0,807.3 1801.5,806.5 1802.0,806.9 1802.5,806.8 1803.0,807.1 1803.5,806.9 1804.0,807.2 1804.5,807.6 1805.0,806.4 1805.5,807.5 1806.0,807.0 1806.5,806.2 1807.0,806.9 1807.5,806.6 1808.0,806.2 1808.5,803.9 1809.0,805.3 1809.5,805.7 1810.0,805.2 1810.5,804.9 1811.0,803.8 1811.5,803.8 1812.0,803.3 1812.5,803.4 1813.0,803.9 1813.5,802.2 1814.0,802.6 1814.5,802.5 1815.0,802.2 1815.5,800.9 1816.0,802.3 1816.5,803.2 1817.0,803.4 1817.5,802.7 1818.0,803.8 1818.5,803.7 1819.0,802.8 1819.5,803.6 1820.0,804.6 1820.5,804.5 1821.0,804.5 1821.5,805.8 1822.0,804.9 1822.5,805.4 1823.0,805.7 1823.5,805.9 1824.0,804.9 1824.5,805.9 1825.0,806.3 1825.5,806.9 1826.0,806.1 1826.5,806.6 1827.0,807.2 1827.5,807.0 1828.0,806.6 1828.5,806.6 1829.0,808.1 1829.5,807.7 1830.0,806.5 1830.5,807.4 1831.0,805.9 1831.5,807.0 1832.0,807.8 1832.5,807.5 1833.0,805.9 1833.5,807.7 1834.0,807.9 1834.5,807.3 1835.0,807.5 1835.5,808.3 1836.0,807.0 1836.5,808.0 1837.0,807.6 1837.5,807.4 1838.0,807.5 1838.5,807.9 1839.0,808.2 1839.5,807.9 1840.0,807.8 1840.5,806.9 1841.0,806.6 1841.5,807.5 1842.0,807.3 1842.5,806.9 1843.0,807.1 1843.5,807.3 1844.0,807.2 1844.5,805.7 1845.0,807.4 1845.5,806.8 1846.0,806.4 1846.5,806.9 1847.0,805.1 1847.5,806.7 1848.0,807.5 1848.5,806.5 1849.0,806.8 1849.5,806.0 1850.0,807.2 1850.5,807.3 1851.0,807.2 1851.5,807.3 1852.0,807.2 1852.5,807.2 1853.0,807.7 1853.5,808.5 1854.0,807.3 1854.5,807.6 1855.0,807.5 1855.5,807.7 1856.0,808.1 1856.5,808.0 1857.0,807.6 1857.5,807.8 1858.0,807.6 1858.5,807.6 1859.0,807.5 1859.5,808.2 1860.0,807.7 1860.5,807.8 1861.0,808.7 1861.5,807.3 1862.0,808.1 1862.5,809.3 1863.0,808.1 1863.5,807.8 1864.0,807.6 1864.5,807.9 1865.0,807.0 1865.5,806.8 1866.0,806.2 1866.5,807.3 1867.0,807.5 1867.5,807.5 1868.0,806.7 1868.5,807.0 1869.0,807.1 1869.5,807.3 1870.0,807.5 1870.5,808.3 1871.0,808.5 1871.5,807.7 1872.0,808.8 1872.5,808.8 1873.0,808.6 1873.5,808.3 1874.0,807.6 1874.5,809.1 1875.0,808.7 1875.5,807.9 1876.0,808.3 1876.5,808.2 1877.0,808.4 1877.5,807.5 1878.0,807.9 1878.5,808.1 1879.0,807.6 1879.5,808.1 1880.0,808.1 1880.5,807.9 1881.0,808.4 1881.5,806.8 1882.0,807.9 1882.5,807.6 1883.0,809.0 1883.5,807.3 1884.0,807.5 1884.5,808.3 1885.0,808.2 1885.5,808.7 1886.0,808.3 1886.5,808.8 1887.0,808.0 1887.5,808.0 1888.0,808.4 1888.5,808.3 1889.0,807.7 1889.5,808.1 1890.0,808.8 1890.5,807.8 1891.0,809.5 1891.5,807.9 1892.0,809.2 1892.5,808.3 1893.0,809.1 1893.5,809.1 1894.0,808.6 1894.5,809.0 1895.0,808.8 1895.5,808.6 1896.0,808.5 1896.5,808.5 1897.0,808.4 1897.5,808.7 1898.0,808.5 1898.5,808.2 1899.0,807.2 1899.5,808.5 1900.0,808.5 1900.5,808.5 1901.0,808.5 1901.5,808.2 1902.0,808.3 1902.5,808.7 1903.0,809.0 1903.5,808.5 1904.0,808.7 1904.5,808.3 1905.0,808.5 1905.5,809.1 1906.0,808.6 1906.5,808.6 1907.0,808.7 1907.5,808.3 1908.0,808.3 1908.5,808.9 1909.0,808.5 1909.5,808.9 1910.0,808.4 1910.5,808.5 1911.0,808.4 1911.5,808.8 1912.0,808.3 1912.5,808.2 1913.0,808.8 1913.5,808.4 1914.0,809.3 1914.5,808.4 1915.0,807.4 1915.5,808.1 1916.0,809.6 1916.5,808.3 1917.0,809.9 1917.5,808.0 1918.0,809.1 1918.5,808.8 1919.0,808.4 1919.5,808.7 1920.0,809.3 1920.5,808.3 1921.0,808.5 1921.5,808.5 1922.0,807.6 1922.5,807.7 1923.0,808.2 1923.5,807.7 1924.0,808.1 1924.5,808.2 1925.0,809.4 1925.5,808.1 1926.0,808.2 1926.5,808.5 1927.0,808.5 1927.5,808.5 1928.0,808.2 1928.5,809.4 1929.0,808.7 1929.5,808.8 1930.0,808.9 1930.5,808.7 1931.0,809.4 1931.5,808.4" fill="none" stroke="#FFA2C2" stroke-width="2.8" stroke-linejoin="round"/>
<line x1="154" y1="19.9" x2="154" y2="852" stroke="#000" stroke-width="1.9" stroke-dasharray="8.8 6.47"/>
<line x1="296" y1="19.9" x2="296" y2="852" stroke="#000" stroke-width="1.9" stroke-dasharray="8.8 6.47"/>
<line x1="505.5" y1="19.8" x2="505.5" y2="852" stroke="#000" stroke-width="2.8" stroke-dasharray="9.6 5.67"/>
<line x1="566.5" y1="20.8" x2="566.5" y2="852" stroke="#000" stroke-width="2.8" stroke-dasharray="9.6 5.67"/>
<line x1="790.9" y1="19.9" x2="790.9" y2="852" stroke="#000" stroke-width="1.9" stroke-dasharray="8.8 6.47"/>
<line x1="909.4" y1="19.8" x2="909.4" y2="852" stroke="#000" stroke-width="2.8" stroke-dasharray="9.6 5.67"/>
<rect x="25.5" y="20.5" width="1919" height="834" fill="none" stroke="#000" stroke-width="5"/>
<line x1="138.4" y1="852" x2="138.4" y2="832" stroke="#000" stroke-width="5"/>
<line x1="251.3" y1="852" x2="251.3" y2="842" stroke="#000" stroke-width="5"/>
<line x1="364.1" y1="852" x2="364.1" y2="832" stroke="#000" stroke-width="5"/>
<line x1="477.0" y1="852" x2="477.0" y2="842" stroke="#000" stroke-width="5"/>
<line x1="589.9" y1="852" x2="589.9" y2="832" stroke="#000" stroke-width="5"/>
<line x1="702.8" y1="852" x2="702.8" y2="842" stroke="#000" stroke-width="5"/>
<line x1="815.7" y1="852" x2="815.7" y2="832" stroke="#000" stroke-width="5"/>
<line x1="928.5" y1="852" x2="928.5" y2="842" stroke="#000" stroke-width="5"/>
<line x1="1041.4" y1="852" x2="1041.4" y2="832" stroke="#000" stroke-width="5"/>
<line x1="1154.3" y1="852" x2="1154.3" y2="842" stroke="#000" stroke-width="5"/>
<line x1="1267.2" y1="852" x2="1267.2" y2="832" stroke="#000" stroke-width="5"/>
<line x1="1380.1" y1="852" x2="1380.1" y2="842" stroke="#000" stroke-width="5"/>
<line x1="1492.9" y1="852" x2="1492.9" y2="832" stroke="#000" stroke-width="5"/>
<line x1="1605.8" y1="852" x2="1605.8" y2="842" stroke="#000" stroke-width="5"/>
<line x1="1718.7" y1="852" x2="1718.7" y2="832" stroke="#000" stroke-width="5"/>
<line x1="1831.6" y1="852" x2="1831.6" y2="842" stroke="#000" stroke-width="5"/>
<text x="143.4" y="921" font-family="'Liberation Serif','Times New Roman',serif" font-size="48.5" text-anchor="middle">10</text>
<text x="369.1" y="921" font-family="'Liberation Serif','Times New Roman',serif" font-size="48.5" text-anchor="middle">20</text>
<text x="594.9" y="921" font-family="'Liberation Serif','Times New Roman',serif" font-size="48.5" text-anchor="middle">30</text>
<text x="820.7" y="921" font-family="'Liberation Serif','Times New Roman',serif" font-size="48.5" text-anchor="middle">40</text>
<text x="1046.4" y="921" font-family="'Liberation Serif','Times New Roman',serif" font-size="48.5" text-anchor="middle">50</text>
<text x="1272.2" y="921" font-family="'Liberation Serif','Times New Roman',serif" font-size="48.5" text-anchor="middle">60</text>
<text x="1497.9" y="921" font-family="'Liberation Serif','Times New Roman',serif" font-size="48.5" text-anchor="middle">70</text>
<text x="1723.7" y="921" font-family="'Liberation Serif','Times New Roman',serif" font-size="48.5" text-anchor="middle">80</text>
<text x="1949.5" y="921" font-family="'Liberation Serif','Times New Roman',serif" font-size="48.5" text-anchor="middle">90</text>
<text x="1078" y="971" font-family="'Liberation Serif','Times New Roman',serif" font-size="54">2θ (°)</text>
<circle cx="136.9" cy="276" r="11.1" fill="#000"/>
<circle cx="423.9" cy="379.2" r="11.1" fill="#000"/>
<circle cx="600.3" cy="357.7" r="11.1" fill="#000"/>
<circle cx="719.5" cy="398.1" r="9.6" fill="#fff" stroke="#000" stroke-width="1.8"/>
<rect x="301" y="235" width="24" height="23" fill="#000"/>
<rect x="648" y="231" width="24" height="23" fill="#000"/>
<rect x="945" y="352" width="24" height="23" fill="#000"/>
<rect x="1018" y="359" width="24" height="23" fill="#000"/>
<rect x="1301" y="404" width="24" height="23" fill="#000"/>
<rect x="1357" y="404" width="24" height="23" fill="#000"/>
<polygon points="273.40,346.10 277.40,356.00 288.85,356.40 280.45,363.40 283.00,374.60 273.40,368.80 263.80,374.60 266.35,363.40 257.95,356.40 269.40,356.00" fill="#000"/>
<polygon points="492.40,382.10 496.40,392.00 507.85,392.40 499.45,399.40 502.00,410.60 492.40,404.80 482.80,410.60 485.35,399.40 476.95,392.40 488.40,392.00" fill="#000"/>
<polygon points="784.90,359.90 788.90,369.80 800.35,370.20 791.95,377.20 794.50,388.40 784.90,382.60 775.30,388.40 777.85,377.20 769.45,370.20 780.90,369.80" fill="#000"/>
<polygon points="900.50,371.90 904.50,381.80 915.95,382.20 907.55,389.20 910.10,400.40 900.50,394.60 890.90,400.40 893.45,389.20 885.05,382.20 896.50,381.80" fill="#000"/>
<rect x="1193.1" y="64.9" width="22" height="21" fill="#000"/>
<text x="1244" y="86.1" font-family="'Liberation Serif','Times New Roman',serif" font-size="48">Ca(OH)<tspan dy="13">2</tspan></text>
<circle cx="1204.4" cy="146.2" r="10.7" fill="#000"/>
<text x="1243" y="161" font-family="'Liberation Serif','Times New Roman',serif" font-size="48">Ca<tspan dy="11">4</tspan><tspan dy="-11">Al</tspan><tspan dy="11">2</tspan><tspan dy="-11">O</tspan><tspan dy="11">6</tspan><tspan dy="-11">Cl</tspan><tspan dy="11">2</tspan><tspan dy="-11">·10H</tspan><tspan dy="11">2</tspan><tspan dy="-11">O</tspan></text>
<circle cx="1204.2" cy="220.2" r="10" fill="#fff" stroke="#000" stroke-width="1.6"/>
<text x="1243" y="234.5" font-family="'Liberation Serif','Times New Roman',serif" font-size="48">Ca<tspan dy="11">2</tspan><tspan dy="-11">Al(OH)</tspan><tspan dy="11">7</tspan><tspan dy="-11">·3H</tspan><tspan dy="11">2</tspan><tspan dy="-11">O</tspan></text>
<polygon points="1206.40,279.80 1210.00,291.20 1220.00,291.20 1212.60,297.10 1215.90,307.90 1206.60,301.80 1197.00,308.00 1200.80,297.10 1192.80,291.20 1202.80,291.20" fill="#000"/>
<text x="1234" y="308.4" font-family="'Liberation Serif','Times New Roman',serif" font-size="48">Ca<tspan dy="11">3</tspan><tspan dy="-11">Al</tspan><tspan dy="11">2</tspan><tspan dy="-11">(OH)</tspan><tspan dy="11">12</tspan></text>
<text x="1498.3" y="442.3" font-family="'Liberation Serif','Times New Roman',serif" font-size="38.3">Ca:Al:Cl=3:4:1</text>
<text x="1499.1" y="522.2" font-family="'Liberation Serif','Times New Roman',serif" font-size="38.3">Ca:Al:Cl=3:3:1</text>
<text x="1495" y="602" font-family="'Liberation Serif','Times New Roman',serif" font-size="38.3">Ca:Al:Cl=3:2:1</text>
<text x="1495.4" y="700.7" font-family="'Liberation Serif','Times New Roman',serif" font-size="38.3">Ca:Al:Cl=4:2:1</text>
<text x="1500.3" y="793.9" font-family="'Liberation Serif','Times New Roman',serif" font-size="38.3">Ca:Al:Cl=2:2:1</text>
<line x1="134.8" y1="1173.8" x2="134.8" y2="1167.8" stroke="#000" stroke-width="3.4"/>
<line x1="299.1" y1="1173.8" x2="299.1" y2="1020.8" stroke="#000" stroke-width="2.4"/>
<line x1="360.4" y1="1173.8" x2="360.4" y2="1106" stroke="#000" stroke-width="3.4"/>
<line x1="508.3" y1="1173.8" x2="508.3" y2="1080.4" stroke="#000" stroke-width="2.4"/>
<line x1="549.4" y1="1173.8" x2="549.4" y2="1097.8" stroke="#000" stroke-width="2.4"/>
<line x1="586.5" y1="1173.8" x2="586.5" y2="1168.2" stroke="#000" stroke-width="3.4"/>
<line x1="627.4" y1="1173.8" x2="627.4" y2="1038.1" stroke="#000" stroke-width="2.4"/>
<line x1="663.9" y1="1173.8" x2="663.9" y2="1163.2" stroke="#000" stroke-width="2.4"/>
<line x1="698.5" y1="1173.8" x2="698.5" y2="1148.2" stroke="#000" stroke-width="3.4"/>
<line x1="732.1" y1="1173.8" x2="732.1" y2="1123.2" stroke="#000" stroke-width="2.4"/>
<line x1="795.0" y1="1173.8" x2="795.0" y2="1004.2" stroke="#000" stroke-width="2.4"/>
<line x1="812.9" y1="1173.8" x2="812.9" y2="1163.9" stroke="#000" stroke-width="3.4"/>
<line x1="825.5" y1="1173.8" x2="825.5" y2="1167.5" stroke="#000" stroke-width="2.4"/>
<line x1="911.4" y1="1173.8" x2="911.4" y2="1013.1" stroke="#000" stroke-width="2.4"/>
<line x1="938.5" y1="1173.8" x2="938.5" y2="1160.3" stroke="#000" stroke-width="2.4"/>
<line x1="1017.9" y1="1173.8" x2="1017.9" y2="1171.4" stroke="#000" stroke-width="2.4"/>
<line x1="1037.7" y1="1173.8" x2="1037.7" y2="1168.2" stroke="#000" stroke-width="3.4"/>
<line x1="1043.6" y1="1173.8" x2="1043.6" y2="1157.1" stroke="#000" stroke-width="2.4"/>
<line x1="1068.5" y1="1173.8" x2="1068.5" y2="1170.7" stroke="#000" stroke-width="2.4"/>
<line x1="1092.9" y1="1173.8" x2="1092.9" y2="1106.1" stroke="#000" stroke-width="2.4"/>
<line x1="1116.9" y1="1173.8" x2="1116.9" y2="1140.2" stroke="#000" stroke-width="2.4"/>
<line x1="1142.0" y1="1173.8" x2="1142.0" y2="1089.4" stroke="#000" stroke-width="2.4"/>
<line x1="1211.5" y1="1173.8" x2="1211.5" y2="1155.2" stroke="#000" stroke-width="2.4"/>
<line x1="1234.9" y1="1173.8" x2="1234.9" y2="1152.3" stroke="#000" stroke-width="2.4"/>
<line x1="1257" y1="1173.8" x2="1257" y2="1171.4" stroke="#000" stroke-width="2.4"/>
<line x1="1263.5" y1="1173.8" x2="1263.5" y2="1163.9" stroke="#000" stroke-width="3.4"/>
<line x1="1279.5" y1="1173.8" x2="1279.5" y2="1171.4" stroke="#000" stroke-width="2.4"/>
<line x1="1301.5" y1="1173.8" x2="1301.5" y2="1170.7" stroke="#000" stroke-width="2.4"/>
<line x1="1324" y1="1173.8" x2="1324" y2="1169.2" stroke="#000" stroke-width="2.4"/>
<line x1="1345.5" y1="1173.8" x2="1345.5" y2="1171.4" stroke="#000" stroke-width="2.4"/>
<line x1="1388.1" y1="1173.8" x2="1388.1" y2="1171.4" stroke="#000" stroke-width="2.4"/>
<line x1="1409.6" y1="1173.8" x2="1409.6" y2="1153.6" stroke="#000" stroke-width="2.4"/>
<line x1="1451.8" y1="1173.8" x2="1451.8" y2="1165.1" stroke="#000" stroke-width="2.4"/>
<line x1="1472.6" y1="1173.8" x2="1472.6" y2="1165.1" stroke="#000" stroke-width="2.4"/>
<line x1="1489.3" y1="1173.8" x2="1489.3" y2="1168.7" stroke="#000" stroke-width="3.4"/>
<line x1="1493.4" y1="1173.8" x2="1493.4" y2="1160.4" stroke="#000" stroke-width="2.4"/>
<line x1="1513.4" y1="1173.8" x2="1513.4" y2="1170" stroke="#000" stroke-width="2.4"/>
<line x1="1555" y1="1173.8" x2="1555" y2="1165.1" stroke="#000" stroke-width="2.4"/>
<line x1="1574.1" y1="1173.8" x2="1574.1" y2="1170" stroke="#000" stroke-width="2.4"/>
<line x1="1595.5" y1="1173.8" x2="1595.5" y2="1167.6" stroke="#000" stroke-width="2.4"/>
<line x1="1635.4" y1="1173.8" x2="1635.4" y2="1170.5" stroke="#000" stroke-width="2.4"/>
<line x1="1655" y1="1173.8" x2="1655" y2="1171.4" stroke="#000" stroke-width="2.4"/>
<line x1="1674.5" y1="1173.8" x2="1674.5" y2="1171.4" stroke="#000" stroke-width="2.4"/>
<line x1="1715.2" y1="1173.8" x2="1715.2" y2="1160.4" stroke="#000" stroke-width="3.4"/>
<line x1="1754.3" y1="1173.8" x2="1754.3" y2="1171" stroke="#000" stroke-width="2.4"/>
<line x1="1774" y1="1173.8" x2="1774" y2="1160.4" stroke="#000" stroke-width="2.4"/>
<line x1="1793.1" y1="1173.8" x2="1793.1" y2="1167.3" stroke="#000" stroke-width="2.4"/>
<line x1="1812.3" y1="1173.8" x2="1812.3" y2="1157.1" stroke="#000" stroke-width="2.4"/>
<line x1="1832.5" y1="1173.8" x2="1832.5" y2="1171" stroke="#000" stroke-width="2.4"/>
<line x1="1870.5" y1="1173.8" x2="1870.5" y2="1160.4" stroke="#000" stroke-width="2.4"/>
<line x1="1891" y1="1173.8" x2="1891" y2="1167.3" stroke="#000" stroke-width="2.4"/>
<rect x="22.4" y="988" width="1918.6" height="185.8" fill="none" stroke="#000" stroke-width="3.5"/>
<line x1="134.8" y1="1389.6" x2="134.8" y2="1379.5" stroke="#000" stroke-width="3.4"/>
<line x1="161.5" y1="1389.6" x2="161.5" y2="1287" stroke="#000" stroke-width="2.4"/>
<line x1="247.5" y1="1389.6" x2="247.5" y2="1384" stroke="#000" stroke-width="3.4"/>
<line x1="360.4" y1="1389.6" x2="360.4" y2="1379.5" stroke="#000" stroke-width="3.4"/>
<line x1="405.2" y1="1389.6" x2="405.2" y2="1304.1" stroke="#000" stroke-width="2.4"/>
<line x1="428.4" y1="1389.6" x2="428.4" y2="1304.1" stroke="#000" stroke-width="2.4"/>
<line x1="473.3" y1="1389.6" x2="473.3" y2="1384" stroke="#000" stroke-width="3.4"/>
<line x1="572.2" y1="1389.6" x2="572.2" y2="1321.3" stroke="#000" stroke-width="2.4"/>
<line x1="586.5" y1="1389.6" x2="586.5" y2="1379.4" stroke="#000" stroke-width="3.4"/>
<line x1="609.4" y1="1389.6" x2="609.4" y2="1219.2" stroke="#000" stroke-width="2.4"/>
<line x1="654.9" y1="1389.6" x2="654.9" y2="1304.4" stroke="#000" stroke-width="2.4"/>
<line x1="699.7" y1="1389.6" x2="699.7" y2="1384.5" stroke="#000" stroke-width="3.4"/>
<line x1="737" y1="1389.6" x2="737" y2="1286.9" stroke="#000" stroke-width="2.4"/>
<line x1="777.4" y1="1389.6" x2="777.4" y2="1304.6" stroke="#000" stroke-width="2.4"/>
<line x1="800.8" y1="1389.6" x2="800.8" y2="1338.2" stroke="#000" stroke-width="2.4"/>
<line x1="813.4" y1="1389.6" x2="813.4" y2="1338.2" stroke="#000" stroke-width="3.4"/>
<line x1="826.5" y1="1389.6" x2="826.5" y2="1338.2" stroke="#000" stroke-width="2.4"/>
<line x1="848" y1="1389.6" x2="848" y2="1338.2" stroke="#000" stroke-width="2.4"/>
<line x1="916" y1="1389.6" x2="916" y2="1321.3" stroke="#000" stroke-width="2.4"/>
<line x1="925.7" y1="1389.6" x2="925.7" y2="1384.5" stroke="#000" stroke-width="3.4"/>
<line x1="943.4" y1="1389.6" x2="943.4" y2="1339" stroke="#000" stroke-width="2.4"/>
<line x1="1037.7" y1="1389.6" x2="1037.7" y2="1379.4" stroke="#000" stroke-width="3.4"/>
<line x1="1151" y1="1389.6" x2="1151" y2="1384.5" stroke="#000" stroke-width="3.4"/>
<line x1="1173.7" y1="1389.6" x2="1173.7" y2="1321.1" stroke="#000" stroke-width="2.4"/>
<line x1="1182.9" y1="1389.6" x2="1182.9" y2="1338.2" stroke="#000" stroke-width="2.4"/>
<line x1="1263.5" y1="1389.6" x2="1263.5" y2="1379.4" stroke="#000" stroke-width="3.4"/>
<line x1="1376.5" y1="1389.6" x2="1376.5" y2="1384.5" stroke="#000" stroke-width="3.4"/>
<line x1="1392.5" y1="1389.6" x2="1392.5" y2="1339" stroke="#000" stroke-width="2.4"/>
<line x1="1404.3" y1="1389.6" x2="1404.3" y2="1339" stroke="#000" stroke-width="2.4"/>
<line x1="1489.3" y1="1389.6" x2="1489.3" y2="1378.5" stroke="#000" stroke-width="3.4"/>
<line x1="1602.4" y1="1389.6" x2="1602.4" y2="1384" stroke="#000" stroke-width="3.4"/>
<line x1="1715.2" y1="1389.6" x2="1715.2" y2="1378.5" stroke="#000" stroke-width="3.4"/>
<line x1="1828.3" y1="1389.6" x2="1828.3" y2="1384" stroke="#000" stroke-width="3.4"/>
<rect x="22.4" y="1203.6" width="1918.6" height="186.0" fill="none" stroke="#000" stroke-width="3.5"/>
<line x1="134.8" y1="1604.6" x2="134.8" y2="1593.5" stroke="#000" stroke-width="3.4"/>
<line x1="163.3" y1="1604.6" x2="163.3" y2="1433.9" stroke="#000" stroke-width="2.4"/>
<line x1="247.5" y1="1604.6" x2="247.5" y2="1598" stroke="#000" stroke-width="3.4"/>
<line x1="360.4" y1="1604.6" x2="360.4" y2="1593.5" stroke="#000" stroke-width="3.4"/>
<line x1="473.3" y1="1604.6" x2="473.3" y2="1598" stroke="#000" stroke-width="3.4"/>
<line x1="586.5" y1="1604.6" x2="586.5" y2="1593.9" stroke="#000" stroke-width="3.4"/>
<line x1="612.6" y1="1604.6" x2="612.6" y2="1434.2" stroke="#000" stroke-width="2.4"/>
<line x1="658.6" y1="1604.6" x2="658.6" y2="1519.6" stroke="#000" stroke-width="2.4"/>
<line x1="699.7" y1="1604.6" x2="699.7" y2="1598.5" stroke="#000" stroke-width="3.4"/>
<line x1="726.3" y1="1604.6" x2="726.3" y2="1519.6" stroke="#000" stroke-width="2.4"/>
<line x1="744" y1="1604.6" x2="744" y2="1519.6" stroke="#000" stroke-width="2.4"/>
<line x1="789" y1="1604.6" x2="789" y2="1519.6" stroke="#000" stroke-width="2.4"/>
<line x1="812.9" y1="1604.6" x2="812.9" y2="1593.9" stroke="#000" stroke-width="3.4"/>
<line x1="830.3" y1="1604.6" x2="830.3" y2="1587.1" stroke="#000" stroke-width="2.4"/>
<line x1="916" y1="1604.6" x2="916" y2="1587.1" stroke="#000" stroke-width="2.4"/>
<line x1="925.7" y1="1604.6" x2="925.7" y2="1598.5" stroke="#000" stroke-width="3.4"/>
<line x1="943.4" y1="1604.6" x2="943.4" y2="1570.2" stroke="#000" stroke-width="2.4"/>
<line x1="1037.7" y1="1604.6" x2="1037.7" y2="1593.9" stroke="#000" stroke-width="3.4"/>
<line x1="1151" y1="1604.6" x2="1151" y2="1598.5" stroke="#000" stroke-width="3.4"/>
<line x1="1166" y1="1604.6" x2="1166" y2="1570.2" stroke="#000" stroke-width="2.4"/>
<line x1="1263.5" y1="1604.6" x2="1263.5" y2="1593.9" stroke="#000" stroke-width="3.4"/>
<line x1="1369.5" y1="1604.6" x2="1369.5" y2="1587.1" stroke="#000" stroke-width="2.4"/>
<line x1="1376.5" y1="1604.6" x2="1376.5" y2="1598.5" stroke="#000" stroke-width="3.4"/>
<line x1="1489.3" y1="1604.6" x2="1489.3" y2="1593.5" stroke="#000" stroke-width="3.4"/>
<line x1="1602.4" y1="1604.6" x2="1602.4" y2="1598" stroke="#000" stroke-width="3.4"/>
<line x1="1715.2" y1="1604.6" x2="1715.2" y2="1593.5" stroke="#000" stroke-width="3.4"/>
<line x1="1828.3" y1="1604.6" x2="1828.3" y2="1598" stroke="#000" stroke-width="3.4"/>
<rect x="22.4" y="1418.8" width="1918.6" height="185.8" fill="none" stroke="#000" stroke-width="3.5"/>
<line x1="136" y1="1822" x2="136" y2="1817" stroke="#000" stroke-width="3.4"/>
<line x1="361.5" y1="1822" x2="361.5" y2="1817" stroke="#000" stroke-width="3.4"/>
<line x1="317.3" y1="1822" x2="317.3" y2="1696.3" stroke="#000" stroke-width="2.4"/>
<line x1="556.5" y1="1822" x2="556.5" y2="1782.8" stroke="#000" stroke-width="2.4"/>
<line x1="678.9" y1="1822" x2="678.9" y2="1652.1" stroke="#000" stroke-width="2.4"/>
<line x1="737.2" y1="1822" x2="737.2" y2="1817.4" stroke="#000" stroke-width="2.4"/>
<line x1="973.1" y1="1822" x2="973.1" y2="1750.1" stroke="#000" stroke-width="2.4"/>
<line x1="1056.6" y1="1822" x2="1056.6" y2="1760.5" stroke="#000" stroke-width="2.4"/>
<line x1="1136.5" y1="1822" x2="1136.5" y2="1786.6" stroke="#000" stroke-width="2.4"/>
<line x1="1179" y1="1822" x2="1179" y2="1819.5" stroke="#000" stroke-width="2.4"/>
<line x1="1321.3" y1="1822" x2="1321.3" y2="1800" stroke="#000" stroke-width="2.4"/>
<line x1="1359.1" y1="1822" x2="1359.1" y2="1800" stroke="#000" stroke-width="2.4"/>
<line x1="1528.9" y1="1822" x2="1528.9" y2="1809" stroke="#000" stroke-width="2.4"/>
<line x1="1663.5" y1="1822" x2="1663.5" y2="1819.5" stroke="#000" stroke-width="2.4"/>
<line x1="1692.9" y1="1822" x2="1692.9" y2="1819.5" stroke="#000" stroke-width="2.4"/>
<line x1="1756.2" y1="1822" x2="1756.2" y2="1817" stroke="#000" stroke-width="2.4"/>
<line x1="1821.8" y1="1822" x2="1821.8" y2="1803.1" stroke="#000" stroke-width="2.4"/>
<line x1="1854.8" y1="1822" x2="1854.8" y2="1819.5" stroke="#000" stroke-width="2.4"/>
<rect x="22.4" y="1636.4" width="1918.6" height="185.6" fill="none" stroke="#000" stroke-width="3.5"/>
<text x="1651.7" y="1031.7" font-family="'Liberation Serif','Times New Roman',serif" font-size="32">Ca<tspan dy="10" font-size="18">3</tspan><tspan dy="-10">Al</tspan><tspan dy="10" font-size="18">2</tspan><tspan dy="-10">(OH)</tspan><tspan dy="10" font-size="18">12</tspan></text>
<text x="1651.7" y="1080.5" font-family="'Liberation Serif','Times New Roman',serif" font-size="32">JCPDS No. 24-0217</text>
<text x="1643.4" y="1244.9" font-family="'Liberation Serif','Times New Roman',serif" font-size="32">Ca<tspan dy="10" font-size="18">4</tspan><tspan dy="-10">Al</tspan><tspan dy="10" font-size="18">2</tspan><tspan dy="-10">O</tspan><tspan dy="10" font-size="18">6</tspan><tspan dy="-10">Cl</tspan><tspan dy="10" font-size="18">2</tspan><tspan dy="-10">·10H</tspan><tspan dy="10" font-size="18">2</tspan><tspan dy="-10">O</tspan></text>
<text x="1643.4" y="1293.4" font-family="'Liberation Serif','Times New Roman',serif" font-size="32">JCPDS No. 51-0045</text>
<text x="1645.4" y="1470.4" font-family="'Liberation Serif','Times New Roman',serif" font-size="32">Ca<tspan dy="10" font-size="18">2</tspan><tspan dy="-10">Al(OH)</tspan><tspan dy="10" font-size="18">7</tspan><tspan dy="-10">·3H</tspan><tspan dy="10" font-size="18">2</tspan><tspan dy="-10">O</tspan></text>
<text x="1645.4" y="1519.5" font-family="'Liberation Serif','Times New Roman',serif" font-size="32">JCPDS No. 33-0255</text>
<text x="1661.4" y="1673.6" font-family="'Liberation Serif','Times New Roman',serif" font-size="32">Ca(OH)<tspan dy="10" font-size="18">2</tspan></text>
<text x="1662" y="1722.7" font-family="'Liberation Serif','Times New Roman',serif" font-size="32">JCPDS No. 04-0733</text>
<text x="136.5" y="1823.5" font-family="'Liberation Sans',Arial,sans-serif" font-size="32.5" text-anchor="middle">10</text>
<text x="361.4" y="1823.5" font-family="'Liberation Sans',Arial,sans-serif" font-size="32.5" text-anchor="middle">20</text>
<text x="586.8" y="1823.5" font-family="'Liberation Sans',Arial,sans-serif" font-size="32.5" text-anchor="middle">30</text>
<text x="812.9" y="1823.5" font-family="'Liberation Sans',Arial,sans-serif" font-size="32.5" text-anchor="middle">40</text>
<text x="1037" y="1823.5" font-family="'Liberation Sans',Arial,sans-serif" font-size="32.5" text-anchor="middle">50</text>
<text x="1263.8" y="1823.5" font-family="'Liberation Sans',Arial,sans-serif" font-size="32.5" text-anchor="middle">60</text>
<text x="1490.5" y="1823.5" font-family="'Liberation Sans',Arial,sans-serif" font-size="32.5" text-anchor="middle">70</text>
<text x="1715.7" y="1823.5" font-family="'Liberation Sans',Arial,sans-serif" font-size="32.5" text-anchor="middle">80</text>
<text x="1942" y="1823.5" font-family="'Liberation Sans',Arial,sans-serif" font-size="32.5" text-anchor="middle">90</text>
</svg>
</body></html>
